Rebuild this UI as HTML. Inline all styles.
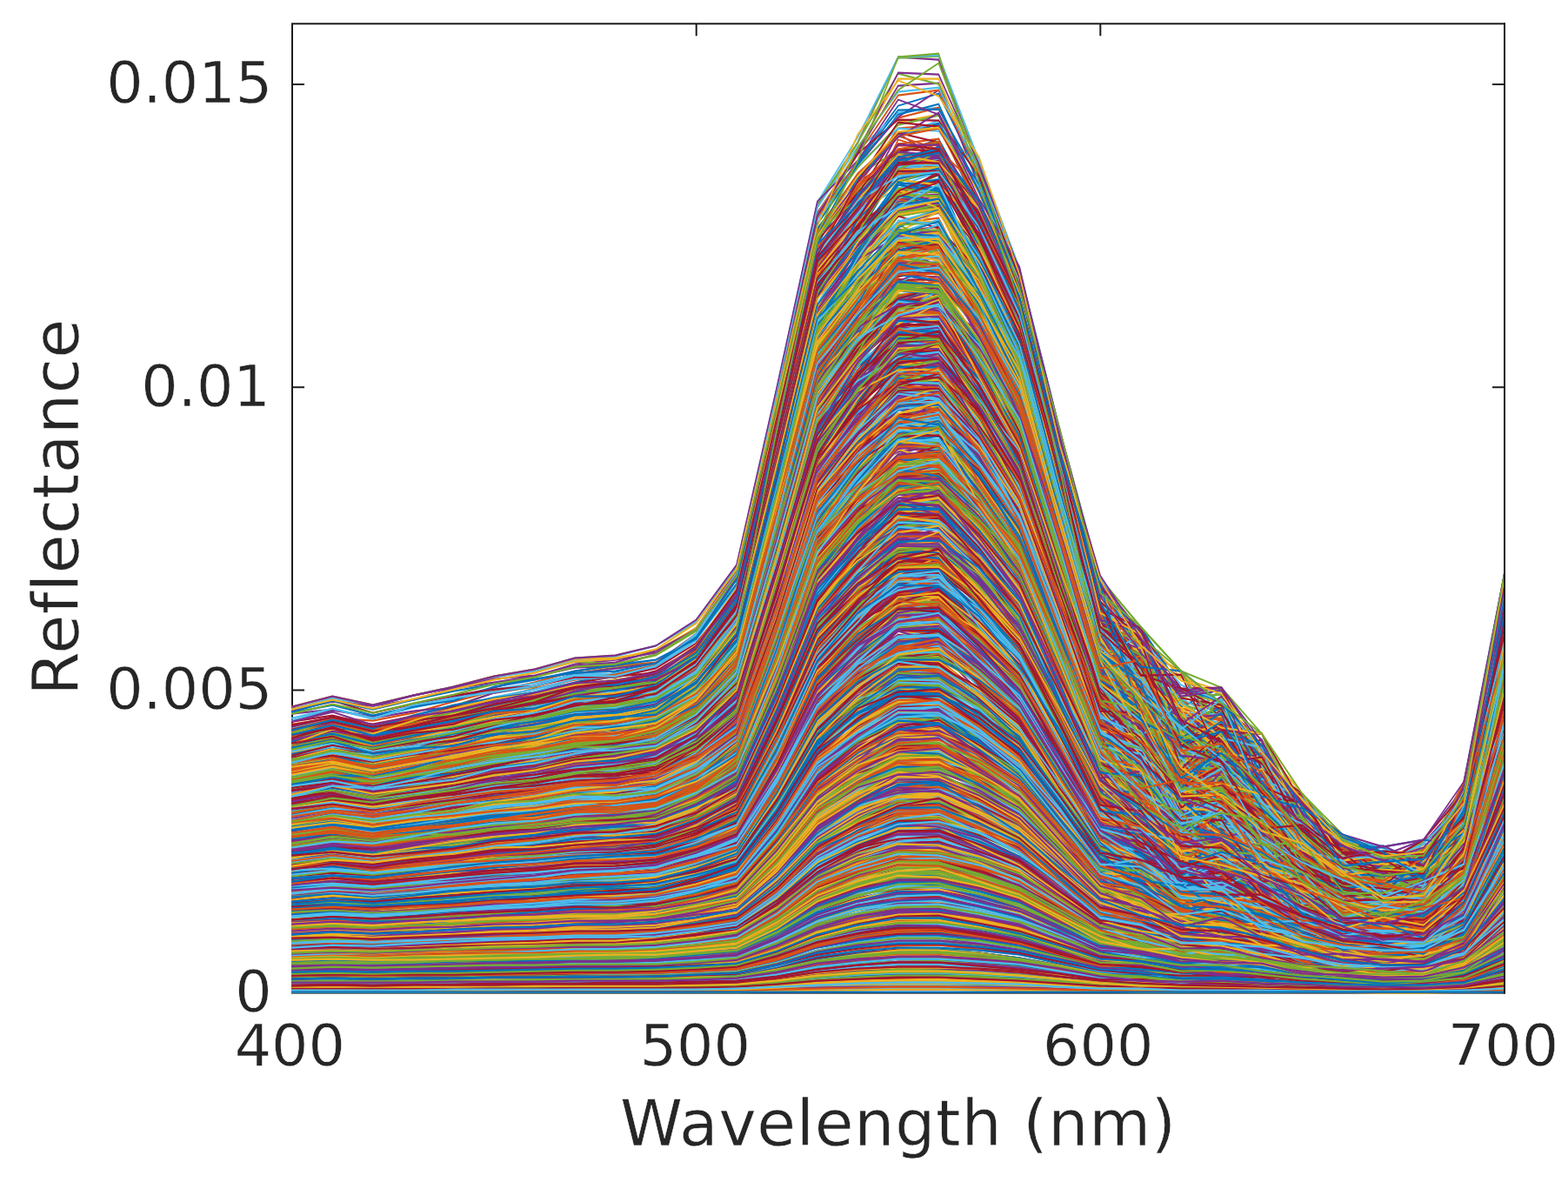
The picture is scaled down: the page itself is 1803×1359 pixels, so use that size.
<!DOCTYPE html>
<html lang="en"><head><meta charset="utf-8"><title>Reflectance spectra</title>
<style>html,body{margin:0;padding:0;background:#fff;overflow:hidden}svg{display:block}text{font-family:"DejaVu Sans","Liberation Sans",sans-serif;fill:#262626;stroke:#fff;stroke-width:.5px}.t{font-size:66.7px}.l{font-size:72.8px;letter-spacing:0.74px}#d path{fill:none;stroke-width:2.1;stroke-linejoin:miter;stroke-miterlimit:3;stroke-linecap:square}#d path:nth-child(7n+1){stroke:#0072BD}#d path:nth-child(7n+2){stroke:#D95319}#d path:nth-child(7n+3){stroke:#EDB120}#d path:nth-child(7n+4){stroke:#7E2F8E}#d path:nth-child(7n+5){stroke:#77AC30}#d path:nth-child(7n+6){stroke:#4DBEEE}#d path:nth-child(7n+7){stroke:#A2142F}#d path.p{stroke:#7E2F8E}#d path.g{stroke:#77AC30}#d path.o{stroke:#EDB120}#d path.b{stroke:#0072BD}</style></head><body>
<svg width="1803" height="1359" viewBox="0 0 1803 1359">
<rect width="1803" height="1359" fill="#fff"/>
<g fill="none" stroke="#1c1c1c" stroke-width="2">
<rect x="336.0" y="27.3" width="1394.0" height="1114.3"/>
<path d="M800.7 27.3v14M800.7 1141.6v-14M1265.3 27.3v14M1265.3 1141.6v-14M336.0 793.4h14M1730.0 793.4h-14M336.0 445.2h14M1730.0 445.2h-14M336.0 96.9h14M1730.0 96.9h-14"/>
</g>
<defs><filter id="bl" x="-2%" y="-2%" width="104%" height="104%"><feGaussianBlur stdDeviation="0.45"/></filter></defs>
<g filter="url(#bl)"><g id="d" transform="translate(335.8,1141.6) scale(0.749462,-1)">
<path d="M0 268l62 9 62-8 62 9 62 9 62 7 62 6 62 8 62 4 62 5 62 28 62 57 62 179 62 184 62 55 62 54 62-5 62-74 62-84 62-146 62-178 62-85 62-19 62-3 62-102 62-16 62-22 62-3 62-5 62 51 62 206"/>
<path d="M0 223l62 10 62-6 62 8 62 8 62 9 62 8 62 7 62 5 62 10 62 20 62 45 62 146 62 165 62 66 62 68 62 5 62-80 62-85 62-146 62-160 62-55 62 7 62-36 62-54 62-41 62-2 62-21 62 7 62 32 62 190"/>
<path d="M0 153l62 6 62-3 62 7 62 6 62 8 62 5 62 8 62 4 62 3 62 17 62 26 62 105 62 121 62 46 62 45 62 9 62-57 62-53 62-105 62-94 62-52 62-34 62-24 62-17 62-27 62-6 62-23 62 14 62 33 62 121"/>
<path d="M0 174l62 5 62-5 62 5 62 3 62 9 62 3 62 7 62 4 62 5 62 17 62 25 62 104 62 119 62 78 62 50 62 5 62-52 62-77 62-102 62-117 62-18 62-47 62 5 62-13 62-42 62-53 62 5 62 3 62 20 62 144"/>
<path d="M0 8l62 1 62-1 62 1 62 0 62 0 62 0 62 1 62 0 62 0 62 1 62 1 62 5 62 7 62 5 62 2 62 0 62-2 62-4 62-5 62-5 62-5 62 0 62-1 62 0 62-1 62-3 62 0 62-1 62 3 62 7"/>
<path d="M0 167l62 7 62-5 62 8 62 6 62 5 62 5 62 6 62 3 62 6 62 21 62 32 62 108 62 126 62 61 62 40 62 3 62-53 62-76 62-108 62-105 62-49 62-3 62-32 62-2 62-64 62 7 62-32 62 18 62 33 62 137"/>
<path d="M0 222l62 8 62-6 62 9 62 6 62 11 62 3 62 11 62 3 62 6 62 27 62 44 62 147 62 155 62 67 62 38 62 9 62-56 62-89 62-138 62-139 62-48 62-90 62 38 62-62 62-20 62-31 62-2 62-5 62 52 62 160"/>
<path d="M0 101l62 3 62-2 62 3 62 3 62 4 62 3 62 4 62 3 62 2 62 11 62 14 62 60 62 79 62 42 62 28 62 6 62-40 62-45 62-62 62-58 62-20 62-31 62 21 62-54 62-3 62-15 62 0 62-1 62 31 62 77"/>
<path d="M0 221l62 8 62-8 62 9 62 4 62 11 62 5 62 7 62 3 62 5 62 24 62 37 62 142 62 159 62 72 62 43 62 11 62-62 62-75 62-137 62-152 62-72 62-56 62-9 62-23 62-26 62-44 62 18 62 9 62 35 62 159"/>
<path d="M0 163l62 6 62-4 62 5 62 5 62 8 62 4 62 7 62 4 62 6 62 20 62 36 62 113 62 131 62 56 62 30 62 3 62-54 62-63 62-99 62-115 62-29 62-57 62 2 62-22 62-56 62-16 62 13 62-21 62 40 62 133"/>
<path d="M0 36l62 1 62-1 62 1 62 1 62 1 62 1 62 1 62 0 62 2 62 4 62 6 62 24 62 29 62 15 62 8 62 0 62-8 62-12 62-24 62-27 62-9 62-13 62 9 62-13 62-8 62-4 62 0 62-2 62 12 62 31"/>
<path d="M0 49l62 2 62-1 62 2 62 2 62 1 62 1 62 2 62 0 62 2 62 6 62 6 62 29 62 37 62 25 62 10 62 4 62-17 62-22 62-30 62-30 62-4 62-14 62 3 62-18 62-11 62-8 62 3 62-4 62 11 62 45"/>
<path d="M0 181l62 6 62-4 62 8 62 6 62 7 62 4 62 9 62 3 62 3 62 15 62 24 62 114 62 124 62 68 62 62 62-5 62-67 62-83 62-95 62-111 62-24 62-57 62-14 62 5 62-53 62-29 62 8 62 0 62 7 62 161"/>
<path d="M0 182l62 7 62-6 62 6 62 7 62 5 62 3 62 5 62 1 62 9 62 15 62 29 62 113 62 123 62 66 62 62 62-4 62-49 62-62 62-110 62-111 62-31 62-63 62 8 62-45 62-33 62-32 62-2 62-8 62 39 62 150"/>
<path d="M0 64l62 2 62-2 62 3 62 2 62 2 62 1 62 2 62 0 62 2 62 9 62 8 62 42 62 51 62 26 62 15 62 3 62-18 62-23 62-41 62-47 62-20 62-10 62-2 62-13 62-13 62-10 62 0 62-5 62 33 62 43"/>
<path d="M0 290l62 9 62-6 62 11 62 12 62 10 62 4 62 12 62 3 62 7 62 33 62 65 62 207 62 217 62 45 62 41 62-13 62-78 62-108 62-168 62-169 62-43 62-70 62-39 62-55 62-19 62-72 62 9 62 10 62 67 62 224"/>
<path d="M0 267l62 15 62-1 62 14 62 18 62 7 62 4 62 13 62-1 62 12 62 30 62 57 62 196 62 190 62 66 62 83 62-1 62-99 62-89 62-183 62-180 62-27 62-51 62-14 62-81 62-49 62-38 62-2 62 2 62 70 62 194"/>
<path d="M0 152l62 7 62-6 62 4 62 4 62 7 62 6 62 7 62 3 62 4 62 14 62 25 62 95 62 110 62 54 62 30 62 13 62-53 62-51 62-98 62-94 62-17 62-46 62-7 62-35 62-32 62-5 62-23 62-3 62 45 62 113"/>
<path d="M0 158l62 8 62-6 62 8 62 5 62 6 62 4 62 8 62 2 62 4 62 19 62 27 62 107 62 109 62 60 62 31 62 3 62-45 62-51 62-95 62-102 62-35 62-34 62 8 62-44 62-44 62-5 62-12 62-15 62 38 62 133"/>
<path d="M0 171l62 6 62-8 62 8 62 5 62 4 62 5 62 8 62 1 62 7 62 19 62 33 62 117 62 125 62 52 62 37 62 1 62-37 62-61 62-114 62-126 62-20 62-34 62-12 62-49 62-23 62-17 62-8 62 9 62 29 62 144"/>
<path d="M0 27l62 1 62-1 62 1 62 1 62 1 62 1 62 1 62 0 62 0 62 3 62 2 62 15 62 21 62 12 62 8 62-3 62-8 62-10 62-16 62-15 62-2 62-8 62-4 62-4 62-8 62 2 62-3 62 0 62 5 62 21"/>
<path d="M0 152l62 5 62-8 62 5 62 3 62 4 62 5 62 3 62 2 62 7 62 15 62 25 62 94 62 109 62 52 62 40 62 6 62-48 62-56 62-91 62-97 62-50 62-23 62 4 62-41 62-9 62-26 62-4 62 3 62 32 62 132"/>
<path d="M0 118l62 4 62-3 62 5 62 4 62 3 62 0 62 5 62-2 62 5 62 11 62 16 62 70 62 87 62 43 62 27 62-3 62-24 62-39 62-75 62-77 62-19 62-19 62-7 62-41 62-5 62-13 62-19 62 15 62 32 62 72"/>
<path d="M0 61l62 3 62-1 62 3 62 3 62 1 62 2 62 2 62 1 62 1 62 7 62 10 62 40 62 54 62 25 62 17 62-1 62-14 62-27 62-41 62-41 62-8 62-7 62-14 62-16 62-9 62-15 62-4 62-5 62 20 62 50"/>
<path d="M0 4l62 0 62 0 62 1 62 0 62 0 62 0 62 0 62 0 62 0 62 1 62 0 62 2 62 4 62 2 62 1 62 0 62-1 62-2 62-3 62-2 62-1 62-1 62 0 62-1 62-1 62 0 62-1 62 0 62 2 62 3"/>
<path d="M0 239l62 11 62-7 62 8 62 8 62 6 62 4 62 4 62 2 62 9 62 27 62 50 62 166 62 180 62 73 62 52 62 4 62-72 62-100 62-147 62-156 62 12 62-114 62 40 62-100 62-68 62 13 62-38 62 15 62 55 62 179"/>
<path d="M0 137l62 4 62-6 62 4 62 3 62 4 62 2 62 6 62-2 62 7 62 13 62 22 62 82 62 98 62 45 62 32 62 3 62-36 62-50 62-80 62-88 62-25 62-44 62-18 62-2 62-16 62-24 62 5 62-5 62 42 62 90"/>
<path d="M0 25l62 1 62-1 62 0 62 1 62 1 62 0 62 1 62-1 62 2 62 3 62 3 62 15 62 19 62 10 62 6 62 1 62-7 62-9 62-15 62-18 62-4 62-9 62 1 62-3 62-2 62-7 62 1 62-2 62 5 62 20"/>
<path d="M0 121l62 4 62-2 62 5 62 4 62 3 62 2 62 3 62 0 62 4 62 12 62 14 62 72 62 85 62 46 62 36 62-8 62-34 62-49 62-70 62-70 62-18 62-40 62 13 62-25 62-29 62-13 62-1 62 8 62 14 62 95"/>
<path d="M0 238l62 9 62-10 62 9 62 6 62 9 62 2 62 11 62 1 62 11 62 27 62 50 62 162 62 162 62 61 62 54 62-3 62-43 62-88 62-134 62-158 62-37 62-50 62 6 62-63 62-74 62-13 62-12 62-2 62 57 62 186"/>
<path d="M0 62l62 3 62-2 62 2 62 3 62 2 62 1 62 2 62 2 62 1 62 8 62 8 62 41 62 49 62 27 62 13 62 2 62-18 62-20 62-42 62-40 62-7 62-16 62-16 62-11 62-2 62-13 62-2 62-6 62 19 62 46"/>
<path d="M0 5l62 0 62 0 62 0 62 0 62 0 62 0 62 1 62 0 62 0 62 1 62 0 62 3 62 5 62 2 62 2 62 0 62-2 62-2 62-3 62-4 62 0 62-2 62-1 62 1 62-3 62 0 62 0 62 0 62 1 62 5"/>
<path d="M0 190l62 8 62-5 62 8 62 9 62 3 62 8 62 7 62 3 62 4 62 17 62 34 62 129 62 144 62 45 62 43 62 4 62-51 62-66 62-117 62-127 62-21 62-43 62-33 62-26 62-29 62-49 62 24 62-27 62 49 62 147"/>
<path d="M0 101l62 4 62-1 62 4 62 4 62 5 62 3 62 5 62 2 62 3 62 9 62 14 62 63 62 76 62 42 62 21 62 3 62-27 62-34 62-65 62-59 62-30 62 4 62-28 62-9 62-27 62-22 62-7 62 9 62 17 62 81"/>
<path d="M0 95l62 4 62-4 62 4 62 2 62 3 62 2 62 3 62 1 62 3 62 12 62 14 62 58 62 72 62 40 62 23 62 0 62-20 62-32 62-65 62-61 62-33 62-26 62 5 62-25 62-9 62-18 62-9 62 6 62 22 62 81"/>
<path d="M0 13l62 1 62-1 62 0 62 1 62 0 62 0 62 1 62 0 62 0 62 2 62 1 62 8 62 10 62 6 62 4 62 0 62-3 62-5 62-9 62-8 62-3 62-4 62 1 62-3 62 0 62-5 62 0 62 1 62 2 62 10"/>
<path d="M0 290l62 12 62-9 62 10 62 7 62 12 62 2 62 12 62 1 62 13 62 31 62 61 62 198 62 196 62 56 62 63 62-7 62-57 62-99 62-173 62-169 62-74 62-130 62 18 62-27 62-59 62-26 62-3 62-11 62 61 62 217"/>
<path d="M0 181l62 5 62-7 62 5 62 3 62 8 62 4 62 7 62 2 62 5 62 19 62 29 62 109 62 125 62 55 62 35 62 12 62-46 62-61 62-108 62-104 62-59 62-47 62-23 62 7 62-49 62-9 62-12 62 2 62 36 62 135"/>
<path d="M0 295l62 10 62-7 62 7 62 8 62 11 62 5 62 12 62 2 62 8 62 31 62 60 62 196 62 198 62 66 62 86 62-29 62-48 62-101 62-172 62-188 62-48 62-154 62 42 62-55 62-44 62-20 62-21 62 26 62 19 62 239"/>
<path d="M0 149l62 6 62-2 62 6 62 8 62 5 62 4 62 7 62 3 62 2 62 19 62 24 62 99 62 123 62 43 62 41 62 14 62-40 62-60 62-110 62-98 62-51 62-54 62 14 62-14 62-45 62-18 62 1 62-1 62 41 62 131"/>
<path d="M0 175l62 7 62-4 62 7 62 6 62 6 62 4 62 7 62 1 62 7 62 20 62 32 62 115 62 116 62 62 62 52 62-5 62-44 62-75 62-103 62-117 62-32 62-64 62-10 62-33 62-13 62-24 62-1 62-10 62 66 62 130"/>
<path d="M0 208l62 8 62-2 62 9 62 8 62 9 62 7 62 10 62 5 62 7 62 25 62 42 62 147 62 161 62 63 62 46 62-10 62-59 62-79 62-139 62-127 62-19 62-88 62 16 62-33 62-32 62-56 62-30 62 25 62 44 62 192"/>
<path d="M0 221l62 7 62-8 62 6 62 7 62 4 62 8 62 12 62 0 62 6 62 24 62 38 62 142 62 164 62 46 62 49 62 11 62-82 62-94 62-131 62-119 62-56 62-28 62-40 62-28 62-9 62-30 62-13 62-8 62 25 62 188"/>
<path d="M0 46l62 2 62-2 62 2 62 1 62 2 62 1 62 2 62 1 62 2 62 5 62 7 62 26 62 34 62 22 62 12 62 0 62-12 62-17 62-28 62-32 62-5 62-21 62 8 62-18 62-3 62-8 62-2 62-1 62 4 62 44"/>
<path d="M0 12l62 0 62-1 62 1 62 0 62 0 62 1 62 0 62 0 62 1 62 1 62 1 62 7 62 9 62 6 62 3 62 0 62-4 62-4 62-7 62-8 62-2 62-3 62-2 62 0 62-2 62-3 62 0 62 1 62 2 62 10"/>
<path d="M0 8l62 1 62-1 62 1 62 0 62 0 62 0 62 1 62 0 62 0 62 1 62 1 62 5 62 6 62 5 62 2 62 1 62-3 62-3 62-6 62-5 62-2 62-2 62 0 62-3 62 0 62-2 62 0 62-1 62 1 62 9"/>
<path d="M0 64l62 2 62-2 62 3 62 1 62 2 62 2 62 3 62 0 62 2 62 7 62 9 62 40 62 50 62 25 62 18 62-3 62-20 62-25 62-40 62-39 62 3 62-25 62-5 62-14 62-9 62-17 62 2 62-3 62 14 62 51"/>
<path d="M0 55l62 1 62-1 62 2 62 2 62 2 62 0 62 2 62 0 62 1 62 6 62 7 62 32 62 45 62 24 62 16 62 0 62-10 62-18 62-38 62-37 62-8 62-18 62 1 62-10 62-14 62-4 62-8 62-4 62 13 62 44"/>
<path d="M0 245l62 9 62-5 62 10 62 9 62 7 62 8 62 11 62 2 62 7 62 25 62 52 62 157 62 165 62 69 62 58 62-1 62-55 62-85 62-151 62-164 62-17 62-50 62-20 62-35 62-94 62-2 62-32 62 13 62 48 62 200"/>
<path d="M0 120l62 7 62-3 62 6 62 6 62 3 62 4 62 3 62 3 62 1 62 14 62 17 62 77 62 94 62 47 62 31 62 11 62-48 62-51 62-73 62-75 62-17 62-31 62-13 62-29 62-4 62-31 62-3 62-10 62 43 62 96"/>
<path d="M0 257l62 9 62-10 62 5 62 8 62 9 62 8 62 10 62 4 62 4 62 21 62 44 62 160 62 173 62 63 62 49 62-6 62-58 62-95 62-139 62-150 62-69 62-26 62 9 62-78 62-42 62-20 62-14 62-8 62 58 62 194"/>
<path d="M0 63l62 3 62-3 62 3 62 1 62 3 62 2 62 3 62 1 62 3 62 7 62 11 62 42 62 52 62 25 62 14 62-1 62-13 62-24 62-42 62-41 62-30 62-18 62 0 62-9 62-10 62-8 62 0 62-2 62 24 62 46"/>
<path d="M0 257l62 8 62-7 62 7 62 9 62 6 62 4 62 6 62 2 62 8 62 25 62 49 62 168 62 183 62 53 62 49 62-10 62-69 62-83 62-141 62-134 62-73 62-35 62-48 62 16 62-86 62-31 62 9 62-8 62 58 62 183"/>
<path d="M0 283l62 6 62-8 62 8 62 6 62 9 62 6 62 8 62 6 62 7 62 35 62 61 62 194 62 202 62 64 62 57 62 6 62-80 62-98 62-169 62-162 62-55 62-101 62-31 62-27 62 0 62-54 62-42 62 4 62 55 62 244"/>
<path d="M0 258l62 10 62-12 62 11 62 10 62 9 62 4 62 8 62 3 62 10 62 27 62 53 62 167 62 185 62 66 62 44 62 22 62-75 62-83 62-164 62-165 62-50 62-66 62 0 62-49 62-55 62-1 62-40 62-15 62 90 62 193"/>
<path d="M0 24l62 1 62 0 62 1 62 1 62 1 62 0 62 0 62 1 62 0 62 3 62 3 62 14 62 18 62 12 62 7 62 1 62-8 62-8 62-15 62-17 62-4 62-8 62-6 62 0 62-3 62-5 62 1 62 0 62 1 62 22"/>
<path d="M0 261l62 6 62-10 62 6 62 4 62 11 62 10 62 10 62 4 62 11 62 33 62 62 62 192 62 201 62 50 62 44 62 12 62-73 62-90 62-170 62-161 62-62 62-51 62-55 62 23 62-91 62-36 62 6 62-14 62 46 62 209"/>
<path d="M0 48l62 2 62-2 62 1 62 1 62 1 62 0 62 1 62-1 62 2 62 4 62 5 62 27 62 35 62 20 62 14 62 2 62-13 62-17 62-30 62-29 62-8 62-14 62-6 62 4 62-18 62-6 62 0 62 6 62 5 62 36"/>
<path d="M0 32l62 1 62-1 62 1 62 2 62 1 62 0 62 2 62 0 62 1 62 3 62 3 62 19 62 24 62 14 62 10 62 0 62-10 62-13 62-20 62-20 62-11 62-8 62 1 62-5 62-7 62 0 62-5 62 0 62 10 62 25"/>
<path d="M0 16l62 1 62-1 62 1 62 0 62 1 62 0 62 1 62 1 62 0 62 2 62 1 62 10 62 13 62 8 62 6 62 1 62-6 62-6 62-11 62-11 62-3 62-5 62-2 62-2 62-3 62-3 62 0 62 0 62 4 62 14"/>
<path d="M0 127l62 4 62-5 62 3 62 5 62 3 62 1 62 5 62 0 62 6 62 17 62 23 62 83 62 101 62 35 62 18 62 8 62-32 62-37 62-78 62-91 62-22 62-23 62-1 62-30 62-30 62-21 62-2 62 7 62 16 62 103"/>
<path d="M0 79l62 3 62-2 62 4 62 3 62 4 62 3 62 4 62 1 62 4 62 8 62 7 62 51 62 62 62 38 62 31 62 3 62-36 62-37 62-49 62-48 62-5 62-28 62 3 62-37 62 2 62-24 62-4 62 1 62 20 62 73"/>
<path d="M0 40l62 2 62-1 62 2 62 1 62 1 62 1 62 3 62 0 62 2 62 5 62 5 62 25 62 34 62 19 62 15 62 4 62-16 62-17 62-28 62-28 62-6 62-17 62 0 62-10 62-2 62-13 62 4 62 0 62 10 62 36"/>
<path d="M0 186l62 6 62-7 62 6 62 5 62 6 62 7 62 8 62 1 62 7 62 21 62 35 62 119 62 128 62 51 62 54 62-1 62-44 62-62 62-112 62-116 62-57 62-26 62-20 62-27 62-29 62-31 62-20 62 29 62 2 62 172"/>
<path d="M0 260l62 8 62-11 62 11 62 3 62 11 62 7 62 12 62 1 62 9 62 23 62 51 62 173 62 186 62 73 62 58 62 6 62-67 62-96 62-151 62-157 62-84 62-57 62-28 62-48 62-39 62-10 62-19 62 4 62 45 62 213"/>
<path d="M0 5l62 0 62 0 62 0 62 0 62 0 62 0 62 0 62 0 62 0 62 1 62 0 62 3 62 4 62 2 62 1 62 1 62-2 62-1 62-3 62-4 62 0 62-2 62 0 62-1 62-1 62 0 62-1 62 0 62 2 62 3"/>
<path d="M0 111l62 4 62-3 62 4 62 3 62 3 62 0 62 4 62-1 62 6 62 15 62 22 62 70 62 86 62 46 62 29 62 7 62-25 62-35 62-83 62-76 62-31 62-27 62-8 62-14 62-24 62-15 62-7 62-2 62 29 62 88"/>
<path d="M0 124l62 6 62-2 62 6 62 6 62 3 62 3 62 4 62 0 62 4 62 17 62 22 62 84 62 94 62 47 62 32 62-6 62-29 62-39 62-82 62-90 62-46 62-32 62 5 62-18 62-24 62-9 62-10 62-17 62 39 62 107"/>
<path d="M0 263l62 3 62-6 62 9 62 6 62 10 62 0 62 11 62 0 62 10 62 30 62 51 62 170 62 171 62 67 62 73 62 6 62-95 62-96 62-153 62-148 62-49 62-78 62-2 62-26 62-27 62-90 62 26 62 4 62 55 62 215"/>
<path d="M0 79l62 5 62-2 62 3 62 4 62 3 62 2 62 3 62 0 62 4 62 10 62 14 62 51 62 69 62 28 62 18 62 2 62-28 62-32 62-55 62-51 62-9 62-22 62 3 62-23 62-16 62-12 62-1 62-2 62 21 62 66"/>
<path d="M0 295l62 8 62-10 62 8 62 6 62 8 62 6 62 7 62-1 62 12 62 29 62 62 62 186 62 187 62 70 62 43 62 10 62-89 62-95 62-161 62-176 62-64 62-48 62-4 62-55 62-46 62-48 62-29 62 21 62 78 62 198"/>
<path d="M0 6l62 0 62 0 62 0 62 0 62 0 62 0 62 0 62 1 62 0 62 0 62 1 62 3 62 5 62 2 62 2 62 0 62-2 62-2 62-4 62-3 62-2 62-2 62 1 62-2 62 0 62-1 62-1 62 1 62 1 62 5"/>
<path d="M0 61l62 2 62-1 62 3 62 2 62 3 62 1 62 3 62 2 62 2 62 6 62 7 62 40 62 53 62 26 62 17 62 2 62-19 62-24 62-40 62-42 62-2 62-32 62 4 62-13 62-10 62-14 62 1 62-3 62 14 62 57"/>
<path d="M0 290l62 9 62-6 62 12 62 10 62 13 62 8 62 12 62 3 62 4 62 22 62 49 62 186 62 199 62 59 62 79 62 8 62-94 62-103 62-160 62-179 62-44 62-118 62 5 62-40 62-15 62-74 62 1 62 37 62 36 62 224"/>
<path d="M0 72l62 3 62-1 62 2 62 3 62 3 62 2 62 1 62 2 62 2 62 7 62 11 62 46 62 60 62 27 62 22 62-4 62-18 62-24 62-52 62-52 62-11 62-19 62 5 62-6 62-23 62-15 62 0 62-4 62 4 62 74"/>
<path d="M0 159l62 7 62-6 62 7 62 5 62 5 62 4 62 6 62 2 62 6 62 15 62 28 62 104 62 120 62 54 62 44 62 7 62-48 62-52 62-94 62-114 62-47 62-40 62 1 62-52 62 4 62-45 62 6 62 2 62 39 62 116"/>
<path d="M0 13l62 0 62 0 62 0 62 1 62 0 62 0 62 1 62 0 62 0 62 1 62 2 62 7 62 11 62 6 62 3 62 0 62-4 62-5 62-8 62-8 62-3 62-3 62 0 62-3 62-1 62-3 62-1 62 1 62 3 62 11"/>
<path d="M0 161l62 5 62-7 62 7 62 4 62 8 62 2 62 8 62 1 62 5 62 16 62 26 62 104 62 123 62 54 62 26 62 9 62-48 62-56 62-110 62-98 62-28 62-33 62-6 62-43 62 4 62-47 62 0 62-4 62 28 62 137"/>
<path d="M0 258l62 13 62-7 62 11 62 12 62 15 62 9 62 14 62 8 62 10 62 23 62 45 62 179 62 190 62 76 62 61 62-12 62-80 62-106 62-154 62-167 62-39 62-76 62-18 62-57 62-8 62-62 62-8 62-1 62 54 62 238"/>
<path d="M0 227l62 7 62-6 62 7 62 7 62 4 62 4 62 6 62-4 62 10 62 18 62 37 62 132 62 157 62 70 62 45 62 7 62-64 62-70 62-136 62-137 62-36 62-68 62-14 62-31 62-53 62 7 62-26 62-4 62 33 62 177"/>
<path d="M0 266l62 7 62-8 62 9 62 8 62 7 62 7 62 11 62-2 62 9 62 22 62 46 62 175 62 185 62 73 62 53 62 15 62-90 62-81 62-164 62-157 62-81 62-10 62-42 62-36 62-49 62-26 62-12 62-12 62 66 62 210"/>
<path d="M0 115l62 2 62-3 62 3 62 3 62 4 62 4 62 3 62 3 62 5 62 12 62 17 62 70 62 86 62 44 62 30 62 10 62-44 62-44 62-74 62-66 62-24 62-17 62-3 62-17 62-40 62-26 62 10 62 0 62 25 62 90"/>
<path d="M0 118l62 3 62-5 62 2 62 2 62 7 62 3 62 6 62 3 62 3 62 10 62 15 62 68 62 86 62 44 62 36 62-4 62-29 62-43 62-73 62-68 62-19 62-45 62-15 62 3 62-38 62-7 62-5 62 8 62 7 62 97"/>
<path d="M0 34l62 1 62-1 62 1 62 2 62 0 62 1 62 1 62 0 62 1 62 4 62 4 62 21 62 26 62 14 62 10 62 0 62-11 62-15 62-20 62-19 62 0 62-16 62 5 62-7 62-9 62-5 62-4 62 0 62 7 62 31"/>
<path d="M0 92l62 4 62-4 62 3 62 3 62 3 62 2 62 3 62 2 62 2 62 11 62 13 62 56 62 66 62 35 62 27 62-1 62-38 62-33 62-58 62-54 62-23 62-22 62-10 62 1 62-18 62-14 62-2 62 0 62 23 62 72"/>
<path d="M0 176l62 7 62-5 62 8 62 6 62 8 62 6 62 7 62 4 62 6 62 21 62 34 62 119 62 136 62 55 62 43 62-15 62-22 62-57 62-122 62-129 62-45 62-34 62 5 62-43 62-54 62-7 62-3 62-22 62 62 62 130"/>
<path d="M0 120l62 4 62-6 62 2 62 2 62 5 62 3 62 5 62 4 62 2 62 13 62 19 62 77 62 92 62 43 62 26 62 10 62-42 62-41 62-72 62-81 62-9 62-43 62-16 62-19 62-11 62-24 62-3 62-1 62 16 62 102"/>
<path d="M0 107l62 4 62-3 62 3 62 5 62 3 62 2 62 5 62 1 62 2 62 9 62 12 62 68 62 81 62 46 62 26 62 4 62-36 62-37 62-71 62-63 62-24 62-27 62 15 62-42 62-12 62-24 62 5 62 2 62 29 62 81"/>
<path d="M0 214l62 9 62-4 62 9 62 9 62 8 62 7 62 11 62 2 62 5 62 25 62 43 62 144 62 149 62 58 62 39 62 6 62-72 62-87 62-121 62-135 62-9 62-59 62-1 62-21 62-81 62-22 62-24 62 25 62 17 62 186"/>
<path d="M0 27l62 1 62-1 62 1 62 1 62 1 62 1 62 0 62 1 62 1 62 3 62 4 62 17 62 22 62 12 62 8 62 1 62-9 62-10 62-18 62-17 62-4 62-14 62 2 62-4 62-5 62-6 62-1 62 2 62 5 62 22"/>
<path d="M0 226l62 5 62-6 62 5 62 7 62 7 62 7 62 6 62 3 62 7 62 21 62 37 62 139 62 159 62 66 62 59 62-1 62-62 62-81 62-139 62-138 62-23 62-24 62-4 62-78 62-72 62-13 62 12 62-7 62 60 62 164"/>
<path d="M0 192l62 8 62-4 62 7 62 8 62 5 62 7 62 7 62 1 62 4 62 22 62 35 62 121 62 135 62 55 62 45 62 2 62-46 62-55 62-129 62-122 62-44 62-44 62-2 62-41 62-41 62-13 62-4 62-13 62 39 62 155"/>
<path d="M0 43l62 2 62-1 62 2 62 1 62 2 62 1 62 3 62 0 62 2 62 4 62 4 62 27 62 34 62 20 62 16 62 0 62-17 62-19 62-26 62-30 62 0 62-10 62-13 62-1 62-8 62-12 62-1 62-1 62 12 62 38"/>
<path d="M0 29l62 1 62-1 62 1 62 1 62 1 62 1 62 2 62 0 62 1 62 4 62 4 62 18 62 24 62 13 62 10 62-2 62-6 62-12 62-21 62-20 62-5 62-8 62-10 62 2 62-4 62-5 62-5 62 2 62 4 62 30"/>
<path d="M0 22l62 1 62 0 62 0 62 1 62 1 62 0 62 1 62 1 62 0 62 3 62 3 62 14 62 18 62 11 62 7 62-1 62-6 62-9 62-16 62-15 62-4 62-6 62-1 62-3 62-4 62-6 62-1 62 1 62 6 62 18"/>
<path d="M0 82l62 2 62-3 62 2 62 1 62 3 62 1 62 1 62 0 62 2 62 8 62 10 62 46 62 60 62 31 62 20 62 1 62-19 62-28 62-51 62-44 62-17 62-13 62-11 62-10 62-18 62-17 62 0 62 4 62 13 62 63"/>
<path d="M0 128l62 3 62-7 62 4 62 3 62 6 62 5 62 6 62 3 62 3 62 13 62 20 62 79 62 93 62 40 62 28 62-4 62-26 62-45 62-77 62-82 62-22 62-67 62 57 62-40 62-28 62-14 62-9 62-16 62 41 62 89"/>
<path d="M0 132l62 5 62-4 62 5 62 5 62 3 62-1 62 5 62-2 62 7 62 14 62 21 62 80 62 98 62 49 62 35 62-4 62-33 62-43 62-85 62-85 62-6 62-50 62-12 62-24 62-2 62-38 62 6 62-9 62 28 62 110"/>
<path d="M0 26l62 1 62-1 62 1 62 1 62 1 62 1 62 1 62 0 62 1 62 2 62 2 62 15 62 20 62 12 62 8 62 2 62-10 62-10 62-17 62-16 62-1 62-11 62-5 62-3 62-4 62-2 62 2 62-3 62 7 62 22"/>
<path d="M0 292l62 12 62-9 62 13 62 8 62 12 62 6 62 14 62 7 62 2 62 27 62 58 62 198 62 213 62 48 62 35 62 10 62-60 62-94 62-183 62-180 62-63 62-73 62-19 62-23 62-99 62-8 62-9 62-9 62 55 62 238"/>
<path d="M0 66l62 1 62-2 62 2 62 2 62 3 62 1 62 3 62 1 62 2 62 8 62 10 62 41 62 51 62 32 62 18 62 1 62-20 62-26 62-41 62-43 62-15 62-26 62 10 62-20 62-20 62-4 62 0 62-1 62 12 62 61"/>
<path d="M0 220l62 7 62-7 62 5 62 7 62 8 62 7 62 9 62 2 62 8 62 20 62 35 62 135 62 153 62 61 62 55 62 5 62-59 62-80 62-131 62-146 62-12 62-90 62 33 62-63 62-26 62-43 62-4 62 15 62 40 62 171"/>
<path d="M0 304l62 8 62-12 62 7 62 7 62 13 62 4 62 12 62 0 62 7 62 35 62 61 62 200 62 195 62 61 62 43 62 2 62-86 62-100 62-180 62-163 62-26 62-97 62 35 62-79 62-75 62-21 62-29 62 24 62 52 62 222"/>
<path d="M0 207l62 7 62-9 62 8 62 7 62 7 62 5 62 11 62 3 62 9 62 29 62 45 62 153 62 152 62 63 62 24 62 9 62-59 62-79 62-135 62-137 62-70 62-31 62-6 62-25 62-42 62-34 62-1 62 17 62 33 62 168"/>
<path d="M0 218l62 6 62-6 62 6 62 6 62 9 62 5 62 7 62 2 62 6 62 23 62 39 62 146 62 158 62 65 62 35 62 24 62-59 62-79 62-136 62-130 62-54 62-81 62 22 62-49 62-61 62 9 62-23 62 12 62 13 62 206"/>
<path d="M0 70l62 4 62-1 62 3 62 3 62 2 62 2 62 3 62 0 62 1 62 7 62 9 62 43 62 54 62 29 62 17 62 2 62-20 62-27 62-45 62-47 62-13 62-21 62-6 62-11 62-9 62-11 62 0 62-1 62 15 62 57"/>
<path d="M0 60l62 3 62-2 62 2 62 2 62 2 62 1 62 3 62 1 62 1 62 6 62 8 62 39 62 49 62 27 62 20 62 0 62-18 62-23 62-42 62-40 62-21 62-11 62 6 62-9 62-18 62-15 62-6 62 6 62 18 62 48"/>
<path d="M0 34l62 1 62-1 62 1 62 1 62 2 62 1 62 1 62 1 62 1 62 4 62 4 62 20 62 28 62 15 62 12 62-2 62-9 62-13 62-22 62-23 62-7 62-14 62 0 62 0 62-10 62-4 62 0 62-4 62 14 62 25"/>
<path d="M0 17l62 0 62 0 62 1 62 0 62 1 62 0 62 1 62 0 62 1 62 2 62 1 62 11 62 13 62 9 62 3 62 1 62-6 62-6 62-10 62-11 62-4 62-6 62-1 62-2 62-3 62-1 62-2 62 1 62 5 62 13"/>
<path d="M0 28l62 2 62-1 62 1 62 1 62 1 62 1 62 1 62-1 62 1 62 5 62 4 62 17 62 24 62 12 62 7 62 1 62-7 62-10 62-19 62-21 62-8 62-5 62-2 62-11 62-2 62-1 62-3 62-1 62 8 62 25"/>
<path d="M0 175l62 7 62-3 62 8 62 5 62 8 62 6 62 8 62 4 62 7 62 20 62 33 62 118 62 135 62 60 62 46 62-3 62-50 62-66 62-115 62-119 62-9 62-82 62 24 62-61 62-2 62-59 62-8 62 13 62 53 62 146"/>
<path d="M0 273l62 8 62-11 62 10 62 7 62 6 62 6 62 10 62 2 62 8 62 30 62 53 62 178 62 168 62 56 62 45 62 10 62-89 62-82 62-159 62-174 62-31 62-72 62-25 62-17 62 0 62-77 62-4 62 1 62 30 62 198"/>
<path d="M0 38l62 1 62-1 62 0 62 1 62 2 62 1 62 2 62 0 62 2 62 4 62 5 62 23 62 32 62 13 62 12 62 0 62-11 62-13 62-26 62-27 62-3 62-16 62-2 62-6 62-8 62 3 62-4 62-2 62 11 62 32"/>
<path d="M0 213l62 8 62-6 62 8 62 9 62 6 62 8 62 12 62-1 62 6 62 26 62 37 62 142 62 143 62 62 62 56 62-5 62-53 62-87 62-132 62-140 62-6 62-63 62 28 62-78 62-63 62-15 62-11 62-1 62 61 62 143"/>
<path d="M0 57l62 2 62-1 62 2 62 1 62 3 62 1 62 2 62 1 62 2 62 5 62 8 62 33 62 44 62 24 62 16 62-1 62-14 62-22 62-36 62-38 62-16 62-8 62-4 62-10 62-12 62-8 62 3 62-6 62 15 62 45"/>
<path d="M0 81l62 3 62-2 62 3 62 5 62 2 62 1 62 3 62 0 62 4 62 9 62 11 62 52 62 65 62 32 62 22 62 7 62-25 62-32 62-57 62-55 62-13 62-23 62 3 62-19 62-21 62-9 62-2 62-2 62 14 62 73"/>
<path d="M0 146l62 4 62-3 62 4 62 5 62 7 62 2 62 7 62 3 62 2 62 19 62 25 62 98 62 111 62 51 62 36 62-2 62-34 62-58 62-97 62-99 62-36 62-25 62 5 62-45 62-11 62-29 62-10 62-4 62 30 62 120"/>
<path d="M0 233l62 6 62-8 62 6 62 4 62 9 62 6 62 8 62 3 62 8 62 29 62 51 62 150 62 166 62 63 62 55 62-8 62-52 62-73 62-141 62-145 62-33 62-51 62-37 62-28 62-49 62-45 62-27 62 23 62 37 62 199"/>
<path d="M0 143l62 4 62-3 62 6 62 7 62 3 62 2 62 4 62 0 62 3 62 13 62 21 62 88 62 100 62 54 62 27 62-1 62-44 62-53 62-81 62-90 62-33 62-32 62 29 62-46 62-37 62 0 62-8 62 4 62 24 62 115"/>
<path d="M0 236l62 8 62-5 62 5 62 9 62 9 62 7 62 12 62 5 62 1 62 28 62 48 62 167 62 170 62 54 62 31 62-1 62-48 62-75 62-149 62-161 62-16 62-66 62-23 62-42 62-47 62-50 62 12 62 5 62 37 62 198"/>
<path d="M0 2l62 0 62 0 62 0 62 0 62 0 62 0 62 1 62 0 62 0 62 0 62 0 62 1 62 2 62 1 62 1 62 0 62-1 62 0 62-2 62-1 62-1 62-1 62 0 62 0 62-1 62 0 62 0 62 0 62 1 62 2"/>
<path d="M0 40l62 1 62 0 62 2 62 1 62 2 62 1 62 1 62 0 62 1 62 5 62 4 62 24 62 32 62 19 62 15 62-1 62-11 62-17 62-28 62-26 62 0 62-19 62-1 62-8 62-5 62-9 62 0 62-2 62 13 62 32"/>
<path d="M0 44l62 1 62-1 62 1 62 1 62 2 62 2 62 1 62 1 62 1 62 5 62 6 62 27 62 36 62 19 62 10 62 1 62-16 62-15 62-29 62-29 62-8 62-15 62 2 62-5 62-13 62-3 62-5 62 0 62 18 62 28"/>
<path d="M0 297l62 10 62-12 62 7 62 6 62 8 62 5 62 8 62 0 62 6 62 27 62 48 62 180 62 190 62 79 62 62 62 19 62-95 62-96 62-156 62-177 62-3 62-111 62 49 62-53 62-126 62-15 62-35 62 33 62 31 62 228"/>
<path d="M0 150l62 5 62-4 62 3 62 4 62 6 62 4 62 5 62 4 62 6 62 17 62 25 62 99 62 107 62 49 62 41 62-6 62-46 62-56 62-81 62-86 62-13 62-35 62-6 62-58 62-10 62-39 62 1 62-7 62 39 62 111"/>
<path d="M0 165l62 6 62-7 62 5 62 4 62 6 62 4 62 6 62 2 62 5 62 17 62 25 62 101 62 116 62 59 62 50 62 8 62-40 62-61 62-112 62-108 62-23 62-69 62-5 62-17 62-24 62-27 62-7 62 3 62 46 62 115"/>
<path d="M0 130l62 3 62-5 62 4 62 3 62 7 62 3 62 6 62 2 62 4 62 13 62 17 62 81 62 98 62 50 62 30 62-1 62-30 62-45 62-86 62-89 62-27 62-18 62 2 62-50 62-4 62-29 62-12 62 10 62 28 62 102"/>
<path d="M0 154l62 6 62-2 62 8 62 7 62 4 62 2 62 5 62 0 62 5 62 21 62 28 62 104 62 119 62 55 62 29 62 0 62-33 62-59 62-94 62-106 62-56 62-16 62-7 62-35 62-32 62-15 62-24 62 10 62 44 62 116"/>
<path d="M0 163l62 6 62-6 62 6 62 5 62 7 62 2 62 8 62 2 62 5 62 17 62 22 62 98 62 109 62 55 62 50 62-5 62-47 62-58 62-101 62-98 62-29 62-4 62-38 62-16 62-29 62-32 62-9 62 13 62 27 62 138"/>
<path d="M0 1l62 0 62 0 62 0 62 0 62 0 62 0 62 0 62 0 62 0 62 1 62 0 62 0 62 1 62 1 62 0 62 0 62 0 62-1 62 0 62-1 62 0 62 0 62-1 62 0 62 0 62 0 62 0 62 0 62 0 62 1"/>
<path d="M0 4l62 0 62 0 62 0 62 0 62 1 62 0 62 0 62 0 62 0 62 0 62 1 62 3 62 3 62 2 62 1 62 0 62-1 62-2 62-2 62-3 62-1 62-1 62-1 62 0 62-1 62-1 62 0 62 0 62 2 62 3"/>
<path d="M0 90l62 3 62-2 62 3 62 3 62 3 62 2 62 3 62 2 62 2 62 10 62 11 62 53 62 65 62 44 62 33 62-1 62-31 62-36 62-56 62-56 62-11 62-26 62-1 62-34 62-12 62-8 62-5 62 0 62 17 62 86"/>
<path d="M0 167l62 4 62-6 62 4 62 2 62 5 62 1 62 3 62 1 62 6 62 15 62 27 62 98 62 113 62 55 62 47 62-9 62-48 62-61 62-84 62-105 62-19 62-44 62 0 62-25 62-44 62-27 62 18 62-9 62 42 62 113"/>
<path d="M0 100l62 3 62-3 62 2 62 3 62 3 62 2 62 3 62 2 62 2 62 11 62 17 62 63 62 78 62 33 62 22 62 1 62-27 62-30 62-63 62-61 62-31 62-11 62-10 62-18 62-19 62-24 62-2 62 5 62 19 62 75"/>
<path d="M0 24l62 1 62-1 62 1 62 1 62 1 62 0 62 1 62 0 62 1 62 3 62 2 62 14 62 18 62 12 62 9 62 0 62-7 62-9 62-16 62-16 62-3 62-11 62 1 62-9 62 1 62-4 62-1 62 0 62 3 62 22"/>
<path d="M0 150l62 6 62-5 62 6 62 4 62 6 62 4 62 8 62 3 62 6 62 18 62 27 62 103 62 120 62 46 62 39 62 3 62-50 62-53 62-101 62-103 62-37 62-23 62 4 62-44 62-9 62-34 62-15 62 3 62 43 62 130"/>
<path d="M0 66l62 3 62-3 62 2 62 2 62 3 62 3 62 3 62 1 62 2 62 7 62 9 62 41 62 52 62 28 62 18 62 2 62-20 62-24 62-40 62-46 62-20 62-16 62 4 62-21 62-8 62-17 62 4 62 3 62 10 62 57"/>
<path d="M0 211l62 6 62-7 62 6 62 5 62 5 62 5 62 7 62 0 62 8 62 24 62 40 62 134 62 149 62 58 62 40 62-5 62-42 62-74 62-117 62-132 62-5 62-45 62-39 62-32 62-57 62-17 62-25 62-2 62 38 62 170"/>
<path d="M0 77l62 3 62-2 62 4 62 3 62 2 62 1 62 3 62 1 62 3 62 8 62 11 62 49 62 61 62 33 62 18 62 4 62-26 62-28 62-52 62-48 62-6 62-31 62-9 62-15 62-9 62-12 62-5 62 1 62 18 62 61"/>
<path d="M0 100l62 4 62-3 62 5 62 5 62 2 62 2 62 2 62 1 62 4 62 11 62 17 62 64 62 77 62 40 62 27 62-1 62-22 62-36 62-68 62-72 62-11 62-34 62-11 62-7 62-17 62-26 62 2 62-3 62 29 62 85"/>
<path d="M0 104l62 4 62-3 62 3 62 2 62 4 62 3 62 3 62 0 62 4 62 12 62 19 62 65 62 82 62 36 62 22 62 0 62-29 62-38 62-71 62-62 62-21 62-35 62 13 62-38 62-17 62-1 62-12 62 2 62 30 62 77"/>
<path d="M0 15l62 0 62 0 62 1 62 0 62 1 62 0 62 1 62 0 62 0 62 2 62 1 62 8 62 11 62 9 62 5 62 1 62-5 62-5 62-11 62-10 62-2 62-5 62-4 62 3 62-6 62-1 62-1 62 0 62 4 62 12"/>
<path d="M0 123l62 4 62-2 62 3 62 4 62 4 62 4 62 4 62 2 62 4 62 13 62 14 62 74 62 91 62 44 62 37 62-3 62-43 62-44 62-76 62-78 62-16 62-35 62 0 62-31 62-21 62-7 62-10 62-2 62 23 62 108"/>
<path d="M0 47l62 1 62-1 62 2 62 2 62 2 62 1 62 1 62 0 62 2 62 5 62 5 62 28 62 37 62 21 62 14 62 5 62-14 62-18 62-31 62-33 62-11 62-12 62 4 62-15 62-4 62-9 62-5 62 5 62 11 62 35"/>
<path d="M0 81l62 2 62-2 62 3 62 3 62 2 62 1 62 2 62 0 62 2 62 9 62 13 62 48 62 60 62 31 62 17 62 1 62-15 62-26 62-51 62-58 62-8 62-11 62-16 62-3 62-30 62-12 62 1 62 0 62 17 62 64"/>
<path d="M0 290l62 8 62-4 62 12 62 13 62 10 62 5 62 10 62 0 62 4 62 33 62 62 62 206 62 204 62 56 62 43 62 1 62-62 62-107 62-173 62-177 62-71 62-110 62 77 62-97 62-38 62-74 62 26 62-11 62 82 62 212"/>
<path d="M0 260l62 9 62-13 62 10 62 10 62 7 62 4 62 12 62 0 62 11 62 27 62 50 62 161 62 167 62 57 62 52 62 7 62-33 62-79 62-154 62-158 62-52 62-80 62-37 62-3 62-89 62-19 62-15 62 19 62 52 62 201"/>
<path d="M0 87l62 3 62-3 62 4 62 2 62 2 62 1 62 3 62 0 62 4 62 11 62 14 62 56 62 68 62 35 62 22 62 0 62-21 62-34 62-54 62-61 62-25 62-24 62-8 62 4 62-22 62-8 62-8 62-8 62 23 62 77"/>
<path d="M0 201l62 6 62-8 62 7 62 6 62 7 62 5 62 11 62 1 62 5 62 21 62 35 62 129 62 148 62 71 62 37 62 4 62-51 62-70 62-129 62-135 62-25 62-107 62 55 62-58 62-7 62-68 62 13 62-10 62 41 62 172"/>
<path d="M0 268l62 12 62-8 62 13 62 12 62 6 62 9 62 7 62 0 62 6 62 28 62 48 62 175 62 181 62 67 62 54 62-4 62-78 62-80 62-174 62-149 62-54 62-71 62-4 62-60 62-4 62-60 62 6 62-3 62 64 62 203"/>
<path d="M0 45l62 2 62-1 62 2 62 2 62 2 62 0 62 3 62 0 62 2 62 5 62 7 62 30 62 38 62 20 62 11 62 1 62-12 62-15 62-31 62-34 62-12 62-2 62-10 62-8 62-13 62-3 62-3 62-1 62 14 62 37"/>
<path d="M0 28l62 2 62-1 62 1 62 1 62 1 62 1 62 1 62 1 62 0 62 2 62 2 62 15 62 21 62 12 62 9 62-2 62-7 62-11 62-16 62-19 62 0 62-4 62-8 62-2 62-8 62-3 62-1 62-2 62 4 62 22"/>
<path d="M0 70l62 3 62-3 62 2 62 1 62 2 62 2 62 2 62 0 62 2 62 7 62 8 62 38 62 45 62 31 62 18 62 2 62-22 62-27 62-40 62-41 62-8 62-28 62-4 62-7 62-16 62-4 62-1 62 1 62 12 62 53"/>
<path d="M0 238l62 10 62-9 62 6 62 6 62 9 62 5 62 9 62 1 62 4 62 24 62 42 62 160 62 164 62 57 62 43 62 7 62-79 62-90 62-128 62-150 62-52 62-76 62 25 62-52 62-21 62-43 62 21 62-11 62 49 62 176"/>
<path d="M0 165l62 5 62-7 62 7 62 4 62 6 62 4 62 6 62 1 62 3 62 12 62 21 62 94 62 108 62 60 62 42 62 3 62-49 62-59 62-94 62-94 62-1 62-76 62 7 62-6 62-45 62-37 62-7 62 12 62 33 62 128"/>
<path d="M0 118l62 4 62-2 62 5 62 4 62 4 62 3 62 4 62 0 62 6 62 13 62 19 62 79 62 96 62 45 62 25 62 9 62-38 62-50 62-73 62-79 62-21 62-35 62 30 62-38 62-41 62-15 62-6 62-1 62 22 62 108"/>
<path d="M0 283l62 11 62-11 62 9 62 9 62 11 62 4 62 9 62 4 62 11 62 33 62 53 62 192 62 200 62 65 62 64 62 7 62-75 62-106 62-178 62-183 62-78 62-40 62-28 62-63 62-37 62-15 62-6 62-3 62 78 62 203"/>
<path d="M0 38l62 1 62-2 62 1 62 1 62 1 62 1 62 2 62 0 62 1 62 3 62 4 62 20 62 28 62 18 62 16 62-2 62-12 62-15 62-22 62-24 62-6 62-12 62-3 62-2 62-9 62-7 62 1 62 0 62 8 62 30"/>
<path d="M0 127l62 5 62-6 62 2 62 4 62 4 62 3 62 5 62 0 62 5 62 13 62 21 62 78 62 94 62 44 62 21 62 5 62-30 62-44 62-71 62-75 62-9 62-60 62 3 62-10 62-23 62-41 62-3 62 5 62 36 62 88"/>
<path d="M0 182l62 8 62-9 62 6 62 4 62 9 62 4 62 6 62 4 62 4 62 16 62 26 62 117 62 132 62 63 62 41 62 9 62-50 62-62 62-119 62-111 62-31 62-41 62 19 62-85 62-3 62-28 62-19 62 9 62 41 62 135"/>
<path d="M0 147l62 2 62-6 62 4 62 4 62 3 62 2 62 3 62 0 62 5 62 15 62 23 62 85 62 107 62 51 62 36 62-6 62-32 62-52 62-86 62-89 62-36 62-2 62-11 62-27 62-36 62-21 62-14 62 8 62 42 62 101"/>
<path d="M0 162l62 5 62-5 62 5 62 3 62 5 62 2 62 4 62 1 62 6 62 16 62 30 62 105 62 127 62 42 62 32 62 10 62-42 62-53 62-104 62-93 62-55 62-52 62 9 62 7 62-43 62-39 62-13 62 15 62 41 62 128"/>
<path d="M0 123l62 3 62-4 62 4 62 3 62 3 62 0 62 4 62-1 62 4 62 13 62 17 62 69 62 91 62 46 62 34 62-10 62-26 62-42 62-70 62-74 62-24 62-37 62-19 62-4 62-29 62-15 62 5 62-2 62 29 62 95"/>
<path d="M0 159l62 7 62-5 62 4 62 4 62 4 62 3 62 4 62 0 62 6 62 15 62 23 62 95 62 112 62 58 62 39 62-2 62-52 62-43 62-104 62-95 62-42 62-30 62 14 62-63 62-25 62-8 62 7 62-9 62 25 62 133"/>
<path d="M0 63l62 2 62-3 62 2 62 2 62 2 62 2 62 3 62 0 62 2 62 6 62 9 62 36 62 48 62 25 62 17 62 2 62-14 62-22 62-41 62-41 62-15 62-10 62-12 62-9 62-8 62-13 62-1 62 2 62 19 62 44"/>
<path d="M0 213l62 8 62-5 62 8 62 9 62 8 62 4 62 6 62 1 62 5 62 23 62 33 62 136 62 152 62 60 62 56 62-5 62-56 62-81 62-131 62-133 62-52 62-35 62-21 62-55 62-9 62-17 62-17 62 4 62 49 62 162"/>
<path d="M0 147l62 6 62-8 62 4 62 5 62 6 62 5 62 7 62 3 62 4 62 16 62 27 62 95 62 109 62 52 62 24 62 1 62-33 62-58 62-88 62-99 62-31 62-7 62-48 62-5 62-22 62-41 62-1 62 0 62 27 62 121"/>
<path d="M0 138l62 6 62-5 62 5 62 4 62 4 62 2 62 6 62 2 62 4 62 16 62 25 62 86 62 109 62 50 62 38 62-3 62-41 62-47 62-91 62-91 62-9 62-50 62 47 62-73 62-24 62-16 62-16 62 10 62 14 62 131"/>
<path d="M0 154l62 5 62-6 62 6 62 4 62 7 62 6 62 9 62 2 62 7 62 17 62 25 62 102 62 125 62 42 62 41 62 1 62-43 62-56 62-100 62-98 62-32 62-10 62-27 62-14 62-51 62-23 62-13 62 3 62 22 62 142"/>
<path d="M0 64l62 1 62-2 62 2 62 3 62 2 62 1 62 2 62 0 62 3 62 5 62 8 62 37 62 47 62 27 62 20 62 0 62-23 62-24 62-37 62-39 62-8 62-13 62-17 62-11 62-6 62-12 62 4 62-4 62 14 62 50"/>
<path d="M0 193l62 7 62-5 62 5 62 9 62 8 62 4 62 10 62 1 62 10 62 25 62 40 62 134 62 151 62 54 62 43 62 6 62-56 62-79 62-121 62-135 62-22 62-45 62-42 62-27 62-45 62-13 62-13 62 24 62 26 62 155"/>
<path d="M0 202l62 9 62-3 62 8 62 11 62 6 62 1 62 10 62 3 62 5 62 24 62 35 62 140 62 151 62 53 62 49 62-6 62-56 62-71 62-123 62-136 62 1 62-68 62 15 62-81 62-36 62-7 62-46 62 7 62 50 62 156"/>
<path d="M0 232l62 8 62-10 62 7 62 3 62 9 62 5 62 9 62 3 62 11 62 31 62 49 62 155 62 162 62 62 62 48 62 2 62-78 62-80 62-136 62-153 62-42 62-63 62 31 62-53 62-52 62-24 62-16 62-8 62 46 62 198"/>
<path d="M0 222l62 6 62-6 62 6 62 8 62 8 62 6 62 12 62 1 62 8 62 21 62 40 62 135 62 156 62 52 62 57 62 20 62-68 62-78 62-136 62-132 62-47 62-40 62-1 62-51 62-50 62-28 62 16 62-26 62 66 62 151"/>
<path d="M0 223l62 7 62-8 62 8 62 6 62 7 62 1 62 7 62-2 62 12 62 24 62 47 62 149 62 156 62 52 62 39 62 6 62-68 62-83 62-133 62-118 62-63 62-92 62 28 62-2 62-49 62-47 62-9 62-8 62 67 62 175"/>
<path d="M0 169l62 6 62-4 62 6 62 5 62 6 62 2 62 7 62 2 62 6 62 18 62 27 62 106 62 118 62 61 62 51 62-9 62-38 62-60 62-102 62-116 62-43 62-27 62-30 62 5 62-48 62-8 62-4 62-14 62 34 62 144"/>
<path d="M0 140l62 5 62-6 62 5 62 1 62 6 62 3 62 5 62 4 62 5 62 15 62 22 62 87 62 99 62 56 62 42 62-2 62-32 62-54 62-89 62-88 62-39 62-20 62-7 62-22 62-42 62-17 62-16 62 24 62 18 62 116"/>
<path d="M0 157l62 5 62-4 62 4 62 6 62 6 62 6 62 7 62 3 62 2 62 18 62 25 62 106 62 126 62 50 62 28 62 3 62-44 62-63 62-94 62-98 62-37 62-28 62-4 62-49 62-28 62-9 62-8 62 2 62 39 62 127"/>
<path d="M0 133l62 8 62-3 62 6 62 6 62 4 62 4 62 3 62 1 62 3 62 11 62 16 62 82 62 101 62 46 62 51 62-6 62-45 62-45 62-88 62-84 62-23 62-61 62-9 62 12 62-42 62-6 62-14 62 11 62 11 62 122"/>
<path d="M0 165l62 3 62-5 62 3 62 4 62 4 62 4 62 4 62 3 62 5 62 17 62 24 62 98 62 118 62 53 62 43 62 8 62-43 62-57 62-106 62-104 62-12 62-67 62 8 62-33 62-20 62-37 62-9 62 16 62 29 62 129"/>
<path d="M0 140l62 6 62-5 62 7 62 5 62 6 62 5 62 5 62 5 62 5 62 16 62 21 62 92 62 105 62 59 62 38 62 10 62-44 62-50 62-98 62-89 62-32 62-31 62-21 62-23 62-33 62-20 62-4 62 8 62 27 62 117"/>
<path d="M0 200l62 8 62-8 62 8 62 7 62 7 62 6 62 6 62 1 62 7 62 18 62 29 62 131 62 147 62 62 62 60 62-18 62-46 62-63 62-127 62-125 62-27 62-74 62 9 62-38 62-41 62-29 62-9 62 7 62 55 62 161"/>
<path d="M0 226l62 9 62-9 62 10 62 8 62 10 62 5 62 7 62 2 62 6 62 27 62 40 62 147 62 156 62 66 62 51 62 11 62-87 62-92 62-133 62-128 62-26 62-46 62-17 62-31 62-42 62-37 62-5 62-14 62 43 62 192"/>
<path d="M0 108l62 2 62-3 62 2 62 2 62 4 62 3 62 5 62 2 62 4 62 10 62 12 62 61 62 78 62 44 62 35 62-1 62-38 62-42 62-62 62-73 62-7 62-26 62-20 62-12 62-10 62-34 62 10 62-9 62 36 62 77"/>
<path d="M0 211l62 8 62-8 62 6 62 5 62 9 62 6 62 7 62 3 62 8 62 26 62 41 62 142 62 149 62 69 62 64 62-2 62-66 62-86 62-132 62-135 62-26 62-64 62-28 62-29 62-3 62-58 62-17 62-2 62 65 62 165"/>
<path d="M0 112l62 5 62-3 62 3 62 4 62 3 62 4 62 5 62 1 62 3 62 11 62 16 62 66 62 79 62 38 62 32 62-2 62-28 62-37 62-68 62-78 62-21 62-32 62-21 62 10 62-34 62-6 62-7 62 0 62 30 62 78"/>
<path d="M0 112l62 5 62-4 62 4 62 2 62 5 62 1 62 4 62 2 62 3 62 13 62 18 62 69 62 90 62 47 62 31 62 0 62-36 62-34 62-77 62-73 62-37 62-18 62-10 62-6 62-33 62-16 62 6 62-7 62 20 62 88"/>
<path d="M0 260l62 11 62-5 62 9 62 13 62 3 62 7 62 6 62-2 62 6 62 26 62 56 62 172 62 196 62 53 62 47 62 13 62-89 62-94 62-158 62-141 62-52 62-93 62 25 62-64 62-70 62-12 62 21 62-16 62 82 62 177"/>
<path d="M0 162l62 7 62-5 62 5 62 7 62 7 62 3 62 8 62 0 62 5 62 17 62 29 62 105 62 121 62 45 62 32 62 8 62-51 62-59 62-95 62-105 62-25 62-61 62-4 62 1 62-51 62-16 62-5 62-8 62 39 62 130"/>
<path d="M0 138l62 5 62-5 62 3 62 6 62 3 62 6 62 6 62 0 62 4 62 11 62 19 62 83 62 103 62 48 62 42 62 2 62-45 62-52 62-90 62-88 62-22 62-24 62-15 62-14 62-10 62-41 62-1 62-6 62 31 62 118"/>
<path d="M0 86l62 3 62-3 62 3 62 3 62 1 62 1 62 0 62 0 62 4 62 11 62 15 62 55 62 69 62 34 62 22 62 1 62-24 62-33 62-56 62-58 62-16 62-18 62-6 62-13 62-20 62-13 62-5 62 5 62 10 62 75"/>
<path d="M0 2l62 0 62 0 62 0 62 0 62 1 62 0 62 0 62 0 62 0 62 0 62 0 62 2 62 1 62 2 62 1 62 0 62-1 62-1 62-2 62-1 62-1 62 0 62-1 62 0 62 0 62-1 62 0 62 0 62 1 62 2"/>
<path d="M0 237l62 10 62-10 62 5 62 7 62 9 62 6 62 11 62 8 62 7 62 33 62 49 62 149 62 163 62 65 62 52 62-4 62-51 62-84 62-140 62-153 62-55 62-87 62-25 62-2 62-35 62-30 62-9 62-6 62 42 62 191"/>
<path d="M0 39l62 1 62-2 62 0 62 1 62 1 62 1 62 1 62 1 62 1 62 4 62 6 62 22 62 30 62 16 62 7 62 2 62-11 62-11 62-26 62-24 62-11 62-8 62-4 62-6 62-4 62-5 62-3 62 3 62 4 62 32"/>
<path d="M0 135l62 5 62-3 62 6 62 5 62 4 62 1 62 3 62 2 62 4 62 18 62 27 62 94 62 111 62 46 62 28 62 2 62-36 62-50 62-88 62-90 62-13 62-49 62 4 62-30 62-34 62-34 62 7 62-14 62 49 62 93"/>
<path d="M0 118l62 5 62-3 62 3 62 4 62 5 62 5 62 5 62 2 62 4 62 12 62 16 62 76 62 86 62 49 62 37 62-2 62-41 62-44 62-71 62-76 62-32 62-17 62-10 62-26 62-35 62-6 62-7 62 1 62 35 62 87"/>
<path d="M0 189l62 7 62-6 62 7 62 7 62 6 62 6 62 8 62 2 62 9 62 23 62 39 62 132 62 142 62 64 62 40 62 6 62-49 62-68 62-122 62-133 62-50 62-75 62 18 62-21 62-48 62-31 62 1 62 2 62 54 62 123"/>
<path d="M0 173l62 7 62-5 62 7 62 5 62 8 62 6 62 8 62 2 62 6 62 19 62 31 62 123 62 131 62 51 62 31 62 1 62-43 62-61 62-118 62-101 62-24 62-59 62-11 62-29 62-31 62-25 62-22 62 13 62 17 62 157"/>
<path d="M0 118l62 3 62-5 62 3 62 3 62 5 62 5 62 7 62 2 62 3 62 12 62 16 62 70 62 85 62 42 62 35 62 4 62-38 62-37 62-73 62-69 62-33 62-16 62-17 62 6 62-51 62-6 62-7 62-25 62 53 62 88"/>
<path d="M0 112l62 2 62-4 62 3 62 1 62 4 62 2 62 4 62-2 62 5 62 11 62 15 62 68 62 81 62 39 62 30 62 2 62-33 62-36 62-72 62-71 62-34 62-25 62-4 62-16 62-17 62-6 62-1 62-7 62 19 62 91"/>
<path d="M0 9l62 1 62-1 62 1 62 0 62 0 62 1 62 0 62 0 62 1 62 1 62 1 62 6 62 8 62 4 62 3 62 1 62-3 62-4 62-7 62-6 62-3 62-1 62-1 62-2 62-2 62-1 62 0 62 0 62 3 62 7"/>
<path d="M0 196l62 7 62-7 62 8 62 4 62 10 62 5 62 8 62 3 62 11 62 20 62 37 62 129 62 144 62 62 62 54 62 1 62-58 62-70 62-124 62-136 62 9 62-43 62-44 62-10 62-54 62-47 62-11 62 5 62 18 62 171"/>
<path d="M0 158l62 6 62-5 62 4 62 6 62 5 62 5 62 5 62 2 62 5 62 17 62 27 62 99 62 118 62 52 62 33 62 9 62-44 62-56 62-96 62-93 62-39 62-68 62 0 62-16 62-25 62-13 62-24 62 8 62 31 62 132"/>
<path d="M0 168l62 3 62-7 62 5 62 2 62 5 62 6 62 4 62 2 62 8 62 22 62 31 62 105 62 128 62 54 62 41 62 2 62-51 62-61 62-104 62-107 62-59 62-7 62-38 62-12 62-13 62-37 62-16 62 13 62 38 62 127"/>
<path d="M0 259l62 8 62-6 62 9 62 9 62 10 62 9 62 10 62 3 62 11 62 26 62 54 62 176 62 183 62 75 62 49 62 6 62-89 62-87 62-160 62-152 62-104 62-52 62 51 62-103 62-17 62-43 62-5 62 9 62 55 62 207"/>
<path d="M0 23l62 1 62-1 62 1 62 1 62 1 62 0 62 1 62 0 62 1 62 3 62 3 62 15 62 18 62 13 62 6 62 1 62-6 62-9 62-16 62-17 62-5 62-5 62-1 62-4 62-7 62-2 62-2 62 1 62 5 62 21"/>
<path d="M0 98l62 5 62-1 62 3 62 5 62 4 62 3 62 3 62 3 62 1 62 10 62 14 62 64 62 75 62 37 62 19 62 2 62-33 62-39 62-62 62-58 62-9 62-18 62 11 62-45 62-19 62-12 62-6 62 1 62 25 62 66"/>
<path d="M0 81l62 3 62-2 62 4 62 2 62 3 62 2 62 3 62 1 62 2 62 8 62 10 62 49 62 64 62 29 62 19 62 7 62-30 62-28 62-52 62-52 62-7 62-17 62-24 62-22 62 1 62-10 62-4 62 8 62 13 62 61"/>
<path d="M0 107l62 6 62-2 62 4 62 5 62 5 62 4 62 6 62 3 62 2 62 12 62 17 62 71 62 86 62 45 62 23 62 7 62-30 62-39 62-75 62-76 62-36 62-11 62-20 62 4 62-31 62-23 62-6 62-7 62 25 62 102"/>
<path d="M0 121l62 3 62-5 62 4 62 2 62 4 62 3 62 5 62 1 62 3 62 13 62 21 62 72 62 90 62 45 62 26 62 4 62-32 62-42 62-73 62-78 62-36 62-21 62-14 62-15 62-31 62-8 62-4 62 8 62 27 62 85"/>
<path d="M0 140l62 5 62-6 62 3 62 5 62 3 62 3 62 5 62 0 62 8 62 14 62 25 62 93 62 111 62 54 62 33 62 0 62-48 62-60 62-82 62-91 62-33 62-41 62 8 62-11 62-48 62-21 62 3 62-9 62 45 62 116"/>
<path d="M0 84l62 3 62-2 62 2 62 3 62 4 62 2 62 5 62 1 62 3 62 8 62 11 62 51 62 68 62 35 62 30 62 1 62-27 62-34 62-58 62-58 62-10 62-30 62-4 62-20 62 2 62-24 62-6 62 7 62 18 62 66"/>
<path d="M0 88l62 2 62-2 62 5 62 3 62 3 62 1 62 3 62 0 62 2 62 10 62 12 62 54 62 62 62 37 62 21 62-1 62-23 62-23 62-59 62-54 62-27 62-4 62 4 62-33 62-20 62 0 62-14 62-4 62 33 62 61"/>
<path d="M0 120l62 5 62-5 62 4 62 4 62 6 62 3 62 5 62 3 62 4 62 13 62 19 62 73 62 85 62 46 62 32 62 4 62-33 62-45 62-74 62-81 62-10 62-29 62 11 62-46 62-21 62-16 62-16 62 2 62 26 62 111"/>
<path d="M0 243l62 10 62-7 62 8 62 8 62 7 62 6 62 8 62 2 62 5 62 23 62 38 62 149 62 161 62 61 62 74 62-1 62-52 62-70 62-144 62-152 62-54 62-61 62-4 62-95 62-8 62-34 62 32 62-23 62 41 62 201"/>
<path d="M0 20l62 1 62-1 62 1 62 0 62 1 62 1 62 1 62 1 62 1 62 2 62 1 62 12 62 16 62 10 62 8 62 0 62-7 62-8 62-13 62-13 62-5 62-6 62-1 62-2 62-4 62-4 62-1 62 2 62 4 62 17"/>
<path d="M0 31l62 1 62 0 62 1 62 1 62 1 62 1 62 1 62 0 62 1 62 3 62 3 62 19 62 24 62 14 62 7 62 1 62-10 62-13 62-19 62-19 62-4 62-11 62 0 62-9 62-4 62 0 62-2 62-3 62 4 62 30"/>
<path d="M0 142l62 4 62-4 62 4 62 4 62 6 62 3 62 7 62 2 62 5 62 14 62 19 62 87 62 104 62 60 62 38 62 6 62-56 62-58 62-91 62-82 62-16 62-78 62 27 62-29 62-33 62-9 62-13 62 4 62 25 62 126"/>
<path d="M0 139l62 3 62-6 62 4 62 2 62 6 62 4 62 5 62 3 62 2 62 13 62 21 62 84 62 99 62 51 62 31 62 5 62-39 62-38 62-90 62-83 62-54 62-19 62-11 62-26 62-23 62 0 62-21 62 14 62 20 62 114"/>
<path d="M0 223l62 5 62-6 62 6 62 6 62 7 62 5 62 6 62 3 62 6 62 23 62 35 62 138 62 144 62 71 62 59 62 6 62-68 62-86 62-132 62-121 62-82 62-40 62 18 62-22 62-74 62-23 62-10 62 2 62 73 62 155"/>
<path d="M0 110l62 5 62-4 62 5 62 3 62 5 62 2 62 4 62 0 62 4 62 12 62 17 62 69 62 84 62 45 62 40 62-3 62-39 62-47 62-65 62-64 62 8 62-51 62-13 62-6 62-47 62-23 62 7 62 10 62 19 62 95"/>
<path d="M0 202l62 9 62-5 62 9 62 7 62 7 62 6 62 9 62 4 62 3 62 21 62 37 62 127 62 155 62 46 62 26 62 25 62-67 62-64 62-122 62-115 62-57 62-50 62-33 62-15 62-50 62-14 62-7 62 11 62 27 62 163"/>
<path d="M0 143l62 6 62-4 62 5 62 4 62 4 62 3 62 4 62 0 62 7 62 18 62 26 62 96 62 105 62 45 62 25 62-1 62-34 62-48 62-90 62-89 62-33 62-13 62-27 62-48 62-5 62-19 62 0 62-3 62 16 62 117"/>
<path d="M0 16l62 0 62 0 62 1 62 0 62 1 62 0 62 1 62 0 62 0 62 2 62 2 62 10 62 14 62 8 62 5 62 0 62-4 62-6 62-11 62-13 62-4 62-5 62 2 62-3 62-4 62-4 62 0 62 0 62 6 62 12"/>
<path d="M0 3l62 0 62 0 62 0 62 0 62 1 62 0 62 0 62 0 62 0 62 0 62 1 62 1 62 3 62 2 62 1 62 0 62-1 62-2 62-2 62-2 62-1 62 0 62 0 62-1 62-1 62 0 62 0 62 0 62 0 62 4"/>
<path d="M0 48l62 2 62-2 62 2 62 1 62 1 62 2 62 1 62 1 62 1 62 5 62 6 62 29 62 36 62 23 62 15 62 2 62-15 62-18 62-32 62-30 62-12 62-7 62-13 62-1 62-12 62-5 62-1 62 0 62 8 62 40"/>
<path d="M0 22l62 1 62-1 62 1 62 0 62 1 62 0 62 1 62 0 62 1 62 3 62 3 62 13 62 18 62 9 62 6 62 0 62-6 62-8 62-14 62-15 62-5 62-7 62-3 62-5 62 0 62-2 62-1 62 0 62 2 62 22"/>
<path d="M0 90l62 5 62-3 62 5 62 3 62 4 62 2 62 4 62 1 62 2 62 8 62 15 62 57 62 72 62 35 62 23 62-3 62-30 62-37 62-57 62-62 62-10 62-13 62-15 62-12 62-22 62-11 62-1 62 4 62 20 62 67"/>
<path d="M0 238l62 6 62-8 62 5 62 7 62 7 62 5 62 7 62 1 62 12 62 28 62 52 62 161 62 168 62 67 62 35 62 0 62-63 62-91 62-132 62-137 62-59 62-32 62-11 62-29 62-62 62-47 62-13 62 1 62 37 62 200"/>
<path d="M0 25l62 0 62 0 62 0 62 1 62 1 62 1 62 1 62 0 62 1 62 3 62 3 62 15 62 19 62 14 62 7 62 1 62-9 62-10 62-16 62-18 62-1 62-13 62 2 62-3 62-10 62 2 62-4 62 4 62 0 62 24"/>
<path d="M0 221l62 6 62-9 62 7 62 4 62 11 62 8 62 13 62 9 62 8 62 22 62 44 62 154 62 165 62 63 62 47 62 12 62-69 62-75 62-134 62-153 62-35 62-105 62 21 62-40 62-21 62-66 62 8 62 4 62 74 62 155"/>
<path d="M0 21l62 1 62-1 62 1 62 0 62 1 62 0 62 1 62 0 62 1 62 2 62 2 62 12 62 16 62 11 62 9 62-1 62-7 62-10 62-13 62-13 62-4 62-6 62-2 62-4 62-3 62-2 62-1 62 1 62 6 62 18"/>
<path d="M0 183l62 8 62-3 62 7 62 7 62 7 62 3 62 6 62 0 62 11 62 23 62 38 62 125 62 142 62 54 62 48 62-2 62-51 62-56 62-130 62-121 62-28 62-5 62-24 62-51 62-44 62-26 62-26 62 8 62 37 62 142"/>
<path d="M0 164l62 5 62-6 62 6 62 5 62 6 62 4 62 7 62 1 62 5 62 19 62 28 62 108 62 126 62 51 62 38 62 6 62-45 62-61 62-102 62-105 62-64 62-14 62-4 62-34 62-57 62 1 62-19 62 23 62 10 62 148"/>
<path d="M0 288l62 12 62-10 62 12 62 9 62 12 62 5 62 12 62 1 62 9 62 35 62 68 62 205 62 195 62 62 62 47 62-10 62-74 62-105 62-170 62-183 62-52 62-67 62 5 62-44 62-87 62-25 62-6 62 16 62 50 62 220"/>
<path d="M0 22l62 0 62-1 62 1 62 0 62 1 62 0 62 1 62 0 62 1 62 2 62 2 62 12 62 16 62 10 62 7 62 0 62-6 62-8 62-13 62-14 62-2 62-3 62-2 62-4 62-6 62-5 62 1 62-1 62 3 62 19"/>
<path d="M0 286l62 11 62-6 62 7 62 10 62 10 62 8 62 12 62 2 62 5 62 31 62 53 62 198 62 210 62 62 62 26 62 11 62-64 62-100 62-186 62-177 62-47 62-92 62-23 62-19 62-36 62-49 62 12 62-19 62 80 62 200"/>
<path d="M0 83l62 4 62-3 62 4 62 3 62 3 62 2 62 3 62 3 62 1 62 10 62 13 62 55 62 68 62 35 62 20 62 1 62-27 62-30 62-55 62-59 62-22 62-23 62-13 62-5 62-11 62-10 62-8 62 10 62 22 62 63"/>
<path d="M0 99l62 5 62-5 62 4 62 4 62 2 62 2 62 5 62-2 62 5 62 10 62 15 62 59 62 77 62 39 62 28 62-3 62-21 62-39 62-65 62-63 62-36 62-17 62 9 62-39 62-12 62-6 62-1 62 2 62 14 62 74"/>
<path d="M0 266l62 11 62-4 62 10 62 10 62 12 62 7 62 13 62 0 62 7 62 31 62 48 62 181 62 181 62 64 62 47 62 18 62-96 62-82 62-165 62-168 62-47 62-75 62-20 62-47 62-38 62-31 62-11 62 12 62 53 62 225"/>
<path d="M0 70l62 2 62-2 62 2 62 2 62 2 62 2 62 3 62-1 62 2 62 7 62 9 62 41 62 52 62 31 62 20 62 2 62-24 62-25 62-44 62-44 62-4 62-13 62-2 62-9 62-21 62-18 62-3 62 3 62 17 62 48"/>
<path d="M0 230l62 9 62-7 62 8 62 8 62 9 62 7 62 10 62 0 62 6 62 20 62 34 62 140 62 163 62 62 62 58 62-9 62-58 62-92 62-128 62-128 62-40 62-100 62 40 62-47 62-58 62-27 62 7 62-7 62 31 62 197"/>
<path d="M0 115l62 3 62-2 62 5 62 3 62 2 62 2 62 3 62-2 62 6 62 14 62 20 62 72 62 93 62 38 62 24 62 8 62-37 62-47 62-74 62-71 62-13 62-28 62-2 62-30 62-18 62-20 62 1 62-14 62 33 62 94"/>
<path d="M0 9l62 0 62 0 62 0 62 0 62 0 62 1 62 0 62 0 62 0 62 1 62 2 62 5 62 7 62 5 62 2 62 0 62-3 62-3 62-6 62-5 62-1 62-5 62-1 62 0 62-2 62-1 62-1 62 1 62 1 62 8"/>
<path d="M0 40l62 1 62 0 62 1 62 1 62 2 62 1 62 2 62 0 62 2 62 3 62 4 62 23 62 31 62 20 62 13 62 0 62-14 62-14 62-26 62-26 62-4 62-14 62 0 62-8 62-7 62-8 62-1 62 3 62 6 62 35"/>
<path d="M0 288l62 15 62-7 62 15 62 10 62 9 62 3 62 10 62 1 62 12 62 31 62 60 62 202 62 202 62 67 62 46 62 18 62-85 62-106 62-175 62-176 62-62 62-83 62 38 62-48 62-101 62-40 62-5 62 20 62 50 62 234"/>
<path d="M0 177l62 9 62-3 62 6 62 10 62 4 62 1 62 7 62-1 62 6 62 19 62 32 62 117 62 132 62 53 62 38 62 5 62-51 62-56 62-119 62-107 62-66 62-25 62-11 62-17 62-39 62-29 62-9 62 6 62 33 62 153"/>
<path d="M0 214l62 5 62-5 62 7 62 6 62 7 62 8 62 10 62 4 62 8 62 21 62 41 62 141 62 162 62 61 62 54 62-19 62-54 62-76 62-134 62-128 62-45 62-80 62 9 62-14 62-79 62-9 62 4 62-9 62 54 62 168"/>
<path d="M0 65l62 2 62-2 62 3 62 2 62 2 62 3 62 3 62 1 62 3 62 5 62 8 62 38 62 50 62 28 62 21 62-4 62-17 62-25 62-39 62-43 62-7 62-12 62 8 62-31 62-12 62-5 62-5 62-8 62 27 62 51"/>
<path d="M0 52l62 2 62-1 62 1 62 3 62 1 62 1 62 2 62 0 62 2 62 5 62 6 62 31 62 40 62 24 62 17 62 1 62-19 62-20 62-33 62-28 62-14 62-7 62 4 62-17 62-10 62-14 62-2 62 2 62 11 62 41"/>
<path d="M0 126l62 6 62-2 62 4 62 5 62 4 62 2 62 5 62 1 62 3 62 16 62 24 62 82 62 91 62 45 62 24 62-1 62-27 62-44 62-76 62-89 62-15 62-45 62-7 62-17 62-27 62-18 62-7 62 6 62 18 62 100"/>
<path d="M0 143l62 4 62-7 62 4 62 4 62 4 62 5 62 4 62 2 62 6 62 17 62 24 62 92 62 106 62 47 62 36 62-3 62-37 62-59 62-83 62-90 62-24 62-32 62-33 62 11 62-55 62-10 62-16 62 7 62 20 62 122"/>
<path d="M0 120l62 4 62-4 62 5 62 3 62 5 62 4 62 2 62 2 62 6 62 14 62 23 62 84 62 94 62 47 62 25 62 0 62-34 62-47 62-78 62-79 62-46 62-22 62-10 62-23 62-10 62-12 62-16 62 11 62 44 62 78"/>
<path d="M0 170l62 9 62-4 62 10 62 7 62 7 62 6 62 6 62 6 62 4 62 18 62 30 62 115 62 123 62 64 62 58 62-2 62-56 62-71 62-109 62-118 62-31 62-64 62 1 62-4 62-45 62-28 62 4 62-26 62 69 62 124"/>
<path d="M0 180l62 4 62-6 62 4 62 5 62 5 62 5 62 7 62 2 62 3 62 17 62 33 62 109 62 120 62 55 62 31 62-2 62-43 62-61 62-110 62-106 62-41 62-36 62-32 62 1 62-33 62-18 62 5 62-3 62 31 62 142"/>
<path d="M0 229l62 9 62-8 62 7 62 8 62 11 62 7 62 9 62 4 62 5 62 21 62 43 62 148 62 162 62 66 62 33 62 17 62-66 62-71 62-150 62-138 62-70 62-67 62 9 62-2 62-80 62-4 62-5 62 7 62 37 62 177"/>
<path d="M0 195l62 8 62-7 62 6 62 6 62 7 62 5 62 11 62 0 62 6 62 20 62 26 62 114 62 139 62 65 62 58 62-1 62-61 62-67 62-117 62-133 62-37 62-53 62 14 62-49 62-5 62-53 62-18 62 8 62 58 62 145"/>
<path d="M0 230l62 6 62-9 62 5 62 7 62 7 62 6 62 7 62 2 62 6 62 21 62 35 62 139 62 161 62 67 62 39 62 15 62-64 62-81 62-125 62-142 62 9 62-106 62 35 62-37 62-89 62-25 62 5 62-2 62 24 62 198"/>
<path d="M0 274l62 10 62-10 62 10 62 8 62 12 62 5 62 18 62 1 62 7 62 32 62 61 62 187 62 199 62 47 62 45 62 7 62-55 62-84 62-161 62-169 62-83 62-72 62-18 62-13 62-55 62-42 62-41 62 2 62 71 62 213"/>
<path d="M0 177l62 6 62-5 62 4 62 5 62 6 62 4 62 6 62 2 62 4 62 20 62 32 62 114 62 127 62 54 62 42 62 3 62-59 62-60 62-115 62-105 62-7 62-50 62-16 62-32 62-26 62-27 62-17 62 7 62 43 62 132"/>
<path d="M0 84l62 5 62-2 62 4 62 3 62 3 62 3 62 3 62 1 62 2 62 9 62 10 62 52 62 69 62 33 62 22 62 3 62-26 62-33 62-54 62-54 62-21 62-38 62-5 62 1 62-19 62-7 62-6 62 1 62 17 62 75"/>
<path d="M0 113l62 3 62-4 62 2 62 3 62 5 62 3 62 4 62 1 62 4 62 15 62 21 62 71 62 86 62 40 62 25 62-5 62-17 62-38 62-74 62-75 62-20 62-49 62 9 62-36 62-12 62-16 62-5 62 9 62 26 62 83"/>
<path d="M0 101l62 3 62-3 62 5 62 4 62 2 62 3 62 3 62 2 62 3 62 12 62 17 62 61 62 73 62 39 62 25 62 3 62-21 62-36 62-65 62-74 62-6 62-53 62-10 62-1 62-15 62-18 62-9 62 7 62 24 62 77"/>
<path d="M0 292l62 9 62-11 62 8 62 4 62 11 62 4 62 9 62 2 62 6 62 31 62 62 62 199 62 211 62 57 62 49 62 7 62-78 62-98 62-170 62-179 62-29 62-104 62-5 62-68 62-1 62-60 62-3 62-19 62 75 62 208"/>
<path d="M0 198l62 7 62-4 62 6 62 6 62 3 62 0 62 1 62-3 62 9 62 22 62 39 62 125 62 137 62 54 62 38 62-2 62-39 62-62 62-117 62-123 62-42 62-66 62-14 62-21 62-39 62-8 62-11 62 4 62 36 62 155"/>
<path d="M0 107l62 4 62-3 62 5 62 4 62 4 62 3 62 3 62 3 62 2 62 10 62 16 62 65 62 83 62 40 62 33 62-2 62-32 62-35 62-69 62-68 62-21 62-25 62-3 62-4 62-46 62-10 62-3 62 1 62 10 62 101"/>
<path d="M0 213l62 11 62-9 62 9 62 8 62 6 62 7 62 9 62 3 62 4 62 23 62 38 62 136 62 141 62 50 62 50 62-8 62-58 62-87 62-113 62-120 62-14 62-44 62-29 62-68 62-33 62-5 62-33 62 9 62 64 62 133"/>
<path d="M0 98l62 4 62-4 62 3 62 4 62 4 62 1 62 5 62 0 62 3 62 10 62 12 62 56 62 76 62 34 62 23 62 8 62-32 62-37 62-61 62-57 62-14 62-39 62 15 62-31 62-12 62-17 62 2 62-11 62 23 62 80"/>
<path d="M0 156l62 5 62-5 62 6 62 4 62 8 62 4 62 8 62 2 62 3 62 15 62 27 62 97 62 113 62 52 62 22 62 8 62-41 62-61 62-86 62-91 62-38 62-44 62 8 62-42 62-16 62-30 62-10 62 5 62 35 62 123"/>
<path d="M0 249l62 11 62-8 62 8 62 11 62 10 62 5 62 13 62 0 62 10 62 23 62 47 62 169 62 192 62 65 62 48 62 24 62-83 62-84 62-158 62-157 62-34 62-122 62 2 62-30 62-47 62-18 62 1 62-8 62 54 62 189"/>
<path d="M0 211l62 6 62-6 62 5 62 7 62 7 62 6 62 9 62 2 62 13 62 27 62 47 62 148 62 160 62 54 62 48 62 3 62-42 62-77 62-140 62-151 62-26 62-91 62 34 62-56 62-46 62-32 62-13 62 18 62 30 62 157"/>
<path d="M0 154l62 5 62-4 62 5 62 5 62 4 62 2 62 5 62 1 62 7 62 16 62 27 62 96 62 116 62 56 62 49 62-3 62-54 62-50 62-103 62-93 62-8 62-52 62-12 62-19 62-32 62-26 62-25 62 20 62 29 62 115"/>
<path d="M0 25l62 1 62 0 62 0 62 2 62 1 62 0 62 1 62 1 62 0 62 3 62 3 62 15 62 22 62 13 62 10 62 0 62-11 62-10 62-17 62-16 62-3 62-4 62-1 62-7 62-5 62-5 62-2 62 2 62 5 62 21"/>
<path d="M0 165l62 5 62-6 62 6 62 6 62 5 62 5 62 5 62 3 62 4 62 21 62 29 62 112 62 123 62 47 62 25 62-3 62-56 62-70 62-86 62-97 62-28 62-55 62 5 62-16 62-32 62-28 62-2 62-4 62 31 62 134"/>
<path d="M0 76l62 2 62-1 62 2 62 3 62 3 62 2 62 4 62 2 62 3 62 8 62 12 62 48 62 63 62 34 62 22 62-1 62-24 62-26 62-50 62-52 62-8 62-40 62 2 62-12 62-4 62-16 62-8 62-5 62 15 62 73"/>
<path d="M0 222l62 7 62-5 62 9 62 8 62 9 62 5 62 10 62 4 62 3 62 28 62 45 62 153 62 152 62 50 62 38 62 6 62-36 62-70 62-137 62-159 62-49 62-81 62 22 62-54 62-40 62-17 62-27 62 23 62 34 62 183"/>
<path d="M0 51l62 1 62-2 62 1 62 1 62 2 62 1 62 1 62 1 62 1 62 6 62 7 62 30 62 40 62 21 62 14 62-4 62-14 62-20 62-32 62-30 62-5 62-17 62-5 62-5 62-6 62-9 62-4 62 0 62 12 62 42"/>
<path d="M0 165l62 5 62-4 62 2 62 4 62 6 62 3 62 4 62 0 62 6 62 16 62 22 62 105 62 118 62 61 62 34 62 3 62-54 62-59 62-96 62-98 62-34 62-19 62-36 62-18 62-22 62-11 62-23 62 5 62 46 62 105"/>
<path d="M0 81l62 3 62-3 62 2 62 3 62 3 62 2 62 5 62 1 62 4 62 10 62 11 62 52 62 61 62 39 62 23 62 0 62-22 62-27 62-53 62-61 62-28 62-15 62 9 62-11 62-25 62-9 62-6 62-9 62 29 62 61"/>
<path d="M0 222l62 8 62-7 62 4 62 8 62 7 62 7 62 12 62 4 62 8 62 24 62 49 62 146 62 167 62 54 62 28 62 6 62-54 62-84 62-130 62-151 62-44 62-49 62-4 62-28 62-73 62-10 62-12 62-7 62 64 62 169"/>
<path d="M0 299l62 13 62-8 62 9 62 15 62 10 62 8 62 11 62 11 62 7 62 35 62 72 62 203 62 208 62 63 62 64 62 14 62-95 62-113 62-184 62-167 62-61 62-79 62-9 62-78 62-29 62-59 62 9 62-32 62 106 62 239"/>
<path d="M0 149l62 6 62-5 62 6 62 6 62 4 62 2 62 7 62 1 62 6 62 15 62 26 62 98 62 115 62 63 62 44 62 2 62-65 62-57 62-93 62-93 62-71 62 14 62-35 62 3 62-27 62-29 62-17 62 6 62 35 62 113"/>
<path d="M0 207l62 7 62-7 62 6 62 6 62 8 62 6 62 9 62 5 62 8 62 24 62 37 62 139 62 155 62 62 62 33 62-6 62-57 62-80 62-125 62-128 62-31 62-30 62-33 62-51 62-22 62-14 62-34 62 8 62 38 62 168"/>
<path d="M0 43l62 2 62-1 62 2 62 2 62 1 62 1 62 2 62 0 62 2 62 4 62 6 62 26 62 35 62 21 62 13 62-1 62-12 62-17 62-30 62-30 62-12 62-9 62 3 62-11 62-5 62-7 62-2 62-3 62 9 62 41"/>
<path d="M0 7l62 0 62 0 62 0 62 0 62 0 62 1 62 0 62 0 62 0 62 1 62 1 62 4 62 5 62 3 62 3 62 0 62-3 62-2 62-5 62-4 62-1 62-2 62-1 62 0 62-1 62-1 62-2 62 1 62 1 62 7"/>
<path d="M0 14l62 1 62-1 62 1 62 0 62 1 62 0 62 1 62 0 62 0 62 1 62 2 62 8 62 10 62 8 62 3 62 2 62-5 62-6 62-8 62-10 62-2 62-5 62-1 62-2 62-2 62-2 62-1 62 0 62 2 62 13"/>
<path d="M0 183l62 7 62-3 62 8 62 7 62 8 62 4 62 8 62 2 62 9 62 18 62 36 62 125 62 143 62 55 62 50 62 24 62-68 62-79 62-109 62-123 62-28 62-37 62-25 62-38 62-36 62-20 62-22 62-7 62 31 62 191"/>
<path d="M0 201l62 8 62-6 62 11 62 6 62 5 62 3 62 3 62 3 62 6 62 16 62 30 62 120 62 127 62 61 62 39 62 11 62-42 62-63 62-115 62-131 62-29 62-55 62 2 62-37 62-41 62-4 62-34 62-1 62 33 62 162"/>
<path d="M0 224l62 8 62-4 62 8 62 8 62 11 62 7 62 13 62 4 62 4 62 22 62 36 62 150 62 155 62 57 62 64 62 0 62-68 62-81 62-124 62-155 62-34 62-70 62 7 62-38 62-35 62-59 62 2 62 1 62 51 62 155"/>
<path d="M0 136l62 4 62-3 62 4 62 2 62 5 62 2 62 3 62-1 62 7 62 17 62 23 62 84 62 97 62 49 62 33 62 2 62-35 62-47 62-87 62-83 62-26 62-19 62-3 62-32 62-24 62-37 62-2 62-10 62 37 62 100"/>
<path d="M0 136l62 4 62-3 62 6 62 4 62 4 62 4 62 4 62 0 62 5 62 14 62 21 62 92 62 102 62 54 62 31 62 2 62-37 62-47 62-83 62-82 62-31 62-36 62-35 62-12 62-20 62-22 62-5 62 11 62 28 62 107"/>
<path d="M0 128l62 1 62-4 62 4 62 2 62 5 62 4 62 5 62 2 62 4 62 14 62 20 62 79 62 102 62 40 62 36 62-7 62-30 62-44 62-82 62-84 62-26 62-19 62 2 62-55 62-5 62-26 62-6 62 14 62 23 62 109"/>
<path d="M0 31l62 2 62-1 62 1 62 2 62 1 62 1 62 1 62 0 62 1 62 4 62 3 62 20 62 26 62 15 62 15 62-1 62-12 62-15 62-20 62-21 62-10 62-6 62 8 62-14 62-4 62-3 62-8 62 0 62 10 62 28"/>
<path d="M0 16l62 1 62-1 62 1 62 0 62 1 62 1 62 0 62 0 62 1 62 1 62 2 62 10 62 13 62 8 62 6 62 0 62-5 62-7 62-10 62-12 62-4 62-3 62 0 62-3 62-5 62 1 62-4 62 0 62 6 62 12"/>
<path d="M0 171l62 5 62-6 62 6 62 4 62 6 62 3 62 7 62 0 62 8 62 18 62 28 62 107 62 121 62 58 62 40 62 8 62-56 62-67 62-101 62-102 62-31 62-45 62-19 62-5 62-36 62-37 62 4 62 3 62 30 62 138"/>
<path d="M0 136l62 5 62-5 62 6 62 4 62 6 62 3 62 7 62 1 62 3 62 16 62 21 62 88 62 101 62 45 62 30 62 7 62-42 62-46 62-89 62-93 62-45 62-19 62-2 62-32 62-4 62-34 62 3 62 5 62 17 62 107"/>
<path d="M0 174l62 5 62-6 62 6 62 5 62 7 62 5 62 7 62 2 62 8 62 21 62 32 62 113 62 126 62 57 62 36 62-1 62-38 62-68 62-107 62-111 62-35 62-38 62-20 62-37 62-25 62-9 62-15 62-16 62 62 62 126"/>
<path d="M0 211l62 6 62-7 62 10 62 7 62 4 62 4 62 7 62 1 62 6 62 22 62 41 62 145 62 164 62 54 62 40 62-8 62-39 62-67 62-135 62-136 62-58 62-23 62-46 62-2 62-44 62-38 62-18 62 13 62 46 62 162"/>
<path d="M0 7l62 0 62 0 62 0 62 0 62 1 62 0 62 0 62 0 62 0 62 1 62 1 62 3 62 6 62 4 62 1 62 0 62-1 62-3 62-5 62-4 62-1 62-3 62 1 62-2 62-2 62-1 62 2 62-1 62 1 62 6"/>
<path d="M0 3l62 0 62 0 62 0 62 0 62 0 62 0 62 0 62 0 62 0 62 1 62 0 62 1 62 3 62 1 62 1 62 0 62-1 62-1 62-2 62-2 62 0 62-1 62 1 62-1 62-1 62 0 62 0 62 0 62 0 62 2"/>
<path d="M0 203l62 7 62-5 62 7 62 8 62 7 62 4 62 9 62-1 62 7 62 19 62 35 62 125 62 143 62 54 62 43 62-3 62-54 62-75 62-129 62-124 62-28 62-43 62 5 62-38 62-38 62-16 62-11 62 2 62 52 62 145"/>
<path d="M0 152l62 6 62-6 62 3 62 6 62 5 62 4 62 6 62 4 62 3 62 15 62 26 62 93 62 103 62 61 62 32 62 6 62-40 62-52 62-96 62-91 62-51 62-8 62-38 62-12 62-17 62-38 62 4 62 18 62 17 62 118"/>
<path d="M0 92l62 4 62-3 62 4 62 4 62 2 62 3 62 2 62 2 62 3 62 8 62 11 62 54 62 69 62 37 62 32 62 2 62-32 62-34 62-60 62-59 62-7 62-38 62-8 62-2 62-25 62-11 62 2 62-10 62 26 62 70"/>
<path d="M0 163l62 4 62-7 62 4 62 5 62 5 62 4 62 7 62 1 62 5 62 17 62 32 62 102 62 124 62 45 62 27 62-1 62-49 62-65 62-100 62-95 62-55 62-10 62-7 62-21 62-27 62-29 62-4 62 5 62 24 62 135"/>
<path d="M0 146l62 5 62-5 62 4 62 6 62 4 62 4 62 4 62 3 62 6 62 17 62 26 62 97 62 110 62 55 62 43 62-2 62-35 62-53 62-101 62-95 62-27 62-29 62-12 62-34 62-38 62-5 62-17 62 4 62 57 62 99"/>
<path d="M0 220l62 7 62-8 62 7 62 6 62 10 62 6 62 11 62 4 62 10 62 25 62 51 62 148 62 161 62 57 62 48 62-7 62-49 62-67 62-140 62-154 62-34 62-76 62 83 62-134 62-56 62 6 62-7 62-10 62 33 62 184"/>
<path d="M0 260l62 10 62-10 62 8 62 10 62 6 62 6 62 5 62-2 62 13 62 27 62 48 62 168 62 173 62 73 62 53 62 14 62-73 62-76 62-161 62-153 62-60 62-72 62 4 62-82 62-8 62-33 62-17 62-14 62 72 62 194"/>
<path d="M0 276l62 12 62-3 62 15 62 15 62 5 62 6 62 9 62 0 62 12 62 31 62 71 62 198 62 200 62 75 62 43 62-4 62-56 62-106 62-168 62-188 62-38 62-132 62-12 62-24 62-59 62-20 62-20 62-17 62 122 62 175"/>
<path d="M0 150l62 6 62-5 62 7 62 5 62 5 62 4 62 7 62 3 62 4 62 15 62 23 62 92 62 112 62 52 62 31 62 0 62-37 62-44 62-96 62-96 62-54 62-17 62-16 62-22 62-42 62-16 62 5 62 2 62 29 62 120"/>
<path d="M0 76l62 2 62-2 62 2 62 3 62 2 62 3 62 3 62 1 62 3 62 8 62 10 62 45 62 55 62 32 62 19 62 1 62-20 62-25 62-49 62-47 62-26 62-14 62-2 62-9 62-20 62-7 62-7 62 3 62 12 62 63"/>
<path d="M0 225l62 7 62-8 62 6 62 6 62 5 62 7 62 8 62-1 62 8 62 26 62 39 62 148 62 154 62 71 62 51 62 4 62-71 62-88 62-129 62-140 62-59 62-41 62 5 62-40 62-22 62-30 62-26 62-6 62 42 62 192"/>
<path d="M0 241l62 8 62-10 62 8 62 6 62 7 62 5 62 7 62 0 62 10 62 28 62 55 62 152 62 170 62 51 62 32 62 6 62-60 62-90 62-141 62-138 62-45 62-73 62-43 62-5 62-30 62-34 62-20 62 23 62 53 62 176"/>
<path d="M0 23l62 1 62 0 62 1 62 0 62 1 62 1 62 0 62 1 62 0 62 2 62 3 62 13 62 18 62 11 62 6 62 2 62-7 62-9 62-14 62-14 62-4 62-6 62 0 62-8 62-4 62-5 62-1 62 3 62 5 62 17"/>
<path d="M0 45l62 2 62-2 62 1 62 1 62 1 62 1 62 1 62 0 62 1 62 5 62 5 62 25 62 33 62 17 62 15 62 0 62-11 62-14 62-29 62-29 62-11 62-3 62 0 62-11 62-10 62-9 62-1 62-3 62 11 62 36"/>
<path d="M0 102l62 3 62-3 62 3 62 2 62 5 62 3 62 7 62 2 62 2 62 9 62 16 62 64 62 78 62 40 62 25 62 1 62-33 62-39 62-68 62-60 62 2 62-41 62-3 62-27 62-20 62-18 62-2 62 5 62 25 62 83"/>
<path d="M0 50l62 2 62-2 62 2 62 2 62 2 62 1 62 2 62 1 62 1 62 5 62 6 62 30 62 39 62 20 62 12 62 4 62-15 62-21 62-31 62-34 62-8 62-16 62-1 62-4 62-11 62-8 62-1 62 2 62 8 62 41"/>
<path d="M0 116l62 3 62-2 62 4 62 4 62 4 62 3 62 3 62 1 62 3 62 11 62 19 62 70 62 86 62 45 62 33 62 7 62-37 62-43 62-70 62-73 62-9 62-60 62 12 62-33 62-6 62-23 62-2 62-3 62 22 62 94"/>
<path d="M0 184l62 10 62-5 62 9 62 9 62 7 62 4 62 8 62 4 62 5 62 24 62 37 62 132 62 149 62 53 62 34 62 7 62-47 62-74 62-126 62-139 62-30 62-54 62-26 62-22 62-27 62-24 62-8 62-18 62 56 62 167"/>
<path d="M0 255l62 8 62-8 62 6 62 12 62 8 62 4 62 14 62 1 62 8 62 21 62 42 62 163 62 170 62 63 62 64 62 3 62-61 62-94 62-162 62-157 62-55 62-43 62-7 62-75 62-4 62-55 62 12 62-4 62 27 62 206"/>
<path d="M0 14l62 0 62 0 62 0 62 1 62 0 62 0 62 1 62 0 62 1 62 1 62 1 62 8 62 11 62 7 62 3 62 0 62-5 62-4 62-9 62-8 62-4 62-2 62 0 62-4 62-2 62-2 62-1 62 0 62 4 62 10"/>
<path d="M0 225l62 12 62-5 62 13 62 11 62 6 62 5 62 7 62-1 62 10 62 24 62 47 62 160 62 174 62 58 62 56 62 7 62-83 62-89 62-134 62-132 62-44 62-91 62-27 62-10 62-45 62-24 62-22 62 10 62 76 62 174"/>
<path d="M0 50l62 2 62-2 62 1 62 2 62 2 62 2 62 2 62 0 62 2 62 5 62 6 62 28 62 39 62 24 62 12 62 4 62-16 62-19 62-32 62-32 62-9 62-11 62-11 62-2 62-17 62-1 62-2 62-5 62 14 62 40"/>
<path d="M0 43l62 2 62-1 62 2 62 2 62 1 62 0 62 1 62 1 62 1 62 6 62 4 62 27 62 36 62 18 62 17 62 0 62-13 62-16 62-29 62-33 62-15 62 2 62-3 62-11 62-15 62 2 62-8 62 4 62 14 62 30"/>
<path d="M0 32l62 1 62-1 62 1 62 1 62 1 62 1 62 1 62 1 62 1 62 3 62 4 62 18 62 25 62 15 62 13 62-2 62-9 62-13 62-20 62-25 62-3 62-10 62-4 62-3 62-4 62-9 62 1 62 3 62 7 62 25"/>
<path d="M0 288l62 12 62-9 62 6 62 13 62 9 62 4 62 12 62 2 62 10 62 33 62 59 62 193 62 192 62 64 62 55 62 17 62-80 62-95 62-173 62-181 62-83 62-54 62-40 62-32 62-25 62-50 62 15 62 0 62 53 62 208"/>
<path d="M0 230l62 9 62-9 62 8 62 7 62 8 62 6 62 9 62 4 62 11 62 24 62 44 62 155 62 164 62 67 62 57 62 16 62-66 62-85 62-141 62-138 62-71 62-32 62-65 62-14 62-47 62-35 62 10 62-12 62 63 62 181"/>
<path d="M0 267l62 10 62-7 62 8 62 11 62 7 62 9 62 7 62 1 62 6 62 24 62 43 62 167 62 178 62 69 62 44 62 16 62-73 62-89 62-142 62-154 62-83 62 19 62-44 62-75 62-5 62-81 62 2 62-12 62 82 62 172"/>
<path d="M0 124l62 4 62-5 62 3 62 6 62 3 62 4 62 4 62 1 62 3 62 14 62 19 62 77 62 90 62 47 62 32 62 8 62-35 62-41 62-84 62-80 62-30 62-25 62 2 62-34 62-25 62-23 62 8 62-11 62 32 62 91"/>
<path d="M0 245l62 3 62-11 62 4 62 6 62 7 62 6 62 9 62 3 62 6 62 25 62 42 62 158 62 171 62 58 62 50 62 6 62-66 62-71 62-146 62-137 62-15 62-77 62-42 62-16 62-51 62-16 62-42 62 27 62 13 62 196"/>
<path d="M0 152l62 6 62-6 62 3 62 5 62 7 62 5 62 4 62 2 62 7 62 15 62 29 62 103 62 118 62 57 62 39 62 4 62-37 62-53 62-102 62-107 62-60 62-51 62 14 62-32 62-27 62-19 62 0 62 14 62 45 62 117"/>
<path d="M0 303l62 12 62-12 62 5 62 11 62 10 62 10 62 10 62 3 62 8 62 28 62 59 62 186 62 192 62 71 62 49 62 17 62-75 62-109 62-158 62-161 62-57 62-93 62 9 62-37 62-96 62-9 62-14 62-23 62 74 62 203"/>
<path d="M0 52l62 2 62-1 62 1 62 1 62 2 62 2 62 2 62 1 62 1 62 5 62 7 62 32 62 43 62 23 62 14 62 3 62-15 62-19 62-34 62-37 62-9 62-13 62 5 62-22 62-1 62-16 62 3 62 1 62 14 62 40"/>
<path d="M0 216l62 7 62-11 62 5 62 3 62 12 62 8 62 15 62 5 62 6 62 27 62 40 62 141 62 160 62 62 62 38 62 17 62-57 62-79 62-131 62-146 62-37 62-81 62-16 62-3 62-56 62-41 62 13 62-12 62 48 62 188"/>
<path d="M0 84l62 4 62-3 62 3 62 3 62 3 62 3 62 3 62 0 62 2 62 9 62 10 62 49 62 60 62 35 62 29 62 0 62-27 62-36 62-54 62-47 62-13 62-10 62-5 62-24 62-13 62-19 62 3 62-2 62 15 62 68"/>
<path d="M0 289l62 7 62-9 62 7 62 5 62 12 62 7 62 7 62 4 62 11 62 27 62 58 62 186 62 190 62 70 62 57 62 16 62-97 62-95 62-183 62-170 62-29 62-126 62 16 62-42 62-16 62-38 62-18 62 0 62 54 62 220"/>
<path d="M0 62l62 2 62-2 62 2 62 2 62 3 62 1 62 3 62 1 62 3 62 7 62 10 62 40 62 48 62 27 62 20 62-2 62-18 62-23 62-43 62-39 62-21 62-20 62 1 62-13 62-8 62-5 62-9 62 3 62 16 62 51"/>
<path d="M0 67l62 3 62-3 62 3 62 1 62 2 62 0 62 2 62 0 62 2 62 8 62 9 62 40 62 52 62 30 62 17 62 4 62-24 62-26 62-40 62-44 62-18 62-17 62 4 62-8 62-18 62-12 62 1 62 0 62 15 62 57"/>
<path d="M0 201l62 6 62-8 62 4 62 5 62 8 62 5 62 10 62 4 62 6 62 16 62 32 62 123 62 137 62 57 62 44 62 11 62-53 62-59 62-128 62-120 62-47 62-27 62-26 62-30 62-29 62-34 62-9 62-9 62 40 62 165"/>
<path d="M0 195l62 4 62-7 62 4 62 7 62 5 62 6 62 8 62 1 62 4 62 22 62 32 62 120 62 130 62 48 62 31 62 3 62-47 62-60 62-116 62-119 62-21 62-34 62 1 62-69 62-25 62-28 62-3 62 0 62 40 62 149"/>
<path d="M0 106l62 5 62-3 62 4 62 2 62 3 62 0 62 3 62-2 62 4 62 12 62 18 62 66 62 83 62 34 62 27 62 2 62-29 62-43 62-64 62-65 62-22 62-13 62-19 62-13 62-23 62-20 62 2 62 1 62 23 62 86"/>
<path d="M0 42l62 1 62-2 62 1 62 1 62 1 62 1 62 1 62 1 62 1 62 5 62 4 62 24 62 32 62 18 62 14 62 0 62-11 62-16 62-26 62-27 62-12 62-10 62 5 62-10 62-9 62-5 62 0 62-5 62 12 62 30"/>
<path d="M0 208l62 9 62-3 62 7 62 8 62 7 62 6 62 6 62 2 62 8 62 23 62 40 62 139 62 147 62 76 62 49 62 24 62-75 62-71 62-148 62-125 62-18 62-89 62-10 62-23 62-51 62-11 62-25 62 4 62 53 62 188"/>
<path d="M0 212l62 9 62-6 62 7 62 5 62 9 62 5 62 10 62 0 62 9 62 30 62 53 62 148 62 158 62 52 62 31 62-11 62-47 62-74 62-132 62-144 62-51 62-71 62-1 62-33 62-37 62-21 62 16 62-31 62 57 62 165"/>
<path d="M0 284l62 11 62-10 62 9 62 8 62 12 62 12 62 12 62 9 62 8 62 33 62 65 62 203 62 205 62 75 62 52 62 12 62-103 62-102 62-172 62-177 62-38 62-79 62 22 62-68 62-89 62-39 62-18 62-17 62 97 62 192"/>
<path d="M0 4l62 0 62 0 62 0 62 0 62 1 62 0 62 0 62 0 62 0 62 1 62 0 62 2 62 4 62 2 62 1 62 0 62-1 62-2 62-3 62-2 62-1 62-1 62-1 62 0 62-1 62 0 62-1 62 0 62 1 62 4"/>
<path d="M0 87l62 3 62-3 62 3 62 2 62 4 62 2 62 4 62 1 62 4 62 10 62 14 62 55 62 71 62 36 62 22 62 5 62-31 62-36 62-54 62-55 62-22 62-20 62 17 62-36 62-22 62-11 62-7 62 6 62 20 62 73"/>
<path d="M0 69l62 3 62-1 62 2 62 3 62 3 62 2 62 3 62 1 62 3 62 8 62 11 62 47 62 55 62 31 62 19 62 3 62-27 62-26 62-48 62-41 62-13 62-16 62-22 62 4 62-19 62-16 62-8 62 13 62 20 62 52"/>
<path d="M0 164l62 5 62-5 62 4 62 6 62 8 62 8 62 7 62 2 62 8 62 16 62 28 62 107 62 130 62 56 62 55 62-10 62-50 62-74 62-101 62-107 62-36 62-42 62-2 62-25 62-40 62-14 62-3 62-3 62 32 62 142"/>
<path d="M0 300l62 12 62-9 62 10 62 10 62 14 62 9 62 15 62 6 62 7 62 31 62 70 62 208 62 210 62 76 62 43 62 6 62-95 62-107 62-199 62-171 62-26 62-105 62 32 62-76 62-74 62-36 62 8 62-20 62 90 62 185"/>
<path d="M0 210l62 9 62-6 62 10 62 10 62 5 62 4 62 6 62-1 62 9 62 21 62 41 62 134 62 148 62 56 62 58 62 6 62-76 62-78 62-123 62-126 62-35 62-67 62-37 62-7 62-60 62 6 62 0 62-23 62 53 62 175"/>
<path d="M0 13l62 0 62 0 62 0 62 0 62 1 62 0 62 1 62 0 62 0 62 2 62 1 62 8 62 10 62 6 62 4 62-1 62-3 62-4 62-9 62-8 62-4 62-2 62-1 62-2 62-2 62-4 62 0 62 1 62 2 62 12"/>
<path d="M0 302l62 14 62-3 62 9 62 13 62 12 62 10 62 13 62 6 62 4 62 31 62 66 62 207 62 207 62 64 62 51 62 12 62-96 62-104 62-182 62-194 62-97 62-36 62-51 62 29 62-95 62-12 62-31 62 5 62 89 62 197"/>
<path d="M0 185l62 10 62-3 62 8 62 11 62 11 62 7 62 12 62 6 62 8 62 23 62 41 62 134 62 148 62 58 62 42 62 0 62-44 62-75 62-128 62-141 62-64 62-18 62-3 62-64 62-22 62-22 62-27 62 34 62 37 62 152"/>
<path d="M0 278l62 11 62-10 62 7 62 6 62 11 62 8 62 12 62 4 62 10 62 30 62 60 62 186 62 186 62 68 62 43 62 4 62-68 62-88 62-174 62-168 62-98 62-22 62-2 62-37 62-72 62-49 62-4 62-15 62 91 62 170"/>
<path d="M0 136l62 5 62-3 62 5 62 6 62 3 62 3 62 5 62 2 62 5 62 16 62 21 62 88 62 106 62 50 62 50 62-2 62-42 62-56 62-92 62-91 62-51 62-19 62 3 62-27 62-10 62-25 62-15 62 1 62 34 62 111"/>
<path d="M0 239l62 8 62-9 62 7 62 9 62 8 62 5 62 9 62 5 62 4 62 27 62 51 62 157 62 165 62 59 62 36 62 1 62-64 62-77 62-146 62-144 62-49 62-47 62-10 62-51 62-32 62-44 62-15 62 27 62 39 62 188"/>
<path d="M0 196l62 6 62-6 62 6 62 9 62 7 62 8 62 6 62 4 62 7 62 22 62 40 62 137 62 157 62 55 62 72 62-1 62-37 62-74 62-134 62-149 62-44 62-84 62 7 62-41 62-38 62-5 62-21 62-22 62 60 62 172"/>
<path d="M0 56l62 3 62-1 62 3 62 3 62 2 62 1 62 1 62 1 62 1 62 6 62 7 62 38 62 47 62 23 62 15 62 2 62-21 62-21 62-39 62-39 62-7 62-19 62 5 62-19 62-1 62-15 62 0 62-1 62 14 62 45"/>
<path d="M0 41l62 2 62-1 62 1 62 2 62 2 62 0 62 2 62 1 62 1 62 4 62 5 62 24 62 31 62 18 62 15 62 1 62-14 62-18 62-25 62-25 62-8 62-9 62-6 62-6 62-9 62-4 62-1 62 0 62 10 62 35"/>
<path d="M0 171l62 6 62-5 62 8 62 5 62 5 62 2 62 7 62 1 62 3 62 20 62 33 62 108 62 130 62 51 62 35 62 13 62-48 62-59 62-110 62-116 62-39 62-42 62-7 62-21 62-26 62-44 62 2 62 0 62 43 62 126"/>
<path d="M0 110l62 4 62-3 62 4 62 2 62 5 62 5 62 4 62 1 62 3 62 12 62 12 62 67 62 82 62 49 62 27 62 9 62-46 62-43 62-65 62-61 62-33 62-14 62-28 62-11 62-17 62-10 62-15 62 11 62 20 62 93"/>
<path d="M0 268l62 10 62-11 62 10 62 8 62 4 62 2 62 7 62 0 62 11 62 33 62 53 62 172 62 187 62 61 62 49 62-1 62-72 62-89 62-152 62-156 62-73 62-45 62 8 62-68 62-42 62-56 62 36 62-14 62 66 62 175"/>
<path d="M0 159l62 4 62-7 62 4 62 1 62 6 62 4 62 4 62 2 62 4 62 12 62 25 62 96 62 112 62 53 62 35 62 1 62-33 62-59 62-96 62-99 62-3 62-71 62 15 62-33 62-12 62-37 62-9 62 0 62 38 62 111"/>
<path d="M0 166l62 7 62-5 62 7 62 5 62 7 62 3 62 8 62 1 62 6 62 18 62 27 62 108 62 133 62 63 62 44 62-3 62-48 62-59 62-119 62-102 62-4 62-65 62 24 62-26 62-54 62-50 62-9 62 13 62 29 62 141"/>
<path d="M0 193l62 8 62-4 62 6 62 8 62 7 62 6 62 9 62 4 62 2 62 20 62 32 62 126 62 131 62 61 62 43 62-4 62-45 62-61 62-121 62-118 62-73 62-39 62-8 62-38 62-23 62-29 62 1 62 6 62 53 62 142"/>
<path d="M0 150l62 5 62-4 62 4 62 5 62 7 62 6 62 7 62 2 62 4 62 16 62 25 62 98 62 115 62 54 62 40 62 3 62-47 62-53 62-105 62-93 62-4 62-47 62 44 62-83 62-38 62-31 62 8 62 1 62 24 62 130"/>
<path d="M0 213l62 10 62-5 62 8 62 9 62 7 62 3 62 7 62 3 62 6 62 25 62 46 62 149 62 172 62 58 62 45 62 3 62-56 62-78 62-138 62-144 62-39 62-51 62-50 62-27 62-13 62-30 62-28 62-7 62 74 62 172"/>
<path d="M0 53l62 2 62-1 62 2 62 2 62 1 62 1 62 2 62 0 62 2 62 4 62 8 62 29 62 39 62 23 62 18 62-1 62-19 62-21 62-34 62-31 62-11 62-4 62-13 62-2 62-15 62-4 62-6 62 2 62 9 62 45"/>
<path d="M0 95l62 3 62-3 62 2 62 4 62 3 62 2 62 4 62 1 62 2 62 10 62 13 62 57 62 72 62 38 62 23 62 6 62-31 62-40 62-59 62-58 62-29 62-12 62-9 62-8 62-18 62-14 62-11 62 1 62 14 62 86"/>
<path d="M0 102l62 4 62-4 62 4 62 4 62 6 62 2 62 5 62 1 62 4 62 11 62 15 62 65 62 77 62 45 62 29 62-1 62-38 62-38 62-69 62-63 62-30 62-12 62-17 62-17 62-20 62-9 62 10 62-8 62 14 62 90"/>
<path d="M0 55l62 1 62-2 62 2 62 2 62 2 62 0 62 3 62 0 62 2 62 6 62 7 62 33 62 45 62 24 62 14 62 4 62-21 62-20 62-35 62-34 62-13 62-12 62 0 62-11 62-10 62-18 62 5 62-3 62 11 62 51"/>
<path d="M0 264l62 9 62-7 62 6 62 12 62 7 62 0 62 10 62-3 62 14 62 36 62 60 62 194 62 202 62 58 62 43 62-4 62-68 62-91 62-178 62-150 62-68 62-109 62 24 62-70 62 6 62-67 62 7 62-7 62 85 62 193"/>
<path d="M0 117l62 5 62-3 62 7 62 6 62 5 62 4 62 5 62 2 62 2 62 10 62 15 62 68 62 81 62 47 62 39 62 5 62-33 62-47 62-77 62-80 62-5 62-55 62-5 62-11 62-35 62 12 62-25 62 13 62 28 62 81"/>
<path d="M0 114l62 4 62-4 62 4 62 3 62 4 62 5 62 5 62 2 62 4 62 12 62 17 62 71 62 85 62 44 62 25 62 11 62-40 62-41 62-71 62-73 62 9 62-64 62 15 62-34 62-14 62-21 62-12 62 2 62 29 62 96"/>
<path d="M0 127l62 3 62-2 62 5 62 4 62 6 62 5 62 5 62 2 62 5 62 15 62 23 62 82 62 96 62 48 62 42 62-4 62-44 62-52 62-85 62-79 62-35 62-32 62-5 62-24 62-10 62-20 62 0 62 13 62 3 62 114"/>
<path d="M0 80l62 3 62-4 62 2 62 2 62 2 62 2 62 3 62 0 62 2 62 8 62 9 62 43 62 58 62 33 62 23 62 5 62-20 62-31 62-48 62-50 62-7 62-23 62-17 62-2 62-16 62-17 62 7 62-8 62 19 62 63"/>
<path d="M0 62l62 1 62-2 62 2 62 2 62 2 62 0 62 3 62 0 62 2 62 7 62 5 62 34 62 47 62 28 62 23 62 4 62-22 62-22 62-40 62-36 62-12 62-13 62-4 62-13 62-11 62-7 62-6 62 0 62 21 62 46"/>
<path d="M0 260l62 14 62-5 62 15 62 14 62 12 62 7 62 13 62 3 62 13 62 32 62 68 62 200 62 202 62 65 62 49 62 0 62-80 62-109 62-165 62-172 62-65 62-49 62-28 62-4 62-96 62-58 62 9 62 2 62 49 62 239"/>
<path d="M0 44l62 1 62-1 62 2 62 2 62 1 62 2 62 3 62 0 62 2 62 5 62 5 62 28 62 34 62 23 62 10 62 2 62-12 62-18 62-30 62-31 62-4 62-12 62-5 62-10 62-4 62-12 62 4 62 0 62 3 62 43"/>
<path d="M0 171l62 5 62-7 62 4 62 3 62 7 62 5 62 8 62 3 62 5 62 21 62 33 62 113 62 131 62 52 62 46 62-12 62-38 62-64 62-102 62-118 62 4 62-58 62-8 62-35 62-31 62-40 62 1 62-15 62 44 62 133"/>
<path d="M0 272l62 13 62-11 62 7 62 11 62 10 62 9 62 12 62-1 62 9 62 26 62 51 62 171 62 185 62 73 62 64 62-2 62-56 62-99 62-158 62-167 62-28 62-91 62-45 62-15 62-51 62-59 62 19 62-17 62 78 62 198"/>
<path d="M0 101l62 4 62-3 62 4 62 3 62 4 62 1 62 3 62 0 62 6 62 11 62 14 62 59 62 73 62 46 62 28 62 0 62-34 62-38 62-60 62-62 62-14 62-37 62-11 62-12 62-10 62-17 62-3 62-3 62 21 62 85"/>
<path d="M0 14l62 0 62 0 62 0 62 1 62 0 62 0 62 1 62 0 62 0 62 2 62 1 62 8 62 11 62 7 62 5 62 0 62-5 62-5 62-8 62-10 62-2 62-4 62-1 62-4 62-2 62-1 62-1 62 0 62 6 62 10"/>
<path d="M0 271l62 8 62-7 62 9 62 8 62 5 62 5 62 9 62-1 62 11 62 36 62 62 62 186 62 188 62 69 62 39 62 4 62-58 62-85 62-161 62-181 62-33 62-109 62 53 62-96 62-19 62-64 62-25 62 29 62 55 62 191"/>
<path d="M0 274l62 12 62-12 62 14 62 10 62 10 62 4 62 8 62 3 62 8 62 26 62 54 62 174 62 178 62 60 62 46 62-7 62-58 62-95 62-151 62-181 62-41 62-34 62-11 62-73 62-14 62-57 62 0 62-2 62 60 62 190"/>
<path d="M0 100l62 4 62-3 62 2 62 4 62 3 62 2 62 4 62 1 62 4 62 10 62 13 62 60 62 77 62 42 62 31 62 8 62-33 62-36 62-68 62-71 62-13 62-44 62 6 62-13 62-21 62-6 62-18 62 3 62 29 62 81"/>
<path d="M0 78l62 3 62-3 62 3 62 3 62 2 62 1 62 2 62 1 62 1 62 8 62 11 62 45 62 55 62 34 62 20 62-4 62-19 62-33 62-45 62-49 62-24 62-12 62-6 62-12 62-11 62-10 62-3 62 6 62 22 62 51"/>
<path d="M0 223l62 5 62-6 62 4 62 5 62 8 62 5 62 10 62 4 62 6 62 24 62 39 62 141 62 156 62 61 62 46 62 4 62-62 62-89 62-123 62-139 62-31 62-53 62 6 62-31 62-44 62-48 62-24 62 9 62 57 62 163"/>
<path d="M0 64l62 4 62-2 62 2 62 3 62 3 62 1 62 2 62 1 62 2 62 8 62 10 62 41 62 54 62 27 62 19 62 5 62-19 62-24 62-48 62-46 62-18 62-4 62 6 62-26 62-11 62-9 62-4 62-1 62 16 62 43"/>
<path d="M0 257l62 8 62-8 62 8 62 10 62 10 62 8 62 8 62 5 62 8 62 31 62 51 62 173 62 191 62 54 62 54 62-7 62-78 62-90 62-162 62-156 62-48 62-88 62-5 62 12 62-75 62-24 62-22 62 6 62 50 62 198"/>
<path d="M0 129l62 5 62-5 62 5 62 3 62 6 62 5 62 8 62 3 62 2 62 13 62 19 62 81 62 100 62 46 62 41 62 2 62-44 62-49 62-80 62-88 62-13 62-50 62 1 62-33 62-12 62-20 62 11 62-9 62 22 62 106"/>
<path d="M0 109l62 2 62-3 62 3 62 1 62 5 62 3 62 5 62 0 62 4 62 12 62 18 62 68 62 86 62 41 62 30 62-2 62-19 62-37 62-73 62-75 62-25 62-24 62 4 62-15 62-30 62-31 62-8 62 12 62 21 62 88"/>
<path d="M0 272l62 9 62-9 62 7 62 10 62 5 62 5 62 7 62-1 62 6 62 24 62 45 62 165 62 184 62 60 62 63 62 15 62-77 62-80 62-156 62-181 62-37 62-51 62 6 62-62 62-83 62-6 62-30 62-3 62 60 62 208"/>
<path d="M0 172l62 5 62-7 62 6 62 2 62 4 62 3 62 5 62 2 62 4 62 17 62 21 62 95 62 107 62 56 62 54 62-4 62-48 62-59 62-91 62-103 62-16 62-27 62-14 62-33 62-44 62-9 62-14 62 2 62 32 62 124"/>
<path d="M0 100l62 3 62-3 62 4 62 2 62 5 62 4 62 5 62 3 62 2 62 10 62 10 62 57 62 69 62 44 62 41 62-3 62-34 62-34 62-69 62-61 62-29 62-22 62-8 62-6 62-22 62-17 62 2 62-15 62 29 62 85"/>
<path d="M0 111l62 7 62-3 62 5 62 6 62 4 62 3 62 5 62 1 62 4 62 13 62 20 62 73 62 90 62 38 62 31 62-8 62-20 62-48 62-75 62-67 62-45 62-20 62-4 62-19 62-10 62-31 62-5 62 4 62 25 62 95"/>
<path d="M0 74l62 2 62-2 62 3 62 3 62 3 62 2 62 3 62 1 62 3 62 8 62 12 62 44 62 60 62 30 62 22 62 4 62-24 62-27 62-48 62-50 62-17 62-23 62-2 62-18 62-6 62-10 62-3 62-3 62 23 62 59"/>
<path d="M0 18l62 0 62-1 62 1 62 0 62 1 62 1 62 1 62 0 62 1 62 1 62 2 62 10 62 13 62 10 62 5 62 0 62-6 62-6 62-12 62-10 62-2 62-8 62 0 62 0 62-4 62-5 62-1 62-1 62 5 62 16"/>
<path d="M0 63l62 2 62-3 62 2 62 2 62 2 62 1 62 3 62 0 62 1 62 6 62 8 62 37 62 51 62 28 62 22 62 2 62-23 62-24 62-39 62-41 62-15 62-20 62-3 62-6 62-10 62-6 62-6 62 3 62 13 62 51"/>
<path d="M0 8l62 1 62-1 62 0 62 1 62 0 62 0 62 0 62 0 62 1 62 1 62 0 62 5 62 7 62 3 62 3 62 1 62-3 62-3 62-6 62-5 62-3 62-2 62 0 62 0 62-3 62 0 62 0 62 0 62 1 62 7"/>
<path d="M0 69l62 2 62-2 62 1 62 1 62 3 62 1 62 2 62 1 62 1 62 6 62 11 62 41 62 54 62 24 62 15 62-1 62-15 62-19 62-47 62-41 62-13 62-29 62 1 62-13 62-3 62-14 62-7 62 8 62 8 62 63"/>
<path d="M0 54l62 1 62-1 62 1 62 1 62 2 62 1 62 0 62 1 62 1 62 6 62 7 62 32 62 43 62 20 62 14 62 5 62-17 62-19 62-33 62-36 62-7 62-24 62 2 62-17 62-3 62-4 62-2 62 3 62 14 62 41"/>
<path d="M0 3l62 0 62 0 62 1 62 0 62 0 62 0 62 0 62 0 62 0 62 1 62 0 62 2 62 3 62 2 62 0 62 0 62-1 62-1 62-2 62-3 62 0 62-1 62 0 62 0 62-1 62-1 62 0 62 0 62 1 62 2"/>
<path d="M0 32l62 1 62-1 62 1 62 1 62 1 62 1 62 2 62 0 62 1 62 4 62 4 62 18 62 24 62 16 62 11 62-1 62-11 62-11 62-21 62-21 62-1 62-11 62-5 62-1 62-15 62 1 62-3 62-2 62 13 62 25"/>
<path d="M0 133l62 6 62-5 62 4 62 5 62 3 62 4 62 4 62 1 62 4 62 15 62 19 62 87 62 104 62 49 62 36 62 8 62-41 62-46 62-88 62-84 62 15 62-61 62-33 62-20 62-18 62-26 62-14 62 2 62 36 62 106"/>
<path d="M0 185l62 3 62-7 62 4 62 4 62 5 62 3 62 5 62 1 62 6 62 17 62 29 62 111 62 134 62 53 62 54 62-14 62-38 62-68 62-115 62-88 62-45 62-57 62 8 62-28 62-21 62-47 62 3 62-15 62 45 62 132"/>
<path d="M0 34l62 2 62-1 62 2 62 1 62 1 62 1 62 2 62-1 62 2 62 3 62 5 62 20 62 28 62 16 62 11 62 1 62-9 62-14 62-23 62-25 62-1 62-22 62 8 62-9 62-7 62-5 62-2 62-1 62 15 62 23"/>
<path d="M0 186l62 7 62-6 62 9 62 7 62 7 62 7 62 7 62 4 62 8 62 17 62 29 62 122 62 135 62 71 62 48 62-1 62-60 62-71 62-119 62-112 62-52 62-61 62 8 62-30 62-41 62-16 62-15 62 10 62 25 62 170"/>
<path d="M0 208l62 5 62-5 62 5 62 9 62 5 62 7 62 7 62 1 62 7 62 23 62 40 62 133 62 157 62 56 62 41 62 10 62-65 62-78 62-127 62-114 62-64 62-57 62 10 62-22 62-24 62-39 62-21 62 9 62 47 62 153"/>
<path d="M0 258l62 10 62-9 62 6 62 8 62 7 62 8 62 8 62 4 62 3 62 30 62 44 62 172 62 177 62 60 62 29 62-19 62-36 62-82 62-146 62-153 62-16 62-54 62 1 62-83 62-54 62-34 62-13 62 0 62 48 62 198"/>
<path d="M0 115l62 4 62-5 62 4 62 1 62 5 62 4 62 6 62 1 62 3 62 9 62 14 62 69 62 82 62 44 62 35 62-1 62-33 62-44 62-71 62-70 62-14 62-34 62 11 62-44 62-26 62-16 62 15 62-11 62 29 62 98"/>
<path d="M0 2l62 0 62 0 62 0 62 0 62 0 62 0 62 0 62 0 62 0 62 0 62 0 62 1 62 1 62 1 62 0 62 1 62-1 62-1 62 0 62-2 62 0 62 0 62 0 62-1 62 0 62 0 62 0 62 0 62 0 62 2"/>
<path d="M0 7l62 0 62 0 62 0 62 0 62 0 62 1 62 0 62 0 62 0 62 1 62 1 62 4 62 5 62 4 62 1 62 1 62-2 62-2 62-5 62-5 62-3 62 0 62-1 62 0 62-2 62-1 62 0 62 0 62 1 62 6"/>
<path d="M0 191l62 4 62-6 62 4 62 4 62 6 62 4 62 6 62 4 62 5 62 25 62 37 62 123 62 134 62 57 62 36 62 6 62-63 62-66 62-106 62-118 62-13 62-56 62-30 62-17 62-46 62-29 62-12 62 0 62 51 62 148"/>
<path d="M0 113l62 4 62-4 62 3 62 4 62 4 62 3 62 5 62 3 62 5 62 11 62 14 62 67 62 82 62 42 62 31 62-4 62-36 62-43 62-69 62-70 62-15 62-32 62 4 62-11 62-40 62 0 62-13 62 5 62 24 62 89"/>
<path d="M0 28l62 2 62-1 62 1 62 0 62 1 62 1 62 1 62 1 62 0 62 4 62 2 62 17 62 21 62 13 62 11 62 1 62-9 62-10 62-17 62-21 62-8 62-4 62-5 62-2 62-5 62-6 62-1 62-1 62 9 62 26"/>
<path d="M0 53l62 2 62-2 62 2 62 2 62 1 62 2 62 1 62 1 62 1 62 5 62 6 62 31 62 41 62 21 62 14 62 1 62-13 62-21 62-33 62-34 62-9 62-10 62-6 62-4 62-16 62-4 62-1 62-2 62 10 62 46"/>
<path d="M0 244l62 7 62-7 62 6 62 6 62 10 62 5 62 10 62 4 62 6 62 23 62 43 62 153 62 171 62 57 62 51 62-1 62-48 62-76 62-144 62-160 62-36 62-53 62-50 62-35 62-32 62-27 62-6 62-5 62 62 62 175"/>
<path d="M0 85l62 2 62-4 62 2 62 2 62 2 62 2 62 4 62 1 62 2 62 10 62 12 62 50 62 61 62 31 62 20 62-3 62-22 62-31 62-51 62-54 62-13 62-20 62 1 62-10 62-18 62-10 62-12 62 11 62 5 62 69"/>
<path d="M0 183l62 8 62-6 62 6 62 7 62 6 62 5 62 7 62-2 62 7 62 20 62 35 62 124 62 145 62 55 62 31 62 16 62-56 62-68 62-114 62-116 62-35 62-83 62-6 62-20 62-18 62-22 62-13 62-1 62 50 62 139"/>
<path d="M0 182l62 9 62-6 62 7 62 7 62 9 62 4 62 8 62 0 62 8 62 21 62 31 62 127 62 144 62 63 62 46 62 2 62-38 62-70 62-124 62-127 62-53 62-49 62 14 62-74 62-3 62-49 62 26 62-43 62 63 62 159"/>
<path d="M0 108l62 4 62-4 62 4 62 3 62 3 62 3 62 4 62 0 62 4 62 11 62 15 62 67 62 83 62 41 62 30 62 3 62-32 62-42 62-69 62-71 62-12 62-35 62-9 62-30 62-4 62-15 62-14 62 17 62 22 62 86"/>
<path d="M0 251l62 8 62-7 62 8 62 6 62 10 62 8 62 9 62 3 62 8 62 21 62 39 62 156 62 177 62 58 62 51 62 20 62-87 62-94 62-136 62-135 62-77 62-16 62 12 62-86 62-54 62-11 62-3 62-22 62 58 62 194"/>
<path d="M0 274l62 11 62-12 62 11 62 7 62 9 62 4 62 8 62 1 62 9 62 31 62 63 62 182 62 183 62 53 62 51 62 0 62-65 62-97 62-160 62-172 62-41 62-81 62-12 62-53 62-19 62-59 62 10 62-4 62 31 62 249"/>
<path d="M0 186l62 7 62-4 62 5 62 10 62 5 62 3 62 8 62 2 62 6 62 24 62 38 62 130 62 138 62 53 62 42 62-10 62-68 62-73 62-112 62-108 62-8 62-51 62-24 62-13 62-54 62-28 62-2 62 6 62 26 62 147"/>
<path d="M0 145l62 4 62-6 62 3 62 3 62 5 62 4 62 6 62 0 62 4 62 14 62 22 62 86 62 103 62 49 62 38 62-3 62-36 62-51 62-87 62-84 62-31 62-37 62-12 62-39 62-9 62-30 62 5 62 3 62 32 62 117"/>
<path d="M0 17l62 0 62 0 62 0 62 0 62 1 62 0 62 1 62 0 62 0 62 2 62 2 62 9 62 13 62 8 62 3 62 1 62-4 62-6 62-11 62-10 62-4 62-5 62 0 62-4 62-2 62-2 62-2 62 1 62 5 62 13"/>
<path d="M0 145l62 5 62-4 62 6 62 6 62 3 62 4 62 5 62 3 62 3 62 15 62 22 62 94 62 110 62 53 62 41 62-4 62-52 62-58 62-91 62-89 62-37 62-56 62 9 62-23 62-11 62-19 62-2 62 2 62 34 62 103"/>
<path d="M0 112l62 4 62-3 62 4 62 3 62 4 62 4 62 4 62 3 62 2 62 12 62 18 62 71 62 85 62 48 62 35 62-1 62-37 62-41 62-74 62-83 62-17 62-25 62-2 62-21 62-26 62-14 62-10 62 7 62 25 62 96"/>
<path d="M0 45l62 2 62-1 62 2 62 2 62 2 62 0 62 2 62 0 62 2 62 4 62 6 62 29 62 37 62 19 62 15 62 0 62-16 62-17 62-30 62-30 62-4 62-13 62 1 62-14 62-6 62-11 62 0 62-1 62 17 62 33"/>
<path d="M0 120l62 4 62-2 62 5 62 5 62 4 62 2 62 4 62 2 62 6 62 13 62 20 62 76 62 90 62 52 62 37 62 0 62-43 62-46 62-76 62-84 62-4 62-37 62-22 62-31 62-16 62-7 62-1 62-11 62 41 62 95"/>
<path d="M0 268l62 7 62-7 62 9 62 9 62 11 62 7 62 13 62 1 62 12 62 27 62 53 62 183 62 183 62 57 62 60 62 9 62-81 62-91 62-153 62-174 62-38 62-95 62-1 62-51 62-29 62-46 62-15 62 34 62 38 62 199"/>
<path d="M0 141l62 7 62-4 62 7 62 6 62 4 62 4 62 4 62 0 62 3 62 18 62 23 62 94 62 111 62 50 62 36 62-9 62-39 62-51 62-95 62-93 62-17 62-55 62 15 62-33 62-24 62-15 62-18 62 22 62 6 62 131"/>
<path d="M0 173l62 8 62-4 62 7 62 7 62 6 62 2 62 8 62-1 62 8 62 22 62 34 62 116 62 130 62 54 62 45 62-1 62-45 62-60 62-109 62-113 62-50 62-3 62-37 62-35 62-20 62-40 62-20 62 19 62 34 62 146"/>
<path d="M0 194l62 9 62-5 62 8 62 9 62 4 62 7 62 4 62 1 62 9 62 23 62 40 62 128 62 142 62 59 62 40 62 6 62-52 62-67 62-120 62-126 62-3 62-82 62 18 62-60 62-34 62-29 62-24 62 11 62 37 62 164"/>
<path d="M0 13l62 0 62 0 62 0 62 1 62 0 62 0 62 1 62 0 62 1 62 1 62 1 62 8 62 10 62 6 62 5 62 2 62-5 62-6 62-8 62-9 62 0 62-6 62 1 62-1 62-5 62-2 62-1 62 0 62 4 62 11"/>
<path d="M0 143l62 6 62-6 62 4 62 4 62 4 62 2 62 4 62 0 62 5 62 16 62 19 62 86 62 108 62 50 62 46 62 4 62-42 62-49 62-95 62-89 62-41 62-12 62-24 62 1 62-61 62 6 62-17 62 1 62 24 62 128"/>
<path d="M0 2l62 0 62 0 62 0 62 0 62 0 62 0 62 0 62 0 62 0 62 0 62 0 62 1 62 2 62 1 62 0 62 0 62 0 62-1 62-1 62-1 62 0 62-1 62-1 62 1 62-1 62 0 62 0 62 0 62 0 62 2"/>
<path d="M0 76l62 3 62-3 62 2 62 3 62 2 62 3 62 2 62 1 62 2 62 8 62 10 62 47 62 63 62 31 62 18 62 3 62-25 62-29 62-49 62-47 62-3 62-37 62 22 62-25 62-17 62-18 62-4 62-7 62 22 62 71"/>
<path d="M0 89l62 4 62-2 62 4 62 3 62 4 62 2 62 4 62 2 62 2 62 8 62 11 62 50 62 66 62 42 62 31 62-3 62-24 62-34 62-58 62-59 62-17 62-20 62-9 62-16 62-6 62-32 62 4 62 5 62 19 62 79"/>
<path d="M0 24l62 2 62-1 62 1 62 1 62 1 62 0 62 1 62 1 62 1 62 3 62 4 62 15 62 21 62 13 62 8 62 2 62-9 62-9 62-18 62-17 62-8 62-9 62-1 62-2 62-4 62-5 62-2 62 3 62 2 62 24"/>
<path d="M0 204l62 8 62-8 62 7 62 4 62 7 62 5 62 7 62 0 62 5 62 26 62 36 62 132 62 150 62 56 62 35 62 2 62-50 62-71 62-120 62-129 62-25 62-61 62-39 62 25 62-71 62-45 62 8 62-2 62 25 62 201"/>
<path d="M0 280l62 10 62-9 62 9 62 10 62 2 62 2 62 8 62-3 62 10 62 28 62 64 62 185 62 187 62 72 62 59 62 20 62-73 62-94 62-167 62-173 62-74 62-18 62-11 62-81 62-70 62 2 62-34 62 14 62 76 62 180"/>
<path d="M0 48l62 2 62-1 62 1 62 2 62 1 62 0 62 2 62 0 62 2 62 6 62 5 62 30 62 41 62 21 62 16 62 2 62-16 62-18 62-33 62-32 62-13 62-8 62-8 62 0 62-10 62-10 62-7 62 2 62 13 62 43"/>
<path d="M0 300l62 10 62-11 62 11 62 10 62 8 62 4 62 11 62 0 62 5 62 25 62 48 62 180 62 185 62 68 62 64 62-6 62-96 62-98 62-172 62-153 62-66 62-19 62-22 62-47 62-25 62-69 62-18 62 2 62 44 62 224"/>
<path d="M0 155l62 5 62-4 62 5 62 6 62 6 62 5 62 6 62 3 62 5 62 13 62 26 62 92 62 109 62 56 62 44 62 9 62-48 62-56 62-99 62-102 62-45 62-11 62-8 62-43 62-12 62-27 62-9 62 6 62 27 62 138"/>
<path d="M0 101l62 3 62-3 62 3 62 4 62 3 62 1 62 3 62-1 62 3 62 12 62 15 62 62 62 75 62 37 62 15 62 7 62-29 62-33 62-61 62-65 62-17 62-28 62 5 62-4 62-43 62-8 62 0 62-3 62 10 62 89"/>
<path d="M0 294l62 12 62-8 62 13 62 14 62 6 62 9 62 9 62 3 62 10 62 28 62 62 62 202 62 213 62 63 62 37 62 10 62-100 62-98 62-176 62-181 62-40 62-61 62-14 62-62 62-35 62-51 62-10 62-7 62 47 62 234"/>
<path d="M0 172l62 7 62-5 62 7 62 5 62 8 62 5 62 7 62 4 62 7 62 19 62 32 62 112 62 135 62 59 62 39 62-10 62-36 62-62 62-113 62-109 62-42 62-34 62-30 62-56 62-17 62-6 62-12 62 9 62 47 62 126"/>
<path d="M0 245l62 10 62-7 62 9 62 11 62 5 62 9 62 8 62 5 62 10 62 30 62 55 62 179 62 184 62 58 62 43 62-10 62-62 62-85 62-163 62-146 62-57 62-22 62-7 62-75 62-36 62-53 62-22 62 17 62 60 62 190"/>
<path d="M0 260l62 11 62-2 62 11 62 14 62 6 62 4 62 8 62-2 62 10 62 29 62 58 62 182 62 198 62 54 62 62 62 12 62-80 62-96 62-159 62-173 62-74 62-71 62 37 62-44 62-77 62-36 62 5 62-7 62 14 62 245"/>
<path d="M0 134l62 8 62-2 62 6 62 7 62 5 62 1 62 6 62 2 62 1 62 14 62 19 62 87 62 103 62 50 62 34 62 4 62-44 62-46 62-89 62-97 62 21 62-66 62 11 62-8 62-62 62-27 62-12 62 16 62 30 62 100"/>
<path d="M0 27l62 1 62 0 62 1 62 2 62 0 62 1 62 1 62 1 62 0 62 3 62 3 62 17 62 23 62 12 62 7 62 2 62-8 62-11 62-17 62-19 62-3 62-16 62 1 62-5 62-3 62-6 62 1 62 1 62 7 62 23"/>
<path d="M0 194l62 6 62-5 62 10 62 8 62 5 62 2 62 6 62 0 62 7 62 22 62 34 62 128 62 147 62 60 62 39 62 5 62-63 62-67 62-122 62-118 62-60 62-44 62-2 62-60 62-7 62-18 62-28 62 14 62 57 62 136"/>
<path d="M0 27l62 1 62-1 62 1 62 1 62 1 62 1 62 1 62 0 62 1 62 3 62 3 62 16 62 21 62 13 62 8 62 0 62-6 62-10 62-18 62-19 62-5 62-8 62-1 62-3 62-6 62-8 62-1 62 2 62 5 62 24"/>
<path d="M0 15l62 1 62-1 62 1 62 1 62 0 62 1 62 0 62 0 62 1 62 2 62 1 62 10 62 12 62 8 62 6 62 1 62-6 62-6 62-10 62-11 62-5 62-2 62 3 62-7 62-3 62-2 62-1 62 0 62 4 62 14"/>
<path d="M0 240l62 9 62-7 62 8 62 7 62 9 62 4 62 9 62 5 62 7 62 21 62 43 62 151 62 164 62 61 62 42 62 9 62-65 62-96 62-134 62-147 62-17 62-70 62-33 62-50 62-9 62-41 62-11 62 5 62 35 62 201"/>
<path d="M0 163l62 9 62-4 62 5 62 9 62 6 62 5 62 6 62 5 62 1 62 15 62 26 62 106 62 127 62 49 62 52 62 1 62-47 62-63 62-107 62-110 62-43 62-28 62-22 62-13 62-31 62-27 62-3 62 13 62 12 62 140"/>
<path d="M0 157l62 6 62-3 62 6 62 6 62 6 62 5 62 6 62 1 62 5 62 15 62 29 62 103 62 116 62 48 62 30 62 10 62-51 62-50 62-97 62-101 62-43 62-17 62-14 62-37 62-23 62-35 62-8 62 12 62 33 62 130"/>
<path d="M0 100l62 2 62-2 62 5 62 4 62 2 62 4 62 3 62 1 62 3 62 10 62 13 62 63 62 77 62 37 62 33 62-4 62-30 62-38 62-66 62-72 62-4 62-42 62-5 62-23 62-10 62 4 62-11 62 2 62 16 62 89"/>
<path d="M0 33l62 1 62-2 62 1 62 1 62 0 62 1 62 1 62 0 62 1 62 3 62 3 62 17 62 24 62 13 62 10 62 0 62-10 62-11 62-21 62-20 62-11 62-5 62-5 62-2 62-1 62-3 62-3 62 2 62 3 62 26"/>
<path d="M0 186l62 4 62-2 62 9 62 5 62 9 62 6 62 6 62 4 62 4 62 20 62 33 62 123 62 136 62 65 62 47 62 1 62-55 62-51 62-125 62-116 62-54 62-34 62 1 62-30 62-60 62-22 62 0 62-13 62 27 62 173"/>
<path d="M0 233l62 6 62-9 62 6 62 5 62 8 62 5 62 6 62 3 62 6 62 27 62 44 62 156 62 166 62 59 62 21 62 10 62-45 62-68 62-153 62-150 62-48 62-79 62-20 62-6 62-28 62-24 62-11 62 10 62 35 62 171"/>
<path d="M0 102l62 3 62-2 62 3 62 4 62 3 62 2 62 6 62-1 62 4 62 12 62 16 62 62 62 79 62 46 62 30 62 5 62-33 62-35 62-70 62-67 62-28 62-15 62-7 62-44 62-5 62-13 62 0 62-10 62 22 62 95"/>
<path d="M0 148l62 4 62-5 62 4 62 5 62 3 62 4 62 3 62 3 62 3 62 13 62 23 62 90 62 102 62 54 62 35 62 5 62-42 62-51 62-87 62-82 62-41 62-57 62 16 62-16 62-40 62-12 62-8 62-6 62 29 62 127"/>
<path d="M0 295l62 11 62-10 62 8 62 10 62 8 62 4 62 10 62 2 62 8 62 29 62 55 62 182 62 191 62 65 62 52 62 1 62-77 62-95 62-166 62-197 62-18 62-85 62-66 62 7 62-54 62-20 62-19 62-1 62 48 62 234"/>
<path d="M0 110l62 4 62-2 62 2 62 3 62 3 62 2 62 4 62-1 62 3 62 11 62 14 62 68 62 83 62 43 62 24 62 5 62-37 62-41 62-68 62-64 62-33 62-29 62 1 62-19 62-13 62-12 62 2 62-6 62 20 62 91"/>
<path d="M0 258l62 10 62-6 62 10 62 10 62 10 62 11 62 8 62 8 62 2 62 22 62 44 62 166 62 179 62 67 62 49 62 2 62-70 62-91 62-161 62-159 62-42 62-60 62-18 62-32 62-55 62-33 62-38 62 22 62 85 62 181"/>
<path d="M0 18l62 0 62-1 62 0 62 1 62 0 62 1 62 1 62 0 62 0 62 2 62 2 62 9 62 13 62 9 62 7 62-1 62-6 62-5 62-11 62-12 62-2 62-7 62-3 62-1 62-3 62-3 62 0 62 2 62 3 62 14"/>
<path d="M0 173l62 4 62-5 62 5 62 5 62 6 62 4 62 5 62 1 62 9 62 16 62 27 62 110 62 131 62 61 62 45 62 6 62-50 62-71 62-109 62-100 62-41 62-55 62 6 62-33 62-32 62-26 62-2 62-14 62 45 62 137"/>
<path d="M0 42l62 1 62 0 62 1 62 1 62 2 62 0 62 2 62 0 62 1 62 5 62 3 62 23 62 32 62 18 62 15 62-1 62-14 62-15 62-27 62-22 62-10 62-16 62 8 62-15 62-1 62-7 62-5 62 1 62 9 62 34"/>
<path d="M0 85l62 4 62-2 62 4 62 3 62 4 62 2 62 4 62 1 62 3 62 8 62 12 62 55 62 73 62 36 62 24 62 2 62-29 62-33 62-61 62-61 62-6 62-46 62 19 62-38 62-6 62-8 62-1 62 0 62 15 62 72"/>
<path d="M0 18l62 1 62 0 62 0 62 1 62 1 62 0 62 1 62 0 62 0 62 2 62 2 62 12 62 16 62 7 62 6 62 0 62-5 62-6 62-13 62-13 62-7 62-1 62-6 62 0 62-2 62-3 62 0 62-1 62 6 62 14"/>
<path d="M0 164l62 4 62-5 62 4 62 5 62 5 62 2 62 6 62 0 62 3 62 19 62 29 62 106 62 114 62 50 62 29 62 2 62-37 62-45 62-96 62-107 62-25 62-53 62-15 62-15 62-34 62-36 62 16 62-7 62 22 62 133"/>
<path d="M0 68l62 2 62-2 62 2 62 1 62 3 62 2 62 3 62 0 62 2 62 7 62 8 62 38 62 50 62 32 62 18 62 4 62-23 62-24 62-47 62-43 62-7 62-23 62-2 62-11 62-15 62-11 62 5 62-3 62 14 62 59"/>
<path d="M0 222l62 8 62-8 62 7 62 4 62 9 62 8 62 14 62 5 62 10 62 26 62 44 62 154 62 166 62 53 62 67 62-7 62-56 62-84 62-146 62-148 62-4 62-92 62 39 62-78 62-51 62-37 62-18 62 7 62 40 62 203"/>
<path d="M0 7l62 0 62 0 62 0 62 1 62 0 62 0 62 0 62 0 62 0 62 1 62 1 62 4 62 6 62 3 62 3 62-1 62-2 62-3 62-4 62-5 62 0 62-3 62 0 62-1 62-2 62-1 62 0 62 0 62 2 62 5"/>
<path d="M0 74l62 4 62-3 62 3 62 3 62 3 62 1 62 4 62 1 62 1 62 7 62 10 62 46 62 56 62 31 62 19 62-2 62-22 62-26 62-47 62-50 62-20 62-9 62-11 62-11 62-11 62-8 62-2 62-4 62 16 62 59"/>
<path d="M0 172l62 5 62-4 62 8 62 5 62 7 62 4 62 7 62 2 62 6 62 21 62 33 62 123 62 137 62 51 62 41 62-8 62-41 62-60 62-114 62-122 62-27 62-75 62 31 62-21 62-74 62-10 62 1 62-3 62 25 62 161"/>
<path d="M0 199l62 8 62-6 62 6 62 8 62 7 62 5 62 11 62 1 62 5 62 16 62 29 62 122 62 139 62 71 62 56 62 2 62-65 62-75 62-119 62-127 62 8 62-112 62 21 62-58 62-20 62-27 62-11 62 8 62 47 62 143"/>
<path d="M0 129l62 6 62-4 62 4 62 5 62 5 62 3 62 6 62 2 62 3 62 13 62 17 62 74 62 93 62 52 62 22 62 15 62-31 62-42 62-92 62-76 62-8 62-31 62-5 62-17 62-58 62-22 62-3 62 19 62 19 62 106"/>
<path d="M0 56l62 2 62-1 62 3 62 2 62 2 62 2 62 2 62 1 62 2 62 6 62 7 62 38 62 47 62 30 62 19 62 2 62-17 62-22 62-40 62-44 62-9 62-17 62-6 62-8 62-8 62-21 62 10 62-9 62 19 62 49"/>
<path d="M0 133l62 5 62-4 62 5 62 3 62 4 62 3 62 4 62 1 62 7 62 14 62 20 62 83 62 100 62 51 62 44 62 7 62-49 62-49 62-83 62-80 62-33 62-18 62-10 62-40 62-21 62-12 62-22 62 4 62 39 62 106"/>
<path d="M0 112l62 5 62-4 62 5 62 5 62 3 62 2 62 4 62 1 62 3 62 12 62 16 62 69 62 84 62 45 62 25 62 12 62-39 62-42 62-72 62-73 62-13 62-43 62-10 62-25 62 8 62-26 62-7 62 2 62 27 62 88"/>
<path d="M0 181l62 8 62-5 62 6 62 7 62 7 62 2 62 7 62 2 62 7 62 24 62 37 62 125 62 137 62 61 62 45 62 1 62-58 62-69 62-115 62-123 62-44 62-40 62-17 62-16 62-43 62-24 62 15 62-19 62 49 62 150"/>
<path d="M0 62l62 3 62-3 62 2 62 2 62 3 62 1 62 3 62 0 62 1 62 5 62 7 62 35 62 45 62 27 62 15 62 6 62-22 62-21 62-38 62-42 62-3 62-18 62-12 62-9 62-12 62-8 62 9 62-7 62 15 62 53"/>
<path d="M0 123l62 5 62-4 62 5 62 3 62 2 62 3 62 2 62-2 62 5 62 15 62 22 62 81 62 97 62 42 62 10 62 7 62-26 62-41 62-72 62-81 62-26 62-31 62-26 62 6 62-32 62-21 62 1 62-4 62 44 62 95"/>
<path d="M0 99l62 4 62-4 62 4 62 3 62 2 62 3 62 2 62 1 62 3 62 10 62 11 62 56 62 71 62 40 62 28 62 3 62-29 62-44 62-59 62-59 62-23 62-20 62 1 62-22 62-11 62-27 62 8 62-2 62 35 62 62"/>
<path d="M0 274l62 9 62-10 62 11 62 7 62 7 62 5 62 9 62-1 62 16 62 38 62 63 62 198 62 201 62 65 62 49 62 18 62-76 62-80 62-188 62-184 62-97 62-67 62-6 62-16 62-68 62-43 62 20 62-10 62 78 62 192"/>
<path d="M0 200l62 5 62-8 62 6 62 5 62 7 62 8 62 11 62 3 62 8 62 26 62 37 62 133 62 136 62 72 62 56 62-10 62-72 62-73 62-132 62-124 62-30 62-22 62 5 62-57 62-67 62-17 62-12 62 10 62 35 62 156"/>
<path d="M0 137l62 3 62-3 62 4 62 5 62 4 62 3 62 4 62 1 62 5 62 17 62 22 62 89 62 103 62 47 62 33 62 1 62-44 62-47 62-77 62-92 62-24 62-58 62 5 62-34 62 12 62-31 62-7 62-5 62 46 62 104"/>
<path d="M0 218l62 6 62-3 62 9 62 9 62 7 62 7 62 11 62 1 62 10 62 24 62 42 62 149 62 167 62 53 62 52 62 12 62-66 62-84 62-148 62-134 62-9 62-53 62-15 62-61 62-77 62-8 62-7 62 15 62 25 62 177"/>
<path d="M0 127l62 4 62-4 62 3 62 4 62 5 62 1 62 5 62 0 62 7 62 16 62 23 62 80 62 101 62 42 62 39 62-1 62-43 62-60 62-72 62-71 62-52 62 6 62-33 62-19 62-15 62-17 62-20 62 17 62 40 62 85"/>
<path d="M0 28l62 2 62-1 62 2 62 1 62 1 62 1 62 1 62 0 62 1 62 3 62 4 62 18 62 23 62 13 62 7 62 1 62-8 62-11 62-18 62-20 62-6 62-9 62-5 62 2 62-10 62-4 62-2 62 1 62 5 62 26"/>
<path d="M0 86l62 2 62-2 62 3 62 3 62 3 62 1 62 3 62-1 62 4 62 9 62 12 62 51 62 65 62 33 62 29 62 6 62-26 62-30 62-55 62-53 62-24 62-20 62-11 62-11 62-16 62-13 62-1 62 5 62 11 62 76"/>
<path d="M0 62l62 3 62-2 62 2 62 2 62 2 62 1 62 2 62 1 62 2 62 7 62 7 62 38 62 48 62 31 62 21 62-2 62-20 62-28 62-37 62-39 62-7 62-17 62 3 62-21 62-14 62-14 62 1 62 1 62 13 62 48"/>
<path d="M0 101l62 3 62-3 62 2 62 3 62 3 62 2 62 4 62 1 62 3 62 10 62 14 62 60 62 79 62 41 62 32 62 2 62-26 62-36 62-67 62-73 62-13 62-12 62-10 62-36 62-10 62-5 62-11 62-7 62 42 62 74"/>
<path d="M0 39l62 1 62-1 62 1 62 1 62 2 62 1 62 1 62 1 62 1 62 5 62 5 62 22 62 30 62 17 62 12 62 2 62-13 62-15 62-25 62-26 62-6 62-15 62-5 62 2 62-9 62-8 62 0 62-2 62 12 62 31"/>
<path d="M0 86l62 3 62-2 62 3 62 3 62 4 62 2 62 5 62 2 62 2 62 11 62 13 62 55 62 71 62 38 62 21 62 8 62-29 62-34 62-57 62-57 62-25 62-23 62-3 62-4 62-33 62-4 62-3 62 2 62 24 62 62"/>
<path d="M0 26l62 1 62-1 62 1 62 1 62 0 62 1 62 1 62 0 62 1 62 2 62 3 62 15 62 20 62 11 62 8 62 3 62-8 62-9 62-17 62-17 62-3 62-4 62-7 62-4 62-4 62-4 62-5 62 1 62 10 62 20"/>
<path d="M0 50l62 2 62-3 62 2 62 1 62 1 62 1 62 1 62 0 62 2 62 5 62 7 62 28 62 39 62 20 62 14 62 2 62-15 62-16 62-32 62-33 62-11 62-9 62-10 62-7 62-7 62-6 62 1 62 0 62 6 62 46"/>
<path d="M0 94l62 2 62-3 62 3 62 2 62 5 62 5 62 5 62 3 62 2 62 11 62 14 62 59 62 75 62 41 62 25 62 6 62-32 62-36 62-64 62-69 62-36 62-4 62-26 62-2 62-14 62-7 62-12 62 6 62 18 62 81"/>
<path d="M0 45l62 1 62 0 62 1 62 1 62 2 62 0 62 1 62 0 62 2 62 5 62 6 62 27 62 34 62 23 62 12 62 1 62-14 62-13 62-30 62-30 62-12 62-12 62-4 62-5 62-8 62-8 62-2 62 2 62 10 62 40"/>
<path d="M0 97l62 3 62-3 62 3 62 3 62 5 62 1 62 3 62 2 62 1 62 10 62 13 62 61 62 79 62 36 62 20 62-4 62-20 62-33 62-61 62-59 62-28 62-31 62-8 62-5 62-16 62-14 62 0 62-9 62 29 62 77"/>
<path d="M0 49l62 2 62-2 62 2 62 1 62 2 62 1 62 2 62 0 62 1 62 4 62 3 62 27 62 36 62 22 62 19 62 0 62-18 62-17 62-30 62-29 62-7 62-19 62 1 62-4 62-11 62-8 62-1 62-5 62 15 62 38"/>
<path d="M0 250l62 10 62-9 62 7 62 7 62 10 62 6 62 10 62 6 62 4 62 25 62 45 62 169 62 188 62 63 62 62 62 5 62-75 62-92 62-163 62-147 62-59 62-50 62 6 62-75 62-38 62-10 62-33 62-3 62 65 62 202"/>
<path d="M0 85l62 2 62-4 62 2 62 2 62 4 62 1 62 4 62 1 62 4 62 9 62 12 62 52 62 65 62 33 62 29 62 6 62-35 62-30 62-53 62-54 62-17 62-17 62-10 62-28 62 7 62-18 62-1 62-4 62 16 62 76"/>
<path d="M0 132l62 5 62-3 62 3 62 5 62 3 62 2 62 5 62 2 62 4 62 12 62 16 62 78 62 97 62 53 62 42 62-4 62-33 62-49 62-82 62-86 62-31 62-27 62 7 62-32 62-29 62-28 62 11 62-8 62 20 62 109"/>
<path d="M0 196l62 8 62-6 62 8 62 5 62 7 62 6 62 7 62 1 62 11 62 23 62 39 62 128 62 144 62 59 62 40 62 11 62-55 62-69 62-126 62-133 62-53 62-63 62-10 62-29 62-19 62-6 62-25 62 1 62 28 62 165"/>
<path d="M0 79l62 2 62-1 62 4 62 2 62 4 62 3 62 3 62 1 62 3 62 6 62 9 62 45 62 57 62 38 62 28 62 1 62-20 62-33 62-49 62-45 62-32 62-5 62 1 62-14 62-18 62-10 62-16 62 1 62 7 62 80"/>
<path d="M0 241l62 7 62-5 62 9 62 11 62 6 62 5 62 9 62 4 62 4 62 26 62 40 62 153 62 169 62 70 62 67 62-12 62-76 62-98 62-142 62-160 62 8 62-129 62 22 62-10 62-80 62-34 62 4 62 30 62 37 62 190"/>
<path d="M0 176l62 7 62-5 62 6 62 6 62 5 62 4 62 5 62 0 62 8 62 20 62 32 62 116 62 136 62 48 62 37 62 2 62-44 62-68 62-106 62-103 62-43 62-67 62 2 62-30 62-33 62-22 62 0 62 3 62 42 62 132"/>
<path d="M0 222l62 6 62-8 62 8 62 6 62 9 62 3 62 10 62 1 62 6 62 20 62 39 62 138 62 151 62 69 62 47 62-3 62-59 62-70 62-128 62-135 62-64 62-68 62 36 62-52 62-40 62-24 62-7 62-10 62 34 62 190"/>
<path d="M0 226l62 7 62-5 62 7 62 6 62 6 62 1 62 6 62-1 62 6 62 18 62 36 62 136 62 151 62 65 62 52 62 7 62-70 62-79 62-129 62-138 62-57 62-74 62 46 62-34 62-46 62-22 62 3 62-2 62 20 62 176"/>
<path d="M0 144l62 5 62-6 62 2 62 5 62 5 62 4 62 6 62 2 62 4 62 16 62 19 62 89 62 101 62 51 62 38 62 12 62-51 62-47 62-95 62-82 62-28 62-52 62 14 62-24 62-29 62-32 62-3 62 8 62 35 62 107"/>
<path d="M0 74l62 3 62-2 62 2 62 3 62 2 62 1 62 2 62 1 62 4 62 7 62 8 62 44 62 55 62 31 62 28 62 3 62-25 62-24 62-49 62-43 62-13 62-24 62-6 62-11 62-21 62-10 62 3 62-3 62 23 62 55"/>
<path d="M0 199l62 7 62-5 62 6 62 6 62 6 62 5 62 7 62 2 62 7 62 22 62 32 62 123 62 137 62 65 62 55 62 16 62-68 62-66 62-124 62-125 62-22 62-34 62-25 62-26 62-62 62-2 62-36 62 12 62 34 62 153"/>
<path d="M0 156l62 9 62-5 62 8 62 3 62 10 62 4 62 6 62 4 62 5 62 16 62 28 62 107 62 120 62 47 62 26 62-2 62-29 62-53 62-108 62-104 62-53 62 5 62-16 62-59 62-6 62-20 62-10 62-20 62 37 62 136"/>
<path d="M0 221l62 3 62-5 62 4 62 8 62 5 62 7 62 10 62 2 62 4 62 18 62 40 62 131 62 157 62 42 62 45 62 1 62-51 62-74 62-136 62-127 62-18 62-39 62-37 62-25 62-45 62-23 62-6 62-15 62 45 62 170"/>
<path d="M0 199l62 6 62-7 62 6 62 8 62 4 62 2 62 8 62 1 62 6 62 17 62 28 62 126 62 134 62 67 62 57 62-14 62-35 62-67 62-127 62-114 62-41 62-53 62-4 62-34 62-48 62-21 62-6 62-7 62 54 62 154"/>
<path d="M0 33l62 0 62 0 62 0 62 1 62 2 62 0 62 2 62 0 62 1 62 3 62 2 62 18 62 24 62 15 62 11 62 3 62-9 62-13 62-21 62-21 62-2 62-13 62-4 62-4 62-3 62-6 62-3 62 1 62 7 62 24"/>
<path d="M0 191l62 5 62-6 62 6 62 5 62 7 62 5 62 6 62 0 62 5 62 19 62 28 62 111 62 133 62 60 62 44 62 14 62-65 62-63 62-106 62-125 62-9 62-58 62-9 62-37 62-30 62-18 62-14 62 15 62 40 62 130"/>
<path d="M0 27l62 1 62-1 62 1 62 1 62 1 62 1 62 0 62 1 62 1 62 2 62 3 62 14 62 19 62 14 62 12 62-2 62-8 62-9 62-17 62-18 62-6 62-6 62 2 62-4 62-9 62-7 62 0 62 0 62 8 62 21"/>
<path d="M0 140l62 6 62-5 62 6 62 6 62 5 62 3 62 5 62 0 62 5 62 15 62 22 62 90 62 107 62 49 62 31 62 10 62-45 62-48 62-95 62-86 62-57 62 4 62-21 62-31 62-17 62-22 62 0 62-10 62 40 62 108"/>
<path d="M0 7l62 0 62 0 62 0 62 1 62 0 62 0 62 0 62 0 62 1 62 0 62 1 62 4 62 6 62 4 62 3 62-1 62-2 62-3 62-4 62-5 62-2 62-2 62-1 62 0 62-3 62 0 62 0 62 0 62 2 62 5"/>
<path d="M0 136l62 6 62-4 62 6 62 4 62 6 62 3 62 6 62 1 62 5 62 18 62 24 62 91 62 107 62 45 62 37 62 0 62-41 62-60 62-86 62-96 62-8 62-65 62-3 62-15 62-23 62-19 62 9 62-12 62 37 62 100"/>
<path d="M0 119l62 3 62-4 62 3 62 3 62 6 62 4 62 5 62 2 62 3 62 12 62 17 62 74 62 92 62 40 62 29 62-1 62-38 62-40 62-75 62-73 62-7 62-23 62-20 62-27 62-19 62-16 62 6 62-21 62 47 62 90"/>
<path d="M0 33l62 0 62 0 62 0 62 1 62 2 62 1 62 1 62 0 62 1 62 3 62 5 62 20 62 25 62 16 62 9 62 2 62-8 62-13 62-23 62-19 62-15 62-7 62-4 62 1 62-8 62-7 62-2 62 2 62 5 62 30"/>
<path d="M0 202l62 7 62-7 62 6 62 5 62 9 62 5 62 8 62 3 62 6 62 20 62 33 62 131 62 148 62 60 62 54 62 8 62-51 62-83 62-134 62-132 62-24 62-63 62 78 62-108 62-33 62-27 62-21 62 17 62 61 62 148"/>
<path d="M0 22l62 1 62-1 62 0 62 1 62 1 62 0 62 1 62 0 62 1 62 2 62 2 62 13 62 17 62 9 62 7 62 0 62-6 62-8 62-13 62-15 62-5 62-3 62-1 62-5 62-3 62-5 62-1 62 0 62 7 62 16"/>
<path d="M0 118l62 6 62-4 62 4 62 4 62 5 62 1 62 5 62 1 62 5 62 12 62 19 62 72 62 86 62 47 62 29 62 7 62-39 62-42 62-74 62-74 62-26 62-45 62 0 62-5 62-29 62-16 62-14 62 12 62 29 62 83"/>
<path d="M0 17l62 1 62-1 62 1 62 0 62 1 62 1 62 0 62 0 62 1 62 1 62 2 62 10 62 14 62 8 62 5 62 0 62-4 62-6 62-11 62-11 62-4 62-5 62-4 62 0 62-5 62-1 62-1 62 1 62 3 62 14"/>
<path d="M0 93l62 3 62-3 62 3 62 3 62 3 62 1 62 2 62 1 62 4 62 10 62 13 62 59 62 74 62 35 62 24 62 0 62-24 62-33 62-55 62-68 62-16 62-21 62-6 62-9 62-31 62-10 62-3 62 5 62 11 62 80"/>
<path d="M0 301l62 6 62-12 62 1 62 9 62 8 62 6 62 13 62 3 62 8 62 32 62 65 62 191 62 189 62 49 62 53 62 5 62-48 62-87 62-180 62-195 62-56 62-46 62-59 62 7 62-37 62-69 62-20 62-22 62 84 62 225"/>
<path d="M0 161l62 3 62-5 62 3 62 5 62 8 62 4 62 7 62 3 62 5 62 15 62 22 62 97 62 117 62 56 62 45 62 1 62-49 62-59 62-93 62-90 62-21 62-65 62-15 62-39 62-11 62-17 62-7 62 1 62 38 62 122"/>
<path d="M0 207l62 7 62-8 62 7 62 7 62 7 62 5 62 9 62 4 62 10 62 24 62 41 62 138 62 152 62 65 62 48 62 4 62-64 62-88 62-126 62-125 62-43 62-59 62 18 62-48 62-55 62-21 62-9 62-6 62 56 62 171"/>
<path d="M0 153l62 7 62-4 62 7 62 5 62 7 62 3 62 7 62 3 62 2 62 16 62 26 62 100 62 121 62 56 62 37 62 3 62-49 62-62 62-92 62-101 62-36 62-48 62-21 62 12 62-40 62-29 62-2 62 9 62 31 62 118"/>
<path d="M0 61l62 2 62-1 62 1 62 3 62 2 62 1 62 3 62 0 62 2 62 5 62 8 62 37 62 51 62 25 62 15 62 1 62-20 62-22 62-41 62-41 62-6 62-23 62 1 62-7 62-16 62-7 62 3 62 6 62 8 62 49"/>
<path d="M0 20l62 0 62 0 62 0 62 1 62 1 62 0 62 1 62 0 62 1 62 2 62 2 62 11 62 15 62 11 62 7 62 1 62-7 62-7 62-14 62-13 62-2 62-9 62-1 62-6 62-2 62-2 62 0 62 1 62 4 62 17"/>
<path d="M0 73l62 3 62-2 62 2 62 2 62 3 62 2 62 3 62 1 62 3 62 9 62 12 62 49 62 57 62 33 62 19 62-2 62-20 62-28 62-51 62-51 62-11 62-42 62 16 62-28 62-5 62-10 62 0 62 7 62 12 62 61"/>
<path d="M0 236l62 9 62-4 62 9 62 12 62 8 62 4 62 9 62 2 62 8 62 26 62 53 62 164 62 172 62 77 62 36 62-8 62-71 62-94 62-137 62-156 62-39 62-46 62-25 62-36 62-47 62-56 62 19 62 2 62 29 62 218"/>
<path d="M0 213l62 7 62-6 62 6 62 8 62 5 62 3 62 4 62 1 62 9 62 25 62 44 62 145 62 156 62 51 62 37 62-8 62-48 62-69 62-140 62-124 62-17 62-73 62 10 62-28 62-72 62-39 62 10 62 0 62 30 62 185"/>
<path d="M0 87l62 5 62-1 62 5 62 4 62 3 62 2 62 2 62 0 62 3 62 10 62 13 62 55 62 68 62 35 62 24 62-3 62-23 62-32 62-59 62-56 62-30 62-9 62-4 62-32 62 0 62-13 62-3 62-4 62 24 62 75"/>
<path d="M0 144l62 5 62-4 62 6 62 5 62 6 62 4 62 5 62 2 62 6 62 16 62 25 62 94 62 108 62 53 62 27 62 5 62-48 62-53 62-90 62-95 62-18 62-57 62-9 62-2 62-46 62-16 62 10 62-16 62 32 62 121"/>
<path d="M0 215l62 12 62-5 62 9 62 10 62 7 62 4 62 9 62 0 62 8 62 21 62 35 62 145 62 172 62 61 62 63 62-5 62-67 62-84 62-147 62-127 62-57 62-28 62-33 62-45 62-5 62-45 62-1 62-11 62 43 62 189"/>
<path d="M0 121l62 5 62-4 62 4 62 4 62 4 62 4 62 6 62 1 62 5 62 14 62 20 62 77 62 88 62 47 62 24 62 4 62-37 62-47 62-77 62-71 62-30 62-31 62 5 62-16 62-16 62-43 62 11 62-12 62 36 62 100"/>
<path d="M0 142l62 4 62-5 62 3 62 5 62 5 62 4 62 4 62 2 62 4 62 15 62 24 62 88 62 104 62 45 62 32 62 9 62-37 62-49 62-91 62-90 62-35 62-30 62-11 62-38 62-3 62-19 62-4 62-11 62 42 62 109"/>
<path d="M0 248l62 11 62-5 62 12 62 8 62 8 62 10 62 11 62 4 62 6 62 21 62 44 62 160 62 160 62 83 62 57 62 2 62-65 62-95 62-166 62-144 62-81 62-47 62-6 62-39 62-52 62-21 62-10 62-7 62 82 62 199"/>
<path d="M0 135l62 5 62-4 62 4 62 5 62 4 62 3 62 7 62 1 62 6 62 16 62 24 62 91 62 104 62 42 62 28 62 3 62-33 62-46 62-80 62-90 62-30 62-32 62-3 62-36 62-19 62-26 62-10 62 5 62 32 62 103"/>
<path d="M0 196l62 8 62-4 62 8 62 8 62 5 62 9 62 9 62 5 62 7 62 23 62 41 62 139 62 149 62 59 62 34 62-2 62-47 62-70 62-132 62-132 62 0 62-81 62-4 62-11 62-89 62-20 62 6 62 9 62 30 62 157"/>
<path d="M0 55l62 2 62-1 62 2 62 1 62 3 62 1 62 3 62 0 62 2 62 6 62 8 62 39 62 48 62 27 62 11 62 2 62-18 62-21 62-38 62-35 62-13 62-25 62 5 62-12 62-17 62-2 62-2 62 2 62 6 62 51"/>
<path d="M0 105l62 2 62-3 62 4 62 2 62 5 62 2 62 3 62 2 62 2 62 10 62 12 62 65 62 77 62 38 62 23 62 10 62-30 62-40 62-62 62-57 62-25 62-32 62-3 62-17 62-23 62-10 62-3 62-1 62 17 62 87"/>
<path d="M0 62l62 2 62-2 62 1 62 1 62 2 62 1 62 3 62 1 62 1 62 5 62 8 62 36 62 48 62 26 62 15 62 1 62-13 62-20 62-41 62-42 62-9 62-21 62-4 62-15 62-4 62-13 62 6 62-6 62 13 62 50"/>
<path d="M0 5l62 0 62 0 62 0 62 0 62 1 62 0 62 0 62 0 62 0 62 1 62 1 62 3 62 5 62 2 62 2 62 0 62-2 62-1 62-4 62-4 62-1 62-1 62-1 62-1 62-1 62-1 62-1 62 1 62 1 62 5"/>
<path d="M0 272l62 10 62-7 62 8 62 8 62 12 62 9 62 17 62 4 62 9 62 34 62 61 62 200 62 207 62 47 62 56 62 14 62-52 62-87 62-187 62-186 62-68 62-106 62-22 62-17 62-41 62-28 62-9 62-41 62 85 62 203"/>
<path d="M0 165l62 5 62-4 62 5 62 7 62 7 62 2 62 7 62 0 62 5 62 17 62 28 62 109 62 124 62 49 62 43 62-6 62-47 62-61 62-97 62-99 62-43 62-51 62 18 62-55 62-15 62-20 62 9 62-21 62 44 62 130"/>
<path d="M0 114l62 4 62-3 62 4 62 3 62 4 62 2 62 4 62 1 62 3 62 12 62 16 62 72 62 86 62 43 62 27 62 4 62-40 62-46 62-67 62-70 62-25 62-2 62-4 62-41 62-22 62-17 62-9 62 6 62 22 62 90"/>
<path d="M0 244l62 9 62-8 62 8 62 7 62 6 62 4 62 5 62-2 62 10 62 30 62 47 62 155 62 162 62 67 62 50 62 0 62-56 62-77 62-161 62-137 62-8 62-70 62 29 62-79 62-74 62-58 62 19 62-10 62 79 62 155"/>
<path d="M0 126l62 5 62-4 62 4 62 5 62 5 62 2 62 7 62-1 62 4 62 15 62 23 62 85 62 97 62 44 62 32 62 7 62-41 62-45 62-77 62-84 62-25 62-38 62-1 62-16 62-44 62-15 62-10 62 8 62 24 62 108"/>
<path d="M0 272l62 13 62-6 62 12 62 13 62 8 62 2 62 9 62 1 62 9 62 26 62 58 62 190 62 197 62 70 62 39 62 23 62-88 62-95 62-169 62-189 62-18 62-113 62 1 62-41 62-31 62-46 62 15 62-19 62 78 62 204"/>
<path d="M0 36l62 1 62-2 62 2 62 1 62 1 62 1 62 2 62 1 62 1 62 5 62 4 62 22 62 29 62 15 62 12 62 2 62-10 62-15 62-26 62-23 62-4 62-4 62-1 62-11 62-8 62-9 62-2 62-2 62 10 62 30"/>
<path d="M0 98l62 2 62-4 62 3 62 2 62 3 62 2 62 3 62 1 62 3 62 9 62 13 62 56 62 69 62 41 62 23 62 7 62-32 62-31 62-62 62-56 62-18 62-37 62 4 62-9 62-17 62-14 62-11 62 3 62 17 62 77"/>
<path d="M0 43l62 2 62-2 62 2 62 1 62 2 62 2 62 2 62 1 62 1 62 5 62 5 62 26 62 34 62 20 62 14 62-1 62-12 62-14 62-29 62-30 62-11 62-10 62-16 62 2 62-8 62-3 62-7 62 1 62 16 62 34"/>
<path d="M0 174l62 4 62-8 62 3 62 3 62 7 62 4 62 8 62 1 62 6 62 18 62 30 62 109 62 128 62 56 62 43 62-5 62-63 62-72 62-95 62-100 62-42 62-34 62-8 62-32 62-20 62-14 62-12 62-10 62 66 62 109"/>
<path d="M0 3l62 0 62 0 62 0 62 0 62 0 62 1 62 0 62 0 62 0 62 0 62 0 62 2 62 3 62 1 62 1 62 0 62-1 62-1 62-2 62-2 62-1 62-1 62 0 62 0 62-1 62 0 62 0 62 0 62 0 62 3"/>
<path d="M0 31l62 1 62-1 62 1 62 1 62 1 62 0 62 1 62 0 62 1 62 3 62 4 62 17 62 25 62 14 62 11 62-1 62-6 62-11 62-19 62-23 62-4 62-15 62-2 62-2 62-6 62-2 62-1 62-3 62 8 62 25"/>
<path d="M0 75l62 3 62-1 62 2 62 3 62 3 62 2 62 4 62 0 62 5 62 8 62 13 62 48 62 61 62 36 62 22 62 2 62-25 62-28 62-56 62-52 62-14 62-22 62-3 62-22 62-5 62-17 62-1 62 4 62 12 62 71"/>
<path d="M0 177l62 8 62-6 62 7 62 7 62 5 62 4 62 5 62 1 62 6 62 17 62 26 62 108 62 132 62 51 62 46 62 9 62-45 62-58 62-115 62-117 62-38 62-47 62-2 62-45 62-17 62-29 62 4 62-5 62 31 62 135"/>
<path d="M0 56l62 2 62-2 62 2 62 2 62 2 62 2 62 3 62 1 62 2 62 6 62 10 62 36 62 45 62 25 62 11 62 3 62-18 62-21 62-36 62-37 62-8 62-24 62 4 62-14 62-8 62-7 62-5 62-2 62 19 62 45"/>
<path d="M0 192l62 7 62-5 62 7 62 5 62 7 62 4 62 8 62 0 62 10 62 26 62 45 62 140 62 146 62 62 62 35 62 3 62-53 62-73 62-121 62-118 62-53 62-36 62 14 62-52 62-25 62-65 62 2 62-17 62 67 62 158"/>
<path d="M0 327l62 9 62-6 62 7 62 13 62 7 62 7 62 10 62 2 62 13 62 31 62 66 62 207 62 213 62 72 62 98 62-3 62-121 62-121 62-186 62-173 62-63 62-110 62 34 62-80 62-51 62-22 62-22 62 18 62 60 62 246"/>
<path d="M0 6l62 0 62 0 62 0 62 1 62 0 62 0 62 0 62 0 62 0 62 1 62 1 62 3 62 5 62 3 62 2 62 0 62-2 62-2 62-4 62-4 62-2 62 0 62-2 62-1 62 0 62-2 62 0 62 0 62 2 62 5"/>
<path d="M0 295l62 8 62-13 62 5 62 6 62 10 62 8 62 10 62 2 62 12 62 32 62 53 62 186 62 178 62 76 62 57 62 11 62-78 62-110 62-171 62-161 62-67 62-91 62 32 62-47 62-90 62 10 62-33 62 15 62 69 62 209"/>
<path d="M0 157l62 5 62-5 62 3 62 4 62 6 62 5 62 7 62 2 62 5 62 17 62 25 62 101 62 119 62 54 62 37 62 11 62-50 62-61 62-101 62-100 62-30 62-52 62-3 62-17 62-30 62-24 62-5 62 3 62 27 62 133"/>
<path d="M0 277l62 8 62-8 62 7 62 10 62 13 62 11 62 13 62 6 62 12 62 24 62 58 62 190 62 188 62 68 62 84 62-22 62-79 62-104 62-177 62-161 62-70 62-58 62 11 62-30 62-84 62-22 62-16 62-4 62 72 62 198"/>
<path d="M0 237l62 7 62-9 62 6 62 7 62 10 62 7 62 10 62 4 62 10 62 21 62 45 62 155 62 158 62 70 62 54 62 16 62-78 62-87 62-141 62-131 62-40 62-94 62 17 62-35 62-53 62-27 62-19 62-2 62 54 62 189"/>
<path d="M0 105l62 2 62-3 62 3 62 2 62 4 62 2 62 3 62 0 62 4 62 10 62 14 62 62 62 77 62 39 62 33 62 2 62-33 62-38 62-63 62-69 62-23 62-23 62-15 62-7 62-28 62 1 62-7 62-2 62 25 62 75"/>
<path d="M0 304l62 8 62-15 62 6 62 8 62 9 62 3 62 9 62 3 62 8 62 32 62 67 62 200 62 207 62 63 62 33 62 12 62-90 62-117 62-148 62-164 62-114 62-8 62 0 62-86 62-11 62-70 62 11 62-14 62 47 62 223"/>
<path d="M0 179l62 6 62-5 62 8 62 6 62 5 62 5 62 7 62 1 62 6 62 20 62 35 62 123 62 147 62 53 62 36 62 4 62-65 62-68 62-104 62-123 62-48 62-39 62-22 62-14 62-59 62-1 62 3 62-8 62 43 62 147"/>
<path d="M0 143l62 6 62-5 62 5 62 6 62 0 62 3 62 4 62-1 62 6 62 19 62 28 62 92 62 109 62 49 62 32 62 1 62-42 62-55 62-88 62-95 62-40 62-26 62-13 62-48 62-5 62-17 62 7 62-11 62 28 62 133"/>
<path d="M0 63l62 2 62-3 62 2 62 1 62 3 62 2 62 2 62 2 62 1 62 4 62 8 62 38 62 47 62 24 62 17 62-1 62-19 62-21 62-39 62-40 62-11 62-3 62-15 62-10 62-8 62-11 62-2 62 1 62 14 62 48"/>
<path d="M0 201l62 6 62-7 62 8 62 7 62 5 62 5 62 7 62-2 62 6 62 18 62 36 62 132 62 146 62 56 62 50 62 1 62-39 62-69 62-135 62-125 62-55 62-7 62-19 62-58 62-19 62-19 62-31 62-6 62 58 62 146"/>
<path d="M0 12l62 1 62-1 62 1 62 0 62 1 62 0 62 0 62 0 62 1 62 1 62 2 62 7 62 10 62 6 62 5 62 0 62-4 62-5 62-8 62-10 62-2 62-2 62 1 62-4 62-3 62-2 62 0 62 0 62 4 62 8"/>
<path d="M0 151l62 6 62-4 62 7 62 4 62 7 62 3 62 7 62 0 62 6 62 18 62 26 62 101 62 117 62 58 62 41 62 7 62-39 62-53 62-97 62-107 62-40 62-13 62-6 62-51 62-26 62-24 62-21 62 3 62 28 62 127"/>
<path d="M0 115l62 3 62-4 62 1 62 4 62 5 62 5 62 6 62 4 62 3 62 13 62 19 62 72 62 87 62 39 62 28 62 0 62-38 62-37 62-70 62-76 62-22 62-35 62-20 62 5 62-34 62-14 62-3 62 9 62 23 62 86"/>
<path d="M0 24l62 1 62-1 62 1 62 0 62 1 62 0 62 1 62 0 62 1 62 3 62 3 62 13 62 17 62 11 62 8 62-1 62-4 62-9 62-14 62-16 62-4 62-3 62-5 62-6 62-4 62-2 62-3 62 0 62 7 62 15"/>
<path d="M0 207l62 8 62-6 62 7 62 6 62 5 62 4 62 5 62 0 62 6 62 22 62 40 62 127 62 148 62 67 62 62 62 3 62-65 62-87 62-125 62-124 62-20 62-57 62-9 62-23 62-65 62-38 62 2 62 19 62 35 62 147"/>
<path d="M0 102l62 4 62-3 62 3 62 4 62 2 62 3 62 4 62 2 62 1 62 9 62 14 62 61 62 77 62 36 62 25 62 3 62-28 62-33 62-65 62-77 62-24 62-22 62-13 62-1 62-27 62-8 62 1 62-5 62 29 62 85"/>
<path d="M0 5l62 1 62-1 62 1 62 0 62 0 62 0 62 0 62 0 62 0 62 1 62 1 62 3 62 4 62 3 62 1 62 0 62-1 62-2 62-4 62-3 62-1 62-1 62 0 62-2 62 0 62-2 62 0 62 0 62 1 62 4"/>
<path d="M0 72l62 2 62-4 62 3 62 1 62 2 62 2 62 2 62 1 62 3 62 8 62 11 62 46 62 59 62 29 62 16 62 2 62-20 62-24 62-47 62-50 62-16 62-25 62-5 62-5 62-10 62-16 62 0 62 0 62 21 62 55"/>
<path d="M0 136l62 4 62-7 62 3 62 4 62 2 62 3 62 4 62 1 62 5 62 19 62 25 62 86 62 104 62 37 62 25 62 6 62-28 62-45 62-88 62-87 62-31 62-31 62-12 62-37 62-6 62-29 62 7 62 2 62 20 62 103"/>
<path d="M0 2l62 0 62 0 62 0 62 0 62 0 62 0 62 0 62 0 62 0 62 1 62 0 62 1 62 2 62 1 62 0 62 0 62 0 62-1 62-1 62-2 62 0 62-1 62 0 62 0 62 0 62-1 62 0 62 0 62 1 62 1"/>
<path d="M0 11l62 1 62-1 62 1 62 0 62 0 62 1 62 0 62 0 62 1 62 1 62 1 62 7 62 8 62 5 62 3 62 1 62-4 62-4 62-7 62-7 62-3 62-3 62 0 62 0 62-4 62-1 62 0 62-1 62 2 62 9"/>
<path d="M0 138l62 6 62-5 62 5 62 4 62 4 62 4 62 5 62 2 62 5 62 16 62 26 62 92 62 106 62 41 62 34 62-7 62-36 62-49 62-84 62-91 62-38 62-17 62-12 62-29 62-32 62-5 62-2 62-8 62 23 62 125"/>
<path d="M0 135l62 7 62-4 62 5 62 5 62 5 62 4 62 5 62 1 62 3 62 12 62 20 62 83 62 104 62 48 62 27 62 3 62-42 62-50 62-85 62-74 62-34 62-22 62-23 62-21 62-24 62-23 62-9 62 11 62 39 62 102"/>
<path d="M0 8l62 0 62 0 62 0 62 0 62 1 62 0 62 0 62 0 62 1 62 1 62 0 62 5 62 7 62 4 62 2 62 0 62-2 62-3 62-5 62-6 62-1 62-2 62 0 62-2 62-3 62 0 62-1 62 0 62 3 62 6"/>
<path d="M0 89l62 3 62-3 62 3 62 3 62 4 62 2 62 5 62 3 62 2 62 9 62 10 62 55 62 66 62 34 62 28 62 6 62-35 62-28 62-63 62-62 62-27 62-21 62-10 62-20 62 10 62-21 62-1 62 16 62 26 62 55"/>
<path d="M0 289l62 11 62-5 62 14 62 12 62 9 62 8 62 9 62 5 62 0 62 25 62 49 62 202 62 198 62 70 62 54 62 5 62-107 62-106 62-150 62-181 62-65 62-52 62-21 62-35 62-27 62-63 62-5 62 7 62 80 62 189"/>
<path d="M0 63l62 3 62-2 62 3 62 2 62 2 62 2 62 2 62 1 62 2 62 6 62 8 62 37 62 48 62 28 62 19 62 0 62-19 62-24 62-41 62-38 62-19 62-11 62-3 62-12 62-14 62-6 62-2 62-4 62 13 62 57"/>
<path d="M0 157l62 8 62-3 62 6 62 6 62 4 62 3 62 5 62 0 62 7 62 18 62 27 62 105 62 124 62 53 62 46 62-5 62-46 62-64 62-102 62-97 62-37 62-36 62-25 62-20 62-14 62-33 62-3 62 0 62 33 62 137"/>
<path d="M0 188l62 7 62-4 62 10 62 7 62 7 62 5 62 4 62 2 62 5 62 21 62 30 62 120 62 128 62 53 62 50 62 3 62-64 62-69 62-109 62-114 62-17 62-38 62-19 62-31 62-54 62-36 62 11 62-7 62 55 62 160"/>
<path d="M0 125l62 5 62-6 62 5 62 3 62 5 62 3 62 7 62 1 62 5 62 14 62 22 62 82 62 100 62 51 62 37 62-6 62-39 62-47 62-78 62-90 62-31 62-47 62 27 62-16 62-52 62 6 62-18 62-2 62 35 62 99"/>
<path d="M0 156l62 4 62-5 62 4 62 2 62 5 62 2 62 5 62 1 62 7 62 18 62 26 62 100 62 122 62 56 62 39 62 4 62-50 62-57 62-98 62-102 62-33 62-59 62 20 62-42 62 3 62-44 62-6 62 1 62 45 62 114"/>
<path d="M0 82l62 2 62-2 62 2 62 2 62 3 62 1 62 3 62 1 62 3 62 6 62 10 62 49 62 60 62 32 62 23 62 2 62-27 62-32 62-50 62-43 62-21 62-16 62-11 62-7 62-19 62-4 62-9 62 8 62 12 62 65"/>
<path d="M0 303l62 12 62-8 62 12 62 10 62 9 62 6 62 9 62 2 62 2 62 27 62 52 62 192 62 172 62 75 62 80 62 6 62-100 62-98 62-175 62-164 62-64 62-49 62-38 62-51 62-46 62-30 62 11 62 10 62 35 62 222"/>
<path d="M0 234l62 4 62-11 62 7 62 4 62 6 62 6 62 8 62 1 62 13 62 28 62 50 62 151 62 169 62 67 62 55 62-8 62-53 62-74 62-159 62-149 62-23 62-83 62-4 62-67 62-11 62-51 62 1 62 10 62 59 62 180"/>
<path d="M0 226l62 9 62-5 62 8 62 8 62 8 62 4 62 7 62 3 62 12 62 27 62 48 62 153 62 170 62 59 62 53 62 1 62-55 62-84 62-139 62-146 62-54 62-44 62-18 62-57 62-7 62-70 62-8 62 3 62 69 62 161"/>
<path d="M0 92l62 3 62-3 62 5 62 3 62 3 62 2 62 4 62 0 62 5 62 10 62 15 62 57 62 68 62 41 62 21 62-1 62-27 62-30 62-58 62-65 62-20 62-24 62-2 62-19 62-8 62-19 62-12 62 15 62 25 62 67"/>
<path d="M0 19l62 1 62-1 62 1 62 1 62 1 62 0 62 1 62 0 62 1 62 2 62 2 62 12 62 15 62 11 62 7 62 1 62-7 62-8 62-14 62-13 62-3 62-4 62-4 62-5 62-3 62-1 62-2 62 0 62 7 62 16"/>
<path d="M0 116l62 5 62-3 62 4 62 5 62 4 62 3 62 5 62 1 62 4 62 12 62 16 62 73 62 89 62 42 62 31 62 0 62-39 62-42 62-77 62-64 62-10 62-56 62-4 62-20 62-16 62-11 62-19 62 6 62 47 62 76"/>
<path d="M0 208l62 6 62-12 62 5 62 3 62 11 62 5 62 8 62 4 62 10 62 23 62 44 62 138 62 149 62 57 62 39 62-2 62-54 62-66 62-129 62-133 62-62 62-26 62-5 62-55 62-27 62-18 62-32 62 44 62 17 62 161"/>
<path d="M0 192l62 10 62-7 62 7 62 8 62 6 62 5 62 8 62 3 62 7 62 23 62 38 62 128 62 147 62 58 62 49 62 0 62-66 62-73 62-119 62-121 62-63 62-14 62-29 62-18 62-43 62-21 62 10 62-6 62 40 62 167"/>
<path d="M0 187l62 5 62-7 62 6 62 7 62 6 62 5 62 6 62 3 62 5 62 22 62 36 62 122 62 147 62 44 62 28 62 7 62-54 62-62 62-116 62-116 62 5 62-63 62-20 62-34 62-30 62-47 62-11 62 14 62 48 62 132"/>
<path d="M0 175l62 6 62-3 62 6 62 11 62 6 62 4 62 10 62 3 62 4 62 16 62 27 62 111 62 124 62 50 62 46 62 3 62-48 62-58 62-115 62-110 62-10 62-85 62 8 62-26 62-30 62-30 62-26 62 21 62 38 62 139"/>
<path d="M0 269l62 5 62-8 62 6 62 2 62 9 62 5 62 11 62 2 62 11 62 28 62 51 62 162 62 171 62 68 62 55 62 9 62-54 62-87 62-157 62-168 62-90 62-26 62 23 62-78 62-24 62-53 62-10 62-3 62 53 62 203"/>
<path d="M0 211l62 7 62-9 62 6 62 7 62 5 62 7 62 9 62 1 62 6 62 20 62 37 62 133 62 159 62 47 62 51 62 7 62-62 62-81 62-128 62-123 62-9 62-74 62 29 62-61 62-72 62-3 62-21 62 15 62 44 62 160"/>
<path d="M0 195l62 5 62-7 62 6 62 7 62 4 62 6 62 6 62 2 62 8 62 17 62 33 62 116 62 140 62 62 62 51 62 3 62-59 62-67 62-113 62-131 62 1 62-76 62-26 62-43 62 14 62-43 62-20 62 5 62 48 62 142"/>
<path d="M0 57l62 2 62-2 62 2 62 1 62 3 62 3 62 3 62 2 62 3 62 6 62 7 62 35 62 46 62 25 62 21 62 1 62-16 62-17 62-42 62-41 62-22 62-3 62-8 62-11 62-9 62-12 62 0 62 0 62 18 62 44"/>
<path d="M0 125l62 4 62-5 62 5 62 2 62 5 62 3 62 4 62 2 62 6 62 15 62 23 62 80 62 96 62 47 62 32 62 1 62-38 62-38 62-77 62-87 62-9 62-48 62 5 62-13 62-51 62-17 62 2 62-14 62 45 62 99"/>
<path d="M0 299l62 10 62-10 62 7 62 7 62 11 62 9 62 11 62 2 62 7 62 26 62 58 62 204 62 199 62 64 62 50 62 6 62-60 62-115 62-176 62-176 62-38 62-25 62-90 62-23 62-41 62-50 62-15 62-19 62 59 62 264"/>
<path d="M0 66l62 1 62-2 62 2 62 2 62 2 62 2 62 3 62 1 62 2 62 7 62 9 62 40 62 52 62 25 62 24 62-1 62-23 62-26 62-41 62-40 62-16 62-16 62-7 62-7 62-14 62-6 62-5 62-1 62 20 62 48"/>
<path d="M0 90l62 4 62-3 62 3 62 3 62 3 62 1 62 3 62 1 62 3 62 9 62 10 62 54 62 73 62 34 62 31 62 1 62-29 62-40 62-56 62-58 62-15 62-25 62-4 62-27 62 0 62-7 62-19 62 3 62 30 62 69"/>
<path d="M0 215l62 10 62-2 62 11 62 11 62 5 62 2 62 7 62 0 62 8 62 22 62 39 62 144 62 149 62 80 62 48 62 5 62-57 62-84 62-142 62-142 62-45 62-64 62 6 62-20 62-46 62-42 62 1 62-2 62 49 62 174"/>
<path d="M0 97l62 3 62-2 62 2 62 5 62 3 62 1 62 3 62 1 62 2 62 12 62 17 62 60 62 73 62 36 62 20 62 1 62-18 62-38 62-64 62-59 62-27 62-5 62 1 62-27 62-27 62-27 62 3 62 1 62 24 62 78"/>
<path d="M0 246l62 10 62-9 62 8 62 8 62 10 62 7 62 8 62 3 62 10 62 29 62 57 62 178 62 178 62 60 62 36 62 6 62-73 62-82 62-165 62-143 62-58 62-13 62-8 62-85 62-41 62-12 62-38 62 3 62 41 62 189"/>
<path d="M0 241l62 7 62-9 62 7 62 3 62 9 62 7 62 9 62 3 62 11 62 32 62 48 62 163 62 167 62 60 62 39 62 7 62-55 62-90 62-134 62-157 62-55 62-63 62-2 62-29 62-49 62-43 62 8 62-5 62 68 62 167"/>
<path d="M0 112l62 4 62-5 62 4 62 3 62 3 62 4 62 2 62 1 62 6 62 12 62 20 62 69 62 88 62 38 62 25 62 3 62-29 62-33 62-71 62-69 62-33 62-16 62-1 62-29 62-35 62-13 62-4 62 1 62 31 62 86"/>
<path d="M0 46l62 2 62-1 62 2 62 2 62 2 62 2 62 2 62 1 62 0 62 4 62 5 62 26 62 36 62 20 62 16 62-1 62-14 62-19 62-28 62-32 62-11 62-10 62-6 62 3 62-12 62-12 62 2 62-2 62 10 62 42"/>
<path d="M0 94l62 4 62-3 62 3 62 4 62 3 62 3 62 3 62 0 62 3 62 9 62 11 62 56 62 70 62 41 62 29 62 0 62-32 62-35 62-58 62-62 62-20 62-15 62-4 62-14 62-19 62-28 62 11 62-1 62 13 62 73"/>
<path d="M0 193l62 7 62-7 62 4 62 5 62 7 62 3 62 8 62 1 62 6 62 19 62 34 62 121 62 144 62 53 62 33 62-1 62-41 62-56 62-114 62-126 62-26 62-55 62-2 62-42 62-33 62-47 62 14 62-11 62 46 62 151"/>
<path d="M0 243l62 8 62-8 62 7 62 9 62 6 62 3 62 8 62 0 62 9 62 18 62 36 62 151 62 157 62 83 62 69 62 9 62-76 62-98 62-135 62-133 62-17 62-63 62-1 62-52 62-73 62-42 62 8 62-7 62 56 62 160"/>
<path d="M0 147l62 6 62-5 62 6 62 6 62 4 62 4 62 5 62 2 62 6 62 21 62 29 62 96 62 116 62 52 62 37 62-4 62-34 62-57 62-98 62-99 62-51 62-37 62-2 62-8 62-36 62-30 62-10 62 17 62 36 62 116"/>
<path d="M0 144l62 5 62-6 62 6 62 5 62 3 62 1 62 6 62 0 62 8 62 18 62 27 62 92 62 112 62 47 62 31 62-5 62-41 62-56 62-93 62-90 62-34 62-30 62-9 62-13 62-18 62-34 62-4 62 8 62 27 62 121"/>
<path d="M0 34l62 1 62 0 62 1 62 2 62 1 62 1 62 2 62 1 62 1 62 3 62 3 62 20 62 27 62 17 62 11 62-3 62-12 62-13 62-21 62-22 62-2 62-15 62-2 62-3 62-4 62-9 62-4 62 3 62 6 62 33"/>
<path d="M0 53l62 2 62-2 62 2 62 2 62 1 62 1 62 2 62 0 62 2 62 5 62 6 62 32 62 41 62 22 62 15 62 0 62-14 62-20 62-33 62-35 62-20 62-6 62 0 62-9 62-8 62-6 62-10 62 4 62 11 62 48"/>
<path d="M0 137l62 3 62-4 62 2 62 3 62 9 62 4 62 7 62 5 62 6 62 13 62 24 62 91 62 104 62 50 62 40 62 2 62-32 62-53 62-99 62-91 62-19 62-33 62-7 62-22 62-51 62 0 62-14 62 2 62 33 62 103"/>
<path d="M0 92l62 4 62-1 62 5 62 5 62 3 62 3 62 3 62 2 62 4 62 10 62 17 62 61 62 77 62 37 62 25 62 1 62-26 62-38 62-65 62-57 62-16 62-34 62 18 62-46 62 2 62-24 62-16 62-5 62 22 62 88"/>
<path d="M0 286l62 7 62-6 62 10 62 7 62 9 62 7 62 10 62 4 62 9 62 31 62 57 62 182 62 207 62 53 62 72 62-4 62-82 62-103 62-169 62-180 62-47 62-133 62 72 62-66 62-53 62-22 62-16 62-25 62 88 62 214"/>
<path d="M0 79l62 3 62-2 62 2 62 2 62 4 62 3 62 2 62 2 62 1 62 9 62 11 62 48 62 59 62 36 62 18 62-2 62-18 62-30 62-53 62-57 62-10 62-30 62 5 62-12 62-11 62-13 62-7 62 1 62 23 62 60"/>
<path d="M0 16l62 1 62 0 62 0 62 1 62 1 62 0 62 1 62 0 62 1 62 1 62 2 62 11 62 14 62 8 62 5 62 0 62-5 62-6 62-12 62-10 62-5 62-5 62-2 62 1 62-6 62-4 62 2 62-1 62 3 62 16"/>
<path d="M0 42l62 2 62-1 62 2 62 2 62 2 62 2 62 2 62 0 62 2 62 5 62 5 62 29 62 36 62 22 62 9 62-1 62-11 62-17 62-30 62-29 62-12 62-6 62-11 62-2 62-9 62-8 62 2 62-4 62 12 62 40"/>
<path d="M0 29l62 1 62-1 62 1 62 1 62 1 62 1 62 1 62 1 62 0 62 3 62 2 62 17 62 23 62 15 62 8 62 1 62-11 62-13 62-18 62-16 62-7 62-7 62-1 62-3 62-5 62-7 62 1 62-3 62 13 62 22"/>
<path d="M0 215l62 7 62-6 62 4 62 9 62 7 62 6 62 11 62 2 62 6 62 20 62 34 62 135 62 161 62 59 62 60 62-6 62-64 62-88 62-117 62-142 62-75 62-34 62-7 62-5 62-48 62-51 62 9 62 4 62 18 62 200"/>
<path d="M0 235l62 8 62-8 62 4 62 4 62 8 62 3 62 6 62-3 62 8 62 20 62 36 62 142 62 149 62 64 62 59 62 5 62-63 62-68 62-140 62-154 62-35 62-108 62 62 62-33 62-43 62-39 62 6 62-21 62 40 62 189"/>
<path d="M0 172l62 5 62-5 62 8 62 4 62 8 62 6 62 9 62 3 62 4 62 18 62 28 62 111 62 125 62 63 62 38 62-1 62-54 62-63 62-111 62-101 62-14 62-40 62-39 62-34 62 2 62-33 62-33 62 3 62 41 62 160"/>
<path d="M0 210l62 6 62-7 62 9 62 5 62 8 62 6 62 5 62 2 62 9 62 27 62 46 62 143 62 166 62 53 62 44 62 6 62-70 62-78 62-128 62-132 62-18 62-102 62-5 62-14 62-34 62-35 62-29 62 30 62 43 62 169"/>
<path d="M0 270l62 10 62-10 62 11 62 6 62 8 62 5 62 7 62 0 62 5 62 26 62 56 62 175 62 189 62 55 62 50 62-10 62-64 62-87 62-159 62-155 62-58 62-30 62-63 62-29 62-20 62-53 62 5 62-3 62 40 62 221"/>
<path d="M0 110l62 3 62-4 62 3 62 2 62 4 62 3 62 4 62 2 62 2 62 8 62 11 62 66 62 80 62 43 62 30 62 0 62-30 62-33 62-70 62-71 62 4 62-51 62-15 62-15 62-8 62-19 62-4 62 6 62 14 62 85"/>
<path d="M0 223l62 10 62-9 62 7 62 10 62 8 62 8 62 7 62 7 62 7 62 26 62 42 62 152 62 161 62 62 62 57 62 1 62-82 62-72 62-135 62-144 62-31 62-78 62 26 62-107 62-8 62-13 62-30 62 22 62 60 62 145"/>
<path d="M0 138l62 2 62-7 62 2 62 2 62 4 62 4 62 5 62 1 62 5 62 14 62 24 62 81 62 103 62 41 62 29 62 10 62-32 62-42 62-93 62-86 62-35 62-38 62-11 62-21 62-18 62-22 62 7 62-2 62 22 62 112"/>
<path d="M0 200l62 8 62-6 62 6 62 9 62 5 62 3 62 4 62 0 62 11 62 21 62 37 62 124 62 146 62 55 62 39 62 12 62-53 62-77 62-121 62-124 62-68 62-21 62-26 62-36 62-31 62-6 62-18 62 2 62 31 62 175"/>
<path d="M0 17l62 0 62 0 62 0 62 1 62 0 62 1 62 0 62 1 62 0 62 1 62 2 62 9 62 12 62 8 62 6 62 0 62-6 62-6 62-9 62-10 62-6 62-4 62 0 62-4 62-2 62-3 62 1 62 0 62 6 62 11"/>
<path d="M0 221l62 9 62-6 62 9 62 10 62 3 62-2 62 7 62-3 62 5 62 20 62 33 62 138 62 153 62 79 62 61 62-5 62-65 62-70 62-132 62-142 62-70 62-22 62-6 62-71 62 7 62-53 62 2 62-7 62 43 62 177"/>
<path d="M0 90l62 5 62-2 62 3 62 5 62 3 62 1 62 4 62-1 62 4 62 11 62 13 62 59 62 70 62 38 62 25 62 0 62-36 62-34 62-59 62-56 62-31 62-21 62-3 62 1 62-30 62-9 62-4 62 0 62 21 62 75"/>
<path d="M0 61l62 2 62-3 62 3 62 2 62 2 62 3 62 2 62 2 62 3 62 7 62 9 62 38 62 48 62 24 62 16 62 1 62-19 62-19 62-41 62-40 62-22 62-8 62-14 62-6 62-5 62-7 62-4 62-3 62 12 62 55"/>
<path d="M0 271l62 11 62-9 62 12 62 11 62 4 62 1 62 10 62-3 62 8 62 26 62 54 62 181 62 191 62 60 62 65 62 8 62-80 62-94 62-155 62-175 62-65 62-71 62-16 62-57 62 9 62-73 62 1 62-9 62 52 62 227"/>
<path d="M0 251l62 11 62-4 62 11 62 14 62 9 62 5 62 12 62 3 62 3 62 23 62 44 62 172 62 177 62 71 62 56 62-6 62-76 62-82 62-151 62-175 62-49 62-46 62-6 62-65 62-35 62-38 62-5 62 9 62 38 62 223"/>
<path d="M0 9l62 0 62 0 62 0 62 1 62 0 62 0 62 1 62 0 62 0 62 1 62 1 62 5 62 7 62 4 62 4 62-1 62-2 62-3 62-6 62-6 62-1 62-4 62 0 62-2 62-1 62-2 62 0 62 0 62 1 62 8"/>
<path d="M0 203l62 4 62-5 62 7 62 5 62 8 62 7 62 8 62 4 62 4 62 23 62 38 62 138 62 146 62 53 62 36 62 6 62-37 62-70 62-128 62-127 62-34 62-76 62 23 62-45 62-40 62-41 62-7 62 8 62 27 62 169"/>
<path d="M0 40l62 1 62-1 62 1 62 1 62 2 62 1 62 2 62 1 62 0 62 5 62 4 62 24 62 33 62 18 62 13 62-3 62-11 62-15 62-26 62-26 62-8 62-10 62-3 62-13 62-2 62-4 62-5 62 4 62 5 62 38"/>
<path d="M0 8l62 0 62 0 62 0 62 0 62 1 62 0 62 0 62 0 62 0 62 1 62 1 62 4 62 6 62 4 62 3 62-1 62-2 62-3 62-5 62-5 62-1 62-3 62 0 62-2 62 0 62-1 62-1 62 0 62 1 62 7"/>
<path d="M0 134l62 9 62-4 62 8 62 7 62 4 62 2 62 4 62 1 62 5 62 14 62 23 62 84 62 99 62 51 62 40 62 3 62-45 62-48 62-86 62-91 62-48 62-21 62 3 62-39 62-10 62-28 62 0 62-1 62 41 62 99"/>
<path d="M0 76l62 2 62-2 62 2 62 2 62 2 62 0 62 2 62 0 62 3 62 6 62 9 62 43 62 58 62 32 62 24 62 1 62-27 62-29 62-49 62-40 62 1 62-32 62 9 62-8 62-23 62-26 62-1 62 4 62 12 62 66"/>
<path d="M0 86l62 3 62-2 62 4 62 4 62 4 62 4 62 4 62 2 62 4 62 13 62 18 62 60 62 69 62 36 62 22 62-3 62-23 62-32 62-61 62-68 62-17 62-14 62 4 62-47 62-4 62-3 62-18 62 1 62 30 62 66"/>
<path d="M0 13l62 1 62 0 62 0 62 1 62 0 62 0 62 1 62 0 62 0 62 2 62 2 62 8 62 12 62 6 62 4 62-1 62-3 62-6 62-9 62-9 62-2 62-6 62 1 62-1 62-3 62-3 62-1 62 1 62 3 62 11"/>
<path d="M0 125l62 3 62-3 62 3 62 2 62 5 62 4 62 6 62 1 62 3 62 15 62 20 62 75 62 90 62 49 62 26 62 5 62-36 62-40 62-79 62-77 62-41 62-21 62-23 62 12 62-40 62-20 62-6 62 9 62 24 62 97"/>
<path d="M0 90l62 2 62-1 62 2 62 3 62 3 62 3 62 3 62 3 62 1 62 9 62 11 62 59 62 69 62 34 62 24 62 2 62-25 62-29 62-60 62-63 62-19 62-29 62-6 62-11 62-31 62 10 62-13 62 9 62 18 62 82"/>
<path d="M0 255l62 12 62-5 62 11 62 11 62 11 62 11 62 15 62 3 62 6 62 28 62 54 62 173 62 181 62 68 62 51 62 2 62-72 62-95 62-164 62-172 62-3 62-110 62-37 62-11 62-56 62-36 62-12 62 9 62 70 62 198"/>
<path d="M0 180l62 5 62-6 62 5 62 3 62 7 62 4 62 5 62 1 62 6 62 20 62 28 62 115 62 137 62 56 62 47 62 10 62-55 62-58 62-109 62-117 62-55 62-20 62-17 62-18 62-53 62-37 62 13 62-16 62 70 62 112"/>
<path d="M0 121l62 6 62-3 62 5 62 6 62 3 62 2 62 5 62 1 62 5 62 17 62 22 62 85 62 99 62 41 62 26 62 15 62-47 62-47 62-79 62-81 62-12 62-34 62 9 62-50 62-21 62-17 62-12 62 9 62 18 62 110"/>
<path d="M0 167l62 7 62-3 62 9 62 6 62 6 62 4 62 5 62 2 62 6 62 17 62 29 62 105 62 121 62 58 62 54 62 3 62-54 62-62 62-110 62-98 62-53 62-35 62-17 62-28 62-11 62-25 62-15 62 16 62 24 62 152"/>
<path d="M0 98l62 3 62-3 62 2 62 4 62 3 62 1 62 3 62 0 62 4 62 9 62 14 62 59 62 73 62 38 62 27 62-7 62-24 62-32 62-59 62-59 62-17 62-39 62 20 62-27 62-23 62-9 62-8 62-9 62 24 62 81"/>
<path d="M0 68l62 2 62-3 62 2 62 2 62 1 62 2 62 2 62 1 62 3 62 7 62 8 62 39 62 52 62 29 62 21 62 3 62-24 62-21 62-44 62-44 62-14 62-10 62 0 62-16 62-15 62-12 62-5 62 5 62 17 62 48"/>
<path d="M0 39l62 1 62-1 62 1 62 1 62 1 62 2 62 1 62 1 62 1 62 5 62 5 62 23 62 31 62 17 62 12 62 3 62-14 62-13 62-27 62-23 62-10 62-6 62-7 62 3 62-19 62 1 62-3 62-4 62 14 62 29"/>
<path d="M0 87l62 3 62-3 62 2 62 1 62 3 62 2 62 4 62 0 62 3 62 10 62 14 62 53 62 65 62 32 62 23 62 5 62-24 62-31 62-55 62-59 62-31 62-16 62-4 62-16 62-8 62-9 62-8 62 4 62 16 62 72"/>
<path d="M0 133l62 8 62-4 62 7 62 7 62 5 62 3 62 6 62 3 62 4 62 16 62 24 62 91 62 106 62 51 62 37 62-5 62-38 62-54 62-84 62-92 62-38 62-36 62-6 62-11 62-40 62-17 62 1 62-14 62 28 62 122"/>
<path d="M0 169l62 7 62-3 62 5 62 7 62 5 62 3 62 6 62 1 62 7 62 17 62 25 62 99 62 120 62 58 62 43 62 0 62-37 62-63 62-108 62-98 62-34 62-41 62-3 62-65 62-1 62-29 62-23 62 17 62 22 62 157"/>
<path d="M0 193l62 5 62-6 62 5 62 4 62 4 62 3 62 6 62 1 62 4 62 22 62 33 62 116 62 130 62 62 62 35 62-8 62-53 62-63 62-109 62-108 62-42 62-44 62-7 62-32 62-22 62-32 62-2 62-5 62 27 62 154"/>
<path d="M0 196l62 9 62-5 62 10 62 7 62 4 62 2 62 4 62 1 62 9 62 24 62 40 62 133 62 154 62 55 62 52 62 3 62-68 62-65 62-130 62-130 62-45 62-86 62 38 62-46 62-28 62-35 62 12 62-12 62 34 62 182"/>
<path d="M0 31l62 1 62-1 62 2 62 1 62 0 62 1 62 1 62 1 62 0 62 4 62 3 62 17 62 25 62 15 62 11 62-1 62-6 62-11 62-20 62-24 62-6 62-10 62-3 62-1 62-11 62 0 62-1 62 0 62 6 62 28"/>
<path d="M0 67l62 2 62-3 62 2 62 2 62 2 62 3 62 3 62 1 62 3 62 6 62 8 62 40 62 50 62 29 62 20 62 2 62-19 62-29 62-44 62-46 62-6 62-28 62 0 62-9 62-12 62-5 62 1 62 1 62 16 62 50"/>
<path d="M0 228l62 9 62-9 62 8 62 10 62 7 62 5 62 7 62 0 62 3 62 24 62 35 62 142 62 160 62 61 62 38 62 22 62-69 62-77 62-138 62-149 62-6 62-61 62 6 62-40 62-59 62-45 62 2 62 11 62 38 62 181"/>
<path d="M0 245l62 13 62-6 62 11 62 11 62 9 62 8 62 10 62 4 62 6 62 25 62 49 62 178 62 187 62 67 62 42 62 11 62-61 62-98 62-154 62-159 62-25 62-75 62 27 62-53 62-83 62-46 62-4 62-2 62 48 62 204"/>
<path d="M0 40l62 2 62-1 62 2 62 2 62 0 62 1 62 1 62 1 62 1 62 3 62 5 62 25 62 33 62 19 62 11 62-1 62-11 62-17 62-27 62-27 62-10 62-14 62 3 62-10 62-1 62-6 62-1 62-1 62 6 62 37"/>
<path d="M0 131l62 5 62-2 62 3 62 5 62 4 62 2 62 4 62 0 62 7 62 15 62 23 62 80 62 94 62 53 62 36 62 3 62-33 62-47 62-86 62-92 62-28 62-27 62-21 62 0 62-44 62-12 62-17 62 15 62 36 62 94"/>
<path d="M0 66l62 2 62-1 62 3 62 2 62 2 62 1 62 2 62-1 62 3 62 7 62 8 62 41 62 53 62 30 62 17 62-1 62-18 62-23 62-43 62-45 62-9 62-21 62 6 62-17 62-22 62-8 62 2 62 6 62 6 62 58"/>
<path d="M0 202l62 8 62-4 62 8 62 9 62 5 62 6 62 9 62 0 62 5 62 19 62 34 62 130 62 147 62 53 62 60 62-10 62-57 62-78 62-129 62-120 62-46 62-25 62-10 62-32 62-42 62-27 62-21 62 0 62 50 62 165"/>
<path d="M0 247l62 9 62-9 62 10 62 8 62 7 62 3 62 8 62 0 62 12 62 27 62 49 62 164 62 177 62 67 62 65 62 2 62-78 62-84 62-158 62-157 62-35 62-66 62-17 62-37 62-77 62-18 62 6 62 5 62 81 62 177"/>
<path d="M0 228l62 9 62-5 62 8 62 8 62 10 62 7 62 9 62 3 62 8 62 22 62 48 62 152 62 163 62 65 62 48 62 16 62-63 62-70 62-154 62-152 62-59 62-46 62-31 62-10 62-72 62-8 62-16 62 14 62 20 62 186"/>
<path d="M0 78l62 4 62-4 62 3 62 1 62 3 62 2 62 3 62 0 62 3 62 8 62 10 62 47 62 59 62 30 62 20 62-5 62-21 62-29 62-46 62-49 62-10 62-19 62-16 62 0 62-12 62-24 62 1 62 10 62 15 62 57"/>
<path d="M0 125l62 7 62-2 62 7 62 8 62 5 62 3 62 6 62 2 62 4 62 17 62 25 62 92 62 107 62 42 62 16 62 6 62-30 62-43 62-89 62-86 62-37 62-36 62 9 62-37 62-31 62-16 62-10 62 17 62 23 62 107"/>
<path d="M0 126l62 6 62-4 62 4 62 5 62 4 62 4 62 5 62 1 62 4 62 13 62 21 62 78 62 96 62 44 62 33 62 8 62-42 62-47 62-80 62-77 62-36 62-36 62-22 62 26 62-49 62-15 62-5 62 7 62 31 62 107"/>
<path d="M0 82l62 4 62-2 62 2 62 3 62 2 62 3 62 3 62 0 62 2 62 9 62 11 62 50 62 60 62 32 62 24 62 1 62-28 62-32 62-51 62-52 62-8 62-34 62-4 62-8 62-14 62-11 62-1 62-5 62 23 62 61"/>
<path d="M0 138l62 3 62-3 62 3 62 5 62 4 62 3 62 6 62 1 62 7 62 15 62 22 62 85 62 100 62 47 62 31 62 3 62-53 62-45 62-77 62-82 62-37 62-37 62 20 62-48 62-15 62-10 62-11 62-10 62 35 62 111"/>
<path d="M0 161l62 6 62-3 62 4 62 7 62 6 62 5 62 6 62 5 62 5 62 18 62 29 62 105 62 124 62 50 62 38 62 0 62-52 62-60 62-93 62-100 62-52 62-33 62-19 62-16 62-5 62-46 62 11 62-12 62 24 62 140"/>
<path d="M0 139l62 5 62-4 62 5 62 3 62 5 62 4 62 5 62 1 62 6 62 16 62 18 62 82 62 98 62 58 62 48 62 8 62-52 62-49 62-89 62-80 62-52 62-27 62-5 62-15 62-15 62-26 62-9 62-5 62 31 62 114"/>
<path d="M0 66l62 2 62-3 62 2 62 1 62 3 62 2 62 3 62 0 62 3 62 7 62 10 62 37 62 51 62 28 62 18 62 1 62-20 62-26 62-43 62-42 62-11 62-16 62-9 62 0 62-20 62-8 62 1 62-6 62 17 62 54"/>
<path d="M0 49l62 2 62-2 62 2 62 2 62 2 62 2 62 3 62 1 62 1 62 4 62 5 62 28 62 37 62 23 62 16 62 2 62-18 62-18 62-32 62-32 62-15 62-8 62-5 62-7 62-8 62-8 62-1 62 3 62 13 62 36"/>
<path d="M0 8l62 0 62 0 62 0 62 1 62 0 62 0 62 0 62 1 62 0 62 1 62 1 62 4 62 7 62 4 62 3 62 0 62-3 62-4 62-5 62-5 62-1 62-3 62 1 62-2 62-2 62-2 62 1 62-1 62 1 62 8"/>
<path d="M0 4l62 0 62 0 62 0 62 1 62 0 62 0 62 0 62 0 62 0 62 1 62 0 62 3 62 3 62 2 62 1 62 0 62-1 62-2 62-2 62-3 62-1 62-1 62-1 62-1 62 0 62 0 62-1 62 0 62 1 62 4"/>
<path d="M0 106l62 4 62-2 62 4 62 2 62 4 62 1 62 5 62 0 62 2 62 10 62 12 62 64 62 80 62 41 62 33 62-2 62-24 62-44 62-66 62-70 62-23 62-6 62-1 62-23 62-21 62-17 62-9 62-6 62 23 62 88"/>
<path d="M0 110l62 4 62-3 62 5 62 2 62 5 62 2 62 5 62 2 62 3 62 11 62 16 62 69 62 88 62 45 62 31 62 2 62-39 62-38 62-76 62-65 62-26 62-22 62-8 62-23 62-10 62-20 62-12 62-5 62 20 62 103"/>
<path d="M0 74l62 2 62-2 62 3 62 3 62 3 62 1 62 3 62 1 62 2 62 7 62 7 62 46 62 58 62 29 62 19 62 1 62-21 62-24 62-46 62-49 62-16 62-20 62-6 62-17 62-3 62-8 62-8 62 5 62 10 62 72"/>
<path d="M0 104l62 4 62-4 62 3 62 2 62 5 62 3 62 5 62 2 62 3 62 10 62 14 62 61 62 76 62 42 62 22 62 9 62-34 62-38 62-63 62-65 62-19 62-38 62-6 62 7 62-37 62-16 62-2 62 3 62 31 62 65"/>
<path d="M0 122l62 4 62-3 62 3 62 4 62 3 62 3 62 5 62 1 62 4 62 13 62 14 62 72 62 88 62 45 62 42 62 2 62-44 62-50 62-70 62-72 62-28 62-31 62-19 62-15 62-14 62-16 62 2 62-6 62 22 62 108"/>
<path d="M0 31l62 0 62-1 62 1 62 0 62 1 62 1 62 1 62 1 62 1 62 3 62 4 62 20 62 25 62 14 62 9 62-1 62-8 62-11 62-21 62-20 62-2 62-10 62 4 62-13 62-4 62-6 62-2 62-1 62 7 62 25"/>
<path d="M0 241l62 9 62-9 62 9 62 7 62 9 62 9 62 7 62 4 62 5 62 21 62 45 62 157 62 167 62 66 62 50 62 0 62-67 62-85 62-140 62-150 62-33 62-69 62-22 62-56 62-26 62-34 62 1 62-12 62 52 62 182"/>
<path d="M0 143l62 4 62-4 62 6 62 5 62 5 62 5 62 7 62 2 62 5 62 14 62 23 62 90 62 105 62 48 62 45 62-4 62-43 62-58 62-84 62-88 62-35 62-29 62 1 62-32 62-35 62-15 62-4 62-8 62 43 62 105"/>
<path d="M0 149l62 6 62-5 62 5 62 4 62 4 62 2 62 4 62 0 62 4 62 17 62 22 62 93 62 107 62 57 62 30 62 0 62-39 62-51 62-88 62-100 62-18 62-48 62-1 62-33 62-27 62-22 62-2 62 2 62 31 62 113"/>
<path d="M0 229l62 8 62-8 62 9 62 6 62 10 62 5 62 7 62 4 62 8 62 25 62 48 62 159 62 159 62 69 62 44 62 4 62-79 62-71 62-146 62-144 62-70 62-29 62 5 62-40 62-55 62-55 62-10 62 26 62 69 62 149"/>
<path d="M0 67l62 2 62-2 62 2 62 2 62 3 62 2 62 3 62 0 62 3 62 8 62 13 62 46 62 59 62 26 62 13 62-3 62-12 62-27 62-43 62-48 62-14 62-30 62 0 62-18 62-1 62-7 62-9 62 3 62 15 62 55"/>
<path d="M0 257l62 12 62-5 62 16 62 12 62 11 62 4 62 13 62 3 62 6 62 29 62 61 62 187 62 192 62 70 62 40 62 4 62-86 62-81 62-167 62-161 62-58 62-67 62-36 62-34 62-44 62-39 62-21 62 9 62 62 62 203"/>
<path d="M0 119l62 4 62-3 62 5 62 4 62 5 62 4 62 5 62 2 62 6 62 15 62 21 62 75 62 89 62 42 62 37 62-1 62-35 62-46 62-83 62-72 62-37 62-40 62 13 62-15 62-18 62-31 62-9 62 4 62 30 62 104"/>
<path d="M0 89l62 3 62-3 62 2 62 3 62 5 62 1 62 5 62 0 62 3 62 7 62 8 62 51 62 60 62 42 62 27 62-3 62-27 62-35 62-54 62-50 62-8 62-31 62 5 62-33 62-13 62-5 62-5 62 1 62 14 62 72"/>
<path d="M0 223l62 12 62-7 62 9 62 12 62 10 62 10 62 9 62 6 62 3 62 15 62 34 62 150 62 157 62 69 62 48 62 0 62-53 62-91 62-141 62-127 62-64 62-43 62 23 62-75 62-25 62-60 62 2 62 9 62 29 62 194"/>
<path d="M0 35l62 1 62-1 62 2 62 1 62 2 62 1 62 2 62 1 62 1 62 3 62 4 62 21 62 27 62 17 62 12 62-1 62-14 62-14 62-22 62-23 62-9 62-3 62-12 62 0 62-7 62-2 62 0 62-5 62 8 62 35"/>
<path d="M0 108l62 3 62-3 62 4 62 3 62 3 62 1 62 4 62 0 62 4 62 12 62 18 62 65 62 80 62 40 62 30 62 8 62-35 62-38 62-65 62-73 62-19 62-28 62-11 62-13 62-22 62-11 62-15 62 2 62 24 62 87"/>
<path d="M0 50l62 2 62-1 62 2 62 2 62 3 62 1 62 3 62 0 62 2 62 4 62 7 62 29 62 39 62 23 62 15 62 1 62-17 62-15 62-36 62-35 62-12 62-6 62-12 62 1 62-20 62-4 62-2 62-3 62 18 62 41"/>
<path d="M0 43l62 2 62-2 62 1 62 1 62 1 62 0 62 1 62 0 62 2 62 6 62 5 62 27 62 34 62 20 62 12 62 4 62-12 62-15 62-29 62-31 62-2 62-26 62 9 62-15 62-8 62-1 62-3 62 2 62 9 62 34"/>
<path d="M0 91l62 3 62-2 62 2 62 3 62 3 62 3 62 3 62 2 62 2 62 10 62 12 62 56 62 66 62 37 62 23 62-2 62-24 62-35 62-54 62-57 62-7 62-55 62 18 62-21 62-16 62-5 62-14 62 2 62 16 62 77"/>
<path d="M0 92l62 4 62-2 62 3 62 3 62 4 62 4 62 4 62 3 62 3 62 8 62 12 62 56 62 72 62 41 62 25 62-2 62-24 62-37 62-60 62-57 62-25 62-19 62-22 62-20 62 6 62-22 62-1 62 4 62 18 62 78"/>
<path d="M0 44l62 2 62-2 62 2 62 1 62 2 62 1 62 2 62 1 62 0 62 4 62 6 62 24 62 33 62 23 62 14 62-4 62-12 62-17 62-28 62-26 62-7 62-14 62 3 62-10 62-4 62-12 62-1 62 2 62 8 62 36"/>
<path d="M0 114l62 4 62-5 62 4 62 2 62 3 62 2 62 5 62 0 62 5 62 10 62 16 62 68 62 82 62 43 62 31 62 5 62-34 62-45 62-64 62-72 62-29 62-10 62-21 62-23 62-10 62-3 62-21 62-4 62 33 62 86"/>
<path d="M0 218l62 8 62-9 62 8 62 7 62 7 62 5 62 9 62 4 62 1 62 21 62 36 62 141 62 154 62 60 62 30 62 5 62-59 62-62 62-138 62-127 62-47 62-63 62-15 62-36 62-26 62-24 62 4 62-4 62 38 62 167"/>
<path d="M0 8l62 0 62 0 62 0 62 0 62 1 62 0 62 0 62 0 62 0 62 1 62 1 62 4 62 6 62 4 62 2 62 1 62-3 62-4 62-5 62-4 62-3 62-1 62 0 62-1 62-1 62-2 62 0 62 0 62 3 62 6"/>
<path d="M0 166l62 7 62-6 62 5 62 7 62 6 62 5 62 9 62 3 62 2 62 18 62 26 62 115 62 132 62 55 62 52 62 1 62-60 62-71 62-96 62-112 62-45 62-56 62-4 62-5 62-39 62-30 62 8 62-10 62 29 62 151"/>
<path d="M0 103l62 4 62-4 62 5 62 3 62 3 62 3 62 4 62 1 62 4 62 12 62 16 62 64 62 79 62 40 62 22 62 6 62-32 62-41 62-66 62-72 62 1 62-17 62-8 62-19 62-26 62-17 62-8 62 0 62 14 62 84"/>
<path d="M0 109l62 4 62-2 62 4 62 4 62 3 62 3 62 4 62-1 62 4 62 10 62 18 62 69 62 90 62 37 62 31 62 2 62-35 62-39 62-71 62-68 62-9 62-49 62 20 62-52 62-4 62-19 62-1 62 4 62 17 62 87"/>
<path d="M0 295l62 8 62-13 62 4 62 6 62 10 62 6 62 17 62 3 62 8 62 29 62 60 62 178 62 188 62 70 62 60 62 6 62-103 62-97 62-177 62-163 62-69 62-45 62 4 62-39 62-75 62-42 62 8 62-17 62 90 62 188"/>
<path d="M0 74l62 5 62-2 62 4 62 4 62 2 62 1 62 3 62 0 62 2 62 9 62 11 62 50 62 63 62 28 62 16 62 3 62-24 62-23 62-49 62-57 62-22 62-25 62 4 62-8 62-8 62-21 62-5 62 14 62 16 62 58"/>
<path d="M0 162l62 7 62-4 62 5 62 6 62 6 62 6 62 8 62 2 62 6 62 20 62 28 62 111 62 126 62 61 62 54 62-5 62-53 62-55 62-107 62-105 62-42 62-66 62-12 62 17 62-46 62-34 62-12 62 7 62 20 62 158"/>
<path d="M0 268l62 8 62-9 62 8 62 9 62 12 62 8 62 14 62 5 62 2 62 25 62 45 62 172 62 187 62 57 62 67 62-5 62-69 62-83 62-162 62-158 62-106 62-8 62-43 62-74 62 0 62-19 62-17 62-1 62 70 62 185"/>
<path d="M0 234l62 14 62-6 62 12 62 9 62 8 62 5 62 9 62 1 62 8 62 21 62 48 62 156 62 169 62 64 62 51 62 2 62-65 62-87 62-148 62-151 62-55 62-51 62 0 62-33 62-45 62-53 62-6 62 4 62 56 62 201"/>
<path d="M0 47l62 2 62-1 62 2 62 1 62 1 62 1 62 1 62 0 62 1 62 6 62 7 62 30 62 38 62 23 62 10 62 1 62-12 62-18 62-30 62-33 62-11 62-17 62 3 62-14 62-6 62-3 62-4 62 3 62 6 62 44"/>
<path d="M0 287l62 10 62-5 62 9 62 12 62 13 62 6 62 8 62 9 62 6 62 26 62 59 62 192 62 202 62 65 62 59 62 15 62-96 62-113 62-174 62-162 62-69 62-53 62-32 62-53 62-43 62-13 62-21 62-12 62 78 62 221"/>
<path d="M0 20l62 1 62-1 62 1 62 1 62 0 62 1 62 0 62 0 62 1 62 1 62 2 62 12 62 16 62 9 62 7 62 1 62-7 62-7 62-12 62-13 62-3 62-6 62 6 62-7 62-8 62-5 62 2 62-2 62 8 62 14"/>
<path d="M0 51l62 2 62-2 62 2 62 1 62 2 62 1 62 2 62 0 62 2 62 5 62 5 62 28 62 38 62 28 62 17 62 0 62-15 62-21 62-34 62-32 62-6 62-21 62 4 62-8 62-9 62-9 62-6 62-3 62 18 62 39"/>
<path d="M0 51l62 1 62-2 62 2 62 0 62 2 62 1 62 1 62 0 62 2 62 6 62 6 62 31 62 40 62 22 62 13 62 3 62-18 62-17 62-33 62-33 62-4 62-21 62-3 62-11 62-10 62 1 62-7 62 5 62 15 62 36"/>
<path d="M0 34l62 2 62-1 62 1 62 2 62 1 62 1 62 1 62 0 62 1 62 5 62 4 62 21 62 28 62 16 62 10 62 1 62-12 62-13 62-24 62-23 62-7 62-5 62-2 62-7 62-6 62-6 62-1 62-3 62 7 62 30"/>
<path d="M0 283l62 8 62-8 62 7 62 7 62 8 62 5 62 8 62 6 62 6 62 31 62 47 62 185 62 181 62 68 62 73 62-5 62-74 62-100 62-161 62-157 62-68 62-3 62-14 62-75 62-68 62-43 62 3 62 15 62 37 62 216"/>
<path d="M0 231l62 8 62-5 62 9 62 6 62 9 62 6 62 8 62 4 62 5 62 21 62 39 62 142 62 162 62 60 62 66 62 3 62-72 62-75 62-142 62-151 62-22 62-8 62-55 62-29 62-39 62-79 62 2 62 6 62 42 62 171"/>
<path d="M0 171l62 7 62-2 62 7 62 8 62 7 62 2 62 8 62 1 62 6 62 18 62 36 62 113 62 128 62 54 62 44 62-2 62-62 62-67 62-105 62-105 62-39 62-54 62 15 62-47 62-37 62-1 62-14 62 12 62 24 62 146"/>
<path d="M0 217l62 8 62-5 62 9 62 9 62 5 62 5 62 7 62 0 62 9 62 26 62 44 62 148 62 162 62 56 62 52 62 2 62-56 62-75 62-137 62-152 62-59 62-40 62 6 62-81 62-12 62-32 62-7 62 5 62 39 62 170"/>
<path d="M0 191l62 6 62-4 62 8 62 7 62 5 62 5 62 9 62 1 62 9 62 18 62 40 62 122 62 139 62 64 62 53 62 7 62-63 62-65 62-121 62-123 62-68 62-55 62 9 62-27 62-25 62-38 62-2 62-4 62 45 62 151"/>
<path d="M0 13l62 0 62 0 62 0 62 1 62 0 62 0 62 1 62 0 62 0 62 2 62 1 62 8 62 10 62 6 62 4 62 1 62-4 62-4 62-9 62-9 62-4 62-4 62 0 62-2 62-3 62-1 62 0 62 0 62 2 62 12"/>
<path d="M0 260l62 5 62-9 62 5 62 3 62 11 62 6 62 10 62 5 62 10 62 24 62 50 62 156 62 164 62 64 62 49 62 5 62-58 62-90 62-153 62-151 62-28 62-100 62 22 62-30 62-49 62-28 62-20 62-11 62 56 62 198"/>
<path d="M0 127l62 6 62-5 62 3 62 6 62 4 62 4 62 6 62 0 62 4 62 11 62 14 62 76 62 94 62 51 62 43 62 4 62-45 62-53 62-77 62-85 62-28 62-39 62-1 62-9 62-21 62-22 62 5 62-18 62 43 62 101"/>
<path d="M0 25l62 1 62-1 62 1 62 1 62 0 62 1 62 1 62 0 62 1 62 2 62 2 62 14 62 20 62 11 62 9 62 0 62-10 62-8 62-16 62-15 62-8 62-4 62-1 62-5 62-5 62-3 62 0 62 0 62 6 62 19"/>
<path d="M0 49l62 2 62-2 62 2 62 2 62 1 62 1 62 1 62 1 62 2 62 6 62 7 62 30 62 39 62 22 62 12 62 2 62-15 62-15 62-33 62-39 62-16 62-10 62-1 62-9 62-3 62-5 62-2 62-2 62 12 62 39"/>
<path d="M0 68l62 3 62-1 62 2 62 3 62 3 62 2 62 3 62 1 62 2 62 7 62 7 62 41 62 53 62 31 62 26 62-1 62-19 62-25 62-44 62-48 62-17 62-26 62 11 62-22 62-1 62-28 62 14 62-8 62 20 62 59"/>
<path d="M0 141l62 3 62-7 62 3 62 1 62 4 62 2 62 5 62 1 62 5 62 17 62 24 62 85 62 103 62 41 62 26 62-7 62-23 62-38 62-84 62-103 62-25 62-59 62 1 62-4 62-24 62-13 62-10 62-5 62 25 62 105"/>
<path d="M0 218l62 4 62-9 62 7 62 1 62 10 62 6 62 9 62 4 62 8 62 25 62 43 62 147 62 161 62 58 62 29 62 8 62-47 62-71 62-129 62-141 62-23 62-70 62-2 62-54 62-34 62-35 62-5 62 1 62 37 62 160"/>
<path d="M0 179l62 5 62-5 62 7 62 4 62 9 62 5 62 6 62 4 62 5 62 23 62 33 62 117 62 132 62 52 62 27 62 12 62-56 62-61 62-107 62-105 62-61 62-19 62-20 62-38 62-26 62-25 62-9 62-16 62 63 62 127"/>
<path d="M0 22l62 1 62-1 62 1 62 0 62 1 62 1 62 1 62 0 62 0 62 3 62 2 62 13 62 17 62 10 62 7 62 0 62-5 62-9 62-15 62-15 62-1 62-7 62 1 62-6 62-6 62 1 62-3 62-1 62 3 62 21"/>
<path d="M0 222l62 10 62-6 62 8 62 7 62 6 62 4 62 5 62 1 62 7 62 27 62 48 62 142 62 159 62 56 62 29 62 9 62-36 62-67 62-143 62-125 62-66 62-79 62-32 62-21 62-26 62-19 62-4 62-11 62 49 62 182"/>
<path d="M0 216l62 11 62-5 62 10 62 10 62 7 62 5 62 7 62 2 62 12 62 21 62 46 62 154 62 174 62 56 62 51 62 12 62-75 62-92 62-134 62-142 62-64 62-49 62-13 62-51 62-27 62-11 62-25 62 6 62 48 62 183"/>
<path d="M0 107l62 5 62-1 62 3 62 4 62 4 62 2 62 3 62 1 62 3 62 9 62 14 62 66 62 79 62 37 62 29 62 0 62-21 62-39 62-64 62-68 62-25 62-15 62-5 62-32 62-23 62-3 62-11 62-9 62 42 62 74"/>
<path d="M0 206l62 8 62-5 62 8 62 6 62 14 62 7 62 12 62 8 62 4 62 17 62 25 62 127 62 140 62 62 62 71 62 7 62-71 62-68 62-134 62-131 62-18 62-50 62-6 62-63 62-25 62-31 62-6 62-5 62 43 62 158"/>
<path d="M0 47l62 2 62-2 62 2 62 1 62 1 62 1 62 2 62 0 62 1 62 5 62 5 62 29 62 38 62 21 62 14 62 0 62-15 62-19 62-28 62-30 62-3 62-22 62 0 62-9 62-11 62-5 62-2 62 3 62 11 62 38"/>
<path d="M0 154l62 5 62-4 62 5 62 6 62 6 62 5 62 7 62 2 62 3 62 13 62 18 62 93 62 108 62 52 62 38 62 0 62-41 62-57 62-87 62-86 62-29 62-23 62 7 62-52 62-17 62-36 62 6 62-7 62 28 62 129"/>
<path d="M0 239l62 6 62-8 62 6 62 5 62 8 62 5 62 9 62 2 62 5 62 20 62 35 62 146 62 164 62 63 62 59 62-2 62-49 62-79 62-138 62-153 62-19 62-73 62-21 62-14 62-74 62-29 62-10 62 19 62 14 62 209"/>
<path d="M0 205l62 9 62-6 62 7 62 8 62 7 62 4 62 7 62 1 62 8 62 21 62 39 62 140 62 156 62 58 62 43 62 12 62-64 62-64 62-134 62-143 62-42 62-37 62-46 62-21 62-14 62-34 62-8 62 5 62 61 62 140"/>
<path d="M0 7l62 0 62 0 62 0 62 0 62 0 62 0 62 1 62 0 62 0 62 1 62 0 62 4 62 5 62 4 62 3 62-1 62-2 62-2 62-5 62-4 62 0 62-2 62 1 62-3 62-1 62-3 62 1 62 0 62 1 62 6"/>
<path d="M0 169l62 8 62-5 62 8 62 7 62 7 62 6 62 5 62 4 62 7 62 16 62 27 62 108 62 122 62 59 62 48 62-5 62-43 62-71 62-94 62-112 62-57 62-31 62-13 62-48 62-14 62-15 62 0 62-1 62 42 62 135"/>
<path d="M0 209l62 6 62-9 62 8 62 2 62 10 62 7 62 10 62 0 62 10 62 22 62 40 62 135 62 140 62 61 62 58 62-13 62-61 62-78 62-121 62-128 62-8 62-59 62-5 62-39 62-43 62-30 62-41 62 34 62 30 62 175"/>
<path d="M0 22l62 1 62 0 62 0 62 1 62 1 62 0 62 1 62 0 62 2 62 2 62 4 62 14 62 19 62 11 62 7 62 0 62-6 62-9 62-16 62-14 62-8 62-6 62-1 62-5 62-5 62-2 62-1 62 1 62 5 62 18"/>
<path d="M0 32l62 1 62-1 62 1 62 1 62 1 62 1 62 0 62 1 62 1 62 2 62 4 62 18 62 23 62 13 62 10 62 0 62-9 62-10 62-22 62-19 62-6 62-7 62 4 62-11 62-6 62-6 62 0 62 1 62 7 62 25"/>
<path d="M0 249l62 12 62-6 62 9 62 11 62 6 62 10 62 7 62 2 62 9 62 30 62 53 62 177 62 185 62 58 62 49 62-8 62-65 62-100 62-149 62-167 62-28 62-51 62 30 62-108 62-46 62-17 62-18 62 17 62 21 62 215"/>
<path d="M0 212l62 6 62-8 62 5 62 5 62 4 62 5 62 3 62-4 62 8 62 23 62 38 62 132 62 153 62 47 62 56 62-10 62-58 62-65 62-129 62-126 62-56 62-28 62-9 62-43 62-38 62-19 62-5 62-5 62 36 62 172"/>
<path d="M0 227l62 8 62-9 62 9 62 6 62 9 62 8 62 9 62 5 62 5 62 18 62 36 62 142 62 154 62 69 62 62 62 2 62-73 62-94 62-123 62-136 62-43 62-56 62-14 62-46 62-48 62-7 62-11 62-8 62 56 62 197"/>
<path d="M0 51l62 2 62-1 62 2 62 2 62 2 62 1 62 2 62 0 62 2 62 6 62 6 62 30 62 40 62 22 62 16 62 1 62-16 62-19 62-33 62-34 62-11 62-15 62-1 62-11 62-2 62-12 62-2 62 2 62 3 62 49"/>
<path d="M0 74l62 4 62-2 62 3 62 3 62 2 62 2 62 3 62 0 62 4 62 7 62 9 62 44 62 54 62 35 62 23 62 1 62-23 62-29 62-44 62-51 62-19 62-4 62-12 62-16 62-14 62-9 62-5 62-3 62 26 62 54"/>
<path d="M0 44l62 2 62-2 62 2 62 1 62 1 62 1 62 1 62 0 62 1 62 5 62 5 62 26 62 34 62 19 62 16 62-4 62-12 62-14 62-29 62-25 62-10 62-14 62 6 62-17 62-11 62-3 62 3 62-2 62 10 62 37"/>
<path d="M0 238l62 8 62-9 62 6 62 7 62 10 62 4 62 9 62 3 62 8 62 21 62 45 62 156 62 169 62 63 62 49 62-2 62-47 62-80 62-143 62-159 62-61 62-47 62 2 62-81 62-22 62-35 62 24 62-13 62 37 62 199"/>
<path d="M0 98l62 4 62-3 62 2 62 3 62 4 62 3 62 5 62 2 62 2 62 10 62 14 62 60 62 76 62 40 62 22 62 2 62-29 62-36 62-62 62-60 62-9 62-16 62-10 62-20 62-33 62-11 62-15 62 20 62 0 62 99"/>
<path d="M0 126l62 3 62-3 62 4 62 3 62 5 62 3 62 6 62 0 62 7 62 12 62 22 62 80 62 96 62 49 62 37 62-7 62-34 62-41 62-79 62-93 62-30 62-23 62-13 62-20 62-3 62-36 62-9 62 4 62 12 62 120"/>
<path d="M0 41l62 2 62-1 62 1 62 1 62 2 62 1 62 2 62 0 62 1 62 4 62 5 62 25 62 34 62 18 62 17 62 0 62-15 62-17 62-26 62-29 62-6 62-9 62-7 62-9 62-8 62 0 62-5 62-1 62 14 62 35"/>
<path d="M0 179l62 7 62-5 62 6 62 7 62 9 62 4 62 8 62 4 62 5 62 17 62 31 62 109 62 131 62 53 62 51 62 8 62-73 62-75 62-101 62-101 62-12 62-65 62-42 62-37 62 12 62-28 62-25 62 10 62 48 62 135"/>
<path d="M0 98l62 4 62-4 62 3 62 2 62 4 62 3 62 5 62 1 62 3 62 10 62 12 62 60 62 73 62 34 62 25 62 1 62-27 62-38 62-62 62-56 62-12 62-30 62 0 62-31 62-13 62-12 62-3 62 0 62 18 62 79"/>
<path d="M0 224l62 7 62-6 62 6 62 7 62 9 62 6 62 10 62 4 62 6 62 28 62 51 62 161 62 174 62 53 62 37 62-4 62-62 62-75 62-149 62-124 62-20 62-109 62 31 62-75 62-24 62-23 62-9 62-15 62 66 62 158"/>
<path d="M0 28l62 2 62-1 62 1 62 1 62 1 62 1 62 2 62 0 62 1 62 3 62 4 62 18 62 23 62 14 62 10 62 2 62-7 62-11 62-21 62-20 62-9 62-10 62-4 62-5 62-3 62-4 62-1 62 3 62 6 62 26"/>
<path d="M0 117l62 3 62-2 62 6 62 4 62 4 62 2 62 5 62 1 62 2 62 13 62 15 62 67 62 88 62 48 62 33 62 1 62-36 62-52 62-68 62-75 62-39 62-1 62-4 62-19 62-27 62-16 62-10 62 2 62 23 62 86"/>
<path d="M0 185l62 6 62-6 62 7 62 6 62 6 62 4 62 8 62 1 62 9 62 23 62 38 62 126 62 141 62 55 62 36 62-1 62-50 62-68 62-117 62-125 62-5 62-43 62-9 62-51 62-33 62-40 62-26 62 15 62 37 62 150"/>
<path d="M0 203l62 4 62-6 62 8 62 7 62 5 62 3 62 9 62 0 62 7 62 20 62 36 62 129 62 138 62 67 62 35 62 9 62-70 62-70 62-119 62-119 62-24 62-92 62 45 62-62 62-22 62-29 62-9 62 0 62 37 62 152"/>
<path d="M0 21l62 1 62-1 62 1 62 1 62 1 62 0 62 1 62 1 62 0 62 2 62 2 62 13 62 17 62 11 62 6 62 1 62-5 62-8 62-14 62-14 62-6 62-4 62-4 62-6 62-3 62 0 62-1 62-1 62 7 62 17"/>
<path d="M0 120l62 5 62-4 62 3 62 5 62 5 62 3 62 6 62 0 62 8 62 14 62 23 62 79 62 94 62 44 62 37 62-2 62-23 62-42 62-86 62-84 62-12 62-61 62 19 62-33 62-26 62-28 62 7 62 2 62 45 62 84"/>
<path d="M0 114l62 6 62-4 62 5 62 5 62 5 62 3 62 5 62 2 62 5 62 13 62 19 62 76 62 90 62 46 62 39 62-6 62-34 62-42 62-79 62-77 62-13 62-43 62 8 62-35 62-14 62-28 62-1 62 0 62 31 62 89"/>
<path d="M0 195l62 8 62-5 62 9 62 6 62 8 62 3 62 4 62 3 62 9 62 26 62 42 62 142 62 158 62 51 62 37 62-1 62-38 62-69 62-132 62-132 62-47 62-39 62-27 62-9 62-57 62-37 62-17 62 26 62 33 62 160"/>
<path d="M0 255l62 9 62-9 62 8 62 7 62 7 62 6 62 9 62 1 62 10 62 28 62 50 62 169 62 172 62 63 62 50 62 16 62-78 62-76 62-152 62-161 62-44 62-71 62 16 62-46 62-77 62-46 62 18 62 1 62 58 62 174"/>
<path d="M0 93l62 2 62-3 62 3 62 2 62 3 62 2 62 4 62 1 62 1 62 6 62 9 62 50 62 67 62 38 62 29 62 1 62-27 62-35 62-55 62-54 62-12 62-17 62-25 62 9 62-26 62-18 62 2 62-6 62 16 62 76"/>
<path d="M0 103l62 5 62-4 62 4 62 4 62 4 62 3 62 4 62 2 62 4 62 11 62 14 62 63 62 78 62 40 62 41 62 4 62-36 62-43 62-62 62-72 62-33 62-34 62 5 62-18 62-24 62-11 62 6 62 1 62 25 62 84"/>
<path d="M0 186l62 7 62-6 62 6 62 7 62 4 62 4 62 5 62 0 62 3 62 19 62 33 62 115 62 133 62 57 62 38 62 8 62-43 62-60 62-118 62-120 62-35 62-31 62-8 62-28 62-27 62-39 62-17 62-9 62 53 62 144"/>
<path d="M0 8l62 0 62 0 62 0 62 1 62 0 62 0 62 0 62 1 62 0 62 1 62 0 62 5 62 6 62 4 62 3 62-1 62-2 62-3 62-4 62-6 62-2 62-2 62-1 62 0 62-2 62-1 62-1 62 0 62 3 62 6"/>
<path d="M0 155l62 5 62-5 62 6 62 5 62 8 62 6 62 5 62 3 62 9 62 19 62 30 62 100 62 119 62 55 62 40 62 0 62-43 62-60 62-102 62-103 62-45 62-60 62 18 62-7 62-63 62-13 62-3 62 5 62 42 62 115"/>
<path d="M0 265l62 16 62-6 62 15 62 12 62 12 62 2 62 13 62-3 62 8 62 28 62 61 62 185 62 193 62 58 62 54 62-3 62-72 62-96 62-175 62-175 62-53 62-66 62-1 62-35 62-36 62-55 62-16 62 5 62 44 62 221"/>
<path d="M0 123l62 4 62-3 62 5 62 4 62 4 62 5 62 7 62 1 62 6 62 13 62 21 62 76 62 94 62 49 62 29 62 8 62-36 62-45 62-81 62-84 62-7 62-2 62-25 62-40 62-27 62-20 62-19 62-3 62 38 62 103"/>
<path d="M0 131l62 4 62-3 62 5 62 5 62 6 62 5 62 6 62 1 62 3 62 10 62 14 62 77 62 89 62 47 62 38 62 4 62-46 62-48 62-78 62-78 62-31 62-39 62 14 62-25 62-29 62-16 62-11 62 14 62 9 62 118"/>
<path d="M0 132l62 5 62-4 62 4 62 5 62 4 62 2 62 5 62 2 62 4 62 13 62 18 62 76 62 86 62 54 62 45 62 3 62-43 62-47 62-77 62-82 62-41 62-13 62-2 62-33 62-14 62-28 62-5 62-1 62 31 62 108"/>
<path d="M0 19l62 1 62-1 62 1 62 0 62 1 62 0 62 1 62 0 62 0 62 2 62 2 62 11 62 15 62 8 62 6 62 0 62-5 62-7 62-12 62-12 62-5 62-4 62 1 62-5 62-4 62-3 62 0 62-1 62 5 62 18"/>
<path d="M0 194l62 9 62-4 62 6 62 10 62 6 62 4 62 7 62 3 62 8 62 21 62 39 62 131 62 146 62 58 62 59 62-9 62-54 62-65 62-128 62-119 62-60 62-65 62 2 62-19 62-29 62-52 62 14 62 11 62 24 62 165"/>
<path d="M0 230l62 9 62-6 62 9 62 10 62 9 62 8 62 12 62 3 62 10 62 32 62 56 62 171 62 172 62 63 62 36 62 9 62-65 62-93 62-154 62-127 62-106 62-55 62 15 62-74 62-29 62-22 62 2 62-6 62 56 62 192"/>
<path d="M0 149l62 9 62-2 62 7 62 9 62 8 62 6 62 11 62 4 62 4 62 16 62 27 62 108 62 129 62 45 62 43 62-5 62-45 62-61 62-100 62-109 62-53 62-29 62 2 62-42 62-44 62 4 62-17 62 9 62 41 62 111"/>
<path d="M0 247l62 9 62-3 62 10 62 11 62 5 62 4 62 4 62 0 62 7 62 23 62 45 62 159 62 160 62 68 62 58 62 12 62-82 62-68 62-147 62-156 62-15 62-84 62 23 62-59 62-75 62-29 62 6 62-28 62 65 62 194"/>
<path d="M0 51l62 2 62-2 62 2 62 2 62 2 62 1 62 3 62 1 62 1 62 6 62 8 62 33 62 41 62 21 62 13 62-1 62-15 62-19 62-31 62-37 62-7 62-13 62 2 62-16 62-4 62-14 62-1 62-1 62 13 62 39"/>
<path d="M0 265l62 7 62-5 62 8 62 8 62 10 62 7 62 9 62 2 62 14 62 31 62 60 62 183 62 191 62 57 62 46 62-14 62-48 62-98 62-165 62-175 62-44 62-68 62-67 62 14 62-61 62-29 62-9 62 10 62 28 62 244"/>
<path d="M0 198l62 6 62-7 62 6 62 6 62 5 62 4 62 8 62 1 62 4 62 18 62 32 62 114 62 131 62 47 62 34 62 16 62-56 62-70 62-112 62-110 62-55 62-41 62-12 62-40 62-1 62-22 62-27 62 17 62 28 62 143"/>
<path d="M0 111l62 4 62-3 62 4 62 2 62 6 62 5 62 6 62 2 62 4 62 12 62 19 62 75 62 90 62 44 62 29 62 2 62-30 62-45 62-73 62-80 62-16 62-35 62-6 62-23 62-35 62 4 62-18 62 19 62 19 62 93"/>
<path d="M0 213l62 7 62-6 62 4 62 8 62 6 62 5 62 7 62 2 62 9 62 21 62 43 62 138 62 151 62 65 62 47 62 10 62-43 62-93 62-133 62-129 62-59 62-62 62 28 62-44 62-41 62-50 62-1 62 26 62 26 62 182"/>
<path d="M0 313l62 12 62-7 62 11 62 11 62 11 62 13 62 14 62 5 62 8 62 26 62 65 62 206 62 209 62 69 62 77 62 3 62-119 62-122 62-177 62-170 62-49 62-101 62-40 62-3 62-60 62-23 62-55 62 45 62 53 62 246"/>
<path d="M0 26l62 1 62 0 62 1 62 1 62 1 62 0 62 1 62 0 62 1 62 3 62 3 62 16 62 21 62 12 62 6 62 1 62-7 62-9 62-19 62-18 62-7 62-2 62-5 62-3 62-4 62-5 62-1 62-2 62 8 62 23"/>
<path d="M0 109l62 3 62-5 62 4 62 3 62 3 62 4 62 4 62 2 62 2 62 11 62 12 62 67 62 82 62 40 62 30 62-1 62-33 62-43 62-66 62-67 62-6 62-46 62-1 62-6 62-25 62-13 62-1 62-1 62 23 62 97"/>
<path d="M0 264l62 7 62-8 62 9 62 6 62 11 62 9 62 9 62 7 62 8 62 21 62 47 62 164 62 177 62 61 62 80 62 10 62-88 62-85 62-161 62-151 62-31 62-19 62-29 62-92 62-24 62-37 62-32 62-7 62 52 62 216"/>
<path d="M0 86l62 3 62-3 62 3 62 3 62 3 62 3 62 3 62 0 62 2 62 9 62 12 62 52 62 67 62 33 62 21 62 1 62-29 62-30 62-57 62-49 62-12 62-26 62-9 62-5 62-28 62 1 62-13 62 0 62 15 62 79"/>
<path d="M0 12l62 1 62-1 62 1 62 0 62 1 62 0 62 1 62 0 62 0 62 1 62 2 62 7 62 10 62 6 62 4 62 0 62-4 62-5 62-8 62-8 62-5 62-2 62 2 62-3 62-3 62-1 62-1 62 0 62 3 62 9"/>
<path d="M0 202l62 7 62-5 62 8 62 6 62 5 62 4 62 5 62 1 62 4 62 18 62 33 62 128 62 140 62 62 62 58 62-2 62-59 62-75 62-125 62-114 62-24 62-6 62-63 62-24 62-40 62-45 62-1 62-20 62 73 62 142"/>
<path d="M0 99l62 3 62-2 62 3 62 3 62 3 62 3 62 5 62 0 62 5 62 10 62 15 62 63 62 79 62 41 62 26 62 5 62-33 62-39 62-65 62-67 62-21 62-13 62-16 62-34 62 1 62-28 62 3 62-1 62 28 62 80"/>
<path d="M0 323l62 17 62-9 62 11 62 10 62 12 62 8 62 13 62 3 62 11 62 27 62 63 62 205 62 213 62 70 62 98 62 2 62-124 62-121 62-185 62-171 62-55 62-51 62-19 62-86 62-36 62-47 62-35 62 27 62 32 62 276"/>
<path d="M0 266l62 9 62-10 62 11 62 9 62 8 62 5 62 10 62 1 62 13 62 24 62 46 62 165 62 167 62 85 62 59 62 15 62-78 62-96 62-173 62-163 62-12 62-117 62 10 62-47 62-37 62-17 62-30 62 18 62 39 62 203"/>
<path d="M0 173l62 6 62-6 62 6 62 5 62 7 62 3 62 6 62 0 62 6 62 18 62 30 62 109 62 124 62 60 62 40 62 6 62-48 62-64 62-106 62-97 62-39 62-32 62-32 62 7 62-70 62-10 62 3 62-10 62 36 62 136"/>
<path d="M0 4l62 0 62 0 62 0 62 0 62 1 62 0 62 0 62 0 62 0 62 1 62 0 62 2 62 4 62 2 62 1 62 0 62-1 62-1 62-3 62-3 62-1 62-1 62-1 62-1 62 0 62-1 62 0 62 0 62 2 62 3"/>
<path d="M0 300l62 8 62-10 62 11 62 9 62 12 62 6 62 10 62 6 62 9 62 30 62 59 62 189 62 183 62 85 62 69 62 6 62-121 62-116 62-160 62-156 62-50 62-83 62 17 62-83 62-65 62 2 62-33 62 21 62 78 62 198"/>
<path d="M0 12l62 0 62 0 62 0 62 1 62 0 62 1 62 0 62 1 62 0 62 1 62 1 62 8 62 9 62 7 62 3 62 0 62-3 62-5 62-8 62-9 62-2 62-4 62 0 62-2 62-2 62-2 62 0 62 1 62 2 62 10"/>
<path d="M0 119l62 5 62-2 62 4 62 6 62 5 62 3 62 7 62 2 62 2 62 14 62 20 62 79 62 94 62 49 62 26 62 7 62-46 62-38 62-85 62-74 62-17 62-51 62 9 62-20 62-36 62-11 62-8 62 4 62 25 62 92"/>
<path d="M0 120l62 5 62-4 62 4 62 5 62 3 62 3 62 5 62 1 62 4 62 11 62 18 62 73 62 92 62 43 62 35 62-2 62-31 62-49 62-76 62-78 62-37 62-18 62-1 62-53 62 9 62-17 62-1 62 8 62 14 62 110"/>
<path d="M0 132l62 5 62-6 62 4 62 4 62 2 62 4 62 4 62 0 62 3 62 13 62 18 62 79 62 93 62 45 62 39 62-5 62-43 62-47 62-75 62-85 62-34 62-29 62 1 62-20 62-7 62-33 62 13 62 0 62 15 62 96"/>
<path d="M0 147l62 5 62-4 62 4 62 4 62 5 62 3 62 5 62 0 62 4 62 15 62 22 62 83 62 98 62 57 62 46 62 6 62-50 62-58 62-87 62-101 62-12 62-25 62-32 62-3 62-27 62-19 62-10 62 10 62 33 62 96"/>
<path d="M0 36l62 1 62-1 62 1 62 1 62 1 62 1 62 2 62 0 62 2 62 3 62 5 62 21 62 27 62 16 62 11 62 2 62-13 62-14 62-23 62-22 62-2 62-10 62 7 62-15 62-6 62-12 62 1 62-3 62 13 62 29"/>
<path d="M0 126l62 6 62-4 62 5 62 3 62 5 62 3 62 4 62 1 62 4 62 14 62 21 62 79 62 95 62 51 62 36 62 8 62-52 62-52 62-74 62-82 62-24 62-34 62 11 62-50 62-5 62-12 62-19 62 11 62 25 62 103"/>
<path d="M0 93l62 3 62-2 62 3 62 3 62 5 62 3 62 4 62 2 62 2 62 9 62 14 62 62 62 76 62 38 62 22 62 1 62-28 62-38 62-57 62-62 62-9 62-40 62-9 62-9 62-21 62-7 62-7 62 3 62 31 62 67"/>
<path d="M0 270l62 5 62-9 62 4 62 6 62 12 62 13 62 11 62 8 62 9 62 28 62 60 62 180 62 181 62 71 62 35 62 13 62-66 62-93 62-163 62-164 62-22 62-26 62-32 62-40 62-106 62-28 62-14 62-23 62 58 62 207"/>
<path d="M0 77l62 3 62-2 62 2 62 2 62 3 62 2 62 3 62 1 62 3 62 9 62 11 62 50 62 61 62 33 62 16 62 4 62-23 62-24 62-49 62-55 62-8 62-34 62-9 62-5 62-7 62-21 62-4 62 7 62 15 62 62"/>
<path d="M0 126l62 3 62-4 62 4 62 3 62 6 62 5 62 5 62 4 62 2 62 9 62 12 62 74 62 86 62 54 62 34 62 0 62-46 62-41 62-78 62-75 62-3 62-36 62-4 62-24 62-37 62-2 62-17 62 2 62 26 62 97"/>
<path d="M0 98l62 3 62-4 62 4 62 2 62 4 62 3 62 4 62 2 62 2 62 11 62 13 62 61 62 75 62 42 62 28 62 4 62-34 62-32 62-65 62-68 62-17 62-22 62 1 62-20 62-16 62-23 62-10 62 10 62 18 62 75"/>
<path d="M0 247l62 8 62-7 62 6 62 7 62 8 62 5 62 9 62 3 62 8 62 22 62 42 62 149 62 166 62 77 62 59 62 5 62-77 62-98 62-142 62-142 62-31 62-86 62-34 62 0 62-24 62-72 62 23 62-2 62 33 62 199"/>
<path d="M0 96l62 3 62-3 62 3 62 3 62 5 62 2 62 4 62 1 62 2 62 7 62 10 62 57 62 72 62 40 62 31 62 2 62-35 62-32 62-64 62-54 62-16 62-31 62-11 62-10 62-9 62-23 62-2 62 0 62 19 62 82"/>
<path d="M0 143l62 5 62-4 62 4 62 4 62 5 62 5 62 6 62 2 62 5 62 17 62 28 62 91 62 108 62 49 62 28 62-3 62-46 62-48 62-94 62-90 62-35 62-17 62-35 62 5 62-38 62-20 62 3 62 6 62 29 62 107"/>
<path d="M0 253l62 9 62-9 62 8 62 6 62 8 62 7 62 10 62 5 62 3 62 22 62 39 62 159 62 166 62 83 62 58 62 10 62-83 62-86 62-160 62-140 62-58 62-56 62-13 62-26 62-74 62-17 62-15 62 10 62 66 62 169"/>
<path d="M0 107l62 2 62-3 62 5 62 3 62 3 62 3 62 4 62 1 62 6 62 13 62 18 62 69 62 89 62 45 62 31 62-1 62-42 62-50 62-61 62-65 62-22 62-41 62-4 62-9 62-26 62-11 62-2 62-1 62 26 62 89"/>
<path d="M0 229l62 10 62-7 62 9 62 9 62 8 62 7 62 8 62 3 62 8 62 20 62 38 62 145 62 150 62 73 62 64 62 1 62-60 62-86 62-131 62-160 62-24 62-37 62-44 62-12 62-63 62-19 62-12 62 9 62 39 62 159"/>
<path d="M0 117l62 5 62-3 62 4 62 4 62 3 62 4 62 5 62 1 62 4 62 12 62 18 62 79 62 92 62 45 62 28 62 1 62-37 62-48 62-74 62-76 62-23 62-30 62 0 62-16 62-16 62-34 62-4 62 1 62 30 62 95"/>
<path d="M0 159l62 4 62-6 62 4 62 2 62 8 62 6 62 8 62 5 62 3 62 15 62 21 62 98 62 104 62 53 62 50 62 1 62-44 62-67 62-97 62-97 62-52 62-27 62 6 62-22 62-22 62-27 62-12 62 0 62 36 62 125"/>
<path d="M0 276l62 15 62-2 62 12 62 14 62 11 62 7 62 13 62 2 62 12 62 34 62 66 62 201 62 195 62 71 62 67 62 4 62-97 62-95 62-179 62-198 62-42 62-101 62 18 62-25 62-74 62-23 62-23 62-7 62 46 62 264"/>
<path d="M0 229l62 8 62-6 62 9 62 10 62 7 62 4 62 10 62 4 62 3 62 23 62 41 62 159 62 169 62 69 62 46 62 18 62-57 62-78 62-146 62-178 62 12 62-94 62-8 62-56 62-42 62 0 62-41 62-15 62 93 62 175"/>
<path d="M0 98l62 4 62-2 62 4 62 2 62 5 62 2 62 4 62 1 62 2 62 10 62 12 62 61 62 75 62 38 62 34 62-3 62-33 62-36 62-61 62-61 62-21 62-20 62-14 62-16 62-19 62-12 62-4 62-1 62 38 62 67"/>
<path d="M0 73l62 2 62-2 62 2 62 2 62 2 62 1 62 1 62 0 62 2 62 9 62 7 62 40 62 51 62 31 62 26 62 1 62-29 62-25 62-42 62-42 62 2 62-16 62-19 62-5 62-21 62-15 62 4 62 2 62 11 62 57"/>
<path d="M0 154l62 7 62-4 62 4 62 5 62 7 62 4 62 7 62 2 62 8 62 18 62 28 62 101 62 125 62 50 62 40 62-5 62-51 62-53 62-96 62-101 62-30 62-38 62 12 62-42 62-28 62-22 62-8 62 7 62 11 62 147"/>
<path d="M0 23l62 2 62-1 62 1 62 0 62 1 62 1 62 1 62 0 62 1 62 3 62 2 62 15 62 18 62 13 62 8 62-3 62-4 62-9 62-16 62-15 62-7 62-8 62-4 62-2 62-1 62-5 62-2 62 0 62 9 62 19"/>
<path d="M0 171l62 5 62-8 62 5 62 4 62 5 62 5 62 8 62 3 62 4 62 18 62 28 62 104 62 124 62 63 62 36 62 1 62-36 62-55 62-106 62-109 62-37 62-49 62 43 62-45 62-44 62-42 62-5 62-9 62 44 62 127"/>
<path d="M0 98l62 5 62-3 62 4 62 3 62 4 62 2 62 3 62 2 62 2 62 11 62 14 62 61 62 74 62 40 62 25 62 3 62-33 62-37 62-58 62-58 62-13 62-39 62-21 62-2 62-22 62-12 62 0 62-4 62 21 62 84"/>
<path d="M0 184l62 7 62-5 62 4 62 6 62 5 62 3 62 8 62 1 62 1 62 19 62 26 62 119 62 127 62 53 62 48 62 10 62-60 62-65 62-107 62-113 62-40 62-47 62-5 62-23 62-33 62-31 62-6 62 8 62 29 62 151"/>
<path d="M0 13l62 0 62 0 62 0 62 1 62 0 62 0 62 1 62 0 62 0 62 2 62 1 62 8 62 11 62 6 62 5 62 1 62-4 62-5 62-9 62-10 62-1 62-3 62 1 62-5 62-3 62-1 62-1 62 0 62 3 62 11"/>
<path d="M0 81l62 2 62-3 62 4 62 1 62 3 62 2 62 3 62 1 62 4 62 9 62 11 62 50 62 63 62 33 62 22 62 1 62-27 62-30 62-56 62-52 62-8 62-30 62-1 62-16 62-9 62-7 62-5 62 2 62 16 62 67"/>
<path d="M0 74l62 3 62-4 62 2 62 1 62 3 62 3 62 3 62 3 62 2 62 8 62 9 62 43 62 55 62 31 62 24 62-4 62-15 62-26 62-53 62-50 62-3 62-36 62-2 62-15 62-4 62-2 62-1 62-13 62 17 62 62"/>
<path d="M0 119l62 4 62-3 62 3 62 3 62 6 62 4 62 6 62 2 62 4 62 11 62 17 62 70 62 86 62 37 62 43 62-10 62-35 62-44 62-73 62-70 62-25 62-63 62 42 62-35 62-15 62-35 62 13 62-6 62 24 62 99"/>
<path d="M0 7l62 0 62 0 62 0 62 0 62 0 62 1 62 0 62 0 62 0 62 1 62 0 62 4 62 5 62 4 62 2 62 0 62-2 62-3 62-4 62-4 62-1 62-1 62 0 62-3 62-1 62-1 62-1 62 1 62 2 62 4"/>
<path d="M0 205l62 10 62-6 62 6 62 10 62 4 62 4 62 5 62 3 62 7 62 20 62 38 62 133 62 144 62 57 62 47 62 12 62-57 62-71 62-128 62-134 62-53 62-55 62-2 62-31 62-27 62-47 62 14 62 10 62 17 62 169"/>
<path d="M0 192l62 6 62-6 62 5 62 6 62 7 62 0 62 5 62 2 62 6 62 20 62 32 62 120 62 127 62 51 62 52 62-13 62-45 62-55 62-116 62-123 62-14 62-31 62-20 62-10 62-57 62-30 62-13 62 2 62 34 62 149"/>
<path d="M0 233l62 2 62-7 62 4 62 2 62 10 62 5 62 9 62 3 62 10 62 23 62 41 62 148 62 162 62 57 62 65 62-11 62-51 62-79 62-146 62-139 62-43 62-85 62 22 62-21 62-54 62-33 62-12 62 12 62 46 62 173"/>
<path d="M0 188l62 4 62-6 62 5 62 5 62 7 62 5 62 9 62 2 62 8 62 16 62 25 62 115 62 131 62 69 62 49 62 1 62-65 62-67 62-115 62-101 62-53 62-55 62-3 62-3 62-41 62-26 62-16 62-9 62 44 62 160"/>
<path d="M0 143l62 8 62-3 62 4 62 7 62 6 62 3 62 7 62 3 62 2 62 14 62 18 62 93 62 112 62 52 62 45 62 0 62-55 62-50 62-92 62-94 62-26 62-67 62 12 62-20 62-9 62-38 62 9 62-13 62 23 62 134"/>
<path d="M0 249l62 5 62-8 62 7 62 9 62 11 62 4 62 14 62 4 62 4 62 24 62 44 62 160 62 163 62 72 62 58 62 0 62-60 62-84 62-164 62-141 62-41 62-79 62-25 62-10 62-46 62-51 62 5 62 11 62 45 62 182"/>
<path d="M0 203l62 4 62-9 62 4 62 5 62 8 62 5 62 8 62 5 62 5 62 22 62 39 62 133 62 150 62 61 62 42 62 12 62-64 62-77 62-128 62-123 62-53 62-73 62 26 62-29 62-59 62-3 62-6 62-11 62 53 62 151"/>
<path d="M0 11l62 0 62 0 62 0 62 1 62 0 62 1 62 0 62 0 62 1 62 1 62 1 62 7 62 9 62 4 62 4 62 0 62-5 62-4 62-7 62-7 62-3 62-2 62-1 62-1 62-3 62-1 62-1 62 2 62 1 62 10"/>
<path d="M0 299l62 8 62-11 62 10 62 9 62 8 62 10 62 14 62 6 62 12 62 31 62 64 62 206 62 204 62 60 62 71 62 9 62-69 62-113 62-186 62-187 62-65 62-63 62 3 62-46 62-55 62-68 62 2 62-16 62 59 62 248"/>
<path d="M0 175l62 3 62-6 62 3 62 3 62 6 62 3 62 7 62 2 62 8 62 22 62 34 62 111 62 126 62 51 62 36 62-1 62-38 62-68 62-98 62-117 62-23 62-68 62 36 62-51 62-28 62-15 62-17 62-1 62 36 62 144"/>
<path d="M0 186l62 8 62-4 62 7 62 8 62 6 62 3 62 4 62 0 62 4 62 23 62 38 62 123 62 140 62 54 62 37 62-6 62-38 62-64 62-134 62-123 62-51 62-15 62-52 62-14 62-14 62-24 62-14 62 0 62 37 62 167"/>
<path d="M0 203l62 7 62-7 62 7 62 6 62 8 62 5 62 8 62 2 62 9 62 27 62 42 62 137 62 149 62 61 62 45 62 6 62-56 62-65 62-142 62-134 62-40 62-60 62-37 62 1 62-51 62 0 62-7 62-25 62 47 62 169"/>
<path d="M0 224l62 10 62-8 62 5 62 8 62 7 62 9 62 9 62 5 62 9 62 29 62 54 62 158 62 175 62 58 62 57 62-7 62-56 62-91 62-145 62-149 62-30 62-45 62 4 62-74 62-41 62-20 62-32 62-19 62 71 62 183"/>
<path d="M0 198l62 6 62-4 62 8 62 7 62 6 62 1 62 7 62-2 62 8 62 19 62 33 62 132 62 148 62 55 62 48 62 3 62-64 62-70 62-121 62-115 62-57 62-24 62-6 62-51 62-24 62-33 62 2 62-20 62 41 62 167"/>
<path d="M0 220l62 6 62-6 62 7 62 8 62 6 62 1 62 7 62 0 62 7 62 25 62 38 62 143 62 155 62 53 62 60 62-6 62-64 62-78 62-131 62-134 62-63 62-33 62-15 62-37 62-38 62-26 62-4 62 7 62 48 62 172"/>
<path d="M0 63l62 3 62-2 62 1 62 2 62 3 62 0 62 3 62 0 62 3 62 9 62 11 62 41 62 53 62 30 62 16 62 0 62-23 62-24 62-42 62-44 62-5 62-12 62 1 62-34 62 0 62-14 62 2 62 2 62 3 62 56"/>
<path d="M0 120l62 6 62-4 62 5 62 5 62 3 62 4 62 4 62 1 62 2 62 10 62 18 62 72 62 91 62 46 62 28 62-3 62-25 62-42 62-78 62-75 62-13 62-58 62 10 62-17 62-17 62-24 62-3 62 2 62 24 62 96"/>
<path d="M0 123l62 5 62-4 62 4 62 5 62 5 62 3 62 5 62 1 62 5 62 11 62 21 62 77 62 95 62 40 62 30 62 6 62-48 62-42 62-80 62-70 62-11 62-39 62-3 62-17 62-31 62-21 62 6 62-21 62 41 62 83"/>
<path d="M0 27l62 1 62-1 62 1 62 1 62 1 62 0 62 1 62 0 62 1 62 3 62 3 62 16 62 20 62 13 62 7 62 1 62-7 62-10 62-18 62-17 62-10 62-5 62 1 62-7 62 0 62-4 62-6 62 3 62 8 62 19"/>
<path d="M0 271l62 11 62-7 62 11 62 9 62 11 62 3 62 11 62 3 62 9 62 29 62 59 62 186 62 208 62 57 62 51 62 12 62-71 62-78 62-171 62-177 62-80 62-36 62-31 62-22 62-94 62 3 62-33 62-27 62 116 62 184"/>
<path d="M0 46l62 2 62-2 62 1 62 2 62 1 62 1 62 1 62 1 62 2 62 6 62 7 62 28 62 37 62 20 62 13 62 1 62-13 62-16 62-30 62-31 62-20 62-5 62-6 62 2 62-18 62-6 62-1 62 2 62 12 62 40"/>
<path d="M0 61l62 1 62-2 62 1 62 2 62 2 62 1 62 2 62 1 62 1 62 6 62 7 62 34 62 43 62 26 62 14 62-2 62-13 62-22 62-36 62-35 62-18 62-13 62-4 62-17 62-1 62-8 62 0 62 1 62 13 62 41"/>
<path d="M0 214l62 4 62-7 62 7 62 5 62 6 62 5 62 11 62 3 62 7 62 23 62 48 62 143 62 163 62 54 62 25 62 12 62-59 62-76 62-131 62-142 62-26 62-52 62-2 62-68 62-32 62-9 62-21 62-3 62 21 62 187"/>
<path d="M0 19l62 1 62-1 62 1 62 1 62 0 62 0 62 1 62 0 62 1 62 2 62 3 62 11 62 17 62 8 62 7 62 1 62-8 62-7 62-13 62-12 62-4 62-5 62-5 62-4 62 0 62-1 62-3 62 0 62 6 62 14"/>
<path d="M0 152l62 5 62-3 62 4 62 6 62 6 62 4 62 6 62 1 62 4 62 14 62 23 62 96 62 109 62 45 62 35 62-1 62-31 62-50 62-99 62-93 62-47 62-17 62-15 62-52 62-11 62-8 62-9 62-6 62 33 62 127"/>
<path d="M0 89l62 2 62-4 62 2 62 1 62 4 62 2 62 3 62 1 62 2 62 9 62 11 62 52 62 66 62 34 62 23 62-2 62-21 62-27 62-53 62-51 62-25 62-5 62-14 62-7 62-19 62-20 62-7 62-3 62 20 62 71"/>
<path d="M0 245l62 10 62-6 62 8 62 12 62 10 62 8 62 11 62 3 62 5 62 23 62 49 62 165 62 170 62 77 62 65 62-22 62-75 62-90 62-146 62-149 62-56 62-83 62 27 62-27 62-41 62-49 62-17 62 17 62 73 62 153"/>
<path d="M0 61l62 3 62-2 62 2 62 3 62 2 62 2 62 2 62 1 62 1 62 8 62 8 62 37 62 47 62 27 62 11 62 5 62-14 62-24 62-38 62-42 62-12 62-25 62 4 62-17 62-12 62-2 62-8 62 1 62 19 62 47"/>
<path d="M0 217l62 8 62-9 62 5 62 7 62 5 62 4 62 6 62-1 62 11 62 23 62 41 62 140 62 159 62 65 62 65 62 3 62-70 62-84 62-122 62-144 62-60 62-50 62-4 62-20 62-48 62-17 62-18 62 17 62 26 62 192"/>
<path d="M0 202l62 5 62-9 62 5 62 4 62 6 62 5 62 6 62 4 62 5 62 22 62 32 62 122 62 144 62 64 62 56 62 3 62-70 62-69 62-123 62-113 62-41 62-54 62 6 62-53 62-13 62-39 62-9 62 4 62 53 62 132"/>
<path d="M0 265l62 4 62-9 62 6 62 4 62 11 62 12 62 9 62 7 62 3 62 23 62 44 62 156 62 164 62 71 62 86 62-20 62-55 62-89 62-158 62-146 62-74 62-34 62-4 62-60 62-38 62-57 62 13 62-10 62 36 62 214"/>
<path d="M0 299l62 14 62-8 62 13 62 12 62 15 62 7 62 15 62 7 62 5 62 29 62 62 62 202 62 207 62 61 62 29 62 9 62-77 62-108 62-178 62-175 62-32 62-67 62 2 62-72 62-87 62-35 62 2 62-3 62 46 62 227"/>
<path d="M0 269l62 11 62-6 62 13 62 7 62 9 62 3 62 6 62 1 62 8 62 29 62 49 62 178 62 183 62 62 62 52 62 15 62-88 62-96 62-167 62-156 62-69 62-63 62-35 62 4 62-24 62-58 62-10 62 31 62 19 62 208"/>
<path d="M0 211l62 8 62-3 62 8 62 10 62 9 62 6 62 8 62 5 62 8 62 29 62 41 62 150 62 162 62 56 62 38 62-6 62-65 62-75 62-135 62-134 62-36 62-39 62-13 62-67 62-36 62-39 62 10 62 12 62 32 62 197"/>
<path d="M0 113l62 4 62-3 62 2 62 3 62 5 62 3 62 5 62 3 62 3 62 12 62 17 62 73 62 89 62 42 62 32 62-2 62-26 62-44 62-75 62-65 62-11 62-46 62 14 62-33 62-21 62-25 62-2 62-14 62 25 62 100"/>
<path d="M0 169l62 7 62-5 62 10 62 6 62 2 62 3 62 4 62-1 62 4 62 12 62 20 62 95 62 118 62 54 62 48 62 10 62-59 62-59 62-96 62-103 62-31 62-26 62-18 62-45 62 10 62-34 62-8 62 5 62 41 62 122"/>
<path d="M0 94l62 4 62-3 62 4 62 5 62 2 62 2 62 3 62 0 62 3 62 8 62 12 62 61 62 73 62 41 62 24 62-2 62-23 62-35 62-59 62-69 62-18 62-19 62-21 62-6 62-18 62 0 62-17 62 9 62 6 62 88"/>
<path d="M0 125l62 4 62-2 62 4 62 6 62 1 62 2 62 2 62-2 62 5 62 16 62 19 62 75 62 88 62 50 62 37 62-3 62-38 62-50 62-70 62-72 62-39 62-25 62-14 62-19 62-14 62-19 62-8 62 1 62 18 62 116"/>
<path d="M0 96l62 2 62-4 62 4 62 2 62 4 62 4 62 4 62 3 62 2 62 9 62 12 62 55 62 68 62 42 62 32 62 1 62-33 62-40 62-59 62-55 62-11 62-23 62 1 62-25 62-25 62-9 62-2 62 0 62 15 62 76"/>
<path d="M0 101l62 4 62-2 62 3 62 5 62 3 62 1 62 3 62 0 62 4 62 9 62 12 62 57 62 75 62 39 62 32 62 3 62-31 62-41 62-60 62-63 62-27 62-23 62 17 62-37 62-15 62-18 62 1 62 2 62 8 62 92"/>
<path d="M0 166l62 6 62-4 62 7 62 5 62 8 62 3 62 8 62-1 62 6 62 16 62 28 62 108 62 121 62 64 62 40 62 6 62-49 62-61 62-109 62-102 62-36 62-67 62 21 62-26 62-42 62-42 62 16 62 3 62 20 62 143"/>
<path d="M0 64l62 3 62-1 62 2 62 3 62 2 62 2 62 3 62 2 62 2 62 7 62 10 62 40 62 51 62 30 62 18 62 3 62-16 62-27 62-41 62-47 62-19 62 5 62-11 62-20 62-14 62-1 62-4 62-10 62 19 62 51"/>
<path d="M0 35l62 2 62-1 62 1 62 2 62 1 62 1 62 1 62 1 62 1 62 4 62 4 62 21 62 28 62 17 62 10 62 4 62-14 62-14 62-23 62-23 62-1 62-13 62-1 62-12 62-1 62-6 62-3 62-3 62 11 62 31"/>
<path d="M0 121l62 3 62-4 62 3 62 4 62 3 62 3 62 4 62 1 62 4 62 15 62 18 62 73 62 85 62 45 62 26 62 11 62-41 62-45 62-74 62-76 62-16 62-36 62-1 62-18 62-28 62-23 62 14 62-11 62 33 62 93"/>
<path d="M0 19l62 0 62 0 62 0 62 1 62 1 62 0 62 1 62 1 62 0 62 2 62 2 62 11 62 15 62 9 62 6 62 0 62-4 62-7 62-13 62-13 62-6 62-2 62-2 62-2 62-3 62-5 62-1 62 1 62 3 62 17"/>
<path d="M0 136l62 4 62-5 62 4 62 5 62 5 62 3 62 5 62 3 62 4 62 12 62 19 62 81 62 100 62 49 62 40 62 6 62-48 62-50 62-86 62-79 62-9 62-45 62-1 62-40 62-23 62-24 62 2 62 13 62 33 62 101"/>
<path d="M0 175l62 5 62-6 62 2 62 7 62 4 62 0 62 6 62 0 62 6 62 18 62 27 62 105 62 126 62 59 62 43 62-12 62-34 62-63 62-106 62-101 62-59 62-38 62 14 62-55 62-1 62-30 62-22 62 16 62 14 62 166"/>
<path d="M0 125l62 4 62-3 62 6 62 4 62 3 62 1 62 4 62 1 62 6 62 15 62 19 62 82 62 105 62 51 62 37 62 4 62-45 62-52 62-82 62-85 62-26 62-48 62 3 62-13 62-31 62-17 62-5 62 3 62 12 62 124"/>
<path d="M0 185l62 7 62-4 62 7 62 5 62 6 62 6 62 6 62 2 62 6 62 18 62 31 62 112 62 135 62 57 62 54 62 3 62-72 62-77 62-111 62-113 62-17 62-22 62-1 62-55 62-43 62 2 62-44 62 4 62 76 62 109"/>
<path d="M0 184l62 9 62-4 62 10 62 10 62 9 62 5 62 7 62 3 62 6 62 21 62 34 62 126 62 134 62 61 62 65 62 1 62-60 62-77 62-120 62-120 62-13 62-59 62-47 62 6 62-41 62-36 62-6 62-4 62 53 62 139"/>
<path d="M0 208l62 8 62-5 62 7 62 11 62 5 62 4 62 7 62 3 62 7 62 23 62 44 62 136 62 150 62 62 62 32 62 15 62-47 62-69 62-129 62-139 62-61 62-39 62 15 62-63 62-21 62-43 62-24 62 27 62 57 62 142"/>
<path d="M0 177l62 6 62-6 62 6 62 3 62 6 62 3 62 7 62 2 62 4 62 14 62 29 62 111 62 131 62 50 62 41 62 11 62-62 62-61 62-107 62-96 62-49 62-27 62-17 62-40 62-26 62-3 62-26 62 12 62 23 62 150"/>
<path d="M0 152l62 6 62-6 62 4 62 5 62 5 62 4 62 4 62 0 62 9 62 18 62 29 62 100 62 124 62 47 62 42 62 2 62-42 62-60 62-98 62-104 62-30 62-43 62 0 62-41 62-29 62-9 62-8 62-12 62 61 62 115"/>
<path d="M0 32l62 1 62-1 62 1 62 1 62 1 62 1 62 1 62 0 62 1 62 4 62 3 62 18 62 24 62 14 62 11 62 0 62-11 62-11 62-20 62-21 62-5 62-8 62 0 62-14 62 4 62-8 62 0 62-3 62 11 62 24"/>
<path d="M0 10l62 1 62 0 62 0 62 1 62 0 62 0 62 1 62 0 62 0 62 1 62 1 62 6 62 9 62 5 62 4 62-1 62-3 62-3 62-7 62-8 62-2 62-4 62 0 62 0 62-2 62-4 62 1 62 0 62 2 62 9"/>
<path d="M0 239l62 8 62-4 62 7 62 9 62 8 62 4 62 11 62 2 62 5 62 24 62 48 62 164 62 170 62 63 62 50 62-1 62-54 62-85 62-159 62-167 62-20 62-86 62 26 62-79 62-24 62-12 62-21 62-7 62 69 62 184"/>
<path d="M0 220l62 9 62-9 62 5 62 6 62 9 62 8 62 10 62 2 62 11 62 26 62 46 62 155 62 166 62 63 62 51 62 0 62-62 62-71 62-145 62-149 62-17 62-77 62-1 62-14 62-64 62-44 62-10 62 20 62 50 62 167"/>
<path d="M0 293l62 10 62-11 62 12 62 7 62 8 62 5 62 10 62-1 62 10 62 34 62 68 62 201 62 209 62 58 62 44 62 8 62-76 62-98 62-165 62-181 62-131 62-22 62-22 62-24 62-50 62-16 62-27 62 17 62 14 62 257"/>
<path d="M0 187l62 7 62-6 62 6 62 8 62 5 62 5 62 8 62 2 62 2 62 18 62 27 62 115 62 129 62 59 62 54 62 4 62-59 62-76 62-112 62-107 62-39 62-62 62-8 62-8 62-42 62-16 62-12 62 15 62 9 62 168"/>
<path d="M0 50l62 2 62-1 62 1 62 2 62 2 62 1 62 1 62 1 62 1 62 5 62 8 62 28 62 39 62 19 62 9 62 5 62-13 62-17 62-32 62-33 62-16 62-13 62 2 62-8 62-9 62-9 62 3 62-4 62 9 62 42"/>
<path d="M0 168l62 6 62-5 62 4 62 7 62 7 62 4 62 10 62 0 62 8 62 19 62 29 62 108 62 121 62 62 62 40 62 5 62-54 62-65 62-113 62-101 62-25 62-59 62 13 62-44 62-19 62-36 62 11 62-12 62 45 62 120"/>
<path d="M0 195l62 7 62-6 62 6 62 6 62 4 62 2 62 8 62 0 62 4 62 20 62 33 62 124 62 141 62 61 62 49 62-1 62-49 62-58 62-131 62-120 62-63 62-18 62-40 62-6 62-24 62-50 62-4 62-1 62 45 62 150"/>
<path d="M0 205l62 5 62-8 62 5 62 6 62 4 62 6 62 6 62 1 62 7 62 25 62 34 62 131 62 142 62 61 62 41 62-9 62-45 62-73 62-114 62-128 62-26 62-72 62-5 62-22 62-42 62-27 62 4 62-11 62 46 62 148"/>
<path d="M0 237l62 11 62-6 62 6 62 12 62 10 62 7 62 15 62 2 62 8 62 23 62 41 62 161 62 160 62 59 62 64 62 8 62-74 62-82 62-139 62-147 62-61 62-50 62 28 62-47 62-68 62-41 62-22 62 16 62 29 62 185"/>
<path d="M0 214l62 7 62-8 62 7 62 7 62 5 62 7 62 9 62 0 62 11 62 27 62 42 62 140 62 155 62 59 62 56 62 2 62-68 62-79 62-137 62-142 62-33 62-37 62-43 62-10 62-42 62-24 62-21 62 10 62 44 62 162"/>
<path d="M0 50l62 1 62-1 62 1 62 1 62 1 62 2 62 1 62 0 62 3 62 4 62 6 62 27 62 36 62 23 62 15 62 3 62-17 62-17 62-32 62-31 62-2 62-28 62 3 62-1 62-17 62 1 62-9 62-1 62 13 62 39"/>
<path d="M0 5l62 0 62 0 62 0 62 1 62 0 62 0 62 0 62 0 62 1 62 0 62 0 62 4 62 4 62 2 62 2 62 0 62-2 62-2 62-3 62-4 62 0 62-2 62 0 62-1 62-1 62-1 62 0 62 0 62 1 62 5"/>
<path d="M0 272l62 5 62-8 62 3 62 3 62 10 62 6 62 12 62-2 62 10 62 31 62 55 62 182 62 189 62 53 62 49 62-2 62-55 62-82 62-160 62-164 62-63 62-22 62-12 62-71 62-47 62-42 62-14 62-18 62 45 62 229"/>
<path d="M0 13l62 1 62-1 62 1 62 0 62 0 62 0 62 1 62 0 62 1 62 1 62 2 62 8 62 11 62 7 62 3 62 1 62-3 62-6 62-9 62-8 62-4 62-2 62-1 62-3 62-2 62-3 62-1 62 2 62 0 62 12"/>
<path d="M0 286l62 11 62-12 62 12 62 7 62 10 62 7 62 6 62 7 62 4 62 27 62 53 62 179 62 182 62 51 62 31 62 16 62-53 62-86 62-171 62-178 62-66 62-80 62 14 62-60 62-26 62-17 62-31 62-2 62 67 62 198"/>
<path d="M0 70l62 4 62-2 62 2 62 3 62 2 62 1 62 2 62-1 62 3 62 6 62 7 62 40 62 53 62 33 62 25 62 1 62-23 62-27 62-45 62-43 62-14 62-9 62-11 62-28 62 3 62-16 62 5 62-4 62 11 62 67"/>
<path d="M0 164l62 5 62-5 62 6 62 5 62 5 62 4 62 5 62 3 62 4 62 12 62 21 62 99 62 118 62 55 62 54 62-1 62-50 62-62 62-98 62-99 62-6 62-72 62 5 62-8 62-45 62-28 62 5 62-9 62 31 62 147"/>
<path d="M0 105l62 3 62-4 62 3 62 2 62 5 62 2 62 4 62 1 62 4 62 11 62 14 62 62 62 76 62 42 62 38 62-2 62-32 62-40 62-66 62-70 62-28 62-26 62-1 62-12 62-19 62-10 62-6 62-6 62 40 62 69"/>
<path d="M0 132l62 4 62-5 62 4 62 4 62 5 62 5 62 8 62 0 62 4 62 11 62 16 62 76 62 93 62 41 62 33 62 1 62-35 62-45 62-80 62-85 62-22 62-16 62 7 62-45 62-21 62-23 62 0 62-1 62 11 62 116"/>
<path d="M0 30l62 2 62-1 62 2 62 1 62 1 62 1 62 1 62 1 62 1 62 3 62 3 62 19 62 26 62 15 62 9 62-1 62-9 62-14 62-19 62-22 62-6 62-6 62-1 62-9 62-3 62-4 62-3 62 2 62 1 62 31"/>
<path d="M0 92l62 4 62-3 62 3 62 4 62 2 62 2 62 3 62 0 62 2 62 9 62 12 62 53 62 66 62 39 62 22 62-3 62-22 62-33 62-58 62-54 62-15 62-36 62 4 62-15 62-17 62-15 62-4 62 2 62 17 62 75"/>
<path d="M0 188l62 7 62-6 62 4 62 5 62 6 62 4 62 6 62 2 62 6 62 18 62 27 62 121 62 135 62 69 62 51 62 6 62-61 62-68 62-115 62-119 62-14 62-47 62-11 62-74 62 15 62-54 62-4 62 15 62 49 62 133"/>
<path d="M0 159l62 8 62-6 62 6 62 6 62 6 62 4 62 7 62 2 62 5 62 16 62 27 62 102 62 123 62 53 62 31 62 3 62-39 62-59 62-95 62-105 62-55 62-46 62 17 62-30 62-37 62-26 62 3 62-6 62 40 62 128"/>
<path d="M0 100l62 3 62-4 62 3 62 3 62 5 62 3 62 5 62 2 62 3 62 9 62 10 62 56 62 70 62 41 62 31 62 10 62-30 62-38 62-59 62-64 62-9 62-37 62 17 62-47 62 7 62-35 62-3 62 2 62 20 62 85"/>
<path d="M0 46l62 2 62 0 62 1 62 2 62 2 62 1 62 3 62 0 62 1 62 7 62 6 62 30 62 38 62 19 62 16 62 1 62-15 62-18 62-32 62-33 62-16 62-9 62-1 62-12 62-1 62-8 62-3 62-1 62 11 62 41"/>
<path d="M0 85l62 3 62-4 62 2 62 3 62 2 62 3 62 3 62 0 62 2 62 10 62 13 62 52 62 68 62 32 62 23 62-1 62-29 62-33 62-51 62-56 62-5 62-34 62-14 62-3 62-23 62-4 62-1 62 2 62 16 62 65"/>
<path d="M0 41l62 1 62-1 62 1 62 1 62 2 62 1 62 2 62 0 62 2 62 3 62 5 62 23 62 32 62 18 62 15 62 2 62-15 62-18 62-26 62-22 62-11 62-6 62-5 62 0 62-13 62-9 62-1 62-2 62 17 62 25"/>
<path d="M0 126l62 4 62-2 62 4 62 6 62 3 62 3 62 5 62 2 62 4 62 13 62 20 62 77 62 90 62 47 62 33 62 4 62-40 62-48 62-80 62-78 62-23 62-45 62-4 62-10 62-29 62-8 62-9 62 4 62 27 62 99"/>
<path d="M0 210l62 6 62-8 62 3 62 5 62 6 62 7 62 11 62 2 62 5 62 21 62 31 62 129 62 151 62 55 62 47 62-10 62-52 62-71 62-123 62-116 62-35 62-84 62 47 62-41 62-49 62-39 62-7 62 7 62 24 62 165"/>
<path d="M0 276l62 10 62-5 62 9 62 9 62 12 62 4 62 10 62 3 62 7 62 25 62 53 62 176 62 186 62 72 62 66 62-12 62-86 62-103 62-153 62-146 62-1 62-113 62-14 62-49 62-48 62-32 62-22 62 10 62 36 62 223"/>
<path d="M0 39l62 1 62-1 62 1 62 1 62 2 62 1 62 2 62 1 62 1 62 4 62 5 62 24 62 33 62 19 62 6 62 0 62-6 62-12 62-26 62-25 62-11 62-12 62 5 62-17 62-5 62-8 62-3 62 6 62 4 62 35"/>
<path d="M0 235l62 10 62-6 62 8 62 7 62 11 62 8 62 11 62 8 62 4 62 24 62 50 62 162 62 171 62 62 62 52 62-8 62-64 62-94 62-138 62-129 62-86 62 7 62-75 62-27 62-27 62-63 62-7 62 20 62 26 62 203"/>
<path d="M0 151l62 6 62-7 62 5 62 4 62 8 62 3 62 6 62 2 62 3 62 18 62 27 62 98 62 113 62 49 62 39 62-1 62-41 62-50 62-96 62-92 62-15 62-60 62-19 62-19 62-34 62-23 62-11 62 21 62 34 62 114"/>
<path d="M0 44l62 2 62-1 62 1 62 2 62 2 62 0 62 1 62 0 62 1 62 5 62 6 62 28 62 36 62 15 62 12 62 1 62-13 62-16 62-25 62-29 62-4 62-15 62-12 62 1 62-13 62 0 62-9 62 4 62 7 62 36"/>
<path d="M0 212l62 10 62-4 62 10 62 10 62 5 62 6 62 7 62-1 62 8 62 25 62 40 62 147 62 162 62 56 62 47 62 8 62-70 62-80 62-132 62-144 62-55 62-21 62 38 62-93 62-35 62-24 62-15 62 4 62 48 62 163"/>
<path d="M0 193l62 6 62-5 62 7 62 8 62 9 62 7 62 10 62 5 62 5 62 22 62 38 62 126 62 144 62 58 62 55 62-25 62-48 62-82 62-117 62-121 62-20 62-56 62-54 62-8 62-31 62-29 62 5 62-20 62 74 62 138"/>
<path d="M0 201l62 6 62-8 62 5 62 3 62 8 62 2 62 6 62 1 62 8 62 23 62 35 62 126 62 147 62 52 62 48 62 8 62-72 62-68 62-118 62-115 62-18 62-81 62 34 62-65 62-24 62-34 62-19 62 22 62 32 62 159"/>
<path d="M0 65l62 2 62-1 62 4 62 1 62 3 62 0 62 2 62 0 62 3 62 7 62 8 62 40 62 53 62 24 62 22 62-4 62-22 62-25 62-41 62-37 62-13 62-20 62 5 62-22 62-9 62-3 62-11 62 7 62 10 62 55"/>
<path d="M0 156l62 5 62-6 62 6 62 8 62 5 62 2 62 5 62 0 62 3 62 15 62 22 62 95 62 119 62 50 62 42 62 0 62-46 62-55 62-95 62-98 62-16 62-36 62 4 62-50 62-26 62-22 62-16 62 0 62 55 62 98"/>
<path d="M0 149l62 5 62-4 62 5 62 4 62 4 62 3 62 6 62 1 62 5 62 16 62 22 62 88 62 102 62 56 62 30 62 11 62-50 62-47 62-94 62-84 62-62 62-9 62 6 62-29 62-30 62-32 62 4 62-7 62 32 62 114"/>
<path d="M0 280l62 8 62-10 62 6 62 9 62 11 62 4 62 12 62 4 62 5 62 24 62 52 62 184 62 183 62 69 62 46 62 13 62-66 62-95 62-173 62-166 62-69 62-68 62 6 62-69 62-11 62-37 62-33 62 3 62 78 62 214"/>
<path d="M0 68l62 4 62-3 62 4 62 3 62 2 62 2 62 3 62 1 62 3 62 7 62 9 62 43 62 55 62 31 62 21 62-1 62-22 62-25 62-43 62-48 62-1 62-27 62 8 62-23 62-13 62-15 62-3 62-2 62 19 62 63"/>
<path d="M0 66l62 2 62-3 62 2 62 2 62 2 62 2 62 1 62 2 62 2 62 6 62 10 62 40 62 48 62 29 62 19 62-1 62-19 62-27 62-39 62-47 62 1 62-33 62 10 62-27 62-5 62-2 62-3 62-6 62 24 62 47"/>
<path d="M0 246l62 8 62-8 62 8 62 7 62 7 62 2 62 8 62 1 62 6 62 21 62 43 62 160 62 173 62 59 62 48 62-7 62-52 62-76 62-140 62-159 62-16 62-108 62-28 62-18 62-28 62-36 62 4 62 13 62 56 62 153"/>
<path d="M0 147l62 6 62-4 62 5 62 6 62 4 62 4 62 6 62 2 62 4 62 17 62 24 62 95 62 107 62 49 62 31 62 1 62-31 62-43 62-97 62-98 62-50 62-36 62-1 62-32 62-7 62-38 62 13 62-10 62 24 62 139"/>
<path d="M0 190l62 10 62-1 62 8 62 10 62 6 62 7 62 8 62 4 62 3 62 19 62 34 62 125 62 147 62 60 62 56 62 2 62-55 62-71 62-120 62-122 62-38 62-29 62-51 62-12 62-37 62-42 62-8 62-13 62 94 62 134"/>
<path d="M0 329l62 12 62-10 62 11 62 10 62 12 62 6 62 11 62-3 62 10 62 28 62 66 62 207 62 214 62 75 62 79 62-12 62-89 62-123 62-187 62-169 62-56 62-51 62-39 62-52 62-61 62-41 62-31 62 11 62 83 62 214"/>
<path d="M0 217l62 8 62-5 62 7 62 8 62 6 62 3 62 7 62 0 62 4 62 22 62 38 62 138 62 148 62 51 62 21 62 14 62-53 62-63 62-129 62-138 62-19 62-31 62-23 62-36 62-66 62-20 62-11 62 7 62 57 62 144"/>
<path d="M0 81l62 4 62-2 62 4 62 4 62 3 62 2 62 4 62 0 62 3 62 10 62 11 62 50 62 62 62 39 62 16 62 10 62-25 62-33 62-57 62-53 62-7 62-29 62 9 62-23 62-20 62-17 62-6 62 1 62 22 62 66"/>
<path d="M0 42l62 2 62-1 62 2 62 2 62 1 62 1 62 3 62 1 62 2 62 5 62 7 62 26 62 36 62 22 62 10 62 3 62-12 62-17 62-31 62-31 62-11 62-16 62 3 62-11 62-8 62-6 62 2 62 0 62 11 62 37"/>
<path d="M0 54l62 1 62-2 62 1 62 1 62 1 62 1 62 2 62 1 62 1 62 6 62 6 62 31 62 39 62 27 62 16 62 3 62-19 62-20 62-35 62-32 62-7 62-24 62 9 62-24 62-1 62-5 62-2 62-1 62 11 62 42"/>
<path d="M0 46l62 3 62-2 62 2 62 2 62 1 62 0 62 2 62-1 62 2 62 5 62 5 62 26 62 36 62 20 62 15 62 0 62-12 62-21 62-26 62-31 62 0 62-11 62-3 62-14 62-10 62-4 62-6 62 4 62 7 62 36"/>
<path d="M0 117l62 4 62-4 62 3 62 3 62 4 62 4 62 6 62 2 62 3 62 12 62 21 62 74 62 88 62 43 62 21 62 0 62-29 62-37 62-74 62-81 62-23 62-53 62 7 62-15 62-10 62-29 62-4 62 13 62 11 62 106"/>
<path d="M0 12l62 1 62-1 62 1 62 0 62 1 62 0 62 1 62 0 62 1 62 1 62 1 62 7 62 10 62 7 62 4 62 0 62-5 62-5 62-8 62-8 62-1 62-5 62 1 62-3 62-2 62-2 62-2 62 2 62 3 62 10"/>
<path d="M0 94l62 5 62-2 62 4 62 4 62 4 62 2 62 5 62 0 62 3 62 12 62 15 62 63 62 80 62 45 62 23 62-1 62-27 62-34 62-70 62-68 62-15 62-32 62-2 62-22 62-14 62-27 62 10 62 5 62 15 62 81"/>
<path d="M0 179l62 8 62-5 62 5 62 9 62 5 62 6 62 7 62 4 62 4 62 22 62 32 62 119 62 128 62 51 62 45 62-3 62-49 62-69 62-105 62-125 62-37 62-46 62 10 62-62 62 0 62-44 62 3 62 20 62 13 62 147"/>
<path d="M0 287l62 8 62-10 62 14 62 10 62 11 62 6 62 10 62 7 62 5 62 23 62 54 62 188 62 200 62 57 62 63 62 12 62-97 62-90 62-169 62-189 62-23 62-125 62 13 62-35 62-60 62-30 62-17 62-1 62 74 62 207"/>
<path d="M0 108l62 4 62-3 62 4 62 4 62 3 62 2 62 4 62 2 62 1 62 11 62 14 62 68 62 80 62 38 62 30 62 2 62-37 62-41 62-67 62-64 62-16 62-34 62-7 62-20 62-17 62-15 62-2 62-1 62 13 62 93"/>
<path d="M0 141l62 4 62-2 62 5 62 5 62 3 62 4 62 2 62 1 62 6 62 14 62 21 62 86 62 100 62 54 62 46 62 7 62-49 62-54 62-85 62-80 62-49 62-34 62-13 62-33 62-10 62-8 62-9 62 0 62 36 62 118"/>
<path d="M0 205l62 7 62-3 62 8 62 9 62 7 62 5 62 8 62 4 62 6 62 23 62 44 62 138 62 150 62 65 62 53 62-4 62-54 62-78 62-121 62-133 62-50 62-9 62-75 62-14 62-41 62-35 62-13 62 12 62 39 62 164"/>
<path d="M0 124l62 6 62-4 62 4 62 6 62 3 62 5 62 5 62 0 62 4 62 12 62 17 62 76 62 93 62 52 62 33 62 1 62-39 62-53 62-79 62-76 62-32 62-14 62-40 62-14 62-14 62-13 62 8 62-1 62 19 62 101"/>
<path d="M0 97l62 4 62-1 62 4 62 4 62 2 62 3 62 3 62-1 62 4 62 11 62 13 62 60 62 72 62 39 62 26 62 1 62-24 62-41 62-64 62-63 62-12 62-28 62-5 62-14 62-18 62-21 62-4 62-2 62 11 62 94"/>
<path d="M0 153l62 2 62-6 62 3 62 3 62 4 62 3 62 6 62 4 62 2 62 15 62 26 62 92 62 112 62 47 62 32 62-5 62-42 62-55 62-81 62-94 62-41 62-6 62-23 62-16 62-39 62-19 62 3 62 13 62 5 62 129"/>
<path d="M0 191l62 4 62-6 62 7 62 5 62 5 62 4 62 3 62 1 62 7 62 24 62 34 62 123 62 140 62 56 62 44 62 11 62-55 62-68 62-117 62-126 62 8 62-54 62-12 62-32 62-80 62-28 62 6 62-10 62 52 62 145"/>
<path d="M0 59l62 2 62-3 62 2 62 2 62 1 62 3 62 3 62 2 62 0 62 5 62 6 62 34 62 45 62 25 62 14 62 2 62-18 62-23 62-34 62-36 62-14 62-9 62 0 62-18 62-12 62-4 62-4 62-4 62 14 62 48"/>
<path d="M0 139l62 5 62-4 62 5 62 5 62 4 62 4 62 5 62 1 62 5 62 17 62 25 62 85 62 102 62 45 62 30 62 5 62-39 62-52 62-82 62-85 62-23 62-31 62-8 62-35 62-16 62-30 62-13 62 9 62 19 62 119"/>
<path d="M0 121l62 6 62-3 62 7 62 4 62 7 62 4 62 5 62 3 62 5 62 12 62 18 62 81 62 90 62 55 62 23 62 1 62-39 62-48 62-82 62-78 62-46 62-17 62 15 62-19 62-45 62-18 62-1 62-1 62 23 62 108"/>
<path d="M0 202l62 10 62-2 62 10 62 10 62 4 62 2 62 5 62-2 62 5 62 25 62 38 62 137 62 164 62 45 62 63 62 6 62-72 62-75 62-127 62-122 62-61 62-72 62 13 62-18 62-67 62-9 62-11 62 10 62 54 62 169"/>
<path d="M0 91l62 3 62-2 62 3 62 5 62 3 62 2 62 3 62 1 62 5 62 11 62 14 62 55 62 72 62 38 62 26 62 5 62-29 62-27 62-68 62-60 62-27 62-17 62 10 62-24 62-24 62-18 62-7 62 5 62 21 62 75"/>
<path d="M0 261l62 11 62-7 62 9 62 6 62 10 62 9 62 9 62 6 62 6 62 22 62 51 62 176 62 175 62 62 62 54 62-7 62-60 62-84 62-161 62-154 62-51 62-67 62-27 62-26 62-58 62-23 62-7 62-6 62 44 62 214"/>
<path d="M0 36l62 2 62-1 62 1 62 1 62 1 62 1 62 1 62 0 62 2 62 4 62 5 62 23 62 29 62 17 62 11 62 0 62-12 62-16 62-23 62-25 62 0 62-13 62 1 62-2 62-13 62-7 62-1 62 4 62 0 62 36"/>
<path d="M0 138l62 5 62-4 62 5 62 5 62 6 62 3 62 5 62 3 62 5 62 16 62 26 62 90 62 113 62 55 62 45 62 2 62-53 62-57 62-92 62-96 62-9 62-30 62 9 62-42 62-36 62-11 62-28 62 4 62 26 62 122"/>
<path d="M0 133l62 4 62-4 62 4 62 3 62 6 62 3 62 3 62 2 62 4 62 13 62 18 62 77 62 93 62 45 62 32 62 7 62-45 62-48 62-81 62-78 62-16 62-9 62-12 62-34 62-36 62-18 62-2 62-4 62 26 62 116"/>
<path d="M0 160l62 3 62-4 62 2 62 4 62 6 62 2 62 4 62 2 62 5 62 16 62 25 62 94 62 113 62 55 62 50 62 11 62-49 62-60 62-97 62-100 62-38 62-48 62 2 62-19 62-37 62-13 62-5 62 3 62 25 62 134"/>
<path d="M0 63l62 3 62-1 62 2 62 2 62 2 62 1 62 2 62 0 62 3 62 7 62 10 62 39 62 50 62 29 62 20 62 2 62-24 62-27 62-41 62-41 62-12 62-17 62-2 62-10 62-8 62-10 62-4 62-2 62 15 62 53"/>
<path d="M0 1l62 0 62 0 62 0 62 0 62 1 62 0 62 0 62 0 62 0 62 0 62 0 62 1 62 1 62 1 62 0 62 0 62 0 62-1 62-1 62-1 62 0 62 0 62 0 62-1 62 0 62 0 62 0 62 0 62 0 62 1"/>
<path d="M0 151l62 3 62-6 62 4 62 1 62 6 62 5 62 8 62 3 62 5 62 20 62 26 62 92 62 106 62 48 62 37 62 3 62-38 62-55 62-98 62-83 62-27 62-50 62 11 62-38 62-20 62-35 62 0 62 12 62 25 62 120"/>
<path d="M0 18l62 1 62-1 62 1 62 0 62 1 62 0 62 1 62 1 62 0 62 2 62 1 62 10 62 13 62 10 62 6 62 0 62-5 62-7 62-12 62-11 62-3 62-6 62-3 62-2 62-2 62-4 62 0 62-1 62 6 62 15"/>
<path d="M0 120l62 3 62-4 62 3 62 2 62 5 62 3 62 5 62 3 62 2 62 13 62 16 62 74 62 91 62 47 62 35 62-6 62-25 62-44 62-79 62-72 62-13 62-26 62 20 62-40 62-38 62-19 62-2 62-19 62 34 62 104"/>
<path d="M0 23l62 1 62-1 62 1 62 1 62 0 62 1 62 1 62 0 62 1 62 2 62 3 62 13 62 18 62 11 62 8 62 0 62-7 62-8 62-15 62-16 62-3 62-7 62-2 62-4 62-5 62-4 62 0 62 2 62 3 62 21"/>
<path d="M0 321l62 5 62-10 62 8 62 5 62 16 62 8 62 14 62 6 62 6 62 34 62 64 62 204 62 208 62 63 62 55 62 31 62-90 62-117 62-185 62-175 62-112 62-37 62-29 62-67 62-5 62-61 62 9 62-22 62 92 62 223"/>
<path d="M0 166l62 6 62-5 62 4 62 6 62 6 62 6 62 8 62 4 62 6 62 17 62 27 62 110 62 126 62 53 62 38 62-4 62-51 62-58 62-95 62-101 62-14 62-48 62-27 62-25 62-36 62-36 62 6 62 8 62 20 62 131"/>
<path d="M0 190l62 7 62-6 62 9 62 7 62 8 62 3 62 9 62 0 62 8 62 20 62 35 62 125 62 144 62 46 62 41 62 18 62-75 62-72 62-113 62-119 62-16 62-71 62-3 62-21 62-60 62-18 62-11 62 19 62 43 62 156"/>
<path d="M0 211l62 7 62-6 62 5 62 5 62 7 62 4 62 7 62-1 62 8 62 26 62 44 62 141 62 155 62 62 62 49 62 11 62-60 62-75 62-133 62-136 62-43 62-66 62 10 62-29 62-81 62 7 62-43 62 24 62 40 62 163"/>
<path d="M0 222l62 9 62-7 62 11 62 7 62 8 62 6 62 8 62 1 62 9 62 25 62 38 62 137 62 150 62 58 62 72 62-13 62-46 62-74 62-135 62-137 62-78 62-18 62 35 62-85 62-34 62-33 62-10 62-19 62 58 62 168"/>
<path d="M0 198l62 11 62-2 62 9 62 10 62 8 62 6 62 9 62 5 62 2 62 23 62 41 62 138 62 148 62 50 62 41 62-1 62-44 62-65 62-125 62-135 62-30 62-77 62-9 62-42 62-44 62-23 62-6 62 13 62 28 62 166"/>
<path d="M0 259l62 10 62-7 62 11 62 10 62 12 62 10 62 9 62 5 62 11 62 26 62 53 62 174 62 175 62 68 62 49 62 23 62-72 62-90 62-152 62-175 62-37 62-136 62 28 62-8 62-87 62-23 62 2 62-16 62 49 62 213"/>
<path d="M0 102l62 5 62-3 62 4 62 3 62 4 62 4 62 5 62 1 62 6 62 11 62 14 62 66 62 84 62 46 62 39 62 2 62-38 62-42 62-69 62-64 62-11 62-48 62-4 62-15 62-24 62-9 62-12 62-4 62 27 62 96"/>
<path d="M0 8l62 0 62 0 62 0 62 1 62 0 62 0 62 1 62 0 62 0 62 1 62 1 62 5 62 7 62 4 62 2 62 0 62-2 62-3 62-5 62-6 62-2 62-1 62 0 62-2 62-2 62-3 62 1 62 0 62 2 62 6"/>
<path d="M0 56l62 3 62-2 62 2 62 2 62 3 62 2 62 3 62 2 62 2 62 6 62 8 62 35 62 46 62 27 62 21 62-2 62-21 62-24 62-39 62-36 62 5 62-34 62 7 62-17 62-6 62-15 62 1 62-8 62 23 62 44"/>
<path d="M0 140l62 5 62-3 62 3 62 3 62 6 62 4 62 5 62 2 62 6 62 14 62 22 62 89 62 107 62 55 62 37 62 2 62-41 62-60 62-81 62-95 62-24 62-52 62-25 62 10 62-21 62-24 62-6 62-1 62 16 62 122"/>
<path d="M0 229l62 10 62-5 62 9 62 11 62 10 62 6 62 9 62 5 62 7 62 25 62 53 62 168 62 189 62 65 62 48 62 1 62-61 62-74 62-155 62-162 62-43 62-55 62-68 62-17 62-17 62-39 62-27 62 4 62 91 62 162"/>
<path d="M0 4l62 0 62 0 62 0 62 0 62 0 62 1 62 0 62 0 62 0 62 0 62 1 62 2 62 3 62 2 62 2 62 0 62-1 62-2 62-2 62-3 62 0 62-2 62 0 62-2 62 1 62-1 62 0 62 0 62 0 62 4"/>
<path d="M0 74l62 1 62-2 62 1 62 2 62 4 62 2 62 3 62 3 62 2 62 9 62 13 62 46 62 60 62 31 62 14 62 1 62-15 62-28 62-50 62-46 62-21 62-31 62-3 62-12 62-9 62-6 62-4 62 1 62 13 62 64"/>
<path d="M0 59l62 2 62-2 62 3 62 3 62 2 62 2 62 3 62 0 62 2 62 5 62 7 62 36 62 46 62 24 62 15 62 1 62-19 62-23 62-36 62-38 62-8 62-17 62 6 62-18 62-9 62-15 62-1 62 1 62 10 62 53"/>
<path d="M0 184l62 6 62-6 62 6 62 8 62 6 62 6 62 9 62 3 62 4 62 18 62 29 62 120 62 133 62 60 62 42 62-1 62-55 62-67 62-116 62-108 62-44 62-54 62 16 62-48 62-33 62-27 62-8 62 6 62 57 62 141"/>
<path d="M0 72l62 2 62-2 62 2 62 2 62 3 62 1 62 2 62 0 62 3 62 8 62 10 62 44 62 56 62 31 62 17 62-5 62-15 62-26 62-45 62-48 62-13 62-15 62-5 62-16 62-9 62-6 62-2 62-8 62 19 62 58"/>
<path d="M0 210l62 7 62-7 62 7 62 8 62 5 62 7 62 7 62 3 62 7 62 28 62 43 62 147 62 155 62 72 62 44 62-8 62-78 62-78 62-127 62-132 62-35 62-64 62-26 62-9 62-36 62-33 62-6 62 8 62 36 62 181"/>
<path d="M0 231l62 7 62-7 62 7 62 7 62 9 62 6 62 9 62 4 62 4 62 21 62 45 62 152 62 158 62 71 62 34 62 6 62-54 62-92 62-141 62-136 62-54 62-51 62-16 62-67 62 4 62-19 62-7 62-12 62 74 62 156"/>
<path d="M0 163l62 6 62-5 62 5 62 5 62 8 62 4 62 5 62 3 62 4 62 17 62 27 62 104 62 117 62 59 62 35 62-3 62-41 62-54 62-98 62-98 62-12 62-66 62 10 62-44 62-49 62 4 62-12 62-10 62 42 62 124"/>
<path d="M0 260l62 13 62-4 62 13 62 11 62 14 62 11 62 11 62 12 62 1 62 33 62 60 62 198 62 197 62 55 62 50 62-6 62-46 62-81 62-194 62-165 62-97 62-52 62-64 62-25 62-30 62-46 62 0 62 0 62 67 62 231"/>
<path d="M0 31l62 1 62 0 62 1 62 1 62 1 62 1 62 1 62 1 62 0 62 3 62 3 62 20 62 25 62 16 62 9 62 0 62-9 62-12 62-21 62-21 62-4 62-8 62-5 62 0 62-10 62-5 62-2 62 1 62 8 62 25"/>
<path d="M0 8l62 0 62-1 62 0 62 0 62 1 62 0 62 0 62 0 62 0 62 1 62 1 62 4 62 5 62 3 62 2 62 0 62-2 62-3 62-4 62-4 62-2 62 0 62 0 62-1 62-3 62-1 62-1 62 0 62 2 62 6"/>
<path d="M0 217l62 9 62-8 62 9 62 7 62 8 62 4 62 8 62 1 62 7 62 21 62 42 62 137 62 160 62 66 62 67 62 8 62-70 62-81 62-138 62-137 62-57 62-62 62 6 62-13 62-56 62-39 62 12 62-12 62 65 62 149"/>
<path d="M0 312l62 7 62-11 62 7 62 11 62 11 62 7 62 12 62 8 62 4 62 28 62 57 62 199 62 205 62 65 62 48 62-2 62-87 62-108 62-170 62-164 62-55 62-105 62 3 62-43 62-11 62-87 62-16 62 15 62 61 62 214"/>
<path d="M0 60l62 2 62-2 62 3 62 2 62 2 62 2 62 3 62 2 62 1 62 7 62 8 62 39 62 49 62 24 62 18 62 4 62-18 62-23 62-37 62-46 62-11 62-13 62-10 62-8 62-7 62-12 62-8 62 0 62 18 62 53"/>
<path d="M0 130l62 4 62-4 62 4 62 5 62 6 62 5 62 6 62 4 62 4 62 13 62 22 62 81 62 98 62 46 62 36 62-7 62-26 62-51 62-77 62-86 62-38 62-7 62-35 62-22 62-6 62-36 62 4 62-8 62 28 62 103"/>
<path d="M0 147l62 6 62-5 62 6 62 6 62 4 62 4 62 4 62 4 62 0 62 8 62 17 62 82 62 96 62 52 62 43 62 3 62-44 62-51 62-84 62-79 62-40 62-13 62-2 62-45 62-29 62-20 62-3 62 9 62 29 62 108"/>
<path d="M0 116l62 5 62-4 62 6 62 3 62 5 62 1 62 4 62 0 62 3 62 11 62 14 62 67 62 82 62 44 62 36 62 7 62-41 62-44 62-71 62-67 62-14 62-19 62 7 62-31 62-37 62-18 62-3 62-1 62 18 62 98"/>
<path d="M0 56l62 2 62-2 62 2 62 2 62 2 62 2 62 2 62 1 62 1 62 7 62 8 62 34 62 44 62 23 62 18 62-7 62-13 62-22 62-36 62-35 62-6 62-24 62-2 62-6 62-4 62-11 62-9 62-1 62 18 62 46"/>
<path d="M0 158l62 7 62-5 62 6 62 6 62 6 62 4 62 8 62-1 62 7 62 16 62 26 62 100 62 115 62 64 62 39 62 0 62-49 62-60 62-106 62-107 62-22 62-48 62-13 62-25 62-35 62-9 62-3 62-5 62 52 62 131"/>
<path d="M0 276l62 11 62-5 62 9 62 12 62 5 62 5 62 7 62-2 62 13 62 33 62 66 62 193 62 178 62 55 62 44 62 10 62-72 62-88 62-171 62-159 62-72 62-28 62-4 62-78 62-25 62-64 62-6 62-10 62 102 62 182"/>
<path d="M0 201l62 11 62-4 62 9 62 11 62 9 62 6 62 10 62 3 62 6 62 30 62 45 62 161 62 174 62 38 62 48 62-1 62-64 62-83 62-134 62-149 62-65 62-57 62-11 62-33 62-13 62-33 62-17 62-7 62 40 62 195"/>
<path d="M0 17l62 0 62 0 62 0 62 1 62 0 62 1 62 0 62 0 62 1 62 2 62 2 62 9 62 14 62 8 62 4 62 0 62-5 62-6 62-11 62-11 62 0 62-7 62-1 62-2 62-2 62-5 62-1 62 1 62 4 62 14"/>
<path d="M0 240l62 6 62-7 62 7 62 6 62 10 62 5 62 10 62 3 62 10 62 23 62 46 62 155 62 169 62 60 62 36 62 0 62-42 62-73 62-143 62-152 62-67 62-52 62-32 62-11 62-62 62-20 62-8 62-20 62 83 62 171"/>
<path d="M0 100l62 4 62-2 62 4 62 3 62 5 62 2 62 4 62 2 62 2 62 9 62 15 62 68 62 81 62 45 62 26 62-2 62-26 62-36 62-70 62-64 62-28 62-21 62-13 62-27 62-6 62-11 62 3 62-12 62 30 62 84"/>
<path d="M0 10l62 1 62-1 62 1 62 0 62 0 62 1 62 0 62 1 62 0 62 1 62 1 62 6 62 8 62 5 62 2 62 1 62-4 62-3 62-7 62-7 62-3 62-1 62 0 62-3 62-1 62-3 62 1 62 0 62 3 62 8"/>
<path d="M0 22l62 1 62-1 62 1 62 1 62 0 62 1 62 0 62 1 62 0 62 3 62 3 62 13 62 17 62 11 62 6 62 1 62-6 62-7 62-15 62-15 62-5 62-8 62-1 62-2 62-5 62-4 62 1 62-3 62 8 62 17"/>
<path d="M0 235l62 6 62-11 62 5 62 5 62 4 62 4 62 4 62 1 62 15 62 25 62 48 62 152 62 158 62 65 62 53 62-2 62-69 62-75 62-142 62-139 62-82 62-84 62 50 62-45 62-22 62-47 62-13 62 4 62 61 62 172"/>
<path d="M0 169l62 6 62-9 62 5 62 4 62 5 62 4 62 8 62 0 62 7 62 17 62 28 62 98 62 114 62 50 62 44 62-1 62-45 62-42 62-98 62-90 62-52 62-41 62-30 62-12 62-18 62-28 62-10 62 11 62 24 62 125"/>
<path d="M0 9l62 0 62 0 62 0 62 0 62 0 62 1 62 0 62 0 62 0 62 1 62 1 62 5 62 7 62 4 62 2 62 1 62-3 62-2 62-6 62-5 62-4 62-2 62 0 62-1 62-2 62-1 62-1 62 1 62 3 62 6"/>
<path d="M0 175l62 8 62-6 62 8 62 6 62 5 62 2 62 6 62 1 62 6 62 24 62 32 62 118 62 128 62 53 62 43 62 5 62-62 62-58 62-117 62-110 62-49 62-63 62 55 62-85 62 11 62-35 62-10 62 1 62 17 62 167"/>
<path d="M0 103l62 5 62-4 62 4 62 3 62 3 62 3 62 3 62 1 62 3 62 12 62 15 62 66 62 80 62 38 62 27 62 6 62-26 62-32 62-75 62-76 62-14 62-8 62-24 62-17 62-30 62-12 62 0 62-1 62 19 62 93"/>
<path d="M0 130l62 7 62-3 62 5 62 6 62 5 62 2 62 5 62 1 62 3 62 12 62 19 62 80 62 93 62 48 62 37 62 8 62-39 62-49 62-79 62-80 62-33 62-2 62-40 62 14 62-60 62-17 62 8 62-6 62 21 62 111"/>
<path d="M0 232l62 11 62-6 62 10 62 11 62 11 62 6 62 10 62 6 62 7 62 29 62 58 62 169 62 184 62 59 62 38 62 15 62-87 62-85 62-146 62-148 62-41 62-50 62-10 62-41 62-62 62-36 62-20 62 9 62 53 62 196"/>
<path d="M0 131l62 3 62-4 62 5 62 4 62 5 62 4 62 6 62 2 62 7 62 19 62 31 62 95 62 109 62 38 62 25 62 4 62-31 62-48 62-96 62-92 62-47 62-23 62-7 62-20 62-33 62-11 62-12 62 3 62 48 62 106"/>
<path d="M0 51l62 1 62-2 62 1 62 1 62 2 62 1 62 2 62 1 62 1 62 4 62 6 62 30 62 38 62 18 62 13 62 3 62-14 62-21 62-30 62-33 62-3 62-11 62 3 62-22 62-4 62-11 62 4 62-1 62 8 62 42"/>
<path d="M0 208l62 8 62-4 62 6 62 9 62 7 62 6 62 9 62 2 62 9 62 23 62 36 62 129 62 146 62 67 62 56 62-5 62-60 62-80 62-120 62-133 62 13 62-65 62-17 62-11 62-86 62-25 62-10 62-6 62 27 62 179"/>
<path d="M0 217l62 7 62-6 62 5 62 5 62 9 62 3 62 6 62 2 62 7 62 22 62 40 62 135 62 152 62 56 62 46 62 12 62-59 62-86 62-118 62-134 62-5 62-56 62 9 62-34 62-106 62-15 62-2 62-12 62 55 62 168"/>
<path d="M0 52l62 1 62-2 62 2 62 2 62 2 62 2 62 2 62 0 62 2 62 6 62 7 62 31 62 42 62 21 62 13 62 2 62-16 62-20 62-31 62-33 62-11 62-23 62 9 62-14 62-15 62 3 62-4 62-5 62 11 62 42"/>
<path d="M0 91l62 2 62-2 62 4 62 3 62 3 62 1 62 5 62 0 62 4 62 11 62 13 62 55 62 66 62 35 62 25 62 2 62-28 62-34 62-59 62-61 62-4 62-28 62-21 62-10 62-6 62-13 62-5 62-3 62 24 62 75"/>
<path d="M0 9l62 0 62 0 62 0 62 0 62 0 62 1 62 0 62 0 62 1 62 1 62 1 62 5 62 6 62 5 62 2 62 1 62-3 62-3 62-6 62-5 62-3 62-2 62 0 62-3 62-1 62-1 62 0 62-1 62 3 62 7"/>
<path d="M0 182l62 4 62-9 62 6 62 4 62 6 62 4 62 5 62 2 62 3 62 18 62 27 62 108 62 130 62 54 62 46 62 1 62-54 62-58 62-104 62-114 62-64 62-22 62-14 62-45 62-13 62 2 62-16 62-2 62 40 62 138"/>
<path d="M0 124l62 4 62-4 62 3 62 5 62 2 62 2 62 4 62 0 62 2 62 13 62 17 62 75 62 91 62 46 62 34 62-3 62-38 62-43 62-72 62-82 62-29 62-20 62-4 62-21 62-18 62-22 62-5 62-5 62 38 62 85"/>
<path d="M0 54l62 2 62-1 62 3 62 2 62 2 62 1 62 3 62 1 62 1 62 6 62 7 62 35 62 44 62 25 62 16 62 0 62-16 62-23 62-35 62-37 62-15 62-15 62-8 62 1 62-17 62-6 62-3 62 4 62 14 62 44"/>
<path d="M0 43l62 1 62-2 62 1 62 1 62 2 62 1 62 1 62 2 62 0 62 4 62 4 62 24 62 31 62 19 62 13 62 1 62-11 62-14 62-28 62-27 62-13 62-13 62-3 62 2 62-9 62-10 62 1 62-1 62 17 62 29"/>
<path d="M0 73l62 1 62-2 62 1 62 2 62 2 62 1 62 4 62 0 62 2 62 8 62 10 62 41 62 56 62 31 62 24 62-1 62-25 62-28 62-47 62-45 62-6 62-14 62-23 62-1 62-9 62-14 62-11 62 2 62 20 62 60"/>
<path d="M0 65l62 2 62-2 62 3 62 2 62 1 62 1 62 1 62 1 62 0 62 5 62 7 62 35 62 46 62 26 62 17 62 3 62-22 62-23 62-38 62-37 62-6 62-28 62 11 62-17 62-11 62-3 62-5 62-4 62 19 62 46"/>
<path d="M0 241l62 10 62-4 62 11 62 7 62 11 62 6 62 12 62 2 62 7 62 25 62 48 62 164 62 171 62 59 62 47 62 19 62-72 62-83 62-160 62-147 62-92 62-19 62-8 62-39 62-31 62-47 62-4 62-18 62 63 62 186"/>
<path d="M0 45l62 1 62-2 62 1 62 0 62 2 62 2 62 2 62 1 62 1 62 4 62 4 62 25 62 35 62 18 62 14 62-1 62-10 62-19 62-25 62-27 62-10 62-11 62 5 62-10 62-15 62-6 62-1 62 0 62 12 62 31"/>
<path d="M0 211l62 7 62-7 62 4 62 6 62 6 62 6 62 9 62 2 62 7 62 20 62 37 62 130 62 141 62 55 62 46 62 11 62-46 62-73 62-121 62-132 62-31 62-78 62-34 62 20 62-50 62-26 62 1 62-15 62 56 62 141"/>
<path d="M0 52l62 2 62-2 62 1 62 1 62 2 62 1 62 1 62 1 62 2 62 6 62 7 62 31 62 41 62 24 62 15 62 2 62-13 62-18 62-33 62-38 62-10 62-5 62-8 62-10 62-17 62-8 62-3 62 1 62 9 62 50"/>
<path d="M0 58l62 3 62-1 62 3 62 2 62 2 62 1 62 3 62 1 62 2 62 6 62 8 62 37 62 50 62 24 62 19 62 0 62-24 62-24 62-41 62-39 62-11 62-11 62-9 62-5 62-7 62-9 62-6 62 1 62 12 62 51"/>
<path d="M0 179l62 6 62-5 62 6 62 5 62 6 62 5 62 8 62 0 62 7 62 21 62 37 62 122 62 138 62 54 62 40 62 2 62-44 62-62 62-111 62-116 62-2 62-76 62-21 62-13 62-38 62-46 62-22 62 24 62 36 62 141"/>
<path d="M0 245l62 6 62-10 62 8 62 3 62 8 62 5 62 9 62 2 62 9 62 27 62 46 62 152 62 168 62 57 62 49 62 23 62-81 62-97 62-143 62-149 62-1 62-48 62-13 62-77 62-41 62-5 62-28 62 1 62 70 62 148"/>
<path d="M0 177l62 9 62-3 62 8 62 7 62 5 62 7 62 5 62 2 62 7 62 20 62 34 62 116 62 133 62 46 62 44 62-2 62-50 62-67 62-115 62-109 62-73 62-30 62-20 62 12 62-46 62-34 62 4 62 0 62 55 62 134"/>
<path d="M0 198l62 10 62-1 62 9 62 13 62 8 62 4 62 13 62 2 62 6 62 20 62 37 62 136 62 145 62 56 62 53 62 1 62-61 62-83 62-126 62-127 62-23 62-66 62-3 62-37 62-20 62-41 62-4 62-17 62 28 62 197"/>
<path d="M0 107l62 1 62-4 62 2 62 2 62 5 62 2 62 3 62 2 62 4 62 11 62 16 62 66 62 80 62 37 62 27 62 0 62-21 62-38 62-66 62-68 62-6 62-38 62-5 62-17 62-17 62-22 62-13 62 7 62 34 62 73"/>
<path d="M0 250l62 6 62-7 62 5 62 7 62 8 62 7 62 4 62 2 62 9 62 21 62 41 62 153 62 166 62 67 62 62 62 11 62-76 62-80 62-146 62-140 62-60 62-25 62 8 62-78 62-44 62-50 62-2 62-19 62 56 62 195"/>
<path d="M0 209l62 7 62-5 62 6 62 7 62 7 62 8 62 7 62 0 62 9 62 22 62 35 62 129 62 146 62 63 62 46 62 25 62-69 62-92 62-123 62-122 62-27 62-66 62-23 62-24 62-24 62-38 62 7 62-9 62 36 62 161"/>
<path d="M0 206l62 7 62-10 62 7 62 7 62 9 62 1 62 9 62 1 62 6 62 22 62 34 62 128 62 140 62 60 62 49 62 3 62-41 62-62 62-131 62-134 62-16 62-76 62 17 62-28 62-78 62-25 62 7 62-3 62 35 62 180"/>
<path d="M0 297l62 11 62-7 62 11 62 11 62 9 62 4 62 14 62 1 62 9 62 33 62 64 62 210 62 202 62 54 62 37 62 1 62-52 62-105 62-174 62-196 62-57 62-62 62 12 62-90 62-26 62-62 62-17 62 13 62 73 62 216"/>
<path d="M0 100l62 4 62-3 62 4 62 3 62 3 62 2 62 3 62 0 62 3 62 9 62 13 62 60 62 77 62 37 62 25 62 3 62-29 62-36 62-63 62-62 62-27 62-19 62-11 62-8 62-10 62-32 62 6 62 3 62 17 62 77"/>
<path d="M0 37l62 2 62-2 62 2 62 1 62 1 62 1 62 1 62 1 62 1 62 4 62 4 62 22 62 28 62 17 62 14 62-1 62-10 62-13 62-25 62-25 62-6 62-8 62-5 62-5 62-9 62-6 62 1 62 1 62 5 62 31"/>
<path d="M0 49l62 2 62-2 62 2 62 1 62 1 62 2 62 1 62 0 62 2 62 4 62 7 62 27 62 36 62 21 62 14 62-2 62-13 62-17 62-29 62-31 62-8 62-22 62-8 62-3 62-4 62-3 62-1 62-3 62 11 62 42"/>
<path d="M0 53l62 2 62-1 62 1 62 3 62 2 62 2 62 3 62 2 62 2 62 6 62 7 62 31 62 42 62 25 62 17 62 1 62-21 62-24 62-34 62-34 62-9 62-19 62-4 62-3 62-14 62-5 62-1 62 0 62 13 62 42"/>
<path d="M0 118l62 5 62-3 62 4 62 4 62 4 62 3 62 4 62 1 62 3 62 11 62 17 62 73 62 86 62 46 62 33 62 1 62-28 62-41 62-76 62-76 62-15 62-50 62 28 62-49 62-26 62-15 62 0 62-9 62 38 62 92"/>
<path d="M0 16l62 1 62 0 62 0 62 1 62 1 62 0 62 1 62 1 62 0 62 2 62 2 62 10 62 14 62 8 62 6 62 0 62-6 62-7 62-11 62-12 62 0 62-5 62-2 62 1 62-8 62-4 62 1 62 0 62 3 62 16"/>
<path d="M0 147l62 5 62-3 62 4 62 5 62 4 62 4 62 5 62 1 62 5 62 16 62 20 62 86 62 101 62 59 62 46 62-2 62-55 62-52 62-84 62-87 62-15 62-10 62-25 62-49 62-23 62-22 62-7 62 5 62 41 62 111"/>
<path d="M0 147l62 8 62-2 62 7 62 7 62 5 62 1 62 5 62 1 62 4 62 15 62 27 62 96 62 120 62 42 62 46 62-10 62-45 62-50 62-105 62-91 62-13 62-32 62-17 62-34 62-22 62-30 62-3 62 0 62 32 62 131"/>
<path d="M0 128l62 6 62-3 62 6 62 4 62 6 62 3 62 4 62 3 62 4 62 15 62 23 62 88 62 104 62 49 62 24 62 2 62-24 62-41 62-87 62-89 62-43 62-31 62-19 62 7 62-36 62-32 62 9 62-11 62 19 62 123"/>
<path d="M0 33l62 1 62 0 62 0 62 2 62 1 62 1 62 1 62 1 62 1 62 3 62 4 62 18 62 24 62 16 62 11 62-1 62-10 62-12 62-21 62-22 62-5 62-13 62 1 62-4 62-8 62-5 62 2 62-2 62 11 62 24"/>
<path d="M0 234l62 9 62-6 62 9 62 9 62 9 62 7 62 10 62 6 62 6 62 24 62 47 62 154 62 162 62 75 62 38 62 1 62-60 62-92 62-148 62-146 62-37 62-116 62 1 62 18 62-78 62-17 62 16 62-14 62 72 62 164"/>
<path d="M0 121l62 6 62-3 62 7 62 5 62 2 62 2 62 4 62 0 62 4 62 12 62 21 62 75 62 94 62 46 62 36 62-11 62-27 62-41 62-74 62-81 62-36 62-26 62-39 62 3 62-7 62-30 62 2 62 8 62 12 62 116"/>
<path d="M0 106l62 5 62-4 62 3 62 4 62 4 62 2 62 6 62 1 62 3 62 10 62 18 62 68 62 80 62 39 62 22 62-1 62-16 62-39 62-70 62-77 62-22 62-18 62-11 62-24 62-19 62-12 62-7 62 9 62 5 62 105"/>
<path d="M0 112l62 2 62-3 62 3 62 3 62 5 62 4 62 5 62 1 62 4 62 10 62 15 62 69 62 79 62 44 62 31 62 6 62-35 62-46 62-70 62-68 62-20 62-47 62-8 62-4 62-18 62-7 62-12 62 7 62 10 62 103"/>
<path d="M0 146l62 3 62-6 62 5 62 3 62 5 62 6 62 7 62-1 62 5 62 12 62 23 62 87 62 106 62 42 62 37 62 0 62-36 62-53 62-90 62-91 62-22 62-67 62 12 62-28 62-10 62-17 62-9 62 1 62 24 62 119"/>
<path d="M0 45l62 1 62-1 62 2 62 2 62 2 62 2 62 1 62 1 62 2 62 4 62 4 62 27 62 36 62 22 62 17 62-5 62-16 62-18 62-29 62-28 62-11 62-8 62-2 62-8 62-10 62-6 62-4 62 0 62 13 62 38"/>
<path d="M0 218l62 7 62-9 62 6 62 5 62 7 62 5 62 8 62 2 62 3 62 25 62 44 62 141 62 154 62 52 62 42 62 9 62-66 62-69 62-119 62-147 62-74 62 1 62-32 62-58 62-29 62-8 62-24 62 8 62 34 62 177"/>
<path d="M0 184l62 5 62-6 62 5 62 5 62 7 62 3 62 7 62 1 62 9 62 19 62 32 62 116 62 126 62 63 62 63 62 2 62-58 62-67 62-123 62-113 62-35 62-57 62-14 62-42 62 6 62-36 62-1 62-19 62 53 62 166"/>
<path d="M0 167l62 8 62-6 62 6 62 5 62 6 62 4 62 7 62 1 62 2 62 14 62 20 62 104 62 119 62 51 62 56 62 4 62-65 62-60 62-93 62-107 62-36 62-43 62-8 62 4 62-64 62-1 62-8 62-7 62 53 62 107"/>
<path d="M0 63l62 2 62-2 62 1 62 2 62 3 62 1 62 3 62 1 62 2 62 5 62 7 62 35 62 47 62 27 62 19 62-1 62-16 62-26 62-37 62-38 62-20 62-14 62 1 62-15 62-3 62-12 62-8 62 4 62 18 62 52"/>
<path d="M0 93l62 2 62-3 62 3 62 3 62 4 62 5 62 4 62 2 62 2 62 9 62 12 62 57 62 69 62 33 62 26 62 2 62-32 62-35 62-58 62-55 62-20 62-26 62-14 62-8 62-11 62-17 62 2 62-6 62 23 62 80"/>
<path d="M0 54l62 2 62-2 62 1 62 1 62 3 62 1 62 2 62 1 62 1 62 4 62 5 62 29 62 39 62 23 62 16 62 1 62-17 62-21 62-32 62-33 62-3 62-10 62-7 62-10 62-9 62-11 62 1 62-7 62 13 62 48"/>
<path d="M0 183l62 5 62-6 62 4 62 6 62 7 62 4 62 7 62 2 62 5 62 15 62 23 62 116 62 127 62 51 62 47 62-4 62-47 62-61 62-112 62-112 62-13 62-54 62-11 62-27 62-36 62-17 62-11 62-12 62 55 62 127"/>
<path d="M0 45l62 2 62-1 62 1 62 2 62 1 62 2 62 1 62 1 62 1 62 5 62 5 62 28 62 35 62 21 62 15 62 0 62-14 62-17 62-27 62-30 62-14 62-5 62-4 62-10 62-8 62-9 62 0 62 0 62 7 62 40"/>
<path d="M0 161l62 6 62-5 62 7 62 3 62 5 62 3 62 7 62 1 62 6 62 13 62 25 62 98 62 112 62 61 62 48 62 7 62-61 62-60 62-97 62-91 62-36 62-63 62 11 62-45 62-13 62-29 62 11 62 3 62 36 62 112"/>
<path d="M0 155l62 5 62-4 62 5 62 4 62 8 62 6 62 7 62 2 62 4 62 17 62 31 62 101 62 123 62 52 62 21 62 1 62-33 62-59 62-102 62-94 62-56 62-23 62-9 62-35 62-7 62-19 62-22 62-5 62 37 62 125"/>
<path d="M0 101l62 4 62-2 62 4 62 5 62 4 62 2 62 5 62 2 62 3 62 12 62 18 62 63 62 78 62 37 62 24 62 5 62-39 62-36 62-69 62-65 62-32 62-7 62-21 62-8 62-16 62-6 62-11 62-10 62 32 62 82"/>
<path d="M0 120l62 4 62-2 62 4 62 5 62 4 62 2 62 6 62 0 62 6 62 15 62 23 62 78 62 93 62 48 62 36 62-2 62-41 62-40 62-81 62-75 62-34 62-19 62-15 62-24 62-13 62-30 62 4 62-8 62 34 62 102"/>
<path d="M0 73l62 3 62-2 62 3 62 3 62 2 62 2 62 2 62 1 62 2 62 7 62 7 62 43 62 53 62 33 62 25 62 3 62-28 62-27 62-44 62-46 62-14 62-8 62-2 62-10 62-24 62-13 62-4 62 0 62 15 62 61"/>
<path d="M0 106l62 2 62-3 62 4 62 1 62 5 62 3 62 4 62 1 62 4 62 13 62 17 62 68 62 84 62 41 62 29 62 3 62-38 62-43 62-70 62-64 62-30 62 0 62-10 62-23 62-11 62-32 62-5 62 8 62 23 62 78"/>
<path d="M0 227l62 8 62-7 62 5 62 9 62 8 62 10 62 8 62 2 62 7 62 21 62 37 62 138 62 154 62 64 62 59 62 6 62-64 62-79 62-144 62-132 62-49 62-30 62-23 62-78 62 15 62-36 62-36 62-2 62 66 62 173"/>
<path d="M0 284l62 8 62-8 62 10 62 6 62 12 62 8 62 14 62 6 62 6 62 25 62 48 62 184 62 197 62 83 62 98 62-14 62-80 62-103 62-180 62-171 62-75 62-57 62-27 62-62 62-19 62-49 62-7 62 12 62 75 62 217"/>
<path d="M0 102l62 2 62-4 62 2 62 3 62 3 62 3 62 4 62 1 62 3 62 10 62 14 62 57 62 68 62 43 62 24 62 2 62-30 62-35 62-62 62-66 62-14 62-34 62-10 62 0 62-26 62-1 62-16 62 4 62 33 62 74"/>
<path d="M0 56l62 2 62-1 62 2 62 2 62 2 62 1 62 2 62 1 62 2 62 7 62 8 62 35 62 45 62 28 62 22 62 2 62-19 62-20 62-40 62-41 62-9 62-24 62 4 62-5 62-19 62-8 62-6 62 9 62 4 62 50"/>
<path d="M0 217l62 11 62-7 62 8 62 8 62 6 62 7 62 7 62 3 62 2 62 22 62 38 62 143 62 162 62 58 62 48 62 4 62-77 62-76 62-122 62-143 62-7 62-87 62-14 62-29 62-12 62-63 62-6 62 11 62 57 62 150"/>
<path d="M0 316l62 11 62-11 62 12 62 10 62 11 62 7 62 10 62 1 62 10 62 29 62 61 62 206 62 200 62 69 62 43 62 18 62-96 62-104 62-174 62-165 62-112 62-29 62-42 62-34 62-36 62-60 62 2 62-6 62 80 62 211"/>
<path d="M0 59l62 2 62-1 62 1 62 2 62 3 62 2 62 4 62 0 62 2 62 8 62 8 62 37 62 50 62 24 62 14 62 3 62-22 62-23 62-37 62-39 62-5 62-16 62 6 62-24 62-12 62-4 62-8 62-4 62 19 62 49"/>
<path d="M0 145l62 4 62-4 62 4 62 3 62 8 62 5 62 6 62 3 62 7 62 19 62 29 62 102 62 116 62 46 62 33 62-2 62-29 62-57 62-97 62-99 62-22 62-49 62-6 62-20 62-31 62-40 62 6 62 9 62 21 62 131"/>
<path d="M0 106l62 2 62-4 62 2 62 2 62 4 62 4 62 6 62 2 62 2 62 13 62 16 62 69 62 86 62 38 62 25 62-4 62-29 62-37 62-67 62-71 62-3 62-19 62-8 62-26 62-28 62-19 62-5 62 5 62 18 62 79"/>
<path d="M0 30l62 2 62-1 62 1 62 1 62 1 62 0 62 1 62 0 62 1 62 3 62 3 62 18 62 23 62 16 62 9 62 0 62-7 62-9 62-21 62-21 62-12 62-6 62 0 62-6 62-7 62-2 62-1 62-1 62 10 62 27"/>
<path d="M0 209l62 7 62-5 62 8 62 7 62 5 62 6 62 9 62 1 62 5 62 25 62 45 62 150 62 163 62 73 62 20 62 7 62-58 62-77 62-128 62-138 62-49 62-71 62 22 62-43 62-27 62-45 62-10 62 2 62 75 62 160"/>
<path d="M0 149l62 6 62-4 62 6 62 6 62 2 62 2 62 5 62 1 62 4 62 17 62 27 62 97 62 106 62 47 62 29 62-1 62-32 62-43 62-104 62-93 62-27 62-45 62-22 62 2 62-32 62-16 62-13 62 16 62 14 62 130"/>
<path d="M0 99l62 4 62-3 62 5 62 2 62 5 62 3 62 3 62 1 62 3 62 10 62 14 62 60 62 77 62 37 62 22 62 0 62-26 62-38 62-61 62-60 62-35 62-22 62-4 62-4 62-28 62-9 62-2 62 1 62 16 62 88"/>
<path d="M0 100l62 6 62-2 62 8 62 5 62 3 62 4 62 3 62 1 62 4 62 12 62 18 62 70 62 86 62 43 62 24 62 7 62-34 62-37 62-74 62-65 62-32 62-28 62-15 62-7 62-23 62-9 62-15 62 3 62 21 62 93"/>
<path d="M0 137l62 4 62-5 62 5 62 4 62 5 62 4 62 5 62 4 62 4 62 16 62 22 62 84 62 101 62 48 62 40 62 4 62-44 62-50 62-85 62-81 62-41 62-16 62-25 62-27 62-32 62-11 62-5 62 7 62 36 62 98"/>
<path d="M0 118l62 4 62-2 62 5 62 2 62 4 62 3 62 5 62 0 62 5 62 13 62 20 62 79 62 91 62 49 62 34 62 2 62-33 62-47 62-82 62-72 62-42 62-33 62 10 62-11 62-31 62-22 62-5 62 1 62 28 62 98"/>
<path d="M0 102l62 3 62-3 62 3 62 2 62 4 62 3 62 5 62 1 62 3 62 11 62 15 62 65 62 81 62 42 62 21 62 3 62-30 62-34 62-68 62-69 62-26 62-36 62 3 62-14 62-22 62-13 62-1 62 5 62 21 62 85"/>
<path d="M0 7l62 1 62 0 62 0 62 0 62 0 62 1 62 0 62 0 62 0 62 1 62 1 62 4 62 7 62 3 62 2 62 0 62-2 62-3 62-5 62-5 62-1 62-2 62-2 62-1 62-1 62-1 62 1 62-1 62 2 62 7"/>
<path d="M0 107l62 2 62-5 62 3 62 2 62 2 62 2 62 1 62 1 62 4 62 10 62 16 62 59 62 76 62 33 62 31 62-2 62-35 62-32 62-60 62-61 62-31 62-7 62-24 62-12 62-8 62-12 62-10 62 8 62 18 62 79"/>
<path d="M0 241l62 10 62-4 62 10 62 10 62 9 62 6 62 8 62-1 62 10 62 22 62 46 62 151 62 167 62 76 62 48 62-1 62-73 62-89 62-151 62-149 62-78 62-47 62 13 62-32 62-45 62-16 62-2 62-16 62 59 62 165"/>
<path d="M0 21l62 1 62-1 62 0 62 1 62 1 62 0 62 1 62 1 62 0 62 2 62 2 62 12 62 15 62 9 62 8 62-1 62-6 62-7 62-12 62-14 62-3 62-4 62 4 62-5 62-9 62-4 62 0 62-2 62 7 62 16"/>
<path d="M0 247l62 10 62-7 62 5 62 10 62 7 62 8 62 8 62 3 62 7 62 23 62 44 62 155 62 175 62 65 62 27 62 11 62-66 62-77 62-152 62-144 62-18 62-66 62 2 62-103 62-6 62-51 62-10 62 21 62 8 62 218"/>
<path d="M0 117l62 6 62-3 62 4 62 5 62 5 62 2 62 7 62-1 62 5 62 12 62 21 62 76 62 90 62 39 62 37 62 4 62-41 62-44 62-73 62-74 62-33 62-40 62 13 62-21 62-29 62-15 62-10 62 6 62 14 62 122"/>
<path d="M0 1l62 0 62 0 62 0 62 0 62 0 62 0 62 0 62 0 62 0 62 0 62 0 62 1 62 1 62 0 62 1 62 0 62-1 62 0 62-1 62 0 62-1 62 0 62 0 62 0 62 0 62 0 62-1 62 0 62 1 62 1"/>
<path d="M0 143l62 4 62-2 62 6 62 5 62 7 62 3 62 8 62 2 62 8 62 15 62 20 62 86 62 106 62 52 62 57 62 2 62-61 62-68 62-90 62-77 62-36 62-28 62-20 62-14 62-22 62-27 62 6 62-1 62 27 62 122"/>
<path d="M0 125l62 5 62-4 62 4 62 4 62 3 62 2 62 5 62 0 62 3 62 13 62 17 62 74 62 89 62 46 62 39 62-7 62-34 62-46 62-71 62-76 62-21 62-20 62-21 62-13 62-24 62-25 62-4 62 4 62 30 62 86"/>
<path d="M0 194l62 8 62-4 62 9 62 7 62 7 62 5 62 11 62 4 62 7 62 21 62 36 62 127 62 146 62 59 62 47 62 10 62-53 62-68 62-133 62-128 62-62 62-27 62-11 62-62 62-23 62-18 62-15 62 1 62 43 62 174"/>
<path d="M0 235l62 7 62-9 62 6 62 6 62 11 62 6 62 15 62 3 62 8 62 24 62 45 62 148 62 162 62 62 62 58 62 18 62-63 62-88 62-147 62-153 62-47 62-34 62-24 62-74 62-20 62-15 62 5 62-21 62 40 62 180"/>
<path d="M0 115l62 4 62-2 62 4 62 4 62 4 62 1 62 2 62 0 62 2 62 10 62 14 62 69 62 86 62 40 62 33 62-1 62-21 62-35 62-73 62-78 62-28 62-27 62 1 62-20 62-30 62-12 62-7 62 1 62 23 62 98"/>
<path d="M0 75l62 2 62-3 62 2 62 2 62 3 62 1 62 4 62 1 62 2 62 10 62 12 62 47 62 59 62 29 62 17 62 1 62-23 62-30 62-46 62-45 62-25 62-17 62-6 62-4 62-24 62-9 62-1 62 0 62 20 62 59"/>
<path d="M0 82l62 4 62-2 62 1 62 4 62 4 62 2 62 5 62 2 62 2 62 9 62 11 62 50 62 65 62 35 62 17 62 1 62-22 62-31 62-54 62-54 62-14 62-35 62 0 62-5 62-24 62-6 62-4 62 7 62 16 62 63"/>
<path d="M0 76l62 3 62-3 62 2 62 3 62 3 62 2 62 2 62 1 62 3 62 9 62 12 62 51 62 62 62 28 62 21 62-2 62-23 62-28 62-50 62-51 62-16 62-22 62-9 62 1 62-27 62 5 62-6 62-4 62 19 62 54"/>
<path d="M0 252l62 9 62-6 62 8 62 9 62 10 62 3 62 11 62 1 62 7 62 30 62 50 62 175 62 180 62 53 62 60 62 1 62-91 62-87 62-150 62-152 62-62 62-79 62 25 62-60 62-39 62-10 62-17 62-12 62 48 62 203"/>
<path d="M0 96l62 3 62-4 62 4 62 2 62 5 62 4 62 4 62 2 62 2 62 15 62 18 62 70 62 80 62 38 62 10 62 5 62-32 62-31 62-65 62-71 62-15 62-32 62 4 62-22 62-14 62-27 62 3 62 1 62 12 62 87"/>
<path d="M0 112l62 3 62-3 62 5 62 2 62 5 62 4 62 4 62 2 62 4 62 14 62 18 62 74 62 88 62 44 62 18 62 4 62-45 62-43 62-64 62-66 62-12 62-51 62-5 62-17 62-22 62-24 62 5 62 5 62 24 62 87"/>
<path d="M0 101l62 3 62-3 62 2 62 4 62 3 62 3 62 4 62 0 62 5 62 10 62 15 62 63 62 79 62 37 62 29 62-4 62-30 62-38 62-61 62-63 62-29 62-19 62 7 62-40 62-19 62-7 62 2 62-3 62 27 62 76"/>
<path d="M0 53l62 1 62-1 62 2 62 2 62 2 62 1 62 2 62 0 62 2 62 6 62 7 62 30 62 40 62 26 62 18 62 0 62-19 62-22 62-33 62-32 62-9 62-28 62 11 62-11 62-5 62-15 62-1 62-1 62 16 62 43"/>
<path d="M0 235l62 10 62-9 62 9 62 10 62 6 62 5 62 9 62 2 62 8 62 22 62 39 62 153 62 166 62 62 62 88 62-17 62-51 62-79 62-162 62-138 62-31 62-65 62-17 62-32 62-85 62-14 62 11 62-26 62 66 62 179"/>
<path d="M0 236l62 9 62-8 62 8 62 8 62 10 62 5 62 10 62 2 62 7 62 24 62 47 62 156 62 165 62 58 62 52 62 9 62-81 62-68 62-145 62-121 62-50 62-49 62-11 62-60 62-55 62-4 62-41 62 15 62 57 62 179"/>
<path d="M0 258l62 8 62-5 62 10 62 11 62 8 62 10 62 11 62 5 62 6 62 23 62 47 62 176 62 174 62 67 62 74 62-22 62-81 62-92 62-158 62-145 62-68 62-75 62 6 62-34 62-23 62-50 62-8 62 6 62 50 62 191"/>
<path d="M0 326l62 13 62-9 62 12 62 10 62 11 62 7 62 12 62 5 62 12 62 28 62 64 62 205 62 213 62 75 62 92 62 2 62-121 62-124 62-186 62-174 62-79 62-96 62-42 62 6 62-33 62-59 62-18 62 19 62 9 62 293"/>
<path d="M0 8l62 0 62 0 62 0 62 1 62 0 62 0 62 0 62 0 62 1 62 1 62 1 62 4 62 7 62 4 62 3 62 0 62-3 62-3 62-5 62-5 62-3 62-1 62-1 62-1 62-2 62-1 62-1 62 1 62 2 62 6"/>
<path d="M0 125l62 5 62-4 62 4 62 5 62 3 62 3 62 6 62 1 62 5 62 12 62 15 62 78 62 95 62 48 62 40 62-1 62-44 62-52 62-77 62-76 62 0 62-45 62-4 62-32 62-19 62-26 62-6 62 2 62 38 62 102"/>
<path d="M0 122l62 4 62-4 62 3 62 2 62 4 62 2 62 7 62-1 62 3 62 14 62 20 62 74 62 92 62 41 62 24 62 2 62-28 62-49 62-75 62-77 62-28 62-50 62 20 62-15 62-45 62-10 62 4 62-1 62 21 62 105"/>
<path d="M0 31l62 1 62-1 62 1 62 1 62 2 62 1 62 1 62 0 62 1 62 3 62 2 62 18 62 23 62 18 62 8 62 2 62-10 62-13 62-20 62-20 62-6 62-9 62 4 62-8 62-11 62-2 62-1 62 3 62 4 62 27"/>
<path d="M0 125l62 5 62-4 62 3 62 2 62 5 62 2 62 5 62 1 62 6 62 15 62 21 62 76 62 92 62 47 62 32 62 2 62-40 62-54 62-75 62-77 62-11 62-41 62-1 62-12 62-23 62-21 62-23 62 15 62 25 62 104"/>
<path d="M0 126l62 4 62-3 62 3 62 5 62 5 62 3 62 5 62 2 62 4 62 12 62 20 62 75 62 93 62 48 62 28 62-1 62-34 62-38 62-84 62-81 62-25 62-20 62 0 62-41 62 1 62-35 62-3 62 6 62 28 62 95"/>
<path d="M0 18l62 1 62-1 62 0 62 1 62 0 62 1 62 0 62 1 62 0 62 2 62 2 62 9 62 13 62 9 62 5 62 0 62-6 62-6 62-12 62-12 62-3 62-5 62 1 62-5 62-2 62-1 62 0 62 1 62 3 62 14"/>
<path d="M0 306l62 9 62-6 62 9 62 11 62 10 62 2 62 10 62 2 62 8 62 33 62 63 62 198 62 210 62 53 62 71 62-11 62-74 62-104 62-170 62-179 62-103 62-41 62-37 62-47 62-34 62-23 62-32 62 1 62 81 62 223"/>
<path d="M0 50l62 2 62-1 62 2 62 2 62 2 62 1 62 3 62 0 62 2 62 5 62 9 62 33 62 43 62 21 62 12 62 2 62-14 62-18 62-36 62-38 62-2 62-19 62 0 62-20 62-4 62-6 62-5 62-1 62 7 62 52"/>
<path d="M0 68l62 3 62-2 62 2 62 3 62 3 62 2 62 2 62 1 62 2 62 8 62 8 62 38 62 50 62 29 62 19 62 0 62-12 62-26 62-41 62-44 62-25 62-11 62-4 62-11 62-9 62-10 62-2 62-2 62 17 62 51"/>
<path d="M0 64l62 2 62-3 62 2 62 1 62 1 62 2 62 2 62 1 62 2 62 7 62 7 62 38 62 50 62 26 62 17 62 0 62-17 62-23 62-40 62-41 62-5 62-14 62-13 62-9 62-18 62-6 62 2 62-2 62 12 62 50"/>
<path d="M0 12l62 0 62 0 62 0 62 0 62 1 62 0 62 0 62 0 62 1 62 1 62 2 62 6 62 9 62 6 62 3 62 1 62-4 62-5 62-7 62-7 62 0 62-3 62-3 62-2 62 0 62-4 62 0 62 0 62 3 62 9"/>
<path d="M0 172l62 9 62-4 62 8 62 10 62 7 62 4 62 7 62 3 62 2 62 15 62 29 62 107 62 125 62 66 62 30 62 7 62-38 62-65 62-112 62-114 62-19 62-22 62-23 62-27 62-63 62-8 62-8 62 3 62 40 62 131"/>
<path d="M0 212l62 6 62-7 62 5 62 6 62 8 62 3 62 7 62 1 62 11 62 20 62 32 62 126 62 142 62 77 62 69 62-6 62-59 62-74 62-124 62-137 62-10 62-56 62-21 62-38 62-68 62 4 62-42 62 29 62 43 62 164"/>
<path d="M0 42l62 1 62-1 62 1 62 1 62 2 62 1 62 2 62 1 62 2 62 4 62 5 62 24 62 33 62 19 62 16 62-2 62-11 62-17 62-27 62-28 62-4 62-17 62 1 62-9 62-10 62-6 62-1 62 1 62 9 62 35"/>
<path d="M0 58l62 2 62-3 62 2 62 2 62 2 62 1 62 2 62 0 62 1 62 6 62 8 62 35 62 44 62 23 62 13 62 1 62-10 62-18 62-38 62-40 62-19 62-15 62 2 62-15 62-6 62-7 62-4 62 6 62 11 62 44"/>
<path d="M0 134l62 6 62-4 62 6 62 6 62 5 62 4 62 8 62 2 62 6 62 15 62 23 62 92 62 106 62 49 62 37 62 4 62-37 62-54 62-93 62-92 62-4 62-59 62-6 62-19 62-30 62-18 62-9 62-11 62 47 62 98"/>
<path d="M0 329l62 12 62-10 62 11 62 10 62 12 62 8 62 12 62 1 62 8 62 27 62 62 62 207 62 206 62 75 62 81 62 0 62-111 62-123 62-186 62-181 62-49 62-33 62-43 62-46 62-59 62-64 62-1 62-4 62 69 62 244"/>
<path d="M0 112l62 5 62-2 62 3 62 6 62 3 62 2 62 3 62 0 62 5 62 12 62 17 62 69 62 88 62 45 62 33 62 7 62-30 62-47 62-70 62-73 62-23 62-44 62 17 62-34 62-16 62-22 62 3 62-5 62 18 62 113"/>
<path d="M0 278l62 8 62-9 62 8 62 4 62 11 62 8 62 8 62 1 62 10 62 25 62 51 62 183 62 182 62 68 62 62 62 5 62-66 62-103 62-160 62-186 62-19 62-33 62-42 62-39 62-87 62 0 62-25 62-2 62 38 62 239"/>
<path d="M0 62l62 2 62-2 62 1 62 3 62 1 62 2 62 3 62 0 62 2 62 5 62 6 62 36 62 46 62 26 62 19 62-2 62-10 62-20 62-38 62-44 62-16 62-5 62-10 62-8 62-14 62-17 62 7 62-3 62 11 62 57"/>
<path d="M0 61l62 1 62-2 62 1 62 1 62 3 62 1 62 3 62 1 62 2 62 7 62 9 62 36 62 46 62 24 62 12 62 5 62-21 62-19 62-40 62-36 62-24 62-13 62 6 62-20 62-8 62-5 62 0 62 3 62 13 62 46"/>
<path d="M0 169l62 4 62-7 62 4 62 3 62 5 62 7 62 5 62 4 62 1 62 17 62 26 62 105 62 128 62 54 62 28 62-3 62-42 62-57 62-92 62-108 62-16 62-54 62 8 62-58 62-15 62-11 62-24 62 3 62 56 62 115"/>
<path d="M0 70l62 4 62-2 62 3 62 2 62 1 62 2 62 1 62 0 62 2 62 6 62 9 62 40 62 52 62 34 62 27 62 0 62-22 62-29 62-45 62-44 62 4 62-29 62 0 62-32 62 2 62-11 62-7 62 0 62 17 62 52"/>
<path d="M0 146l62 7 62-4 62 5 62 4 62 7 62 6 62 6 62 3 62 6 62 20 62 34 62 102 62 119 62 50 62 24 62 2 62-28 62-57 62-102 62-91 62-40 62-48 62 7 62-43 62-37 62-23 62 5 62 17 62 24 62 125"/>
<path d="M0 134l62 3 62-4 62 4 62 5 62 4 62 3 62 5 62 2 62 1 62 15 62 22 62 86 62 102 62 47 62 31 62 2 62-37 62-49 62-83 62-79 62-26 62-8 62-18 62-20 62-41 62-20 62-11 62-2 62 36 62 96"/>
<path d="M0 163l62 4 62-5 62 5 62 5 62 6 62 3 62 5 62 2 62 6 62 18 62 31 62 107 62 122 62 51 62 32 62 7 62-43 62-51 62-98 62-116 62-32 62-59 62-16 62-8 62-39 62-26 62 20 62-9 62 40 62 138"/>
<path d="M0 53l62 2 62-1 62 1 62 3 62 2 62 1 62 2 62 1 62 1 62 5 62 5 62 30 62 41 62 24 62 23 62-3 62-13 62-23 62-32 62-36 62-13 62-14 62 0 62-14 62-4 62-16 62-1 62 6 62 9 62 45"/>
<path d="M0 5l62 0 62 0 62 0 62 0 62 0 62 1 62 0 62 0 62 0 62 0 62 1 62 2 62 4 62 3 62 2 62 0 62-2 62-2 62-3 62-3 62-1 62-1 62 0 62-1 62-1 62-1 62 0 62 0 62 1 62 4"/>
<path d="M0 15l62 0 62 0 62 1 62 0 62 1 62 0 62 1 62 0 62 0 62 2 62 1 62 9 62 12 62 6 62 4 62 0 62-3 62-5 62-10 62-10 62-8 62 3 62-5 62-2 62-1 62-2 62-2 62 0 62 3 62 13"/>
<path d="M0 100l62 2 62-3 62 3 62 4 62 4 62 3 62 4 62 1 62 3 62 12 62 17 62 68 62 81 62 41 62 18 62 4 62-36 62-42 62-63 62-65 62-11 62-34 62-7 62-12 62-23 62-10 62-6 62 7 62 15 62 93"/>
<path d="M0 46l62 2 62-1 62 2 62 1 62 2 62 2 62 2 62 1 62 1 62 5 62 6 62 28 62 37 62 21 62 10 62 4 62-17 62-18 62-30 62-29 62-12 62-7 62 1 62-13 62-7 62-11 62 0 62-3 62 16 62 38"/>
<path d="M0 140l62 7 62-2 62 6 62 5 62 8 62 6 62 8 62 1 62 4 62 15 62 23 62 94 62 103 62 53 62 29 62 12 62-42 62-55 62-94 62-81 62-19 62-42 62-10 62-30 62-38 62-29 62 1 62-1 62 48 62 101"/>
<path d="M0 246l62 7 62-9 62 6 62 9 62 8 62 5 62 10 62 2 62 12 62 24 62 44 62 160 62 174 62 71 62 50 62-7 62-47 62-82 62-155 62-159 62-81 62-27 62-24 62-58 62-21 62-36 62-11 62 10 62 54 62 192"/>
<path d="M0 53l62 2 62-1 62 2 62 1 62 2 62 1 62 2 62 1 62 1 62 6 62 7 62 32 62 42 62 25 62 17 62-1 62-20 62-25 62-31 62-32 62-16 62-2 62-13 62-12 62-1 62-6 62-10 62 5 62 9 62 49"/>
<path d="M0 235l62 7 62-7 62 5 62 6 62 7 62 3 62 10 62 2 62 10 62 22 62 47 62 149 62 159 62 65 62 46 62 6 62-69 62-77 62-135 62-153 62-52 62-57 62 20 62-62 62-29 62-42 62-4 62 9 62 42 62 182"/>
<path d="M0 135l62 6 62-3 62 7 62 6 62 6 62 3 62 5 62 2 62 4 62 16 62 22 62 89 62 112 62 44 62 33 62 10 62-46 62-49 62-87 62-100 62-13 62-46 62 11 62-28 62-50 62-16 62 3 62-4 62 43 62 114"/>
<path d="M0 42l62 1 62-1 62 2 62 1 62 1 62 1 62 1 62 1 62 2 62 5 62 7 62 27 62 34 62 20 62 12 62 1 62-11 62-17 62-29 62-30 62-12 62-10 62-12 62 2 62-6 62-5 62-4 62 0 62 12 62 37"/>
<path d="M0 189l62 9 62-5 62 4 62 10 62 6 62 5 62 11 62 2 62 9 62 22 62 38 62 137 62 151 62 60 62 52 62 7 62-58 62-69 62-133 62-143 62-12 62-69 62 4 62-46 62-47 62-32 62-3 62 13 62 33 62 165"/>
<path d="M0 92l62 2 62-4 62 1 62 2 62 2 62 1 62 3 62 0 62 3 62 7 62 12 62 51 62 64 62 36 62 23 62 7 62-24 62-29 62-59 62-54 62-20 62-39 62 14 62-14 62-12 62-15 62-3 62-4 62 17 62 73"/>
<path d="M0 273l62 10 62-9 62 9 62 9 62 7 62 6 62 11 62 6 62 7 62 28 62 54 62 184 62 179 62 75 62 53 62 25 62-92 62-103 62-154 62-161 62-28 62-93 62-18 62-47 62-49 62-38 62-37 62 20 62 64 62 220"/>
<path d="M0 49l62 2 62-2 62 2 62 2 62 2 62 2 62 2 62 1 62 1 62 5 62 6 62 27 62 36 62 21 62 18 62 3 62-15 62-20 62-30 62-32 62-14 62-8 62 3 62-11 62-15 62-7 62-1 62 1 62 13 62 40"/>
<path d="M0 154l62 5 62-3 62 5 62 5 62 4 62 4 62 3 62 2 62 7 62 17 62 29 62 109 62 121 62 59 62 23 62 2 62-42 62-50 62-108 62-110 62-35 62-23 62-6 62-24 62-41 62-17 62-13 62 13 62 24 62 119"/>
<path d="M0 274l62 6 62-7 62 6 62 11 62 8 62 8 62 11 62 3 62 8 62 26 62 57 62 183 62 187 62 56 62 43 62 21 62-95 62-103 62-154 62-157 62-33 62-50 62-34 62-34 62-33 62-89 62 5 62-2 62 54 62 246"/>
<path d="M0 89l62 3 62-2 62 4 62 4 62 3 62 3 62 4 62 2 62 3 62 9 62 13 62 56 62 72 62 36 62 28 62 3 62-29 62-33 62-61 62-61 62-12 62-46 62 8 62-18 62-12 62-8 62-5 62 1 62 20 62 75"/>
<path d="M0 17l62 0 62-1 62 1 62 0 62 1 62 0 62 1 62 0 62 0 62 2 62 2 62 9 62 12 62 8 62 7 62 0 62-6 62-6 62-11 62-9 62-3 62-2 62-2 62-4 62-4 62-3 62 0 62-1 62 3 62 15"/>
<path d="M0 28l62 1 62 0 62 0 62 2 62 0 62 1 62 1 62 0 62 1 62 3 62 4 62 17 62 21 62 13 62 11 62 1 62-10 62-11 62-18 62-18 62-1 62-12 62 1 62-4 62-6 62-5 62-4 62 1 62 5 62 23"/>
<path d="M0 128l62 5 62-4 62 4 62 3 62 5 62 1 62 5 62-1 62 6 62 14 62 20 62 84 62 95 62 48 62 22 62 5 62-34 62-49 62-78 62-78 62-28 62-28 62 17 62-9 62-64 62-13 62-13 62 11 62 15 62 107"/>
<path d="M0 190l62 7 62-4 62 6 62 6 62 8 62 4 62 9 62 3 62 8 62 25 62 38 62 125 62 143 62 66 62 54 62 2 62-62 62-71 62-123 62-128 62-64 62-34 62 8 62-10 62-75 62-12 62-17 62 11 62 39 62 152"/>
<path d="M0 223l62 6 62-6 62 7 62 8 62 10 62 11 62 10 62 5 62 4 62 28 62 48 62 161 62 171 62 54 62 48 62 0 62-78 62-83 62-138 62-156 62-48 62-38 62-9 62-29 62-76 62-15 62-21 62 13 62 58 62 167"/>
<path d="M0 33l62 1 62-2 62 1 62 1 62 1 62 1 62 2 62 1 62 1 62 4 62 4 62 22 62 29 62 16 62 9 62 0 62-13 62-13 62-21 62-23 62-10 62-11 62 2 62-8 62-2 62-5 62-2 62-1 62 4 62 34"/>
<path d="M0 234l62 3 62-11 62 5 62 1 62 7 62 1 62 6 62 0 62 9 62 23 62 40 62 136 62 137 62 81 62 57 62-11 62-46 62-79 62-137 62-133 62-44 62-62 62-46 62-15 62-29 62-13 62-3 62-8 62 60 62 160"/>
<path d="M0 26l62 0 62-1 62 0 62 1 62 1 62 0 62 2 62 0 62 1 62 2 62 3 62 15 62 19 62 12 62 7 62 0 62-5 62-7 62-17 62-18 62-5 62-12 62 2 62-2 62-3 62-7 62-2 62-1 62 10 62 19"/>
<path d="M0 229l62 3 62-6 62 6 62 7 62 7 62 7 62 7 62 3 62 7 62 27 62 45 62 147 62 156 62 65 62 27 62 20 62-65 62-76 62-142 62-132 62-39 62-49 62-29 62-18 62-80 62-10 62-4 62-9 62 42 62 187"/>
<path d="M0 64l62 4 62-2 62 2 62 3 62 2 62 2 62 2 62 1 62 1 62 9 62 10 62 40 62 53 62 23 62 15 62-1 62-18 62-26 62-41 62-40 62-14 62-22 62 6 62-7 62-21 62-10 62 1 62 1 62 8 62 59"/>
<path d="M0 203l62 7 62-7 62 6 62 8 62 7 62 8 62 10 62 3 62 5 62 21 62 32 62 128 62 147 62 56 62 46 62 8 62-49 62-81 62-121 62-121 62-36 62-50 62 24 62-62 62-51 62-24 62-16 62 1 62 49 62 149"/>
<path d="M0 15l62 1 62 0 62 0 62 1 62 0 62 1 62 1 62 0 62 0 62 2 62 2 62 10 62 13 62 8 62 5 62-1 62-4 62-6 62-10 62-11 62-6 62-3 62-3 62-2 62-2 62-3 62 2 62-2 62 5 62 12"/>
<path d="M0 223l62 7 62-6 62 6 62 6 62 9 62 7 62 8 62 4 62 7 62 26 62 49 62 151 62 165 62 58 62 40 62 1 62-56 62-78 62-132 62-151 62-78 62-31 62-33 62-16 62-37 62-5 62-41 62 11 62 51 62 180"/>
<path d="M0 67l62 3 62-2 62 3 62 2 62 3 62 2 62 2 62 1 62 2 62 6 62 9 62 41 62 54 62 27 62 15 62 7 62-15 62-24 62-44 62-50 62-24 62-11 62-17 62-4 62-11 62-3 62-2 62 0 62 17 62 50"/>
<path d="M0 180l62 8 62-7 62 9 62 7 62 5 62 3 62 6 62 2 62 4 62 17 62 30 62 111 62 125 62 50 62 38 62-1 62-49 62-60 62-105 62-97 62-23 62-67 62 14 62-34 62-42 62-10 62-33 62-14 62 74 62 135"/>
<path d="M0 43l62 1 62-1 62 1 62 2 62 2 62 1 62 1 62 1 62 1 62 3 62 4 62 24 62 32 62 19 62 14 62 1 62-12 62-13 62-29 62-30 62-13 62-4 62-6 62-6 62-8 62-4 62-1 62 0 62 11 62 31"/>
<path d="M0 66l62 2 62-2 62 2 62 2 62 2 62 1 62 2 62 1 62 1 62 6 62 7 62 37 62 50 62 29 62 21 62 1 62-19 62-26 62-38 62-43 62-1 62-26 62 9 62-9 62-18 62-20 62 0 62 1 62 11 62 53"/>
<path d="M0 47l62 1 62-2 62 1 62 1 62 2 62 0 62 2 62 0 62 2 62 6 62 6 62 29 62 38 62 20 62 15 62 1 62-13 62-18 62-31 62-33 62-11 62-8 62-5 62-8 62-7 62-9 62-1 62 4 62 6 62 43"/>
<path d="M0 92l62 3 62-3 62 3 62 3 62 3 62 2 62 2 62 1 62 3 62 10 62 11 62 54 62 70 62 45 62 30 62 0 62-31 62-39 62-55 62-64 62-5 62-37 62 18 62-21 62-21 62-15 62-12 62 10 62 20 62 73"/>
<path d="M0 225l62 10 62-6 62 10 62 9 62 9 62 6 62 9 62 3 62 8 62 23 62 42 62 152 62 172 62 64 62 61 62 16 62-78 62-83 62-149 62-141 62-87 62-55 62 22 62-71 62 19 62-83 62 25 62-24 62 66 62 174"/>
<path d="M0 129l62 4 62-7 62 5 62 3 62 5 62 4 62 5 62 2 62 3 62 13 62 20 62 79 62 95 62 49 62 34 62 9 62-50 62-49 62-84 62-78 62-22 62-19 62-24 62-1 62-41 62-17 62-2 62 3 62 36 62 107"/>
<path d="M0 275l62 9 62-8 62 7 62 9 62 7 62 9 62 9 62 3 62 2 62 25 62 42 62 172 62 179 62 66 62 60 62 5 62-77 62-117 62-146 62-172 62 13 62-86 62 27 62-77 62-30 62-77 62 22 62-17 62 55 62 186"/>
<path d="M0 212l62 5 62-10 62 2 62 4 62 8 62 6 62 9 62-1 62 8 62 18 62 33 62 126 62 138 62 64 62 65 62 0 62-64 62-79 62-132 62-129 62-31 62-77 62 20 62-58 62-17 62-19 62-10 62 7 62 26 62 159"/>
<path d="M0 149l62 5 62-7 62 6 62 3 62 3 62 4 62 3 62 0 62 7 62 16 62 24 62 93 62 114 62 52 62 41 62 1 62-49 62-56 62-95 62-89 62-54 62-13 62-8 62-19 62-40 62-18 62-3 62-4 62 39 62 127"/>
<path d="M0 232l62 6 62-4 62 10 62 9 62 7 62 3 62 9 62 0 62 12 62 23 62 40 62 148 62 165 62 61 62 69 62-3 62-62 62-78 62-151 62-148 62-43 62-44 62 10 62-58 62-56 62-9 62-43 62 12 62 59 62 169"/>
<path d="M0 68l62 3 62-2 62 2 62 2 62 1 62 0 62 3 62 0 62 2 62 9 62 8 62 42 62 53 62 30 62 22 62 0 62-20 62-27 62-42 62-46 62-15 62-25 62 1 62-14 62-12 62-7 62 2 62-6 62 17 62 56"/>
<path d="M0 92l62 3 62-4 62 1 62 1 62 4 62 4 62 6 62 3 62 2 62 10 62 13 62 59 62 68 62 35 62 24 62 1 62-30 62-35 62-58 62-54 62-20 62-26 62-11 62-11 62-17 62-9 62-4 62 1 62 22 62 76"/>
<path d="M0 259l62 12 62-6 62 13 62 7 62 7 62 4 62 6 62 0 62 8 62 26 62 51 62 172 62 181 62 68 62 41 62 9 62-82 62-93 62-158 62-143 62-23 62-82 62-4 62-64 62-16 62-63 62 0 62-12 62 61 62 229"/>
<path d="M0 30l62 1 62-1 62 1 62 0 62 1 62 1 62 1 62 0 62 1 62 4 62 4 62 18 62 23 62 14 62 8 62-1 62-5 62-11 62-21 62-18 62-7 62-5 62-2 62-12 62-2 62-7 62 2 62-1 62 6 62 24"/>
<path d="M0 27l62 1 62-1 62 1 62 0 62 1 62 1 62 1 62 1 62 0 62 3 62 3 62 15 62 22 62 12 62 4 62 1 62-5 62-10 62-17 62-19 62-5 62-4 62-3 62-6 62-6 62-3 62-1 62 1 62 4 62 20"/>
<path d="M0 120l62 4 62-5 62 4 62 3 62 3 62 3 62 4 62 0 62 3 62 12 62 17 62 74 62 88 62 42 62 29 62 9 62-35 62-46 62-69 62-73 62 0 62-58 62 10 62-15 62-46 62-14 62-9 62 9 62 22 62 103"/>
<path d="M0 10l62 1 62-1 62 1 62 0 62 0 62 0 62 1 62 0 62 0 62 1 62 1 62 5 62 8 62 5 62 3 62 0 62-3 62-3 62-7 62-6 62-3 62-1 62-3 62 0 62-2 62-1 62-1 62 0 62 2 62 8"/>
<path d="M0 62l62 2 62-2 62 2 62 3 62 2 62 2 62 2 62 1 62 2 62 6 62 8 62 40 62 47 62 28 62 15 62 4 62-24 62-22 62-40 62-36 62-14 62-17 62-5 62-18 62-3 62-9 62-3 62 5 62 0 62 61"/>
<path d="M0 6l62 0 62 0 62 0 62 0 62 0 62 0 62 1 62 0 62 0 62 0 62 1 62 3 62 5 62 3 62 2 62 0 62-2 62-2 62-4 62-3 62-1 62-2 62 0 62-1 62-2 62-1 62 0 62 1 62 1 62 4"/>
<path d="M0 250l62 11 62-9 62 11 62 10 62 6 62 6 62 8 62 5 62 8 62 31 62 52 62 169 62 173 62 69 62 62 62-2 62-77 62-98 62-150 62-155 62-42 62-61 62-27 62-60 62-22 62-11 62-12 62-29 62 71 62 181"/>
<path d="M0 173l62 4 62-8 62 5 62 4 62 6 62 4 62 7 62 1 62 8 62 21 62 29 62 111 62 127 62 55 62 56 62-4 62-60 62-64 62-105 62-101 62-37 62-50 62-14 62-27 62-41 62-3 62-10 62 10 62 28 62 133"/>
<path d="M0 220l62 10 62-8 62 6 62 10 62 7 62 9 62 10 62 6 62 6 62 19 62 38 62 146 62 163 62 61 62 59 62 3 62-82 62-94 62-141 62-133 62-44 62-47 62-25 62-26 62-18 62-51 62-7 62-2 62 57 62 168"/>
<path d="M0 224l62 7 62-8 62 6 62 7 62 6 62 4 62 6 62 1 62 8 62 26 62 40 62 140 62 150 62 62 62 48 62 21 62-73 62-76 62-133 62-130 62-11 62-62 62-25 62-48 62-22 62-43 62 0 62-14 62 66 62 152"/>
<path d="M0 77l62 3 62-2 62 3 62 2 62 3 62 3 62 2 62 2 62 2 62 8 62 9 62 48 62 62 62 31 62 20 62 6 62-27 62-26 62-54 62-51 62-20 62-17 62 4 62-18 62-21 62-6 62 0 62 2 62 4 62 68"/>
<path d="M0 5l62 0 62-1 62 1 62 0 62 0 62 0 62 0 62 0 62 0 62 1 62 0 62 3 62 3 62 2 62 2 62 0 62-1 62-2 62-3 62-3 62-1 62-1 62-1 62 0 62-1 62-1 62 0 62 0 62 2 62 3"/>
<path d="M0 245l62 14 62-4 62 12 62 13 62 7 62 10 62 5 62 4 62 11 62 27 62 52 62 182 62 194 62 69 62 83 62 0 62-81 62-103 62-162 62-159 62-63 62-49 62 21 62-116 62 2 62-71 62-3 62 1 62 47 62 229"/>
<path d="M0 275l62 8 62-8 62 7 62 6 62 12 62 12 62 14 62 5 62 9 62 36 62 68 62 213 62 220 62 64 62 44 62-15 62-45 62-115 62-177 62-169 62-70 62-78 62-25 62-29 62-97 62-23 62-15 62 7 62 71 62 210"/>
<path d="M0 195l62 7 62-8 62 7 62 6 62 8 62 6 62 9 62 0 62 6 62 22 62 41 62 127 62 153 62 54 62 40 62 7 62-61 62-71 62-116 62-126 62-47 62-52 62-19 62-29 62-30 62-18 62-20 62-6 62 70 62 140"/>
<path d="M0 216l62 5 62-7 62 4 62 6 62 10 62 5 62 13 62 0 62 6 62 26 62 42 62 146 62 163 62 54 62 30 62 2 62-59 62-74 62-128 62-143 62-35 62-70 62 11 62-49 62-33 62-26 62-13 62-3 62 44 62 179"/>
<path d="M0 268l62 8 62-10 62 9 62 8 62 9 62 9 62 7 62 3 62 10 62 26 62 50 62 166 62 179 62 76 62 65 62 3 62-79 62-93 62-146 62-166 62-30 62-8 62-52 62-54 62-50 62-59 62-18 62-11 62 80 62 201"/>
<path d="M0 92l62 5 62-3 62 4 62 4 62 3 62 3 62 3 62 2 62 3 62 9 62 12 62 55 62 67 62 43 62 30 62 4 62-33 62-39 62-55 62-60 62-14 62-24 62-13 62-12 62-23 62-1 62-11 62 1 62 21 62 78"/>
<path d="M0 241l62 9 62-4 62 7 62 9 62 7 62 5 62 7 62 1 62 8 62 23 62 48 62 154 62 170 62 80 62 33 62 14 62-73 62-91 62-146 62-142 62-50 62-80 62-5 62-20 62-39 62-46 62-2 62-7 62 55 62 191"/>
<path d="M0 73l62 3 62-2 62 3 62 3 62 3 62 3 62 3 62 2 62 2 62 8 62 11 62 45 62 58 62 29 62 24 62 4 62-27 62-24 62-49 62-50 62-17 62-15 62-1 62-24 62-14 62-5 62-3 62-9 62 20 62 66"/>
<path d="M0 234l62 6 62-6 62 5 62 6 62 10 62 6 62 9 62 0 62 14 62 28 62 56 62 168 62 177 62 62 62 35 62 9 62-77 62-86 62-147 62-151 62-27 62-85 62-25 62-5 62-48 62-41 62-29 62 26 62 49 62 178"/>
<path d="M0 179l62 7 62-6 62 6 62 5 62 9 62 4 62 8 62 2 62 8 62 17 62 31 62 110 62 126 62 54 62 36 62 2 62-43 62-67 62-107 62-100 62-33 62-78 62 34 62-42 62-21 62-26 62-16 62 0 62 38 62 140"/>
<path d="M0 193l62 7 62-5 62 6 62 5 62 8 62 9 62 7 62 6 62 6 62 22 62 35 62 126 62 142 62 57 62 48 62-6 62-50 62-78 62-118 62-117 62-79 62-25 62-28 62 8 62-62 62-3 62-24 62 16 62 32 62 153"/>
<path d="M0 93l62 3 62-4 62 3 62 2 62 4 62 2 62 4 62 1 62 3 62 10 62 13 62 54 62 69 62 39 62 28 62 0 62-26 62-37 62-57 62-53 62-30 62-4 62-26 62 6 62-25 62-16 62-6 62-6 62 24 62 76"/>
<path d="M0 241l62 13 62-6 62 9 62 11 62 8 62 8 62 7 62 3 62 10 62 26 62 51 62 165 62 184 62 59 62 57 62-3 62-65 62-104 62-131 62-156 62-96 62-9 62-61 62 16 62-36 62-75 62-9 62 7 62 64 62 190"/>
<path d="M0 4l62 0 62 0 62 0 62 0 62 0 62 0 62 0 62 0 62 1 62 0 62 0 62 2 62 3 62 2 62 1 62 0 62-2 62-1 62-2 62-2 62-1 62-1 62-1 62-1 62 0 62 0 62 0 62 0 62 1 62 3"/>
<path d="M0 148l62 4 62-7 62 3 62 4 62 4 62 3 62 5 62 3 62 4 62 16 62 22 62 89 62 111 62 45 62 34 62 1 62-41 62-56 62-85 62-86 62-12 62-47 62-14 62-13 62-47 62-19 62 8 62-10 62 58 62 106"/>
<path d="M0 157l62 4 62-6 62 5 62 2 62 5 62 2 62 5 62 0 62 5 62 16 62 24 62 99 62 120 62 51 62 42 62 10 62-48 62-48 62-94 62-106 62-52 62-42 62 11 62-33 62-9 62-25 62-8 62 9 62 9 62 138"/>
<path d="M0 139l62 4 62-6 62 4 62 5 62 5 62 2 62 6 62 1 62 9 62 16 62 25 62 86 62 108 62 50 62 43 62 8 62-55 62-53 62-86 62-88 62-14 62-43 62-30 62 9 62-36 62-17 62-11 62-2 62 42 62 107"/>
<path d="M0 134l62 5 62-4 62 7 62 4 62 6 62 5 62 7 62 3 62 4 62 13 62 22 62 83 62 94 62 47 62 35 62-4 62-25 62-54 62-76 62-91 62-37 62-18 62 3 62-50 62-19 62-25 62-8 62 21 62 33 62 87"/>
<path d="M0 100l62 3 62-4 62 3 62 2 62 2 62 4 62 4 62 1 62 3 62 11 62 14 62 60 62 77 62 41 62 25 62 8 62-28 62-37 62-66 62-75 62-23 62-33 62-3 62-7 62-21 62-16 62 9 62-3 62 21 62 87"/>
<path d="M0 238l62 6 62-10 62 8 62 4 62 9 62 5 62 8 62 2 62 12 62 28 62 43 62 144 62 159 62 64 62 63 62 24 62-87 62-82 62-140 62-150 62-40 62-65 62-23 62-13 62-54 62-45 62 28 62-21 62 66 62 179"/>
<path d="M0 242l62 7 62-6 62 9 62 7 62 9 62 6 62 9 62 2 62 9 62 22 62 44 62 148 62 162 62 60 62 62 62 7 62-78 62-87 62-146 62-150 62-51 62-58 62 7 62-42 62-62 62 1 62-27 62 14 62 26 62 198"/>
<path d="M0 245l62 12 62-7 62 8 62 8 62 9 62 9 62 10 62 4 62 9 62 31 62 51 62 162 62 167 62 66 62 60 62 25 62-96 62-100 62-150 62-138 62-62 62-74 62 51 62-49 62-67 62-46 62-3 62-12 62 51 62 195"/>
<path d="M0 136l62 2 62-5 62 4 62 3 62 5 62 3 62 4 62 4 62 2 62 16 62 19 62 80 62 90 62 50 62 29 62 9 62-39 62-47 62-79 62-81 62-25 62-53 62-5 62-15 62-18 62-20 62 9 62-16 62 20 62 120"/>
<path d="M0 125l62 3 62-7 62 1 62 3 62 4 62 4 62 4 62 2 62 4 62 14 62 18 62 78 62 92 62 48 62 30 62 1 62-27 62-38 62-83 62-82 62-30 62-27 62-17 62-11 62-37 62-5 62-13 62-2 62 33 62 104"/>
<path d="M0 269l62 10 62-9 62 9 62 7 62 11 62 8 62 12 62 7 62 7 62 32 62 63 62 191 62 188 62 64 62 48 62 1 62-78 62-104 62-172 62-167 62-57 62-49 62-22 62-47 62-44 62-32 62-17 62 15 62 77 62 177"/>
<path d="M0 92l62 3 62-3 62 4 62 4 62 3 62 2 62 4 62 1 62 4 62 10 62 13 62 53 62 67 62 38 62 15 62 3 62-19 62-34 62-60 62-53 62-26 62-18 62-22 62-12 62 0 62-21 62-4 62-10 62 39 62 67"/>
<path d="M0 7l62 0 62 0 62 0 62 0 62 0 62 0 62 0 62 1 62 0 62 0 62 1 62 3 62 5 62 4 62 2 62 0 62-2 62-2 62-5 62-3 62-2 62-2 62-1 62 0 62-2 62 0 62-1 62 1 62 1 62 5"/>
<path d="M0 132l62 6 62-5 62 5 62 4 62 5 62 1 62 5 62 2 62 5 62 16 62 22 62 83 62 104 62 48 62 30 62 1 62-32 62-45 62-85 62-79 62-15 62-26 62 3 62-38 62-45 62-20 62-16 62-2 62 51 62 99"/>
<path d="M0 11l62 0 62 0 62 0 62 1 62 0 62 0 62 0 62 0 62 1 62 1 62 1 62 6 62 9 62 5 62 4 62 0 62-3 62-4 62-7 62-7 62-1 62-3 62 1 62-4 62-2 62-3 62 0 62 0 62 3 62 8"/>
<path d="M0 235l62 9 62-9 62 8 62 5 62 10 62 4 62 9 62 2 62 8 62 25 62 39 62 145 62 165 62 73 62 64 62 3 62-69 62-92 62-141 62-154 62-34 62-10 62-78 62-20 62-29 62-26 62-12 62 14 62 62 62 162"/>
<path d="M0 130l62 3 62-5 62 2 62 3 62 4 62 3 62 5 62 1 62 5 62 16 62 21 62 81 62 97 62 50 62 43 62-4 62-39 62-49 62-82 62-85 62-17 62-36 62-13 62-18 62-34 62-16 62-5 62 21 62 25 62 103"/>
<path d="M0 146l62 6 62-5 62 6 62 7 62 5 62 5 62 6 62 3 62 3 62 11 62 22 62 91 62 110 62 50 62 30 62 4 62-39 62-49 62-95 62-102 62-19 62-54 62 11 62-31 62-22 62-19 62 1 62-11 62 36 62 101"/>
<path d="M0 290l62 11 62-9 62 8 62 6 62 15 62 12 62 13 62 5 62 6 62 34 62 69 62 198 62 216 62 40 62 52 62-5 62-69 62-91 62-181 62-184 62-57 62-46 62-18 62-17 62-86 62-50 62-26 62 9 62 59 62 221"/>
<path d="M0 278l62 13 62-5 62 10 62 11 62 14 62 8 62 10 62 8 62 2 62 31 62 58 62 203 62 212 62 54 62 44 62 1 62-88 62-105 62-173 62-164 62-92 62-54 62-19 62-4 62-59 62-33 62-30 62 41 62 46 62 223"/>
<path d="M0 100l62 3 62-3 62 3 62 3 62 4 62 3 62 4 62 1 62 5 62 11 62 14 62 63 62 73 62 38 62 31 62-2 62-21 62-39 62-66 62-68 62-21 62-35 62 4 62-13 62-31 62-5 62-5 62 6 62 24 62 76"/>
<path d="M0 83l62 4 62-3 62 4 62 4 62 2 62 3 62 2 62 2 62 3 62 9 62 10 62 49 62 60 62 38 62 26 62 3 62-27 62-34 62-54 62-51 62-19 62-32 62 6 62-12 62-24 62-11 62-5 62 5 62 20 62 71"/>
<path d="M0 266l62 5 62-11 62 7 62 8 62 7 62 4 62 11 62 3 62 9 62 30 62 52 62 179 62 189 62 47 62 51 62 11 62-76 62-85 62-160 62-167 62-47 62-53 62 6 62-65 62-44 62-44 62-7 62-3 62 43 62 212"/>
<path d="M0 83l62 2 62-3 62 3 62 2 62 3 62 2 62 4 62 2 62 1 62 9 62 10 62 45 62 58 62 36 62 25 62-2 62-26 62-31 62-48 62-47 62-29 62-20 62-6 62 0 62-12 62-20 62 1 62 0 62 18 62 63"/>
<path d="M0 148l62 6 62-4 62 6 62 6 62 6 62 3 62 9 62 2 62 4 62 17 62 26 62 99 62 112 62 44 62 36 62-1 62-45 62-58 62-95 62-94 62 6 62-36 62-19 62-53 62-17 62-11 62-25 62 13 62 25 62 118"/>
<path d="M0 74l62 3 62-1 62 2 62 3 62 3 62 3 62 4 62 3 62 2 62 9 62 10 62 45 62 56 62 34 62 24 62 4 62-29 62-30 62-49 62-51 62-11 62-18 62-7 62-17 62 2 62-24 62-9 62 5 62 13 62 72"/>
<path d="M0 222l62 6 62-8 62 6 62 8 62 6 62 6 62 7 62 3 62 7 62 23 62 40 62 137 62 150 62 61 62 58 62-4 62-54 62-82 62-137 62-129 62-35 62-67 62 6 62-45 62-31 62-36 62 3 62-11 62 40 62 182"/>
<path d="M0 163l62 8 62-5 62 6 62 7 62 6 62 5 62 9 62 4 62 3 62 21 62 28 62 113 62 124 62 52 62 44 62 1 62-47 62-58 62-108 62-99 62-35 62-61 62-14 62-14 62-31 62-32 62-6 62-6 62 47 62 134"/>
<path d="M0 293l62 11 62-6 62 7 62 10 62 12 62 5 62 14 62 2 62 10 62 34 62 67 62 198 62 192 62 69 62 41 62 3 62-71 62-88 62-185 62-182 62-108 62-66 62 18 62-58 62-47 62-23 62-10 62 11 62 75 62 211"/>
<path d="M0 295l62 14 62-8 62 13 62 12 62 12 62 12 62 10 62 6 62 11 62 36 62 70 62 201 62 209 62 71 62 68 62 6 62-96 62-117 62-185 62-179 62-45 62-101 62-8 62-59 62-58 62-55 62 16 62-3 62 70 62 216"/>
<path d="M0 32l62 1 62-1 62 2 62 1 62 0 62 1 62 1 62 0 62 0 62 3 62 2 62 17 62 24 62 15 62 10 62 1 62-10 62-11 62-20 62-21 62-3 62-11 62 3 62-3 62-8 62-10 62 0 62-2 62 12 62 27"/>
<path d="M0 281l62 3 62-12 62 5 62 3 62 9 62 7 62 9 62 2 62 8 62 36 62 59 62 185 62 194 62 57 62 54 62 5 62-71 62-100 62-155 62-164 62-20 62-92 62 18 62-51 62-65 62-71 62-1 62 2 62 37 62 237"/>
<path d="M0 36l62 1 62-1 62 2 62 1 62 2 62 0 62 2 62 0 62 2 62 3 62 3 62 21 62 28 62 20 62 13 62 0 62-14 62-16 62-21 62-25 62-1 62-18 62 2 62-6 62-5 62-9 62 1 62 1 62 10 62 27"/>
<path d="M0 51l62 2 62-2 62 1 62 1 62 2 62 1 62 2 62-1 62 2 62 5 62 5 62 29 62 37 62 22 62 20 62-2 62-12 62-21 62-32 62-30 62-19 62-5 62-1 62-8 62-10 62-4 62-7 62 2 62 10 62 40"/>
<path d="M0 51l62 1 62-1 62 1 62 1 62 1 62 1 62 2 62 1 62 1 62 6 62 4 62 28 62 36 62 22 62 16 62 3 62-16 62-18 62-33 62-33 62-5 62-6 62-15 62-1 62-15 62-5 62 1 62 0 62 11 62 38"/>
<path d="M0 120l62 4 62-2 62 4 62 6 62 3 62 3 62 5 62 1 62 5 62 12 62 18 62 79 62 95 62 51 62 37 62 0 62-38 62-45 62-80 62-81 62-11 62-32 62 4 62-48 62-7 62-39 62 6 62 6 62 21 62 111"/>
<path d="M0 103l62 4 62-4 62 3 62 4 62 3 62 3 62 6 62 0 62 2 62 10 62 15 62 62 62 82 62 37 62 23 62 6 62-31 62-42 62-63 62-63 62-22 62-33 62 12 62-28 62-16 62-12 62-5 62 1 62 4 62 109"/>
<path d="M0 60l62 2 62-2 62 3 62 1 62 3 62 1 62 1 62 2 62 1 62 6 62 7 62 36 62 44 62 22 62 24 62-1 62-20 62-25 62-37 62-36 62-9 62-19 62-2 62-6 62-17 62-2 62-4 62-5 62 18 62 46"/>
<path d="M0 87l62 2 62-2 62 2 62 3 62 3 62 1 62 3 62 2 62 1 62 10 62 12 62 55 62 67 62 31 62 18 62 2 62-30 62-23 62-54 62-50 62-40 62-8 62-6 62-22 62-8 62-12 62-2 62 1 62 13 62 72"/>
<path d="M0 229l62 9 62-9 62 8 62 10 62 6 62 3 62 5 62 3 62 7 62 25 62 50 62 159 62 179 62 59 62 43 62 8 62-52 62-90 62-145 62-142 62-20 62-72 62 14 62-46 62-60 62-58 62-10 62 19 62 53 62 188"/>
<path d="M0 304l62 11 62-8 62 11 62 9 62 13 62 9 62 12 62 2 62 13 62 35 62 70 62 203 62 205 62 63 62 42 62-3 62-64 62-106 62-182 62-192 62-50 62-76 62-1 62-92 62-19 62-64 62 19 62-9 62 73 62 224"/>
<path d="M0 142l62 4 62-3 62 5 62 6 62 2 62 3 62 6 62-2 62 9 62 17 62 25 62 88 62 104 62 54 62 47 62 5 62-42 62-57 62-89 62-88 62-38 62-25 62 2 62-19 62-44 62-27 62-14 62 9 62 25 62 106"/>
<path d="M0 167l62 7 62-6 62 6 62 6 62 6 62 2 62 7 62 4 62 5 62 17 62 27 62 111 62 126 62 59 62 45 62 4 62-60 62-53 62-114 62-107 62-53 62-21 62-10 62-20 62-46 62-4 62-20 62-4 62 55 62 130"/>
<path d="M0 32l62 1 62-1 62 0 62 2 62 0 62 0 62 1 62 0 62 2 62 4 62 6 62 20 62 25 62 14 62 5 62 1 62-6 62-11 62-21 62-22 62-5 62-8 62-1 62-5 62-7 62-7 62-3 62 4 62 5 62 26"/>
<path d="M0 195l62 7 62-8 62 7 62 7 62 4 62 2 62 6 62-1 62 10 62 23 62 35 62 129 62 139 62 63 62 48 62 9 62-73 62-76 62-120 62-111 62-54 62-70 62 13 62-8 62-48 62-21 62-16 62-12 62 70 62 158"/>
<path d="M0 25l62 1 62-1 62 1 62 1 62 1 62 0 62 1 62 0 62 1 62 2 62 3 62 13 62 20 62 12 62 11 62-1 62-8 62-10 62-15 62-16 62-4 62-3 62 1 62-12 62-4 62-4 62-1 62 0 62 3 62 24"/>
<path d="M0 240l62 11 62-4 62 6 62 11 62 8 62 3 62 8 62 1 62 8 62 23 62 47 62 161 62 172 62 55 62 38 62 5 62-46 62-72 62-153 62-145 62-51 62-83 62-31 62-23 62-39 62-46 62 29 62 0 62 55 62 163"/>
<path d="M0 55l62 2 62-2 62 3 62 1 62 2 62 1 62 3 62 1 62 2 62 6 62 7 62 34 62 44 62 26 62 20 62 0 62-14 62-24 62-38 62-37 62-7 62-15 62-10 62-15 62-9 62-2 62-1 62-3 62 12 62 53"/>
<path d="M0 4l62 0 62 0 62 0 62 1 62 0 62 0 62 0 62 0 62 0 62 1 62 0 62 3 62 3 62 2 62 2 62 0 62-2 62-1 62-3 62-3 62-1 62-1 62 0 62-1 62-1 62-1 62 1 62-1 62 1 62 4"/>
<path d="M0 137l62 4 62-3 62 4 62 6 62 5 62 5 62 9 62 3 62 4 62 13 62 18 62 87 62 98 62 57 62 36 62 2 62-45 62-46 62-92 62-81 62-24 62-42 62 10 62-21 62-33 62-24 62-14 62-7 62 34 62 109"/>
<path d="M0 39l62 1 62-2 62 1 62 2 62 0 62 1 62 1 62 0 62 2 62 4 62 5 62 21 62 29 62 16 62 10 62 0 62-12 62-13 62-23 62-22 62-7 62-16 62 2 62-8 62-2 62-8 62-1 62-2 62 9 62 32"/>
<path d="M0 234l62 7 62-7 62 8 62 8 62 8 62 5 62 12 62 2 62 6 62 22 62 41 62 145 62 166 62 72 62 56 62 18 62-93 62-93 62-130 62-159 62-24 62-57 62-4 62-29 62-53 62-42 62-6 62 7 62 75 62 148"/>
<path d="M0 88l62 3 62-2 62 3 62 3 62 3 62 2 62 3 62 1 62 2 62 7 62 11 62 54 62 69 62 35 62 27 62 2 62-21 62-32 62-58 62-56 62-39 62-8 62-5 62-25 62-4 62-22 62 17 62-2 62 23 62 67"/>
<path d="M0 221l62 6 62-8 62 5 62 6 62 7 62 7 62 8 62 3 62 6 62 16 62 35 62 133 62 150 62 61 62 52 62 1 62-66 62-73 62-131 62-125 62-36 62-4 62-57 62-23 62-54 62-40 62 1 62-5 62 47 62 172"/>
<path d="M0 71l62 2 62-4 62 2 62 1 62 3 62 1 62 1 62 2 62 3 62 8 62 9 62 43 62 56 62 28 62 18 62 2 62-19 62-24 62-46 62-45 62-27 62-2 62-13 62 1 62-22 62-12 62-3 62 1 62 9 62 59"/>
<path d="M0 142l62 4 62-3 62 6 62 6 62 4 62 3 62 4 62 0 62 5 62 15 62 23 62 84 62 105 62 50 62 34 62 1 62-44 62-52 62-78 62-83 62-18 62-27 62-17 62-19 62-39 62-28 62 1 62-12 62 34 62 121"/>
<path d="M0 70l62 2 62-1 62 1 62 3 62 2 62 0 62 3 62 0 62 3 62 6 62 9 62 39 62 52 62 33 62 23 62-3 62-13 62-22 62-48 62-47 62-7 62-22 62 0 62-18 62-9 62-15 62-10 62 5 62 19 62 51"/>
<path d="M0 246l62 9 62-6 62 9 62 6 62 15 62 9 62 13 62 7 62 11 62 24 62 43 62 164 62 181 62 68 62 70 62 6 62-100 62-94 62-160 62-152 62-21 62-75 62-57 62-15 62-55 62-11 62-11 62 0 62 48 62 198"/>
<path d="M0 269l62 9 62-9 62 10 62 10 62 8 62 6 62 9 62 4 62 9 62 29 62 57 62 177 62 186 62 63 62 47 62 15 62-87 62-87 62-174 62-154 62-109 62-22 62-36 62-28 62-21 62-40 62-4 62-1 62 49 62 218"/>
<path d="M0 27l62 1 62-1 62 1 62 0 62 1 62 1 62 0 62 0 62 1 62 3 62 3 62 16 62 20 62 12 62 8 62 0 62-8 62-10 62-18 62-16 62-5 62-6 62-6 62-1 62-7 62-2 62-1 62 0 62 8 62 19"/>
<path d="M0 179l62 6 62-5 62 5 62 6 62 6 62 4 62 7 62 1 62 4 62 18 62 30 62 117 62 141 62 53 62 47 62 2 62-66 62-66 62-107 62-100 62-30 62-72 62 49 62-88 62-26 62-6 62-30 62 29 62 22 62 148"/>
<path d="M0 69l62 3 62-2 62 3 62 2 62 3 62 2 62 2 62 2 62 2 62 7 62 10 62 43 62 53 62 30 62 18 62 0 62-14 62-25 62-43 62-40 62-19 62-13 62-13 62-16 62-11 62-9 62-2 62-5 62 13 62 60"/>
<path d="M0 111l62 3 62-4 62 4 62 2 62 6 62 2 62 7 62 0 62 5 62 10 62 19 62 68 62 82 62 43 62 24 62-6 62-27 62-40 62-73 62-65 62-10 62-22 62-5 62-21 62-36 62-13 62 0 62-5 62 26 62 84"/>
<path d="M0 290l62 10 62-6 62 14 62 11 62 12 62 10 62 13 62 6 62 6 62 31 62 66 62 208 62 208 62 57 62 48 62 15 62-69 62-107 62-185 62-167 62-80 62-41 62-14 62-54 62-76 62-37 62-1 62 8 62-6 62 263"/>
<path d="M0 158l62 4 62-6 62 4 62 3 62 6 62 4 62 8 62 4 62 3 62 16 62 30 62 98 62 120 62 51 62 28 62 9 62-44 62-48 62-97 62-97 62-34 62-40 62-8 62-26 62-28 62-24 62-13 62-16 62 40 62 124"/>
<path d="M0 85l62 4 62-3 62 3 62 2 62 3 62 2 62 2 62 1 62 3 62 10 62 12 62 53 62 66 62 33 62 20 62 3 62-18 62-33 62-55 62-57 62-28 62-23 62 14 62-24 62-25 62-4 62-6 62 12 62 9 62 72"/>
<path d="M0 251l62 9 62-10 62 8 62 7 62 9 62 8 62 9 62 1 62 7 62 27 62 52 62 164 62 177 62 64 62 35 62 21 62-88 62-87 62-140 62-158 62-28 62-39 62-33 62 0 62-75 62-48 62-22 62 28 62 0 62 218"/>
<path d="M0 145l62 4 62-4 62 5 62 3 62 7 62 5 62 5 62 2 62 2 62 10 62 16 62 85 62 105 62 54 62 53 62 4 62-42 62-60 62-89 62-86 62-25 62-30 62 8 62-45 62-37 62 0 62-27 62 10 62 30 62 116"/>
<path d="M0 287l62 10 62-10 62 9 62 8 62 8 62 5 62 6 62-1 62 12 62 37 62 72 62 200 62 197 62 56 62 40 62 14 62-69 62-95 62-172 62-179 62-64 62-32 62-27 62-109 62 4 62-57 62-3 62 0 62 28 62 243"/>
<path d="M0 83l62 2 62-2 62 2 62 2 62 4 62 3 62 5 62 2 62 2 62 10 62 11 62 53 62 68 62 36 62 23 62 5 62-34 62-35 62-52 62-53 62-17 62-19 62 4 62-13 62-33 62-9 62-1 62 0 62 15 62 72"/>
<path d="M0 61l62 2 62-2 62 3 62 1 62 2 62 1 62 2 62 0 62 3 62 6 62 7 62 39 62 50 62 27 62 16 62 1 62-19 62-22 62-40 62-41 62-6 62-11 62-5 62-14 62-14 62-11 62-3 62-1 62 17 62 49"/>
<path d="M0 109l62 4 62-3 62 4 62 4 62 5 62 3 62 6 62 3 62 3 62 11 62 18 62 69 62 80 62 46 62 34 62-6 62-24 62-41 62-67 62-71 62-35 62-24 62-7 62-25 62-15 62-13 62 2 62-11 62 23 62 100"/>
<path d="M0 140l62 8 62 0 62 6 62 8 62 6 62 5 62 5 62 4 62 2 62 13 62 23 62 86 62 101 62 54 62 51 62 2 62-53 62-62 62-90 62-78 62-35 62-38 62-15 62-25 62-29 62-7 62-10 62 8 62 24 62 132"/>
<path d="M0 203l62 8 62-5 62 6 62 7 62 9 62 5 62 12 62 3 62 5 62 20 62 30 62 133 62 142 62 63 62 56 62-12 62-43 62-67 62-127 62-134 62-53 62-36 62-14 62-39 62-33 62-21 62-21 62 10 62 46 62 163"/>
<path d="M0 27l62 1 62-1 62 1 62 1 62 1 62 0 62 1 62 0 62 1 62 3 62 4 62 16 62 22 62 12 62 7 62 0 62-7 62-10 62-18 62-17 62-3 62-6 62-2 62-7 62-7 62-4 62-1 62-1 62 6 62 25"/>
<path d="M0 288l62 8 62-9 62 5 62 5 62 13 62 10 62 11 62 5 62 4 62 32 62 59 62 204 62 217 62 44 62 54 62-2 62-78 62-99 62-167 62-161 62-94 62-23 62-49 62-22 62-62 62-31 62-24 62 13 62 59 62 214"/>
<path d="M0 60l62 2 62-2 62 1 62 1 62 2 62 2 62 2 62 0 62 2 62 8 62 9 62 35 62 44 62 24 62 17 62 0 62-18 62-22 62-38 62-37 62-18 62-9 62-7 62-10 62-5 62-8 62-3 62 2 62 10 62 52"/>
<path d="M0 191l62 6 62-6 62 5 62 6 62 6 62 7 62 10 62 1 62 7 62 21 62 30 62 121 62 135 62 58 62 53 62 10 62-49 62-81 62-115 62-118 62-50 62-26 62 4 62-44 62-49 62-44 62 17 62-15 62 49 62 147"/>
<path d="M0 113l62 5 62-4 62 4 62 4 62 3 62 2 62 4 62 1 62 3 62 12 62 16 62 72 62 90 62 39 62 30 62 8 62-43 62-38 62-66 62-74 62-35 62-8 62-15 62-20 62-24 62-16 62-5 62 4 62 25 62 88"/>
<path d="M0 99l62 4 62-2 62 3 62 5 62 3 62 1 62 3 62 0 62 2 62 10 62 16 62 61 62 83 62 37 62 25 62-3 62-31 62-35 62-64 62-58 62-19 62-27 62-1 62-18 62-16 62-19 62 6 62-14 62 25 62 89"/>
<path d="M0 53l62 2 62-2 62 2 62 2 62 1 62 2 62 3 62 0 62 2 62 5 62 8 62 33 62 43 62 24 62 16 62-1 62-14 62-23 62-33 62-32 62-19 62-12 62-11 62 0 62-10 62-8 62-3 62 2 62 10 62 46"/>
<path d="M0 233l62 9 62-7 62 7 62 10 62 7 62 3 62 11 62 0 62 6 62 25 62 38 62 142 62 160 62 64 62 47 62-1 62-52 62-72 62-150 62-138 62-35 62-67 62-10 62-51 62-10 62-44 62-14 62 25 62 16 62 184"/>
<path d="M0 152l62 7 62-7 62 6 62 5 62 6 62 2 62 6 62 2 62 2 62 15 62 23 62 94 62 109 62 57 62 32 62 5 62-48 62-50 62-96 62-82 62-58 62-33 62 19 62-50 62-28 62 0 62-16 62 13 62 34 62 110"/>
<path d="M0 3l62 1 62-1 62 1 62 0 62 0 62 0 62 0 62 0 62 0 62 0 62 1 62 2 62 2 62 2 62 1 62 0 62-1 62-1 62-2 62-2 62-1 62 0 62-1 62 0 62-1 62-1 62 0 62 0 62 0 62 4"/>
<path d="M0 32l62 1 62-1 62 0 62 1 62 1 62 1 62 1 62 1 62 1 62 3 62 4 62 20 62 26 62 14 62 9 62 0 62-11 62-14 62-18 62-20 62-10 62-10 62-1 62 0 62-9 62-3 62-4 62 3 62 7 62 27"/>
<path d="M0 231l62 7 62-9 62 4 62 6 62 7 62 4 62 6 62 0 62 8 62 24 62 39 62 145 62 166 62 48 62 51 62 11 62-45 62-72 62-143 62-145 62-60 62-39 62-44 62-15 62-42 62-20 62-10 62 5 62 51 62 175"/>
<path d="M0 254l62 9 62-5 62 9 62 14 62 6 62 6 62 9 62 4 62 7 62 22 62 51 62 176 62 198 62 65 62 41 62 12 62-72 62-83 62-159 62-158 62-36 62-69 62-33 62-34 62-71 62-26 62 0 62-28 62 61 62 229"/>
<path d="M0 137l62 4 62-4 62 4 62 2 62 6 62 4 62 5 62 3 62 3 62 13 62 20 62 84 62 100 62 50 62 41 62-2 62-39 62-42 62-88 62-79 62-32 62-30 62-4 62-25 62-32 62-27 62-5 62-5 62 49 62 103"/>
<path d="M0 111l62 2 62-6 62 3 62 2 62 4 62 1 62 5 62 1 62 2 62 10 62 15 62 66 62 80 62 39 62 33 62-3 62-28 62-35 62-69 62-70 62-32 62-15 62-14 62-27 62-10 62-11 62-3 62 1 62 27 62 83"/>
<path d="M0 123l62 6 62-4 62 5 62 7 62 2 62 4 62 5 62 2 62 3 62 11 62 19 62 74 62 94 62 44 62 34 62 9 62-46 62-47 62-78 62-77 62-34 62-21 62-13 62-22 62-9 62-31 62 14 62-13 62 44 62 88"/>
<path d="M0 107l62 3 62-5 62 4 62 2 62 4 62 2 62 4 62 2 62 4 62 10 62 15 62 66 62 78 62 37 62 24 62 1 62-29 62-37 62-68 62-65 62-18 62-18 62-7 62-21 62-24 62-20 62-3 62 5 62 28 62 76"/>
<path d="M0 37l62 2 62-2 62 1 62 2 62 1 62 1 62 2 62 0 62 1 62 4 62 4 62 22 62 29 62 19 62 15 62-2 62-13 62-14 62-25 62-24 62-9 62-4 62-5 62-5 62-7 62-9 62 0 62 0 62 8 62 30"/>
<path d="M0 134l62 3 62-3 62 4 62 5 62 5 62 2 62 7 62 2 62 5 62 13 62 24 62 84 62 102 62 43 62 29 62 2 62-38 62-47 62-86 62-80 62-11 62-63 62-12 62-1 62-25 62-20 62-2 62-4 62 20 62 115"/>
<path d="M0 57l62 2 62-2 62 1 62 1 62 2 62 2 62 2 62 1 62 2 62 6 62 7 62 33 62 44 62 26 62 21 62-2 62-17 62-23 62-38 62-35 62-19 62-5 62-13 62-5 62-2 62-18 62 3 62 1 62 11 62 46"/>
<path d="M0 166l62 5 62-5 62 6 62 5 62 5 62 6 62 8 62 1 62 7 62 16 62 28 62 100 62 114 62 62 62 49 62-5 62-49 62-60 62-105 62-79 62-54 62-42 62-16 62-30 62-32 62-8 62-11 62-8 62 45 62 136"/>
<path d="M0 246l62 8 62-6 62 8 62 11 62 11 62 3 62 13 62 4 62 8 62 26 62 49 62 170 62 181 62 64 62 51 62 18 62-80 62-89 62-158 62-154 62-32 62-43 62-31 62-93 62-25 62-48 62 27 62-5 62 53 62 189"/>
<path d="M0 179l62 3 62-4 62 3 62 5 62 5 62 5 62 5 62-1 62 8 62 20 62 29 62 111 62 129 62 50 62 57 62-2 62-58 62-75 62-107 62-99 62-47 62-48 62 14 62-36 62-34 62-21 62-13 62 4 62 50 62 131"/>
<path d="M0 74l62 2 62-1 62 2 62 2 62 2 62 2 62 2 62 2 62 4 62 9 62 11 62 49 62 60 62 31 62 21 62 0 62-27 62-30 62-50 62-42 62-6 62-40 62-7 62 1 62-13 62-16 62-2 62 7 62 6 62 70"/>
<path d="M0 97l62 2 62-3 62 2 62 2 62 4 62 3 62 3 62 1 62 2 62 8 62 13 62 59 62 72 62 34 62 21 62-5 62-28 62-34 62-58 62-54 62-21 62-31 62 0 62-16 62-17 62 1 62-3 62-4 62 20 62 72"/>
<path d="M0 92l62 4 62-3 62 3 62 4 62 3 62 2 62 3 62 1 62 2 62 9 62 13 62 60 62 74 62 34 62 23 62 4 62-29 62-41 62-54 62-60 62-26 62-22 62 17 62-39 62-2 62-14 62-4 62-6 62 16 62 72"/>
<path d="M0 172l62 7 62-3 62 6 62 4 62 5 62 4 62 7 62 1 62 6 62 21 62 33 62 116 62 133 62 63 62 33 62 2 62-60 62-69 62-107 62-113 62-32 62-75 62 0 62 15 62-67 62-5 62-7 62-9 62 45 62 133"/>
<path d="M0 270l62 11 62-4 62 12 62 11 62 13 62 8 62 13 62 3 62 11 62 30 62 61 62 196 62 199 62 55 62 78 62-4 62-66 62-105 62-170 62-196 62-80 62-45 62-12 62-61 62-21 62-44 62-14 62-12 62 51 62 241"/>
<path d="M0 263l62 11 62-8 62 6 62 10 62 9 62 7 62 16 62 0 62 9 62 28 62 50 62 170 62 190 62 76 62 85 62-19 62-76 62-109 62-162 62-155 62-43 62-49 62-47 62-66 62-22 62-12 62-26 62-3 62 63 62 229"/>
<path d="M0 91l62 3 62-3 62 2 62 2 62 3 62 2 62 4 62 0 62 5 62 10 62 12 62 58 62 74 62 39 62 30 62 1 62-31 62-37 62-60 62-62 62-22 62-27 62 5 62-9 62-20 62-11 62-4 62-2 62 17 62 77"/>
<path d="M0 277l62 13 62-4 62 8 62 11 62 10 62 10 62 13 62 6 62 4 62 29 62 57 62 195 62 200 62 54 62 34 62 27 62-71 62-105 62-163 62-183 62-1 62-82 62-8 62-69 62-33 62-66 62-29 62 9 62 50 62 205"/>
<path d="M0 193l62 3 62-5 62 5 62 4 62 3 62 5 62 7 62-1 62 6 62 21 62 37 62 126 62 145 62 56 62 32 62 8 62-51 62-55 62-127 62-116 62-72 62-25 62-29 62 6 62-43 62-17 62-35 62 15 62 60 62 131"/>
<path d="M0 44l62 2 62-1 62 2 62 2 62 1 62 1 62 1 62 0 62 1 62 6 62 7 62 27 62 36 62 20 62 7 62 4 62-16 62-15 62-30 62-31 62-15 62-14 62 3 62-2 62-9 62-7 62-1 62 2 62 8 62 40"/>
<path d="M0 141l62 4 62-5 62 2 62 3 62 7 62 2 62 6 62 2 62 2 62 11 62 16 62 81 62 105 62 50 62 50 62-5 62-41 62-47 62-82 62-79 62-50 62-9 62-8 62-39 62-25 62-11 62-8 62 6 62 16 62 133"/>
<path d="M0 188l62 5 62-6 62 3 62 4 62 5 62 6 62 5 62 2 62 7 62 21 62 32 62 123 62 142 62 57 62 32 62 5 62-53 62-69 62-112 62-120 62-27 62-24 62-31 62-44 62-28 62-6 62-14 62-9 62 42 62 142"/>
<path d="M0 207l62 10 62-4 62 9 62 10 62 8 62 8 62 9 62 3 62 5 62 17 62 43 62 143 62 155 62 55 62 41 62 8 62-71 62-87 62-127 62-124 62-63 62-29 62-11 62-51 62-6 62-53 62 5 62-13 62 68 62 159"/>
<path d="M0 196l62 7 62-7 62 8 62 6 62 7 62 6 62 7 62 1 62 7 62 19 62 37 62 126 62 139 62 49 62 25 62 4 62-47 62-77 62-103 62-115 62-27 62-78 62-24 62-5 62-31 62-24 62-7 62-8 62 46 62 145"/>
<path d="M0 247l62 6 62-7 62 7 62 8 62 9 62 2 62 8 62 0 62 12 62 32 62 55 62 169 62 183 62 50 62 43 62 6 62-59 62-92 62-150 62-153 62-63 62-30 62-72 62 8 62-67 62-26 62 14 62-20 62 62 62 180"/>
<path d="M0 244l62 10 62-7 62 7 62 8 62 10 62 1 62 10 62-1 62 10 62 25 62 46 62 159 62 162 62 75 62 48 62-3 62-60 62-75 62-148 62-165 62 1 62-73 62-38 62-25 62-30 62-60 62-5 62-5 62 47 62 204"/>
<path d="M0 131l62 4 62-3 62 4 62 5 62 5 62 3 62 5 62 1 62 5 62 16 62 20 62 84 62 94 62 52 62 33 62 1 62-51 62-52 62-74 62-78 62-35 62-36 62 14 62-47 62 12 62-30 62-8 62-2 62 20 62 103"/>
<path d="M0 260l62 10 62-10 62 9 62 7 62 7 62 8 62 11 62-1 62 12 62 32 62 57 62 177 62 193 62 53 62 46 62 3 62-55 62-88 62-162 62-179 62-51 62-23 62 2 62-92 62-50 62-13 62-29 62 12 62 36 62 219"/>
<path d="M0 114l62 6 62-3 62 4 62 5 62 4 62 5 62 4 62 3 62 3 62 13 62 20 62 78 62 93 62 49 62 25 62 3 62-49 62-41 62-72 62-69 62-13 62-56 62 15 62-16 62-46 62-2 62-8 62 2 62 20 62 101"/>
<path d="M0 165l62 3 62-4 62 4 62 4 62 5 62 1 62 5 62 1 62 4 62 15 62 21 62 100 62 121 62 48 62 44 62 2 62-50 62-61 62-86 62-94 62-48 62-29 62-8 62 2 62-48 62-58 62 19 62 8 62 35 62 121"/>
<path d="M0 157l62 8 62-2 62 8 62 7 62 3 62 4 62 4 62-1 62 5 62 17 62 22 62 104 62 117 62 63 62 47 62 2 62-39 62-59 62-108 62-112 62-23 62-63 62 4 62-30 62-4 62-44 62-3 62 9 62 7 62 135"/>
<path d="M0 199l62 9 62-5 62 7 62 9 62 6 62 3 62 6 62 2 62 7 62 23 62 35 62 134 62 140 62 59 62 40 62 9 62-52 62-72 62-118 62-132 62-26 62-73 62-24 62-49 62 14 62-38 62-3 62-5 62 49 62 151"/>
<path d="M0 213l62 9 62-5 62 9 62 9 62 6 62 2 62 7 62 0 62 6 62 19 62 31 62 134 62 147 62 57 62 63 62-6 62-51 62-68 62-131 62-136 62-7 62-80 62-2 62-12 62-74 62-46 62 4 62 4 62 60 62 135"/>
<path d="M0 162l62 7 62-5 62 5 62 6 62 4 62 2 62 5 62-1 62 7 62 21 62 30 62 110 62 120 62 59 62 37 62 8 62-46 62-63 62-103 62-112 62-27 62-19 62-5 62-62 62-12 62-42 62-7 62-7 62 36 62 157"/>
<path d="M0 269l62 12 62-6 62 10 62 11 62 7 62 7 62 6 62 1 62 8 62 31 62 60 62 185 62 199 62 62 62 61 62-10 62-69 62-101 62-164 62-176 62-41 62-107 62 3 62-64 62-12 62-26 62-7 62-23 62 62 62 227"/>
<path d="M0 262l62 11 62-7 62 10 62 9 62 11 62 11 62 13 62 5 62 6 62 24 62 53 62 186 62 186 62 64 62 59 62 2 62-47 62-92 62-178 62-157 62-48 62-104 62-24 62-55 62-3 62-55 62-12 62-8 62 67 62 231"/>
<path d="M0 283l62 9 62-6 62 9 62 11 62 8 62 5 62 11 62 1 62 9 62 30 62 67 62 200 62 199 62 67 62 57 62 7 62-79 62-100 62-183 62-164 62-63 62-88 62 12 62-36 62-69 62-55 62 14 62-15 62 44 62 243"/>
<path d="M0 226l62 8 62-8 62 7 62 6 62 9 62 4 62 7 62 4 62 9 62 27 62 48 62 152 62 167 62 56 62 40 62 5 62-79 62-80 62-142 62-150 62-19 62-41 62-33 62-23 62-56 62-4 62-34 62 0 62 43 62 199"/>
<path d="M0 145l62 4 62-6 62 6 62 3 62 5 62 3 62 7 62 1 62 7 62 16 62 30 62 97 62 118 62 56 62 37 62 0 62-38 62-67 62-87 62-98 62-22 62-57 62 22 62-45 62-23 62-23 62-13 62-1 62 21 62 126"/>
<path d="M0 214l62 8 62-8 62 9 62 7 62 6 62 4 62 9 62 4 62 9 62 25 62 45 62 146 62 164 62 54 62 49 62-3 62-57 62-73 62-146 62-131 62-59 62-21 62-4 62-63 62-29 62-47 62 4 62-3 62 57 62 174"/>
<path d="M0 245l62 7 62-7 62 8 62 7 62 8 62 7 62 11 62-3 62 7 62 22 62 38 62 147 62 165 62 68 62 52 62 0 62-72 62-86 62-134 62-136 62-53 62-53 62-34 62-16 62-50 62-20 62-1 62-6 62 73 62 158"/>
<path d="M0 47l62 1 62-1 62 2 62 1 62 2 62 2 62 1 62 1 62 2 62 6 62 7 62 29 62 39 62 19 62 14 62-3 62-11 62-17 62-31 62-31 62-20 62-4 62-7 62 0 62-13 62-5 62-6 62 1 62 12 62 38"/>
<path d="M0 241l62 5 62-9 62 6 62 6 62 7 62 1 62 9 62-3 62 11 62 30 62 46 62 157 62 167 62 55 62 49 62 10 62-46 62-75 62-148 62-137 62-66 62-85 62 38 62-48 62-43 62-46 62-27 62 24 62 32 62 186"/>
<path d="M0 13l62 1 62 0 62 0 62 0 62 1 62 0 62 1 62 0 62 0 62 2 62 0 62 8 62 11 62 7 62 5 62 1 62-4 62-6 62-9 62-9 62-5 62-3 62 1 62-3 62-2 62-2 62 0 62-1 62 3 62 12"/>
<path d="M0 137l62 5 62-3 62 7 62 5 62 4 62 4 62 5 62 0 62 4 62 19 62 27 62 94 62 117 62 48 62 25 62 3 62-39 62-55 62-99 62-87 62-34 62-3 62-8 62-20 62-48 62-39 62-8 62 24 62 24 62 108"/>
<path d="M0 264l62 6 62-10 62 9 62 5 62 9 62 10 62 10 62 6 62 8 62 27 62 46 62 168 62 188 62 61 62 56 62-11 62-84 62-93 62-148 62-156 62-72 62-52 62-15 62-29 62-47 62-40 62-16 62 16 62 66 62 197"/>
<path d="M0 254l62 8 62-8 62 9 62 7 62 13 62 8 62 14 62 9 62 6 62 30 62 57 62 179 62 178 62 66 62 47 62-15 62-71 62-86 62-167 62-162 62-25 62-102 62-15 62-15 62-30 62-46 62-10 62 11 62 34 62 219"/>
<path d="M0 25l62 1 62-1 62 1 62 1 62 1 62 1 62 1 62 1 62 0 62 2 62 3 62 14 62 20 62 13 62 6 62 4 62-8 62-10 62-17 62-17 62-4 62-8 62-1 62-9 62-1 62-2 62-3 62-1 62 7 62 21"/>
<path d="M0 282l62 10 62-8 62 7 62 10 62 11 62 7 62 10 62 3 62 12 62 32 62 57 62 191 62 207 62 59 62 56 62 3 62-87 62-106 62-183 62-160 62-60 62-33 62-47 62-44 62-44 62-23 62-18 62 2 62 47 62 239"/>
<path d="M0 261l62 6 62-11 62 5 62 4 62 9 62 7 62 15 62 2 62 15 62 34 62 63 62 183 62 193 62 57 62 27 62 7 62-55 62-92 62-155 62-166 62-64 62-114 62 69 62-104 62-37 62-30 62-15 62 13 62 90 62 159"/>
<path d="M0 23l62 1 62 0 62 0 62 1 62 1 62 1 62 1 62 1 62 1 62 2 62 3 62 13 62 19 62 12 62 9 62 3 62-10 62-9 62-16 62-17 62-9 62-9 62 2 62-1 62-7 62 0 62-1 62-2 62 7 62 19"/>
<path d="M0 95l62 4 62-4 62 4 62 3 62 4 62 1 62 3 62 1 62 1 62 12 62 13 62 60 62 72 62 35 62 20 62 4 62-24 62-39 62-57 62-62 62-17 62-19 62-5 62-13 62-20 62-12 62-14 62 2 62 21 62 76"/>
<path d="M0 159l62 6 62-7 62 7 62 3 62 5 62 2 62 4 62-1 62 8 62 16 62 22 62 95 62 114 62 56 62 49 62 2 62-63 62-62 62-88 62-88 62-5 62-32 62-33 62-33 62-35 62-22 62 0 62 5 62 19 62 135"/>
<path d="M0 57l62 2 62-2 62 3 62 2 62 2 62 2 62 2 62 1 62 2 62 5 62 6 62 33 62 44 62 28 62 18 62 4 62-22 62-22 62-35 62-38 62-3 62-11 62-1 62-12 62-20 62-9 62-2 62-1 62 11 62 47"/>
<path d="M0 309l62 7 62-15 62 8 62 8 62 6 62 4 62 8 62 1 62 8 62 32 62 63 62 205 62 213 62 68 62 49 62 1 62-85 62-96 62-175 62-184 62-71 62-88 62 4 62-32 62-60 62-31 62-7 62-8 62 101 62 204"/>
<path d="M0 262l62 8 62-8 62 6 62 6 62 5 62 6 62 6 62-1 62 6 62 24 62 42 62 157 62 170 62 62 62 55 62 10 62-65 62-83 62-157 62-144 62-52 62-62 62-35 62-41 62 1 62-46 62-11 62 5 62 80 62 160"/>
<path d="M0 165l62 7 62-6 62 6 62 4 62 9 62 2 62 5 62 4 62 2 62 15 62 26 62 101 62 120 62 57 62 45 62-3 62-54 62-58 62-98 62-101 62-43 62-29 62 2 62-30 62-40 62-34 62 8 62-17 62 67 62 105"/>
<path d="M0 257l62 9 62-8 62 8 62 6 62 9 62 5 62 10 62 4 62 11 62 31 62 62 62 180 62 194 62 33 62 32 62 7 62-46 62-75 62-161 62-174 62-93 62-24 62 64 62-155 62-22 62-39 62-4 62-2 62 44 62 221"/>
<path d="M0 62l62 3 62-3 62 2 62 3 62 1 62 2 62 3 62 0 62 2 62 7 62 9 62 38 62 49 62 27 62 14 62 2 62-15 62-22 62-40 62-38 62-21 62-15 62-12 62-12 62 0 62-11 62-1 62-4 62 14 62 50"/>
<path d="M0 19l62 1 62-1 62 1 62 0 62 1 62 0 62 1 62 0 62 1 62 2 62 2 62 12 62 16 62 9 62 4 62 1 62-4 62-8 62-12 62-12 62-5 62-5 62-2 62-3 62-4 62-4 62 0 62-1 62 5 62 15"/>
<path d="M0 322l62 9 62-12 62 10 62 7 62 16 62 8 62 10 62 7 62 6 62 24 62 63 62 201 62 200 62 84 62 60 62 1 62-81 62-113 62-187 62-191 62-79 62-60 62-11 62-37 62-83 62-6 62-1 62-20 62 85 62 232"/>
<path d="M0 27l62 1 62-1 62 1 62 1 62 1 62 0 62 1 62 1 62 0 62 3 62 2 62 16 62 22 62 11 62 9 62 0 62-9 62-9 62-19 62-17 62-6 62-8 62-1 62 0 62-8 62 0 62-6 62 3 62 2 62 25"/>
<path d="M0 91l62 1 62-4 62 1 62 1 62 2 62 4 62 3 62 0 62 2 62 7 62 11 62 49 62 63 62 35 62 23 62-1 62-22 62-31 62-51 62-53 62-16 62-17 62-6 62-3 62-36 62-8 62-4 62 3 62 23 62 61"/>
<path d="M0 68l62 2 62-3 62 3 62 2 62 1 62 2 62 2 62 0 62 2 62 8 62 11 62 42 62 52 62 26 62 15 62-2 62-18 62-23 62-42 62-44 62-9 62-13 62 4 62-21 62-22 62-3 62-5 62 4 62 9 62 56"/>
<path d="M0 131l62 5 62-4 62 3 62 4 62 6 62 5 62 6 62 2 62 4 62 13 62 19 62 81 62 92 62 53 62 30 62-1 62-40 62-50 62-74 62-86 62-25 62-15 62-19 62-28 62-32 62 4 62-8 62-18 62 45 62 90"/>
<path d="M0 81l62 3 62-4 62 1 62 3 62 2 62 2 62 2 62 1 62 4 62 8 62 11 62 45 62 56 62 34 62 30 62-1 62-27 62-31 62-48 62-45 62-23 62-2 62-8 62-24 62-8 62-17 62-5 62-4 62 26 62 62"/>
<path d="M0 187l62 5 62-7 62 3 62 4 62 4 62 3 62 8 62 1 62 4 62 18 62 30 62 115 62 127 62 53 62 27 62 9 62-49 62-60 62-106 62-113 62-22 62-43 62-15 62-69 62 28 62-58 62-1 62-2 62 46 62 141"/>
<path d="M0 4l62 0 62-1 62 1 62 0 62 0 62 0 62 0 62 0 62 0 62 0 62 1 62 2 62 2 62 2 62 1 62 0 62 0 62-2 62-2 62-2 62-2 62 0 62-1 62 0 62-1 62 0 62 0 62 0 62 1 62 3"/>
<path d="M0 11l62 1 62 0 62 0 62 1 62 0 62 0 62 1 62 0 62 0 62 1 62 2 62 7 62 9 62 6 62 3 62 0 62-3 62-5 62-7 62-8 62-2 62-2 62-1 62-1 62-4 62-1 62-2 62 0 62 5 62 9"/>
<path d="M0 64l62 2 62-3 62 1 62 2 62 2 62 1 62 2 62 1 62 2 62 5 62 7 62 38 62 49 62 29 62 24 62 1 62-19 62-21 62-42 62-46 62 1 62-14 62-7 62-18 62-13 62-6 62-9 62 5 62 21 62 45"/>
<path d="M0 47l62 3 62-1 62 1 62 2 62 2 62 0 62 2 62 0 62 2 62 4 62 6 62 29 62 38 62 21 62 15 62 1 62-13 62-19 62-29 62-31 62-5 62-17 62-4 62-8 62-15 62 1 62-3 62-3 62 14 62 39"/>
<path d="M0 110l62 6 62-5 62 5 62 4 62 4 62 2 62 3 62 0 62 5 62 11 62 20 62 68 62 84 62 41 62 28 62-2 62-28 62-35 62-77 62-73 62-17 62-41 62-13 62-8 62-4 62-19 62-6 62 5 62 31 62 77"/>
<path d="M0 18l62 1 62-1 62 1 62 1 62 0 62 1 62 0 62 1 62 0 62 1 62 2 62 10 62 14 62 9 62 6 62 0 62-5 62-7 62-12 62-11 62-4 62-4 62-1 62-2 62-2 62-6 62-2 62 3 62 2 62 16"/>
<path d="M0 36l62 0 62-1 62 1 62 1 62 1 62 2 62 1 62 0 62 2 62 4 62 5 62 22 62 29 62 18 62 8 62 1 62-9 62-13 62-24 62-25 62-7 62-17 62 1 62-8 62-3 62-4 62-4 62 2 62 8 62 31"/>
<path d="M0 111l62 3 62-4 62 4 62 5 62 3 62 3 62 4 62 2 62 1 62 10 62 13 62 66 62 80 62 45 62 28 62 2 62-35 62-36 62-68 62-66 62-17 62-29 62-16 62-17 62-20 62-9 62-13 62 8 62 19 62 87"/>
<path d="M0 254l62 14 62-5 62 13 62 13 62 10 62 1 62 12 62 1 62 7 62 25 62 49 62 160 62 169 62 66 62 72 62-7 62-71 62-89 62-164 62-153 62-36 62-105 62 25 62-36 62-40 62-44 62 6 62-26 62 46 62 228"/>
<path d="M0 67l62 3 62-3 62 2 62 3 62 1 62 1 62 2 62 1 62 2 62 6 62 8 62 39 62 50 62 28 62 20 62-1 62-17 62-22 62-39 62-47 62-12 62-28 62-7 62 0 62-17 62-6 62-2 62 1 62 17 62 49"/>
<path d="M0 286l62 13 62-12 62 10 62 13 62 10 62 3 62 10 62 2 62 7 62 30 62 57 62 190 62 197 62 74 62 70 62 1 62-92 62-100 62-168 62-173 62-44 62-121 62-3 62 16 62-75 62-40 62-34 62 32 62 57 62 197"/>
<path d="M0 190l62 4 62-7 62 3 62 6 62 3 62 5 62 5 62 2 62 5 62 19 62 31 62 112 62 120 62 48 62 35 62 4 62-44 62-65 62-112 62-97 62-13 62-48 62-37 62-17 62-10 62-51 62-19 62 27 62 30 62 125"/>
<path d="M0 111l62 3 62-3 62 4 62 4 62 5 62 3 62 4 62 2 62 1 62 12 62 18 62 73 62 91 62 43 62 30 62 2 62-34 62-38 62-77 62-81 62-15 62-44 62 20 62-50 62-3 62-7 62-6 62-15 62 40 62 99"/>
<path d="M0 177l62 4 62-4 62 4 62 6 62 7 62 6 62 7 62 3 62 6 62 18 62 29 62 115 62 130 62 64 62 42 62 15 62-65 62-65 62-112 62-109 62-30 62-41 62 0 62-39 62-32 62-19 62-29 62 11 62 48 62 139"/>
<path d="M0 90l62 3 62-3 62 2 62 3 62 2 62 2 62 4 62 0 62 5 62 11 62 14 62 56 62 66 62 39 62 25 62 4 62-34 62-36 62-57 62-49 62-18 62-1 62-11 62-17 62-37 62-14 62 0 62 8 62 11 62 78"/>
<path d="M0 4l62 0 62 0 62 0 62 0 62 0 62 1 62 0 62 0 62 0 62 0 62 1 62 2 62 3 62 2 62 1 62 0 62-1 62-1 62-3 62-3 62 0 62-1 62-2 62 1 62-1 62-1 62 0 62 1 62 1 62 3"/>
<path d="M0 80l62 3 62-3 62 3 62 3 62 2 62 2 62 5 62 1 62 3 62 9 62 12 62 52 62 67 62 31 62 23 62 2 62-32 62-33 62-51 62-48 62-24 62 8 62-15 62-28 62-5 62-22 62 0 62-4 62 15 62 75"/>
<path d="M0 61l62 1 62-2 62 2 62 1 62 3 62 1 62 2 62 1 62 3 62 6 62 10 62 34 62 48 62 25 62 16 62-1 62-11 62-24 62-39 62-39 62-13 62-22 62 10 62-16 62-20 62-5 62-1 62 2 62 19 62 47"/>
<path d="M0 79l62 2 62-3 62 3 62 3 62 1 62 0 62 3 62-1 62 4 62 9 62 13 62 48 62 60 62 31 62 18 62 0 62-30 62-24 62-48 62-47 62-18 62-16 62-16 62 6 62-30 62-5 62-7 62 3 62 23 62 65"/>
<path d="M0 164l62 6 62-4 62 6 62 5 62 7 62 3 62 6 62 3 62 6 62 19 62 31 62 104 62 118 62 60 62 34 62 0 62-57 62-62 62-107 62-88 62-53 62-50 62 23 62-31 62-20 62-24 62-13 62 4 62 55 62 128"/>
<path d="M0 114l62 4 62-3 62 3 62 5 62 3 62 4 62 4 62 2 62 2 62 11 62 18 62 72 62 82 62 45 62 23 62 4 62-37 62-40 62-65 62-65 62-4 62-47 62 22 62-27 62-47 62-18 62 0 62-10 62 28 62 90"/>
<path d="M0 189l62 5 62-7 62 5 62 3 62 9 62 4 62 9 62 0 62 7 62 20 62 32 62 121 62 134 62 56 62 52 62-11 62-57 62-64 62-113 62-113 62-24 62-64 62 25 62-65 62-12 62-42 62-7 62 3 62 53 62 150"/>
<path d="M0 83l62 3 62-3 62 3 62 3 62 2 62 1 62 3 62-1 62 2 62 8 62 8 62 49 62 61 62 35 62 23 62 5 62-25 62-31 62-51 62-47 62-19 62-24 62 2 62-9 62-25 62-7 62-9 62 4 62 15 62 69"/>
<path d="M0 180l62 7 62-6 62 8 62 4 62 7 62 6 62 5 62 5 62 5 62 23 62 36 62 122 62 145 62 56 62 48 62 5 62-50 62-66 62-119 62-119 62-62 62-25 62 12 62-69 62-21 62-27 62-10 62 5 62 51 62 136"/>
<path d="M0 248l62 8 62-6 62 8 62 13 62 5 62 8 62 11 62 2 62 7 62 24 62 47 62 157 62 171 62 59 62 64 62-3 62-62 62-89 62-152 62-153 62-65 62-44 62-22 62-36 62-51 62-34 62 11 62-18 62 67 62 190"/>
<path d="M0 282l62 12 62-6 62 12 62 8 62 13 62 5 62 12 62 3 62 5 62 21 62 43 62 172 62 180 62 84 62 86 62 16 62-85 62-94 62-175 62-185 62-76 62-25 62-42 62-43 62-42 62-20 62-25 62-4 62 67 62 216"/>
<path d="M0 251l62 9 62-8 62 7 62 7 62 11 62 7 62 10 62 3 62 10 62 27 62 43 62 166 62 184 62 68 62 81 62-12 62-92 62-98 62-153 62-138 62-68 62-37 62-2 62-39 62-74 62-16 62-18 62-5 62 78 62 202"/>
<path d="M0 271l62 12 62-9 62 9 62 10 62 11 62 9 62 11 62 4 62 10 62 31 62 55 62 179 62 197 62 77 62 44 62-16 62-66 62-104 62-161 62-158 62-57 62-59 62-8 62-29 62-73 62-42 62-14 62 9 62 41 62 219"/>
<path d="M0 36l62 1 62-1 62 1 62 1 62 1 62 1 62 1 62 0 62 2 62 4 62 6 62 24 62 30 62 17 62 11 62 2 62-10 62-13 62-25 62-27 62-10 62-14 62-4 62 4 62-10 62-5 62-3 62 1 62 9 62 33"/>
<path d="M0 143l62 5 62-6 62 6 62 4 62 4 62 2 62 4 62-1 62 5 62 16 62 24 62 87 62 100 62 47 62 32 62 0 62-38 62-42 62-85 62-87 62-48 62-19 62-26 62 5 62-50 62-11 62-11 62 16 62 27 62 115"/>
<path d="M0 277l62 9 62-12 62 10 62 10 62 6 62 3 62 8 62 1 62 14 62 29 62 51 62 182 62 183 62 76 62 72 62-3 62-59 62-96 62-174 62-162 62-84 62-65 62-28 62-42 62-22 62-33 62-27 62 18 62 51 62 210"/>
<path d="M0 174l62 7 62-5 62 5 62 5 62 6 62 6 62 6 62 3 62 5 62 20 62 32 62 113 62 127 62 65 62 26 62 12 62-49 62-60 62-105 62-97 62-57 62-39 62-25 62-25 62-43 62-17 62 11 62-8 62 30 62 150"/>
<path d="M0 119l62 3 62-3 62 6 62 4 62 4 62 5 62 5 62 3 62 1 62 11 62 16 62 71 62 88 62 45 62 27 62 1 62-36 62-39 62-76 62-74 62-32 62-11 62-10 62-24 62-18 62-26 62 8 62-15 62 34 62 95"/>
<path d="M0 248l62 9 62-6 62 8 62 8 62 10 62 3 62 12 62 3 62 10 62 26 62 49 62 162 62 174 62 67 62 61 62 3 62-82 62-98 62-148 62-140 62-18 62-103 62 7 62-61 62-21 62-49 62-19 62 17 62 48 62 202"/>
<path d="M0 5l62 0 62 0 62 0 62 0 62 1 62 0 62 0 62 0 62 0 62 1 62 0 62 3 62 4 62 3 62 2 62 0 62-2 62-2 62-3 62-3 62-2 62-2 62-1 62 0 62 0 62-1 62 0 62 0 62 2 62 4"/>
<path d="M0 124l62 4 62-3 62 6 62 5 62 3 62 2 62 5 62-1 62 5 62 13 62 18 62 76 62 93 62 41 62 32 62 4 62-41 62-43 62-75 62-75 62-1 62-40 62 2 62-38 62-10 62-38 62 5 62-26 62 48 62 103"/>
<path d="M0 37l62 2 62-1 62 2 62 0 62 2 62 2 62 2 62 1 62 0 62 5 62 4 62 22 62 31 62 19 62 12 62 1 62-12 62-15 62-25 62-25 62-12 62-5 62 0 62-11 62-10 62-2 62-5 62 4 62 8 62 32"/>
<path d="M0 288l62 10 62-8 62 9 62 9 62 9 62 9 62 10 62 1 62 10 62 33 62 69 62 204 62 202 62 54 62 31 62 5 62-43 62-88 62-178 62-175 62-48 62-51 62-15 62-63 62-82 62-52 62-20 62 17 62 52 62 221"/>
<path d="M0 4l62 0 62 0 62 0 62 0 62 0 62 0 62 0 62 0 62 0 62 1 62 0 62 2 62 3 62 2 62 1 62 0 62-1 62-1 62-3 62-2 62-1 62-1 62-1 62 0 62 0 62-1 62 0 62 0 62 1 62 3"/>
<path d="M0 61l62 1 62-2 62 1 62 2 62 1 62 2 62 2 62 1 62 1 62 8 62 8 62 37 62 48 62 27 62 16 62-1 62-14 62-22 62-38 62-42 62 1 62-17 62-11 62-4 62-15 62-18 62 2 62 1 62 4 62 53"/>
<path d="M0 84l62 3 62-2 62 4 62 2 62 3 62 2 62 3 62 0 62 2 62 8 62 9 62 46 62 62 62 33 62 28 62 7 62-29 62-36 62-52 62-47 62-13 62-29 62 4 62-23 62-18 62-5 62-2 62 0 62 24 62 58"/>
<path d="M0 184l62 9 62-4 62 8 62 9 62 8 62 5 62 8 62 4 62 9 62 20 62 39 62 127 62 148 62 49 62 36 62 6 62-54 62-63 62-120 62-125 62-53 62-68 62-7 62 2 62-54 62-33 62 3 62-1 62 70 62 136"/>
<path d="M0 122l62 5 62-4 62 5 62 2 62 5 62 2 62 5 62 1 62 3 62 10 62 17 62 70 62 89 62 49 62 35 62 3 62-30 62-46 62-73 62-85 62-29 62-7 62-18 62-19 62-20 62-16 62-20 62 21 62 17 62 88"/>
<path d="M0 155l62 8 62-4 62 8 62 7 62 5 62 4 62 5 62 2 62 5 62 18 62 28 62 103 62 119 62 54 62 37 62-13 62-34 62-57 62-99 62-105 62-23 62-69 62 3 62-41 62-3 62-26 62-15 62 10 62 37 62 124"/>
<path d="M0 9l62 0 62 0 62 0 62 1 62 0 62 0 62 0 62 0 62 1 62 1 62 0 62 6 62 7 62 5 62 3 62 0 62-2 62-4 62-5 62-6 62-2 62-2 62 1 62-3 62-3 62-2 62 0 62 0 62 2 62 8"/>
<path d="M0 165l62 6 62-5 62 6 62 5 62 6 62 4 62 8 62 1 62 4 62 16 62 29 62 108 62 125 62 45 62 36 62 2 62-43 62-62 62-98 62-104 62-24 62-58 62 9 62-42 62-47 62-8 62 7 62-13 62 32 62 139"/>
<path d="M0 269l62 7 62-8 62 6 62 7 62 8 62 3 62 9 62 3 62 8 62 32 62 67 62 190 62 198 62 55 62 42 62 11 62-80 62-87 62-173 62-153 62-70 62-79 62 28 62-62 62-46 62-45 62-26 62 16 62 57 62 195"/>
<path d="M0 7l62 0 62 0 62 0 62 0 62 1 62 0 62 0 62 0 62 0 62 1 62 1 62 3 62 6 62 4 62 2 62 0 62-1 62-3 62-5 62-4 62-2 62-2 62-1 62-1 62-2 62 0 62-1 62 1 62 1 62 6"/>
<path d="M0 198l62 10 62-5 62 9 62 8 62 7 62 5 62 9 62 3 62 2 62 16 62 26 62 127 62 141 62 66 62 60 62 9 62-66 62-69 62-123 62-125 62-56 62-27 62-22 62-43 62-9 62-56 62 3 62 13 62 37 62 147"/>
<path d="M0 24l62 1 62-1 62 0 62 1 62 1 62 1 62 1 62 0 62 1 62 3 62 2 62 15 62 20 62 11 62 4 62 3 62-8 62-9 62-16 62-17 62-3 62-9 62 0 62-5 62-5 62-3 62 2 62-3 62 7 62 20"/>
<path d="M0 27l62 1 62-1 62 1 62 1 62 0 62 1 62 1 62 0 62 2 62 3 62 3 62 17 62 22 62 13 62 8 62 0 62-8 62-12 62-17 62-18 62-7 62-6 62 4 62-11 62-4 62-6 62 0 62 0 62 6 62 22"/>
<path d="M0 201l62 4 62-7 62 6 62 6 62 6 62 5 62 5 62 2 62 4 62 22 62 36 62 122 62 132 62 57 62 40 62 4 62-65 62-72 62-114 62-115 62-37 62-67 62-5 62-6 62-74 62-4 62-2 62 9 62 46 62 157"/>
<path d="M0 50l62 2 62-1 62 2 62 2 62 1 62 1 62 2 62 0 62 2 62 5 62 6 62 31 62 42 62 23 62 14 62 0 62-16 62-20 62-31 62-34 62-3 62-26 62 7 62-11 62-16 62-4 62-2 62 2 62 14 62 40"/>
<path d="M0 146l62 5 62-5 62 6 62 5 62 4 62 5 62 6 62 2 62 4 62 13 62 24 62 95 62 105 62 49 62 25 62 2 62-45 62-48 62-89 62-87 62-26 62-53 62 2 62-26 62-1 62-41 62 1 62-5 62 41 62 113"/>
<path d="M0 231l62 9 62-4 62 8 62 9 62 11 62 5 62 12 62 0 62 8 62 30 62 55 62 164 62 182 62 64 62 47 62-1 62-69 62-97 62-152 62-166 62 4 62-111 62 39 62-50 62-53 62-42 62-22 62 17 62 38 62 202"/>
<path d="M0 215l62 6 62-8 62 5 62 6 62 4 62 6 62 7 62 1 62 11 62 29 62 46 62 146 62 155 62 61 62 38 62 12 62-51 62-77 62-134 62-135 62-35 62-47 62-38 62-32 62-42 62-39 62 5 62-6 62 73 62 139"/>
<path d="M0 124l62 7 62-3 62 5 62 4 62 5 62 4 62 5 62 3 62 6 62 15 62 21 62 79 62 98 62 52 62 29 62 13 62-41 62-42 62-91 62-84 62-18 62-42 62-14 62-20 62-22 62-16 62-18 62 11 62 19 62 111"/>
<path d="M0 96l62 5 62-2 62 5 62 5 62 2 62 2 62 3 62 0 62 2 62 13 62 16 62 62 62 79 62 39 62 17 62 2 62-34 62-33 62-61 62-60 62-29 62-5 62-21 62-20 62-12 62-13 62-6 62-2 62 31 62 71"/>
<path d="M0 245l62 5 62-7 62 9 62 7 62 11 62 8 62 14 62 6 62 2 62 24 62 45 62 159 62 167 62 70 62 48 62 0 62-83 62-92 62-143 62-155 62-23 62-21 62 13 62-148 62-12 62-9 62-17 62-16 62 67 62 192"/>
<path d="M0 5l62 0 62 0 62 1 62 0 62 0 62 0 62 1 62 0 62 0 62 0 62 1 62 3 62 4 62 3 62 2 62 0 62-2 62-2 62-3 62-4 62-1 62-2 62-1 62 0 62-1 62-2 62 1 62 0 62 1 62 5"/>
<path d="M0 288l62 8 62-5 62 10 62 13 62 12 62 11 62 15 62 8 62 3 62 26 62 52 62 185 62 196 62 46 62 57 62-5 62-74 62-91 62-177 62-184 62-50 62-84 62 18 62-56 62-41 62-29 62-19 62 9 62 58 62 199"/>
<path d="M0 250l62 7 62-8 62 10 62 7 62 13 62 10 62 11 62 9 62 8 62 24 62 43 62 168 62 182 62 74 62 80 62-4 62-89 62-105 62-137 62-164 62 21 62-145 62 15 62-19 62-79 62-59 62 18 62-5 62 64 62 201"/>
<path d="M0 131l62 5 62-4 62 6 62 5 62 3 62 4 62 4 62-1 62 5 62 15 62 21 62 81 62 96 62 51 62 38 62 10 62-43 62-50 62-83 62-89 62-27 62-27 62-9 62-28 62-38 62 2 62-6 62-4 62 23 62 113"/>
<path d="M0 273l62 11 62-9 62 8 62 12 62 7 62 7 62 6 62 0 62 10 62 31 62 60 62 192 62 198 62 83 62 47 62 12 62-70 62-99 62-166 62-197 62 5 62-71 62-15 62-85 62-68 62-15 62-40 62 22 62 55 62 208"/>
<path d="M0 167l62 5 62-4 62 6 62 5 62 8 62 3 62 6 62 4 62 6 62 21 62 34 62 111 62 124 62 54 62 45 62-5 62-48 62-66 62-108 62-104 62-38 62-40 62 5 62-39 62-30 62-45 62 1 62-1 62 38 62 140"/>
<path d="M0 235l62 8 62-9 62 10 62 5 62 10 62 8 62 6 62 4 62 7 62 28 62 56 62 165 62 176 62 49 62 11 62 24 62-57 62-65 62-157 62-151 62-31 62-67 62-77 62 11 62-56 62-20 62-15 62 13 62 71 62 140"/>
<path d="M0 218l62 8 62-7 62 6 62 9 62 7 62 5 62 7 62 4 62 7 62 24 62 49 62 145 62 150 62 66 62 53 62-11 62-66 62-75 62-130 62-126 62-60 62-19 62-26 62-46 62-67 62-10 62-1 62-8 62 58 62 160"/>
<path d="M0 48l62 2 62-1 62 1 62 2 62 2 62 1 62 1 62 0 62 2 62 4 62 6 62 29 62 36 62 24 62 14 62-1 62-14 62-19 62-30 62-30 62-6 62-16 62 5 62-8 62-16 62-10 62-1 62 0 62 13 62 40"/>
<path d="M0 276l62 9 62-9 62 9 62 12 62 7 62 9 62 10 62 2 62 11 62 27 62 49 62 174 62 186 62 73 62 69 62 13 62-94 62-106 62-163 62-154 62-41 62-96 62 4 62-72 62-40 62-16 62-22 62 17 62 51 62 214"/>
<path d="M0 325l62 11 62-14 62 10 62 10 62 7 62 4 62 10 62 0 62 10 62 29 62 59 62 215 62 218 62 71 62 39 62-1 62-64 62-116 62-180 62-176 62-52 62-65 62 1 62-94 62-38 62-58 62-13 62 28 62 54 62 240"/>
<path d="M0 108l62 3 62-4 62 4 62 2 62 3 62 2 62 3 62 1 62 3 62 9 62 13 62 63 62 72 62 45 62 24 62 1 62-23 62-34 62-70 62-64 62-3 62-34 62 10 62-42 62-21 62-1 62-20 62 6 62 20 62 78"/>
<path d="M0 62l62 3 62-2 62 2 62 3 62 1 62 1 62 2 62 0 62 2 62 8 62 10 62 41 62 49 62 25 62 12 62 6 62-22 62-21 62-40 62-45 62-8 62-27 62 1 62-10 62-12 62-6 62-1 62 2 62 14 62 49"/>
<path d="M0 150l62 6 62-4 62 7 62 6 62 4 62 3 62 6 62 3 62 7 62 16 62 25 62 101 62 117 62 57 62 46 62 12 62-63 62-59 62-92 62-103 62-29 62-48 62-16 62-39 62-7 62-16 62-2 62-7 62 28 62 141"/>
<path d="M0 224l62 6 62-10 62 5 62 5 62 10 62 8 62 8 62 2 62 8 62 23 62 41 62 136 62 149 62 68 62 62 62-6 62-58 62-82 62-132 62-114 62-52 62-57 62 59 62-86 62-56 62-36 62-7 62 6 62 35 62 176"/>
<path d="M0 215l62 8 62-6 62 7 62 8 62 6 62 5 62 6 62 2 62 11 62 29 62 44 62 145 62 157 62 52 62 41 62-4 62-67 62-74 62-135 62-130 62-38 62-48 62-24 62-4 62-62 62-38 62-24 62 12 62 42 62 177"/>
<path d="M0 313l62 14 62-12 62 16 62 8 62 7 62 7 62 12 62-1 62 12 62 37 62 70 62 208 62 212 62 70 62 63 62 5 62-96 62-117 62-185 62-166 62-68 62-55 62-19 62-59 62-84 62-17 62-6 62-32 62 82 62 263"/>
<path d="M0 194l62 8 62-3 62 9 62 7 62 9 62 6 62 9 62 3 62 3 62 20 62 35 62 122 62 141 62 65 62 38 62-3 62-38 62-72 62-129 62-123 62-68 62-9 62-29 62-48 62-13 62-29 62-14 62 12 62 44 62 155"/>
<path d="M0 212l62 7 62-6 62 5 62 6 62 7 62 5 62 7 62 2 62 6 62 20 62 33 62 134 62 148 62 69 62 60 62-8 62-50 62-71 62-127 62-127 62-50 62-49 62 23 62-33 62-54 62-36 62-28 62 15 62 65 62 140"/>
<path d="M0 174l62 9 62-5 62 6 62 7 62 5 62 2 62 6 62 1 62 3 62 17 62 29 62 114 62 127 62 57 62 30 62 12 62-50 62-62 62-101 62-105 62-30 62-59 62-16 62-14 62-47 62-20 62 6 62-15 62 45 62 132"/>
<path d="M0 42l62 1 62-1 62 1 62 1 62 2 62 1 62 2 62 0 62 2 62 5 62 4 62 25 62 34 62 18 62 13 62 0 62-14 62-16 62-25 62-31 62-2 62-17 62-1 62-13 62 0 62-9 62-5 62 7 62 4 62 38"/>
<path d="M0 111l62 4 62-4 62 3 62 3 62 5 62 2 62 5 62 2 62 5 62 12 62 18 62 73 62 84 62 45 62 29 62 7 62-26 62-38 62-79 62-78 62-21 62-42 62 3 62-20 62-16 62-26 62-4 62 7 62 16 62 99"/>
<path d="M0 247l62 10 62-8 62 6 62 10 62 8 62 6 62 10 62 2 62 11 62 25 62 41 62 162 62 174 62 75 62 87 62-9 62-76 62-94 62-164 62-145 62-9 62-68 62-23 62-99 62-19 62-11 62-9 62-10 62 33 62 209"/>
<path d="M0 94l62 4 62-1 62 3 62 3 62 3 62 1 62 3 62 0 62 3 62 9 62 12 62 54 62 68 62 43 62 25 62 0 62-29 62-36 62-58 62-51 62-14 62-41 62-11 62-18 62-5 62-11 62 6 62-4 62 24 62 73"/>
<path d="M0 78l62 3 62-2 62 3 62 3 62 2 62 2 62 2 62-1 62 4 62 9 62 11 62 47 62 61 62 33 62 25 62 3 62-28 62-36 62-46 62-47 62-5 62-26 62-13 62-9 62-20 62-7 62-3 62 3 62 14 62 61"/>
<path d="M0 239l62 9 62-8 62 11 62 8 62 11 62 14 62 9 62 8 62 9 62 28 62 47 62 164 62 169 62 76 62 32 62-7 62-50 62-82 62-163 62-154 62-54 62-50 62-12 62-53 62-46 62-29 62 1 62-5 62 46 62 204"/>
<path d="M0 147l62 5 62-5 62 4 62 4 62 5 62 3 62 6 62 0 62 7 62 17 62 21 62 88 62 101 62 56 62 43 62-1 62-31 62-49 62-93 62-99 62-49 62-26 62-19 62 1 62-44 62-9 62-5 62-4 62 36 62 107"/>
<path d="M0 140l62 4 62-5 62 6 62 5 62 4 62 3 62 4 62 1 62 4 62 12 62 23 62 86 62 98 62 49 62 34 62 3 62-40 62-45 62-84 62-87 62-36 62-31 62 3 62-40 62-23 62-20 62-3 62 2 62 48 62 90"/>
<path d="M0 180l62 6 62-3 62 7 62 8 62 4 62 2 62 7 62-1 62 5 62 17 62 28 62 113 62 135 62 61 62 50 62 3 62-43 62-69 62-113 62-109 62-46 62-80 62 39 62-56 62-16 62-21 62 3 62-7 62 38 62 139"/>
<path d="M0 235l62 12 62-5 62 11 62 10 62 7 62 6 62 9 62 1 62 8 62 24 62 44 62 155 62 176 62 62 62 59 62-1 62-74 62-96 62-145 62-144 62-95 62-14 62-28 62-31 62-36 62-27 62-18 62 0 62 70 62 177"/>
<path d="M0 100l62 3 62-4 62 3 62 2 62 4 62 2 62 4 62 1 62 4 62 11 62 16 62 61 62 77 62 38 62 35 62-1 62-31 62-41 62-66 62-61 62-25 62-29 62-3 62-15 62-30 62 3 62-1 62-4 62 10 62 96"/>
<path d="M0 108l62 5 62-3 62 3 62 4 62 4 62 0 62 5 62 2 62 1 62 10 62 14 62 67 62 88 62 39 62 32 62 1 62-42 62-39 62-67 62-64 62-39 62-9 62-11 62-4 62-32 62-16 62-3 62-1 62 21 62 84"/>
<path d="M0 194l62 4 62-6 62 6 62 5 62 6 62 3 62 8 62-1 62 6 62 23 62 32 62 129 62 143 62 58 62 21 62 16 62-47 62-55 62-126 62-119 62-33 62-69 62-3 62-46 62-17 62-50 62 28 62 11 62 25 62 145"/>
<path d="M0 222l62 10 62-6 62 9 62 10 62 10 62 8 62 12 62 8 62 4 62 24 62 48 62 160 62 164 62 55 62 36 62-5 62-55 62-77 62-146 62-144 62-60 62-25 62-17 62-76 62-11 62-22 62-28 62 0 62 84 62 163"/>
<path d="M0 106l62 4 62-4 62 5 62 4 62 4 62 3 62 4 62 2 62 2 62 12 62 14 62 64 62 86 62 40 62 35 62 0 62-33 62-43 62-68 62-65 62-31 62-22 62-34 62-2 62-19 62-1 62-10 62 0 62 22 62 95"/>
<path d="M0 89l62 4 62-2 62 3 62 4 62 2 62 2 62 4 62 0 62 3 62 10 62 11 62 54 62 65 62 35 62 18 62 6 62-34 62-35 62-55 62-58 62-35 62-5 62-3 62-7 62-16 62-11 62-8 62 5 62 17 62 74"/>
<path d="M0 57l62 2 62-2 62 2 62 1 62 3 62 2 62 3 62 1 62 2 62 5 62 7 62 32 62 42 62 25 62 16 62 4 62-19 62-21 62-36 62-38 62-9 62-19 62 8 62-14 62-10 62-13 62 0 62-1 62 10 62 49"/>
<path d="M0 140l62 7 62-3 62 6 62 7 62 6 62 5 62 6 62 3 62 4 62 14 62 23 62 90 62 105 62 43 62 46 62-2 62-39 62-47 62-89 62-94 62-31 62-80 62 40 62-41 62-9 62-25 62-9 62 8 62 24 62 120"/>
<path d="M0 200l62 5 62-4 62 5 62 6 62 10 62 8 62 11 62 3 62 5 62 16 62 29 62 128 62 137 62 60 62 59 62-1 62-43 62-67 62-127 62-134 62-31 62-35 62-11 62-25 62-63 62-47 62-2 62 22 62 32 62 144"/>
<path d="M0 84l62 4 62-2 62 3 62 5 62 2 62 2 62 2 62 1 62 5 62 10 62 13 62 58 62 72 62 32 62 28 62 6 62-38 62-36 62-53 62-60 62-34 62-7 62 6 62-27 62-13 62-21 62-1 62 9 62 29 62 67"/>
<path d="M0 219l62 8 62-7 62 7 62 8 62 10 62 6 62 11 62 4 62 12 62 23 62 49 62 153 62 157 62 55 62 48 62-10 62-43 62-90 62-136 62-148 62-52 62-47 62-24 62-57 62 5 62-40 62-2 62-25 62 68 62 193"/>
<path d="M0 192l62 7 62-8 62 6 62 7 62 5 62 1 62 6 62 0 62 6 62 22 62 37 62 123 62 137 62 53 62 40 62-4 62-39 62-65 62-112 62-113 62-29 62-93 62 19 62-51 62-9 62-19 62-25 62-3 62 56 62 139"/>
<path d="M0 91l62 4 62-3 62 2 62 4 62 2 62 3 62 2 62 1 62 4 62 10 62 12 62 56 62 73 62 36 62 23 62 7 62-32 62-38 62-57 62-55 62-2 62-29 62-4 62-31 62-6 62-25 62 6 62-2 62 9 62 85"/>
<path d="M0 292l62 11 62-9 62 10 62 12 62 8 62 9 62 11 62 7 62 6 62 36 62 67 62 207 62 217 62 65 62 49 62 11 62-102 62-110 62-191 62-178 62-18 62-40 62-76 62 4 62-99 62-58 62 14 62-10 62 55 62 248"/>
<path d="M0 190l62 8 62-7 62 7 62 6 62 10 62 5 62 8 62 4 62 2 62 16 62 32 62 120 62 133 62 61 62 47 62 3 62-50 62-74 62-118 62-112 62-60 62-31 62-8 62-19 62-31 62-45 62 8 62 4 62 22 62 151"/>
<path d="M0 151l62 9 62-4 62 6 62 7 62 5 62 2 62 6 62 2 62 5 62 20 62 33 62 108 62 121 62 51 62 24 62 3 62-40 62-57 62-95 62-106 62-33 62-45 62 9 62-55 62-16 62-36 62 5 62 2 62 31 62 137"/>
<path d="M0 22l62 0 62-1 62 1 62 0 62 1 62 0 62 1 62-1 62 1 62 3 62 3 62 12 62 16 62 11 62 7 62 0 62-7 62-8 62-13 62-13 62-1 62-11 62 0 62-2 62-5 62-3 62 0 62-3 62 5 62 20"/>
<path d="M0 281l62 11 62-9 62 13 62 5 62 9 62 9 62 8 62 3 62 9 62 32 62 62 62 203 62 199 62 67 62 40 62 2 62-76 62-106 62-164 62-157 62-110 62-4 62-12 62-87 62-72 62 11 62-42 62 40 62 24 62 231"/>
<path d="M0 98l62 4 62-2 62 2 62 4 62 3 62 2 62 4 62 2 62 2 62 11 62 14 62 61 62 75 62 37 62 18 62 2 62-23 62-31 62-65 62-64 62-4 62-60 62 7 62-14 62-22 62-8 62-6 62-2 62 20 62 85"/>
<path d="M0 132l62 4 62-4 62 4 62 5 62 4 62 3 62 5 62 2 62 5 62 17 62 27 62 90 62 107 62 49 62 27 62-1 62-38 62-48 62-91 62-87 62-28 62-40 62 17 62-31 62-47 62 4 62 0 62-15 62 39 62 98"/>
<path d="M0 129l62 6 62-2 62 5 62 5 62 4 62 3 62 4 62 1 62 3 62 13 62 18 62 79 62 95 62 44 62 37 62-4 62-44 62-43 62-84 62-82 62-16 62-39 62 1 62 3 62-51 62-24 62 6 62-9 62 43 62 90"/>
<path d="M0 77l62 3 62-3 62 1 62 2 62 4 62 1 62 3 62 0 62 3 62 9 62 10 62 48 62 59 62 31 62 19 62 0 62-13 62-28 62-49 62-48 62-23 62-17 62-6 62-4 62-23 62-15 62-2 62-4 62 24 62 60"/>
<path d="M0 175l62 7 62-4 62 5 62 5 62 7 62 4 62 8 62 1 62 6 62 18 62 35 62 120 62 132 62 49 62 25 62 4 62-38 62-57 62-121 62-107 62-39 62-59 62-5 62-28 62-37 62-29 62 6 62 0 62 33 62 154"/>
<path d="M0 275l62 8 62-7 62 10 62 11 62 8 62 2 62 10 62 1 62 9 62 29 62 59 62 186 62 202 62 63 62 63 62-7 62-87 62-92 62-155 62-186 62-41 62-39 62-71 62-4 62-90 62-6 62-8 62-3 62 70 62 206"/>
<path d="M0 291l62 9 62-10 62 11 62 10 62 11 62 2 62 13 62 3 62 10 62 32 62 69 62 207 62 218 62 66 62 43 62 9 62-87 62-109 62-192 62-166 62-41 62-76 62-10 62-40 62-54 62-80 62-3 62-10 62 94 62 224"/>
<path d="M0 247l62 15 62-7 62 12 62 12 62 8 62 10 62 6 62 4 62 7 62 27 62 49 62 173 62 184 62 53 62 44 62 8 62-57 62-84 62-165 62-169 62-24 62-25 62-99 62 29 62-81 62-25 62-35 62 16 62 33 62 211"/>
<path d="M0 266l62 10 62-9 62 11 62 10 62 12 62 9 62 10 62 5 62 8 62 29 62 59 62 181 62 204 62 56 62 46 62 1 62-76 62-105 62-161 62-155 62-59 62-37 62 5 62-112 62 17 62-83 62-17 62-2 62 98 62 185"/>
<path d="M0 209l62 8 62-5 62 6 62 6 62 8 62 2 62 7 62 3 62 6 62 26 62 38 62 132 62 148 62 58 62 59 62-12 62-50 62-73 62-128 62-135 62-38 62-16 62-25 62-29 62-52 62-45 62 10 62-7 62 45 62 173"/>
<path d="M0 198l62 9 62-2 62 8 62 11 62 9 62 5 62 9 62 4 62 9 62 22 62 38 62 137 62 146 62 63 62 48 62 11 62-71 62-71 62-132 62-128 62-5 62-49 62-14 62-72 62-39 62-11 62-22 62 10 62 32 62 166"/>
<path d="M0 114l62 5 62-2 62 3 62 5 62 4 62 3 62 5 62 0 62 4 62 14 62 19 62 74 62 89 62 43 62 36 62 1 62-32 62-40 62-78 62-76 62-22 62-27 62-11 62-12 62-34 62-31 62 5 62-2 62 32 62 90"/>
<path d="M0 38l62 1 62-1 62 1 62 1 62 1 62 1 62 2 62 0 62 1 62 5 62 4 62 23 62 31 62 16 62 16 62 0 62-14 62-16 62-24 62-24 62-10 62-7 62-6 62 2 62-10 62-10 62 0 62 0 62 6 62 31"/>
<path d="M0 34l62 2 62-1 62 0 62 1 62 2 62 1 62 1 62 1 62 1 62 4 62 5 62 20 62 28 62 18 62 11 62-1 62-8 62-13 62-24 62-26 62-3 62-18 62 0 62 1 62-13 62 0 62-4 62-3 62 10 62 29"/>
<path d="M0 260l62 10 62-7 62 10 62 8 62 12 62 4 62 11 62 4 62 8 62 29 62 60 62 183 62 197 62 74 62 60 62-21 62-77 62-114 62-160 62-164 62 10 62-107 62-24 62-33 62-62 62-32 62 10 62-25 62 59 62 201"/>
<path d="M0 136l62 5 62-4 62 6 62 5 62 4 62 2 62 4 62 3 62 4 62 17 62 24 62 92 62 109 62 44 62 15 62 6 62-38 62-45 62-82 62-85 62-53 62-31 62 2 62-18 62-43 62-7 62 2 62-1 62 24 62 128"/>
<path d="M0 163l62 7 62-7 62 5 62 5 62 7 62 4 62 7 62 4 62 4 62 11 62 23 62 95 62 111 62 58 62 39 62 7 62-45 62-58 62-101 62-103 62-35 62-35 62-16 62-10 62-49 62 3 62-25 62 5 62 40 62 112"/>
<path d="M0 197l62 8 62-6 62 5 62 7 62 6 62 3 62 6 62 2 62 11 62 23 62 38 62 127 62 150 62 63 62 51 62-10 62-46 62-70 62-130 62-114 62-31 62-68 62 2 62-44 62-26 62-46 62-5 62-1 62 59 62 157"/>
<path d="M0 145l62 5 62-5 62 8 62 3 62 4 62 2 62 4 62 0 62 5 62 13 62 22 62 90 62 103 62 55 62 46 62 0 62-47 62-53 62-93 62-89 62-16 62-46 62-7 62-24 62-21 62-32 62 2 62-3 62 33 62 132"/>
<path d="M0 172l62 5 62-6 62 6 62 4 62 5 62 4 62 7 62 2 62 4 62 21 62 26 62 111 62 122 62 63 62 36 62 7 62-44 62-57 62-101 62-113 62-59 62-15 62-48 62 4 62-29 62-42 62 1 62 9 62 16 62 151"/>
<path d="M0 124l62 5 62-4 62 3 62 4 62 4 62 4 62 5 62 1 62 3 62 13 62 18 62 76 62 94 62 51 62 32 62-6 62-40 62-51 62-74 62-76 62-3 62-28 62-19 62-26 62-5 62-30 62-9 62-12 62 26 62 108"/>
<path d="M0 184l62 6 62-4 62 6 62 6 62 7 62 5 62 6 62 2 62 7 62 21 62 35 62 117 62 136 62 71 62 54 62 7 62-60 62-71 62-111 62-122 62-16 62-45 62-38 62-10 62-76 62 0 62-16 62 5 62 29 62 165"/>
<path d="M0 65l62 2 62-2 62 2 62 2 62 2 62 1 62 3 62 0 62 3 62 7 62 10 62 40 62 52 62 29 62 20 62-2 62-17 62-22 62-44 62-44 62-13 62-13 62-7 62-14 62-9 62-11 62-7 62 1 62 15 62 62"/>
<path d="M0 98l62 5 62-4 62 7 62 3 62 3 62 3 62 4 62 1 62 4 62 11 62 18 62 65 62 82 62 32 62 27 62 3 62-31 62-42 62-66 62-67 62-19 62-24 62-3 62-21 62-1 62-27 62-7 62-1 62 26 62 81"/>
<path d="M0 40l62 1 62-1 62 1 62 1 62 1 62 1 62 1 62 0 62 1 62 4 62 4 62 22 62 30 62 18 62 13 62 0 62-7 62-14 62-27 62-26 62-11 62-13 62-4 62-3 62-6 62-2 62-4 62 5 62 3 62 36"/>
<path d="M0 21l62 1 62-1 62 1 62 0 62 1 62 1 62 1 62 0 62 1 62 2 62 3 62 12 62 16 62 11 62 8 62 0 62-9 62-10 62-12 62-12 62-4 62-6 62-9 62 6 62-3 62-5 62-2 62 2 62 3 62 18"/>
<path d="M0 101l62 4 62-3 62 5 62 4 62 4 62 4 62 5 62 3 62 2 62 11 62 14 62 65 62 79 62 42 62 31 62 4 62-35 62-38 62-68 62-67 62-7 62-43 62-6 62-21 62-20 62-11 62-10 62 12 62 34 62 76"/>
<path d="M0 169l62 6 62-4 62 5 62 7 62 5 62 5 62 5 62 3 62 7 62 18 62 27 62 109 62 118 62 64 62 42 62-4 62-54 62-70 62-103 62-108 62-13 62-57 62 17 62-63 62-9 62-40 62-4 62 15 62 29 62 153"/>
<path d="M0 72l62 3 62-2 62 3 62 2 62 2 62 0 62 2 62 0 62 3 62 7 62 10 62 44 62 55 62 30 62 18 62-1 62-19 62-28 62-44 62-43 62-11 62-25 62 12 62-19 62-13 62-19 62 2 62-2 62 17 62 52"/>
<path d="M0 132l62 5 62-4 62 3 62 4 62 7 62 2 62 5 62 1 62 6 62 15 62 20 62 81 62 96 62 49 62 42 62-1 62-42 62-46 62-84 62-73 62-46 62-26 62-3 62-20 62-45 62-10 62 12 62-11 62 44 62 86"/>
<path d="M0 264l62 7 62-10 62 9 62 7 62 9 62 8 62 9 62 4 62 7 62 27 62 48 62 176 62 189 62 59 62 63 62-12 62-61 62-87 62-165 62-161 62-46 62-37 62-68 62-21 62-48 62-40 62 4 62-8 62 68 62 213"/>
<path d="M0 160l62 5 62-5 62 6 62 4 62 7 62 4 62 6 62 3 62 4 62 17 62 26 62 102 62 120 62 59 62 42 62 5 62-51 62-59 62-100 62-104 62-28 62-60 62-6 62-13 62-28 62-8 62-20 62-12 62 42 62 128"/>
<path d="M0 156l62 6 62-6 62 7 62 6 62 5 62 5 62 6 62 1 62 5 62 19 62 29 62 103 62 114 62 43 62 21 62 4 62-36 62-48 62-106 62-93 62-31 62-67 62-6 62 16 62-55 62-18 62-8 62 4 62 48 62 119"/>
<path d="M0 210l62 12 62-7 62 10 62 7 62 8 62 6 62 9 62 4 62 9 62 23 62 41 62 146 62 152 62 51 62 53 62 3 62-64 62-89 62-124 62-136 62-7 62-73 62 27 62-78 62-41 62-44 62 20 62-33 62 57 62 168"/>
<path d="M0 43l62 0 62-1 62 2 62 0 62 2 62 0 62 2 62 0 62 2 62 5 62 7 62 26 62 35 62 17 62 12 62 1 62-10 62-13 62-29 62-30 62-6 62-14 62 1 62-12 62-10 62-7 62 2 62 1 62 6 62 35"/>
<path d="M0 26l62 0 62-1 62 1 62 0 62 1 62 0 62 1 62 1 62 1 62 2 62 3 62 15 62 19 62 13 62 6 62 2 62-8 62-10 62-17 62-15 62-9 62-6 62 3 62-6 62-7 62 0 62-3 62 4 62 2 62 22"/>
<path d="M0 10l62 0 62 0 62 0 62 0 62 1 62 0 62 0 62 0 62 1 62 0 62 1 62 6 62 7 62 4 62 3 62 0 62-2 62-4 62-6 62-6 62 0 62-4 62 0 62-2 62-4 62 1 62 0 62-1 62 3 62 8"/>
<path d="M0 27l62 1 62-1 62 1 62 1 62 2 62 1 62 1 62 1 62 0 62 3 62 2 62 16 62 21 62 16 62 8 62 2 62-8 62-12 62-18 62-17 62-9 62-9 62 1 62-7 62-1 62-6 62-1 62 1 62 7 62 22"/>
<path d="M0 52l62 1 62-1 62 1 62 2 62 2 62 1 62 3 62 1 62 2 62 4 62 7 62 31 62 40 62 24 62 18 62-1 62-15 62-18 62-34 62-32 62-18 62-11 62-8 62-1 62-15 62-2 62-5 62 5 62 5 62 42"/>
<path d="M0 70l62 3 62-1 62 2 62 2 62 3 62 2 62 3 62 1 62 2 62 8 62 9 62 41 62 53 62 30 62 22 62 0 62-20 62-27 62-45 62-48 62-8 62-25 62 5 62-14 62-21 62-6 62-7 62-1 62 20 62 51"/>
<path d="M0 167l62 7 62-4 62 7 62 6 62 7 62 3 62 7 62 5 62 5 62 15 62 29 62 113 62 117 62 52 62 42 62 8 62-54 62-57 62-108 62-100 62-3 62-50 62-18 62-37 62-32 62-25 62-12 62-1 62 38 62 135"/>
<path d="M0 104l62 1 62-4 62 0 62 2 62 3 62 1 62 5 62 1 62 4 62 10 62 13 62 60 62 74 62 40 62 23 62 0 62-26 62-36 62-63 62-64 62-23 62-29 62 10 62-22 62-14 62-25 62 4 62 2 62 24 62 75"/>
<path d="M0 7l62 0 62 0 62 0 62 0 62 1 62 0 62 0 62 0 62 1 62 0 62 1 62 4 62 6 62 3 62 2 62 0 62-2 62-3 62-4 62-5 62-1 62-1 62-2 62 0 62-2 62-1 62 0 62 0 62 1 62 6"/>
<path d="M0 258l62 9 62-8 62 6 62 8 62 9 62 7 62 7 62 4 62 4 62 21 62 39 62 150 62 161 62 70 62 50 62 14 62-69 62-85 62-148 62-155 62-19 62-53 62-12 62-42 62-66 62-29 62-10 62-7 62 62 62 174"/>
<path d="M0 166l62 6 62-3 62 5 62 7 62 5 62 2 62 5 62 3 62 5 62 20 62 32 62 111 62 128 62 58 62 39 62-1 62-41 62-68 62-112 62-95 62-50 62-44 62-13 62-10 62-27 62-23 62-14 62 6 62 28 62 137"/>
<path d="M0 3l62 1 62-1 62 1 62 0 62 0 62 0 62 0 62 0 62 0 62 1 62 0 62 2 62 3 62 2 62 1 62 0 62-1 62-2 62-2 62-2 62-1 62-1 62 0 62-1 62-1 62 0 62 0 62 0 62 1 62 3"/>
<path d="M0 208l62 10 62-7 62 6 62 5 62 11 62 6 62 8 62 2 62 8 62 23 62 39 62 133 62 152 62 57 62 60 62-11 62-57 62-69 62-141 62-136 62-37 62-31 62-24 62-4 62-99 62 18 62-29 62-10 62 63 62 162"/>
<path d="M0 131l62 6 62-3 62 6 62 6 62 4 62 1 62 3 62 0 62 4 62 14 62 21 62 86 62 105 62 48 62 38 62 7 62-46 62-42 62-83 62-86 62-31 62-59 62-8 62-1 62-27 62-28 62 1 62 2 62 31 62 109"/>
<path d="M0 23l62 0 62 0 62 0 62 1 62 1 62 0 62 1 62 0 62 1 62 3 62 3 62 14 62 19 62 11 62 8 62 1 62-9 62-10 62-15 62-17 62-2 62-5 62 2 62-11 62 0 62-4 62 0 62-3 62 6 62 20"/>
<path d="M0 251l62 8 62-10 62 5 62 4 62 10 62 4 62 9 62 2 62 11 62 22 62 45 62 157 62 166 62 70 62 54 62-3 62-64 62-92 62-148 62-148 62-20 62-81 62-30 62-40 62-33 62 9 62-32 62 2 62 54 62 173"/>
<path d="M0 39l62 1 62-1 62 1 62 2 62 1 62 1 62 2 62 0 62 1 62 4 62 5 62 22 62 31 62 18 62 13 62-1 62-11 62-14 62-24 62-25 62-9 62-9 62-5 62-12 62 0 62-8 62 3 62-2 62 9 62 32"/>
<path d="M0 186l62 4 62-5 62 7 62 5 62 7 62 3 62 6 62 0 62 6 62 19 62 34 62 114 62 127 62 50 62 37 62 7 62-52 62-66 62-107 62-110 62-66 62-14 62-3 62-51 62-24 62-4 62-14 62-4 62 46 62 136"/>
<path d="M0 9l62 0 62 0 62 0 62 1 62 0 62 0 62 1 62 0 62 0 62 1 62 1 62 5 62 7 62 5 62 3 62 0 62-3 62-3 62-7 62-5 62-1 62-4 62 0 62-2 62-2 62-1 62 1 62-1 62 1 62 9"/>
<path d="M0 71l62 1 62-2 62 1 62 3 62 2 62 1 62 2 62 1 62 4 62 9 62 13 62 50 62 62 62 34 62 17 62 1 62-15 62-29 62-49 62-49 62-16 62-32 62-2 62-21 62-5 62-11 62 0 62-6 62 29 62 65"/>
<path d="M0 276l62 8 62-9 62 6 62 9 62 8 62 10 62 11 62 4 62 7 62 28 62 48 62 183 62 176 62 84 62 68 62-8 62-75 62-106 62-157 62-159 62-24 62-100 62 13 62-16 62-89 62-50 62-19 62 12 62 55 62 200"/>
<path d="M0 184l62 5 62-7 62 6 62 4 62 8 62 4 62 5 62 5 62 4 62 19 62 30 62 114 62 133 62 58 62 44 62 7 62-64 62-67 62-109 62-107 62-19 62-67 62-17 62-14 62-42 62-31 62-10 62 11 62 40 62 155"/>
<path d="M0 162l62 7 62-2 62 6 62 10 62 6 62 4 62 6 62 3 62 4 62 16 62 32 62 111 62 126 62 52 62 35 62 4 62-47 62-58 62-105 62-110 62-43 62-28 62-2 62-37 62-55 62-6 62-3 62-2 62 29 62 145"/>
<path d="M0 127l62 5 62-5 62 3 62 3 62 4 62 3 62 4 62 2 62 5 62 13 62 21 62 81 62 97 62 45 62 37 62-5 62-37 62-41 62-80 62-71 62-24 62-38 62-16 62 0 62-20 62-43 62-12 62 1 62 32 62 106"/>
<path d="M0 117l62 2 62-3 62 3 62 2 62 4 62 3 62 4 62 2 62 3 62 9 62 19 62 69 62 82 62 43 62 24 62 3 62-22 62-37 62-72 62-75 62-45 62 6 62-27 62 6 62-51 62-3 62 1 62-11 62 25 62 103"/>
<path d="M0 99l62 3 62-4 62 3 62 4 62 3 62 1 62 3 62 0 62 5 62 8 62 14 62 61 62 78 62 42 62 19 62 2 62-28 62-39 62-64 62-58 62-3 62-34 62 2 62-35 62-12 62-17 62 2 62-9 62 22 62 86"/>
<path d="M0 193l62 8 62-7 62 4 62 5 62 9 62 7 62 7 62 4 62 7 62 20 62 38 62 132 62 150 62 62 62 51 62 1 62-58 62-82 62-114 62-116 62-41 62-50 62-42 62-15 62-38 62-32 62-12 62 10 62 48 62 174"/>
<path d="M0 265l62 7 62-10 62 8 62 3 62 10 62 6 62 12 62 2 62 10 62 25 62 47 62 170 62 182 62 55 62 82 62-4 62-68 62-93 62-154 62-161 62-60 62-63 62 5 62-47 62-48 62-59 62 13 62-1 62 70 62 190"/>
<path d="M0 248l62 7 62-3 62 12 62 8 62 9 62 5 62 12 62 0 62 9 62 25 62 44 62 167 62 181 62 58 62 60 62-4 62-66 62-93 62-151 62-158 62-10 62-75 62-8 62-32 62-51 62-43 62-29 62 7 62 64 62 189"/>
<path d="M0 128l62 4 62-3 62 5 62 3 62 4 62 4 62 5 62 1 62 5 62 14 62 18 62 76 62 91 62 56 62 35 62 9 62-42 62-52 62-78 62-77 62-19 62-13 62-11 62-52 62-9 62-34 62-4 62 2 62 29 62 113"/>
<path d="M0 192l62 10 62-6 62 7 62 7 62 11 62 4 62 11 62 1 62 6 62 16 62 29 62 124 62 130 62 64 62 68 62 3 62-59 62-78 62-116 62-124 62-19 62-33 62-8 62-60 62-43 62-37 62 15 62-3 62 41 62 147"/>
<path d="M0 16l62 1 62 0 62 0 62 1 62 0 62 1 62 0 62 0 62 1 62 1 62 2 62 9 62 13 62 8 62 6 62 1 62-5 62-7 62-11 62-9 62-4 62-6 62-3 62 0 62-4 62-2 62 0 62 1 62 1 62 17"/>
<path d="M0 115l62 3 62-3 62 3 62 4 62 4 62 4 62 3 62 2 62 3 62 12 62 16 62 73 62 88 62 38 62 26 62 8 62-48 62-42 62-73 62-64 62-8 62-4 62-38 62-19 62-33 62-15 62 0 62 4 62 28 62 87"/>
<path d="M0 138l62 6 62-3 62 7 62 6 62 4 62 5 62 8 62 2 62 4 62 14 62 23 62 86 62 106 62 48 62 43 62 0 62-42 62-43 62-90 62-98 62-24 62-20 62-11 62-35 62-21 62-29 62-8 62-13 62 44 62 109"/>
<path d="M0 205l62 9 62-8 62 9 62 10 62 8 62 6 62 10 62 3 62 11 62 24 62 42 62 144 62 148 62 55 62 53 62 0 62-57 62-92 62-127 62-130 62-67 62-50 62 14 62-38 62-40 62-31 62-25 62 7 62 60 62 165"/>
<path d="M0 180l62 6 62-4 62 6 62 7 62 5 62 3 62 6 62 0 62 7 62 22 62 31 62 119 62 127 62 58 62 43 62 3 62-45 62-57 62-116 62-123 62-20 62-36 62 11 62-32 62-60 62-42 62-10 62 7 62 27 62 153"/>
<path d="M0 8l62 0 62 0 62 0 62 0 62 1 62 0 62 0 62 1 62 0 62 1 62 1 62 5 62 6 62 4 62 2 62 0 62-1 62-3 62-5 62-7 62-1 62-2 62 1 62-2 62-2 62-3 62 0 62 1 62 2 62 6"/>
<path d="M0 307l62 10 62-12 62 12 62 8 62 9 62 7 62 9 62 6 62 8 62 34 62 63 62 201 62 210 62 60 62 52 62 28 62-92 62-105 62-175 62-170 62-65 62-57 62 3 62-68 62-88 62-44 62-6 62 4 62 86 62 216"/>
<path d="M0 83l62 3 62-3 62 3 62 2 62 2 62 2 62 3 62 0 62 2 62 8 62 10 62 50 62 64 62 32 62 27 62 0 62-26 62-28 62-51 62-55 62-30 62-13 62 4 62-13 62-10 62-19 62-4 62 0 62 9 62 77"/>
<path d="M0 249l62 11 62-7 62 9 62 9 62 10 62 9 62 11 62 6 62 10 62 30 62 54 62 179 62 176 62 47 62 45 62 7 62-84 62-82 62-165 62-165 62-77 62-18 62-68 62 18 62-45 62-34 62-29 62 7 62 60 62 197"/>
<path d="M0 143l62 5 62-5 62 4 62 3 62 4 62 3 62 4 62 0 62 4 62 14 62 17 62 79 62 96 62 54 62 43 62 16 62-52 62-58 62-81 62-82 62-3 62-39 62-17 62-24 62-22 62-20 62-12 62-5 62 41 62 108"/>
<path d="M0 164l62 6 62-6 62 4 62 4 62 8 62 3 62 10 62 1 62 5 62 16 62 28 62 108 62 118 62 53 62 41 62-3 62-49 62-66 62-107 62-100 62-46 62-27 62-20 62-13 62-21 62-31 62 4 62-2 62 34 62 131"/>
<path d="M0 25l62 1 62-1 62 0 62 1 62 1 62 0 62 1 62 0 62 1 62 2 62 3 62 14 62 19 62 11 62 7 62 0 62-7 62-10 62-15 62-13 62-7 62-5 62-1 62-6 62-4 62-4 62 0 62-1 62 8 62 19"/>
<path d="M0 181l62 8 62-5 62 7 62 7 62 7 62 2 62 9 62 4 62 7 62 20 62 35 62 129 62 149 62 53 62 43 62 3 62-54 62-76 62-108 62-118 62-40 62-27 62-41 62-1 62-57 62-25 62-15 62 26 62 36 62 134"/>
<path d="M0 54l62 3 62-2 62 2 62 2 62 2 62 1 62 3 62 1 62 2 62 6 62 8 62 34 62 45 62 24 62 21 62-1 62-18 62-22 62-38 62-36 62-9 62-19 62-5 62-11 62-5 62-9 62 6 62-8 62 12 62 53"/>
<path d="M0 171l62 4 62-5 62 4 62 4 62 8 62 3 62 6 62 1 62 7 62 16 62 25 62 100 62 118 62 55 62 59 62 1 62-56 62-62 62-104 62-100 62-41 62-54 62 1 62-60 62 20 62-30 62 7 62 1 62 13 62 155"/>
<path d="M0 123l62 3 62-3 62 4 62 4 62 5 62 2 62 5 62-1 62 8 62 15 62 20 62 75 62 92 62 45 62 37 62 4 62-40 62-48 62-76 62-80 62-19 62-26 62-4 62-11 62-46 62-16 62-13 62 9 62 36 62 89"/>
<path d="M0 19l62 1 62-1 62 1 62 0 62 1 62 0 62 1 62 1 62 0 62 2 62 3 62 11 62 16 62 10 62 5 62 1 62-6 62-8 62-13 62-13 62-3 62-3 62-5 62-3 62-4 62-2 62 1 62-1 62 2 62 19"/>
<path d="M0 100l62 3 62-3 62 3 62 4 62 2 62 2 62 3 62 0 62 2 62 12 62 15 62 63 62 79 62 36 62 19 62 1 62-17 62-39 62-65 62-66 62-24 62-19 62 2 62-25 62-16 62-5 62-18 62-2 62 20 62 86"/>
<path d="M0 258l62 3 62-8 62 5 62 4 62 6 62 7 62 8 62 2 62 8 62 27 62 40 62 154 62 164 62 77 62 71 62 1 62-69 62-80 62-157 62-144 62-61 62-82 62 20 62-47 62-46 62-23 62-11 62-8 62 49 62 186"/>
<path d="M0 148l62 4 62-6 62 5 62 4 62 5 62 6 62 6 62 0 62 4 62 13 62 19 62 92 62 111 62 55 62 31 62 12 62-51 62-57 62-88 62-100 62-24 62-28 62 7 62-61 62 9 62-34 62-10 62 9 62 29 62 110"/>
<path d="M0 127l62 5 62-4 62 6 62 5 62 4 62 4 62 6 62 1 62 3 62 11 62 17 62 77 62 90 62 47 62 27 62 6 62-39 62-51 62-76 62-78 62-7 62-47 62 4 62-15 62-39 62-6 62-10 62-2 62 32 62 95"/>
<path d="M0 260l62 8 62-6 62 7 62 12 62 6 62 7 62 11 62 0 62 10 62 25 62 57 62 183 62 185 62 56 62 37 62 8 62-58 62-79 62-167 62-178 62-91 62-42 62-14 62-25 62-48 62-14 62-17 62-10 62 44 62 216"/>
<path d="M0 22l62 0 62 0 62 1 62 1 62 1 62 0 62 1 62 0 62 1 62 2 62 2 62 12 62 18 62 10 62 8 62 0 62-8 62-9 62-13 62-13 62-3 62-9 62 0 62-7 62-1 62-3 62-1 62 0 62 4 62 19"/>
<path d="M0 23l62 1 62 0 62 1 62 0 62 1 62 1 62 0 62 1 62 0 62 3 62 2 62 13 62 18 62 12 62 10 62-1 62-8 62-9 62-15 62-15 62-7 62-7 62-1 62-1 62-6 62-2 62-1 62 0 62 7 62 18"/>
<path d="M0 282l62 9 62-10 62 9 62 9 62 11 62 4 62 10 62 2 62 9 62 25 62 50 62 171 62 188 62 83 62 80 62-7 62-89 62-101 62-179 62-168 62-31 62-108 62 9 62-53 62-34 62-26 62-22 62 12 62 46 62 233"/>
<path d="M0 24l62 1 62-1 62 1 62 0 62 1 62 0 62 1 62 0 62 1 62 3 62 3 62 13 62 18 62 12 62 7 62 0 62-7 62-8 62-15 62-15 62-5 62-9 62 7 62-8 62-7 62-4 62 0 62-1 62 5 62 22"/>
<path d="M0 62l62 1 62-1 62 1 62 2 62 2 62 2 62 2 62 0 62 3 62 5 62 8 62 35 62 44 62 28 62 20 62-2 62-14 62-24 62-39 62-41 62-6 62-21 62-6 62-3 62-11 62-8 62-10 62 1 62 15 62 53"/>
<path d="M0 172l62 6 62-3 62 8 62 5 62 4 62 4 62 7 62 1 62 3 62 18 62 28 62 102 62 114 62 58 62 42 62-3 62-45 62-66 62-97 62-102 62-16 62-49 62-13 62-20 62-37 62-31 62-1 62 2 62 35 62 143"/>
<path d="M0 26l62 1 62-1 62 1 62 1 62 0 62 1 62 1 62 0 62 1 62 2 62 2 62 14 62 18 62 13 62 6 62 0 62-8 62-9 62-15 62-15 62-4 62-10 62 1 62-6 62-3 62-4 62 1 62-1 62 6 62 19"/>
<path d="M0 67l62 3 62-2 62 2 62 2 62 3 62 1 62 3 62 0 62 2 62 7 62 9 62 39 62 49 62 30 62 14 62 5 62-16 62-23 62-44 62-47 62-5 62-31 62-1 62-14 62-3 62-8 62-4 62-5 62 18 62 52"/>
<path d="M0 253l62 10 62-9 62 10 62 8 62 11 62 6 62 10 62 5 62 5 62 21 62 43 62 167 62 175 62 70 62 69 62 7 62-86 62-97 62-152 62-165 62-44 62-50 62-31 62-35 62-27 62-49 62 3 62 9 62 62 62 169"/>
<path d="M0 197l62 10 62-4 62 10 62 10 62 5 62 5 62 8 62-1 62 10 62 23 62 42 62 137 62 160 62 62 62 46 62-1 62-57 62-75 62-129 62-139 62-22 62-81 62 44 62-96 62-15 62-27 62-36 62 28 62 65 62 147"/>
<path d="M0 141l62 4 62-6 62 4 62 4 62 3 62 1 62 5 62 1 62 4 62 13 62 20 62 86 62 98 62 54 62 46 62-5 62-33 62-54 62-80 62-90 62-3 62-46 62-29 62 5 62-44 62-9 62-21 62 1 62 43 62 108"/>
<path d="M0 73l62 3 62-3 62 2 62 2 62 3 62 2 62 2 62 1 62 3 62 9 62 8 62 41 62 50 62 32 62 24 62 0 62-24 62-26 62-49 62-47 62-8 62-14 62 0 62-18 62-17 62-9 62-4 62 0 62 21 62 50"/>
<path d="M0 155l62 7 62-5 62 5 62 7 62 8 62 3 62 8 62 3 62 1 62 17 62 23 62 104 62 116 62 56 62 25 62 3 62-37 62-56 62-96 62-90 62-21 62-56 62-4 62-22 62-37 62-36 62-5 62 11 62 28 62 121"/>
<path d="M0 247l62 13 62-8 62 7 62 10 62 8 62 5 62 7 62 2 62 7 62 29 62 51 62 172 62 180 62 58 62 51 62-6 62-54 62-85 62-161 62-147 62-76 62-30 62-35 62-50 62-49 62-8 62-10 62-4 62 64 62 189"/>
<path d="M0 132l62 5 62-4 62 4 62 6 62 5 62 4 62 7 62 2 62 5 62 15 62 21 62 88 62 101 62 50 62 38 62 2 62-44 62-49 62-85 62-90 62 0 62-82 62 16 62-16 62-25 62-34 62-3 62 0 62 10 62 132"/>
<path d="M0 104l62 5 62-4 62 4 62 3 62 5 62 5 62 4 62 2 62 3 62 9 62 14 62 68 62 82 62 43 62 36 62-6 62-26 62-39 62-72 62-70 62-30 62-34 62 9 62-36 62-8 62-17 62-2 62 7 62 23 62 87"/>
<path d="M0 233l62 8 62-8 62 9 62 9 62 8 62 6 62 9 62 3 62 5 62 22 62 39 62 146 62 160 62 63 62 61 62-3 62-73 62-90 62-131 62-133 62-2 62-86 62 3 62-67 62-24 62-43 62 2 62-11 62 26 62 197"/>
<path d="M0 83l62 2 62-3 62 1 62 3 62 2 62 2 62 3 62 0 62 4 62 8 62 12 62 49 62 58 62 35 62 24 62-2 62-16 62-30 62-52 62-57 62-19 62-22 62-4 62-10 62-25 62-5 62 5 62-3 62 22 62 59"/>
<path d="M0 110l62 3 62-5 62 4 62 3 62 3 62 2 62 2 62 1 62 5 62 9 62 13 62 62 62 81 62 47 62 35 62 0 62-34 62-42 62-69 62-69 62-15 62-32 62 2 62-46 62 5 62-16 62 1 62-9 62 27 62 92"/>
<path d="M0 204l62 6 62-8 62 3 62 6 62 5 62 8 62 5 62 2 62 8 62 17 62 39 62 131 62 145 62 52 62 32 62 25 62-53 62-67 62-127 62-129 62-16 62-61 62 10 62-28 62-90 62-24 62 16 62-11 62 52 62 159"/>
<path d="M0 7l62 1 62-1 62 1 62 0 62 0 62 0 62 1 62 0 62 0 62 1 62 0 62 4 62 6 62 4 62 3 62-1 62-3 62-2 62-5 62-5 62-1 62-3 62 0 62-1 62 0 62-2 62-1 62 2 62 2 62 5"/>
<path d="M0 99l62 3 62-2 62 3 62 4 62 3 62 3 62 4 62 2 62 5 62 11 62 16 62 63 62 76 62 39 62 32 62-2 62-32 62-42 62-62 62-61 62-24 62-24 62-8 62-12 62-20 62-21 62-5 62-7 62 46 62 74"/>
<path d="M0 115l62 3 62-4 62 5 62 4 62 6 62 3 62 6 62 2 62 4 62 13 62 16 62 71 62 85 62 44 62 34 62 9 62-35 62-43 62-76 62-69 62-10 62-55 62 33 62-43 62-15 62-37 62-8 62 2 62 24 62 97"/>
<path d="M0 75l62 4 62-2 62 4 62 4 62 1 62 2 62 3 62 0 62 2 62 8 62 11 62 45 62 55 62 30 62 18 62-1 62-19 62-28 62-47 62-51 62-31 62 7 62-20 62-3 62-21 62-10 62 8 62-8 62 14 62 64"/>
<path d="M0 12l62 1 62 0 62 0 62 0 62 1 62 0 62 0 62 0 62 1 62 1 62 1 62 8 62 10 62 6 62 4 62 0 62-3 62-5 62-8 62-9 62-3 62-3 62 0 62-1 62-4 62-1 62-1 62 1 62 2 62 10"/>
<path d="M0 155l62 5 62-4 62 5 62 5 62 3 62 2 62 4 62-2 62 7 62 18 62 24 62 96 62 115 62 47 62 34 62 6 62-56 62-52 62-99 62-83 62-25 62-18 62-23 62-29 62-21 62-24 62-4 62-4 62 35 62 113"/>
<path d="M0 85l62 3 62-3 62 2 62 4 62 4 62 2 62 5 62 1 62 2 62 8 62 8 62 49 62 63 62 34 62 36 62-7 62-23 62-32 62-54 62-56 62-21 62-9 62-3 62-21 62-19 62-15 62 6 62-1 62 18 62 58"/>
<path d="M0 186l62 7 62-7 62 7 62 6 62 8 62 2 62 6 62 1 62 11 62 25 62 38 62 129 62 138 62 55 62 41 62-5 62-49 62-62 62-126 62-125 62-58 62-19 62-18 62-15 62-33 62-58 62 12 62-1 62 49 62 159"/>
<path d="M0 56l62 2 62-2 62 2 62 1 62 2 62 1 62 2 62 0 62 2 62 5 62 6 62 33 62 44 62 24 62 15 62-1 62-14 62-23 62-34 62-37 62-7 62-18 62 8 62-21 62-12 62-5 62-2 62-1 62 14 62 45"/>
<path d="M0 214l62 9 62-9 62 7 62 4 62 8 62 2 62 10 62 0 62 11 62 22 62 41 62 141 62 157 62 55 62 53 62 4 62-49 62-79 62-128 62-133 62-70 62-28 62-70 62 6 62-45 62-35 62 5 62 17 62 39 62 163"/>
<path d="M0 159l62 5 62-5 62 5 62 5 62 5 62 5 62 6 62 2 62 4 62 17 62 28 62 104 62 125 62 39 62 36 62 1 62-31 62-58 62-100 62-106 62-47 62-7 62-5 62-45 62-15 62-35 62-11 62-7 62 38 62 129"/>
<path d="M0 168l62 7 62-6 62 7 62 7 62 6 62 4 62 8 62 0 62 6 62 17 62 26 62 100 62 120 62 62 62 44 62 11 62-62 62-65 62-101 62-106 62-21 62-61 62-11 62-3 62-64 62-2 62-5 62 13 62 31 62 139"/>
<path d="M0 111l62 5 62-5 62 4 62 3 62 5 62 3 62 5 62 1 62 4 62 10 62 16 62 68 62 82 62 41 62 30 62-1 62-39 62-40 62-70 62-68 62-10 62-36 62 4 62-21 62-26 62-18 62-6 62-1 62 29 62 94"/>
<path d="M0 79l62 2 62-1 62 3 62 2 62 4 62 3 62 2 62 3 62 2 62 9 62 10 62 49 62 60 62 36 62 29 62-1 62-23 62-30 62-54 62-50 62-15 62-18 62-4 62 4 62-29 62-22 62-2 62-11 62 33 62 60"/>
<path d="M0 121l62 5 62-5 62 4 62 4 62 5 62 1 62 6 62 3 62 4 62 14 62 20 62 81 62 94 62 50 62 32 62 7 62-37 62-46 62-80 62-87 62-24 62-38 62 2 62-45 62-6 62-22 62 4 62-12 62 46 62 98"/>
<path d="M0 219l62 9 62-7 62 7 62 8 62 9 62 4 62 12 62 3 62 5 62 25 62 42 62 141 62 153 62 58 62 60 62-3 62-42 62-81 62-140 62-151 62-78 62-44 62 7 62-21 62-37 62-38 62-26 62 18 62 35 62 183"/>
<path d="M0 106l62 3 62-3 62 2 62 4 62 4 62 3 62 4 62 2 62 4 62 13 62 16 62 64 62 81 62 44 62 34 62-2 62-33 62-37 62-74 62-62 62-19 62-15 62 16 62-22 62-51 62-20 62-5 62 5 62 36 62 79"/>
<path d="M0 96l62 3 62-3 62 3 62 4 62 2 62 2 62 3 62 0 62 3 62 8 62 12 62 54 62 67 62 40 62 23 62 2 62-34 62-32 62-57 62-60 62-15 62-18 62 7 62-27 62-18 62-21 62 2 62 4 62 21 62 75"/>
<path d="M0 138l62 7 62-4 62 6 62 6 62 3 62 4 62 6 62 0 62 5 62 11 62 17 62 82 62 102 62 50 62 41 62-5 62-38 62-54 62-87 62-87 62-18 62-21 62 17 62-40 62-39 62-19 62-21 62 16 62 28 62 110"/>
<path d="M0 54l62 2 62-1 62 1 62 2 62 2 62 1 62 2 62 1 62 3 62 6 62 9 62 35 62 42 62 25 62 9 62 4 62-10 62-18 62-41 62-39 62-14 62-10 62-1 62-17 62-8 62-9 62 5 62-6 62 13 62 42"/>
<path d="M0 34l62 2 62-1 62 2 62 2 62 1 62 1 62 2 62 0 62 1 62 3 62 4 62 21 62 28 62 16 62 12 62-1 62-14 62-15 62-22 62-23 62-7 62-5 62-4 62-4 62-7 62-7 62-4 62 2 62 11 62 25"/>
<path d="M0 112l62 3 62-4 62 3 62 2 62 4 62 6 62 5 62 1 62 4 62 14 62 20 62 74 62 86 62 34 62 24 62 6 62-30 62-42 62-69 62-71 62-11 62-28 62-14 62 0 62-44 62-13 62-15 62 8 62 26 62 86"/>
<path d="M0 142l62 4 62-6 62 5 62 5 62 3 62 4 62 5 62 2 62 1 62 15 62 21 62 84 62 98 62 55 62 25 62 7 62-28 62-53 62-86 62-83 62-23 62-55 62 6 62-32 62-20 62-2 62-21 62 3 62 42 62 100"/>
<path d="M0 132l62 3 62-4 62 3 62 2 62 6 62 5 62 5 62 3 62 5 62 13 62 18 62 77 62 93 62 49 62 46 62 3 62-48 62-51 62-87 62-75 62-36 62-31 62-7 62-21 62-11 62-26 62 6 62 1 62 26 62 107"/>
<path d="M0 13l62 1 62-1 62 1 62 0 62 1 62 0 62 0 62 1 62 0 62 2 62 1 62 8 62 11 62 7 62 3 62 2 62-5 62-5 62-9 62-9 62-3 62-4 62 3 62-4 62-4 62-3 62 0 62 0 62 5 62 11"/>
<path d="M0 2l62 0 62 0 62 0 62 0 62 0 62 0 62 0 62 0 62 0 62 0 62 1 62 1 62 1 62 1 62 1 62 0 62-1 62-1 62-1 62-1 62-1 62 0 62 0 62 0 62-1 62 0 62 0 62 0 62 0 62 2"/>
<path d="M0 3l62 0 62 0 62 0 62 0 62 0 62 1 62 0 62 0 62 0 62 0 62 0 62 2 62 3 62 1 62 1 62 0 62 0 62-2 62-2 62-2 62-1 62 0 62 0 62-1 62-1 62 0 62 0 62 0 62 1 62 2"/>
<path d="M0 141l62 5 62-5 62 6 62 5 62 4 62 5 62 5 62 2 62 8 62 16 62 25 62 95 62 116 62 53 62 43 62 2 62-49 62-58 62-95 62-106 62-7 62-62 62-9 62-19 62-23 62-32 62 10 62 7 62 10 62 132"/>
<path d="M0 222l62 7 62-8 62 9 62 5 62 10 62 1 62 8 62 0 62 6 62 18 62 37 62 132 62 148 62 61 62 42 62 10 62-57 62-68 62-132 62-119 62-66 62-26 62-50 62-18 62-27 62-23 62-18 62 6 62 20 62 175"/>
<path d="M0 185l62 6 62-4 62 8 62 6 62 8 62 4 62 5 62 1 62 6 62 16 62 32 62 118 62 142 62 53 62 53 62-10 62-58 62-69 62-103 62-119 62-12 62-73 62-27 62-19 62-10 62-24 62-12 62-7 62 42 62 145"/>
<path d="M0 149l62 7 62-4 62 8 62 5 62 5 62 1 62 4 62 0 62 4 62 15 62 25 62 90 62 108 62 52 62 37 62 1 62-47 62-52 62-92 62-83 62-62 62-9 62-28 62-18 62-29 62-3 62 0 62-13 62 28 62 125"/>
<path d="M0 154l62 7 62-5 62 6 62 4 62 6 62 2 62 5 62 3 62 3 62 16 62 25 62 100 62 115 62 54 62 39 62 2 62-59 62-53 62-93 62-97 62-4 62-57 62 9 62-25 62-50 62-32 62 1 62 7 62 32 62 115"/>
<path d="M0 60l62 1 62-2 62 1 62 1 62 3 62 2 62 2 62 2 62 2 62 6 62 7 62 36 62 46 62 24 62 14 62 1 62-15 62-21 62-38 62-36 62-19 62-10 62-10 62-4 62-10 62-7 62-4 62 0 62 13 62 48"/>
<path d="M0 266l62 9 62-6 62 9 62 9 62 7 62 10 62 13 62 2 62 11 62 29 62 57 62 178 62 186 62 59 62 56 62 7 62-77 62-106 62-163 62-170 62-38 62-49 62-29 62-47 62-47 62-41 62-1 62-18 62 76 62 237"/>
<path d="M0 43l62 2 62-2 62 1 62 1 62 2 62 0 62 1 62 1 62 1 62 5 62 4 62 25 62 31 62 20 62 12 62 0 62-12 62-15 62-26 62-26 62-12 62-12 62-1 62-6 62-8 62-8 62 5 62-7 62 6 62 41"/>
<path d="M0 266l62 11 62-3 62 11 62 9 62 13 62 7 62 11 62 3 62 9 62 33 62 64 62 189 62 194 62 50 62 51 62-2 62-87 62-102 62-166 62-164 62-16 62-116 62 7 62-47 62-8 62-80 62-16 62 12 62 51 62 216"/>
<path d="M0 59l62 2 62-1 62 2 62 2 62 2 62 2 62 2 62 0 62 2 62 7 62 9 62 36 62 47 62 24 62 14 62 0 62-17 62-20 62-38 62-41 62-5 62-15 62-12 62 5 62-20 62-12 62-4 62-3 62 16 62 54"/>
<path d="M0 95l62 5 62-3 62 4 62 2 62 4 62 4 62 3 62 1 62 4 62 8 62 12 62 60 62 75 62 40 62 27 62 1 62-32 62-37 62-57 62-57 62-14 62-31 62 1 62-26 62-18 62-19 62-4 62 8 62 22 62 78"/>
<path d="M0 100l62 2 62-3 62 3 62 3 62 4 62 3 62 5 62 3 62 1 62 8 62 13 62 62 62 73 62 38 62 30 62 7 62-34 62-40 62-65 62-68 62-17 62-26 62-1 62-28 62-7 62-9 62-2 62-6 62 25 62 79"/>
<path d="M0 200l62 9 62-5 62 5 62 8 62 8 62 5 62 8 62 4 62 5 62 19 62 33 62 129 62 146 62 55 62 48 62-6 62-46 62-69 62-124 62-127 62-17 62-88 62 33 62-68 62-36 62-16 62-5 62-20 62 63 62 133"/>
<path d="M0 77l62 3 62-4 62 3 62 3 62 4 62 2 62 5 62 2 62 1 62 8 62 9 62 46 62 60 62 30 62 19 62-2 62-22 62-30 62-46 62-47 62-9 62-6 62-26 62-3 62-21 62-6 62-21 62 13 62 11 62 65"/>
<path d="M0 220l62 8 62-8 62 7 62 6 62 11 62 7 62 10 62 4 62 5 62 23 62 40 62 145 62 155 62 57 62 52 62 5 62-68 62-83 62-125 62-136 62-40 62-50 62-39 62-36 62 2 62-43 62-6 62-27 62 73 62 146"/>
<path d="M0 102l62 3 62-4 62 3 62 2 62 3 62 4 62 3 62 2 62 3 62 10 62 15 62 65 62 79 62 39 62 26 62-2 62-24 62-36 62-64 62-62 62-17 62-43 62 5 62-22 62-19 62-13 62 1 62 1 62 18 62 86"/>
<path d="M0 185l62 4 62-7 62 6 62 5 62 7 62 6 62 7 62 2 62 9 62 17 62 34 62 122 62 134 62 56 62 49 62-1 62-63 62-79 62-108 62-115 62-30 62-39 62-18 62-30 62-40 62 5 62-27 62 2 62 50 62 141"/>
<path d="M0 31l62 1 62-1 62 1 62 1 62 2 62 1 62 1 62 1 62 0 62 3 62 4 62 17 62 23 62 16 62 9 62 0 62-10 62-11 62-21 62-21 62-8 62-10 62 8 62-8 62-6 62-5 62-1 62-4 62 11 62 22"/>
<path d="M0 153l62 7 62-7 62 5 62 6 62 5 62 4 62 7 62 2 62 4 62 16 62 23 62 95 62 112 62 53 62 32 62 9 62-43 62-63 62-90 62-92 62-19 62-29 62-6 62-62 62-12 62-19 62-25 62 12 62 30 62 122"/>
<path d="M0 265l62 6 62-12 62 8 62 2 62 14 62 2 62 9 62 4 62 9 62 26 62 49 62 175 62 181 62 67 62 39 62 6 62-93 62-96 62-134 62-148 62-70 62-77 62-22 62-4 62-44 62-33 62-4 62-19 62 61 62 204"/>
<path d="M0 153l62 6 62-4 62 7 62 6 62 6 62 4 62 4 62 2 62 4 62 17 62 28 62 100 62 119 62 45 62 32 62 8 62-50 62-53 62-97 62-95 62-39 62-35 62-19 62-30 62-17 62-22 62-3 62 2 62 24 62 133"/>
<path d="M0 71l62 2 62-3 62 3 62 1 62 3 62 2 62 3 62 0 62 2 62 6 62 8 62 40 62 52 62 34 62 27 62-1 62-17 62-28 62-45 62-48 62-7 62-23 62 4 62-23 62-15 62-5 62-7 62 2 62 12 62 61"/>
<path d="M0 40l62 2 62-1 62 1 62 2 62 1 62 2 62 1 62 1 62 1 62 4 62 5 62 24 62 29 62 21 62 11 62 0 62-10 62-16 62-25 62-28 62-10 62-11 62-4 62-6 62-2 62-12 62 3 62-2 62 14 62 26"/>
<path d="M0 37l62 1 62-2 62 1 62 1 62 1 62 1 62 1 62-1 62 1 62 4 62 4 62 21 62 26 62 15 62 13 62-2 62-8 62-13 62-21 62-24 62-5 62-13 62-7 62-1 62-6 62-5 62 0 62-1 62 4 62 33"/>
<path d="M0 47l62 1 62-1 62 1 62 2 62 1 62 2 62 2 62 1 62 1 62 4 62 5 62 29 62 35 62 22 62 14 62-1 62-17 62-15 62-32 62-28 62-14 62-7 62-3 62-6 62-11 62-5 62-2 62-1 62 8 62 43"/>
<path d="M0 54l62 1 62-1 62 1 62 1 62 2 62 1 62 2 62 0 62 2 62 5 62 7 62 31 62 42 62 23 62 15 62 1 62-18 62-17 62-35 62-36 62-10 62-11 62-1 62-11 62-14 62-6 62 4 62-6 62 19 62 37"/>
<path d="M0 196l62 8 62-7 62 7 62 6 62 7 62 5 62 9 62 2 62 4 62 19 62 26 62 117 62 134 62 66 62 56 62 4 62-57 62-70 62-124 62-123 62-36 62-77 62 34 62-54 62-19 62-44 62 1 62-6 62 50 62 148"/>
<path d="M0 22l62 1 62 0 62 1 62 1 62 0 62 1 62 1 62 0 62 1 62 2 62 2 62 14 62 18 62 12 62 9 62-1 62-8 62-9 62-15 62-14 62-5 62-5 62 0 62-4 62-8 62-3 62 0 62-3 62 7 62 20"/>
<path d="M0 145l62 5 62-4 62 4 62 2 62 8 62 2 62 7 62 3 62 5 62 15 62 25 62 90 62 107 62 54 62 31 62 0 62-44 62-56 62-87 62-87 62-29 62-25 62-5 62-48 62-16 62-39 62 9 62-2 62 36 62 114"/>
<path d="M0 286l62 13 62-11 62 9 62 6 62 7 62 9 62 9 62 5 62 5 62 30 62 56 62 182 62 199 62 69 62 73 62 19 62-103 62-85 62-174 62-183 62-17 62-121 62-40 62-4 62-62 62-58 62 26 62 2 62 38 62 209"/>
<path d="M0 265l62 11 62-2 62 8 62 14 62 12 62 12 62 15 62 5 62 1 62 27 62 58 62 190 62 200 62 57 62 30 62 8 62-64 62-101 62-171 62-177 62-43 62-59 62-63 62 13 62-22 62-50 62-57 62 26 62 53 62 216"/>
<path d="M0 267l62 6 62-7 62 8 62 5 62 8 62 8 62 9 62 6 62 9 62 31 62 61 62 183 62 205 62 57 62 59 62 17 62-79 62-99 62-170 62-163 62-34 62-105 62 23 62-79 62-7 62-68 62 5 62-23 62 71 62 225"/>
<path d="M0 48l62 1 62-2 62 2 62 1 62 2 62 1 62 2 62 0 62 2 62 5 62 7 62 29 62 39 62 20 62 13 62 1 62-14 62-17 62-33 62-34 62 0 62-11 62-14 62-3 62-2 62-13 62-2 62-7 62 15 62 38"/>
<path d="M0 215l62 6 62-6 62 7 62 8 62 6 62 5 62 6 62 5 62 8 62 25 62 39 62 135 62 142 62 71 62 64 62 9 62-47 62-76 62-144 62-133 62-58 62-62 62 19 62-67 62-14 62-44 62-15 62-9 62 69 62 172"/>
<path d="M0 140l62 4 62-4 62 4 62 5 62 3 62 1 62 3 62 1 62 6 62 14 62 29 62 89 62 101 62 60 62 25 62 20 62-47 62-51 62-93 62-94 62-14 62-30 62-13 62-35 62-31 62-14 62 1 62-12 62 45 62 111"/>
<path d="M0 248l62 11 62-9 62 9 62 8 62 7 62 5 62 11 62 1 62 7 62 29 62 45 62 170 62 184 62 60 62 48 62 0 62-64 62-97 62-147 62-154 62-41 62-86 62-12 62 0 62-81 62-19 62 0 62 20 62 31 62 197"/>
<path d="M0 244l62 9 62-9 62 9 62 8 62 10 62 7 62 9 62 2 62 8 62 31 62 48 62 164 62 174 62 64 62 34 62-5 62-57 62-87 62-147 62-150 62-56 62-73 62 11 62-35 62-13 62-63 62-10 62-7 62 53 62 179"/>
<path d="M0 64l62 2 62-2 62 3 62 2 62 1 62 1 62 2 62 1 62 1 62 7 62 10 62 40 62 50 62 26 62 15 62 2 62-20 62-20 62-46 62-38 62-18 62-5 62-3 62-18 62-14 62-9 62-5 62 3 62 12 62 52"/>
<path d="M0 134l62 5 62-5 62 4 62 5 62 5 62 4 62 6 62 2 62 3 62 14 62 18 62 79 62 101 62 48 62 34 62 1 62-46 62-51 62-84 62-78 62-6 62-43 62 3 62-24 62-39 62-14 62-8 62 3 62 37 62 98"/>
<path d="M0 102l62 4 62-3 62 4 62 3 62 4 62 3 62 4 62 2 62 2 62 11 62 13 62 62 62 78 62 41 62 32 62 3 62-29 62-43 62-66 62-63 62-21 62-27 62-15 62-6 62-21 62-12 62-12 62 3 62 19 62 91"/>
<path d="M0 56l62 2 62-2 62 2 62 2 62 2 62 2 62 2 62 0 62 2 62 6 62 8 62 34 62 43 62 25 62 9 62 3 62-17 62-22 62-36 62-35 62-5 62-22 62 1 62-5 62-19 62-7 62-2 62 6 62 10 62 44"/>
<path d="M0 155l62 5 62-4 62 6 62 6 62 5 62 4 62 6 62 2 62 8 62 21 62 29 62 106 62 122 62 59 62 34 62 5 62-44 62-61 62-102 62-113 62-22 62-35 62-27 62-21 62-27 62-23 62-17 62 9 62 32 62 144"/>
<path d="M0 116l62 3 62-4 62 3 62 3 62 3 62 5 62 5 62 2 62 5 62 13 62 17 62 74 62 88 62 45 62 26 62 3 62-34 62-42 62-74 62-76 62-29 62-18 62-10 62-22 62-19 62-20 62-1 62 4 62 15 62 99"/>
<path d="M0 46l62 1 62-1 62 2 62 1 62 2 62 1 62 2 62 1 62 1 62 4 62 4 62 27 62 34 62 22 62 15 62 0 62-13 62-18 62-29 62-33 62-7 62-17 62 3 62-6 62-9 62-8 62-3 62 3 62 9 62 38"/>
<path d="M0 208l62 7 62-9 62 7 62 4 62 7 62 4 62 7 62 0 62 3 62 22 62 35 62 130 62 153 62 62 62 31 62 8 62-53 62-78 62-124 62-136 62-50 62-8 62-31 62-50 62-15 62-33 62 4 62 12 62 31 62 143"/>
<path d="M0 196l62 9 62-7 62 9 62 4 62 7 62 4 62 5 62 3 62 5 62 19 62 29 62 121 62 144 62 50 62 44 62 8 62-57 62-69 62-119 62-108 62-56 62-57 62 17 62-22 62-50 62-20 62-13 62 6 62 39 62 136"/>
<path d="M0 191l62 8 62-6 62 7 62 6 62 5 62 3 62 9 62 0 62 8 62 18 62 29 62 119 62 134 62 61 62 51 62 12 62-61 62-60 62-118 62-126 62-46 62-20 62-18 62-24 62-67 62-19 62-3 62 4 62 46 62 165"/>
<path d="M0 185l62 6 62-2 62 5 62 7 62 6 62 6 62 9 62 0 62 9 62 21 62 30 62 124 62 137 62 57 62 42 62 8 62-62 62-63 62-111 62-110 62-27 62-56 62 36 62-70 62-39 62-28 62-27 62 10 62 51 62 135"/>
<path d="M0 74l62 3 62-3 62 3 62 2 62 4 62 3 62 3 62 2 62 1 62 10 62 13 62 49 62 61 62 26 62 12 62 2 62-18 62-24 62-52 62-49 62-5 62-19 62-2 62-14 62-33 62-9 62 1 62 3 62 13 62 63"/>
<path d="M0 10l62 0 62 0 62 0 62 0 62 1 62 0 62 0 62 0 62 1 62 1 62 1 62 5 62 8 62 5 62 4 62-1 62-2 62-4 62-6 62-7 62-2 62-3 62-1 62-3 62-1 62-1 62 0 62-1 62 3 62 10"/>
<path d="M0 145l62 4 62-6 62 2 62 4 62 6 62 4 62 5 62 2 62 4 62 10 62 20 62 83 62 99 62 62 62 41 62 3 62-40 62-53 62-91 62-85 62-44 62-22 62-6 62-39 62-7 62-35 62 6 62-7 62 44 62 110"/>
<path d="M0 154l62 5 62-5 62 4 62 6 62 6 62 4 62 7 62 2 62 6 62 19 62 27 62 105 62 118 62 54 62 34 62-3 62-33 62-67 62-96 62-100 62-36 62-49 62-20 62 3 62-25 62-36 62-6 62 7 62 25 62 137"/>
<path d="M0 241l62 5 62-7 62 7 62 8 62 8 62 8 62 12 62 2 62 3 62 23 62 38 62 143 62 162 62 55 62 68 62-6 62-72 62-83 62-134 62-130 62-57 62-50 62-6 62-30 62-64 62-25 62 2 62-21 62 50 62 194"/>
<path d="M0 110l62 4 62-4 62 4 62 4 62 3 62 2 62 6 62 1 62 4 62 12 62 18 62 73 62 93 62 39 62 32 62 9 62-33 62-43 62-73 62-75 62-24 62-26 62 11 62-49 62-20 62-19 62 12 62-3 62 27 62 84"/>
<path d="M0 91l62 5 62-1 62 4 62 4 62 2 62 3 62 3 62 0 62 2 62 10 62 12 62 56 62 64 62 40 62 30 62-3 62-23 62-34 62-53 62-62 62-29 62-14 62-8 62-24 62-12 62-14 62 3 62-5 62 25 62 81"/>
<path d="M0 192l62 6 62-5 62 5 62 8 62 4 62 5 62 7 62 1 62 7 62 20 62 37 62 121 62 136 62 60 62 45 62-7 62-54 62-64 62-122 62-117 62-70 62 22 62-67 62-28 62-12 62-20 62-15 62-1 62 51 62 140"/>
<path d="M0 66l62 1 62-2 62 2 62 2 62 2 62 1 62 1 62 1 62 1 62 7 62 8 62 40 62 49 62 28 62 18 62-2 62-23 62-28 62-37 62-37 62-11 62-14 62-9 62-6 62-11 62-10 62 0 62 0 62 12 62 55"/>
<path d="M0 179l62 4 62-5 62 3 62 7 62 4 62 2 62 7 62 0 62 4 62 14 62 28 62 97 62 108 62 63 62 43 62 7 62-55 62-65 62-100 62-100 62-29 62-27 62-20 62-9 62-50 62-16 62-10 62-6 62 28 62 143"/>
<path d="M0 200l62 6 62-10 62 5 62 4 62 4 62 4 62 2 62 2 62 8 62 20 62 35 62 126 62 146 62 55 62 44 62 2 62-45 62-66 62-114 62-130 62-46 62-28 62-19 62-17 62-37 62-70 62 28 62 0 62 25 62 158"/>
<path d="M0 218l62 6 62-4 62 7 62 7 62 9 62 4 62 8 62 2 62 11 62 22 62 41 62 144 62 154 62 57 62 63 62 12 62-61 62-82 62-142 62-130 62-44 62-71 62 3 62-24 62-72 62-9 62-18 62-6 62 61 62 176"/>
<path d="M0 187l62 8 62-7 62 7 62 6 62 7 62 5 62 9 62-1 62 7 62 19 62 32 62 117 62 136 62 57 62 50 62 2 62-66 62-62 62-111 62-120 62-14 62-60 62-10 62-31 62-40 62-16 62 8 62-26 62 50 62 139"/>
<path d="M0 165l62 8 62-4 62 5 62 7 62 8 62 7 62 9 62 3 62 5 62 22 62 32 62 115 62 130 62 52 62 40 62-9 62-42 62-67 62-107 62-114 62-43 62-37 62 1 62-46 62-10 62-29 62-15 62-5 62 53 62 129"/>
<path d="M0 162l62 6 62-3 62 7 62 4 62 4 62 2 62 2 62 0 62 7 62 20 62 33 62 103 62 125 62 54 62 35 62 8 62-48 62-57 62-96 62-116 62-45 62-31 62-18 62 23 62-73 62-22 62-10 62 0 62 51 62 123"/>
<path d="M0 154l62 5 62-5 62 5 62 5 62 5 62 5 62 6 62-2 62 8 62 14 62 24 62 94 62 109 62 54 62 47 62-2 62-48 62-59 62-92 62-88 62-46 62-17 62-16 62-53 62 4 62-42 62-3 62 19 62 32 62 118"/>
<path d="M0 193l62 8 62-5 62 5 62 7 62 7 62 6 62 9 62 3 62 9 62 20 62 37 62 131 62 154 62 58 62 52 62-3 62-50 62-76 62-116 62-138 62-22 62-44 62-46 62 41 62-113 62-30 62 17 62-17 62 40 62 175"/>
<path d="M0 113l62 5 62-2 62 4 62 4 62 5 62 3 62 7 62 2 62 6 62 10 62 18 62 71 62 93 62 41 62 45 62 2 62-32 62-46 62-78 62-83 62-11 62-46 62 22 62-39 62-25 62-24 62-9 62 18 62 31 62 84"/>
<path d="M0 21l62 1 62-1 62 1 62 0 62 1 62 0 62 1 62 0 62 1 62 2 62 3 62 12 62 16 62 10 62 6 62-1 62-4 62-7 62-15 62-14 62-3 62-4 62 0 62-5 62-4 62-5 62-1 62 2 62 6 62 14"/>
<path d="M0 121l62 5 62-4 62 4 62 5 62 5 62 4 62 5 62 2 62 5 62 12 62 20 62 80 62 95 62 50 62 34 62-6 62-44 62-46 62-78 62-75 62-16 62-40 62-10 62-17 62-22 62-25 62-3 62-6 62 36 62 105"/>
<path d="M0 303l62 12 62-12 62 13 62 11 62 11 62 5 62 12 62 4 62 3 62 31 62 59 62 204 62 198 62 74 62 42 62 9 62-96 62-96 62-178 62-192 62-78 62-45 62-40 62-55 62-29 62-23 62 10 62-19 62 61 62 213"/>
<path d="M0 45l62 1 62-2 62 2 62 1 62 2 62 0 62 2 62 0 62 2 62 5 62 6 62 28 62 38 62 19 62 17 62-2 62-14 62-21 62-27 62-31 62-3 62-16 62 4 62-16 62-8 62-5 62-1 62-2 62 12 62 40"/>
<path d="M0 150l62 5 62-3 62 5 62 4 62 5 62 3 62 5 62-1 62 7 62 19 62 25 62 94 62 115 62 48 62 41 62 0 62-42 62-54 62-94 62-101 62-30 62-33 62-4 62-18 62-35 62-35 62 4 62-2 62 13 62 129"/>
<path d="M0 72l62 3 62-3 62 2 62 2 62 2 62 2 62 3 62 1 62 2 62 7 62 7 62 42 62 53 62 34 62 27 62-3 62-24 62-27 62-46 62-44 62-20 62-12 62-14 62-9 62-17 62 7 62 4 62-17 62 25 62 51"/>
<path d="M0 114l62 2 62-4 62 3 62 5 62 3 62 2 62 3 62 2 62 4 62 10 62 15 62 68 62 80 62 45 62 29 62-7 62-28 62-42 62-63 62-70 62-23 62-22 62 10 62-31 62-7 62-32 62-4 62-7 62 33 62 91"/>
<path d="M0 99l62 2 62-2 62 1 62 2 62 3 62 6 62 3 62 4 62 2 62 11 62 14 62 61 62 71 62 39 62 26 62-5 62-28 62-34 62-59 62-64 62-6 62-25 62-25 62-9 62-22 62-8 62-6 62-5 62 24 62 83"/>
<path d="M0 154l62 4 62-6 62 3 62 2 62 6 62 5 62 8 62 0 62 5 62 15 62 23 62 94 62 112 62 45 62 37 62 0 62-35 62-46 62-99 62-95 62-46 62-21 62-29 62-20 62-7 62-35 62 10 62-4 62 14 62 130"/>
<path d="M0 75l62 2 62-1 62 3 62 3 62 2 62 1 62 2 62 0 62 2 62 7 62 9 62 47 62 58 62 32 62 25 62 1 62-25 62-26 62-48 62-49 62-14 62-37 62 14 62-17 62-12 62-7 62-7 62 0 62 21 62 58"/>
<path d="M0 73l62 3 62-1 62 4 62 3 62 3 62 2 62 4 62 1 62 3 62 7 62 10 62 48 62 62 62 33 62 19 62 1 62-21 62-28 62-49 62-55 62-14 62-29 62-3 62-10 62-6 62-28 62 7 62 2 62 19 62 63"/>
<path d="M0 163l62 5 62-4 62 4 62 4 62 7 62 2 62 5 62 1 62 3 62 13 62 19 62 97 62 116 62 52 62 34 62 13 62-46 62-50 62-103 62-109 62-31 62-41 62-6 62-31 62-19 62-11 62-9 62-2 62 24 62 136"/>
<path d="M0 250l62 9 62-7 62 8 62 6 62 8 62 6 62 10 62 1 62 5 62 26 62 43 62 163 62 179 62 63 62 59 62 11 62-75 62-88 62-150 62-152 62-36 62-79 62-3 62-56 62-33 62-35 62-4 62 15 62 14 62 204"/>
<path d="M0 210l62 9 62-5 62 7 62 8 62 9 62 3 62 5 62 1 62 6 62 20 62 42 62 138 62 145 62 61 62 54 62-3 62-55 62-74 62-130 62-130 62-20 62-55 62-42 62-29 62-25 62-42 62-25 62 39 62 17 62 178"/>
<path d="M0 96l62 4 62-3 62 3 62 3 62 4 62 4 62 4 62 2 62 2 62 12 62 14 62 58 62 77 62 33 62 29 62 2 62-28 62-35 62-65 62-66 62-24 62-9 62-19 62-25 62-3 62-14 62-1 62-8 62 26 62 86"/>
<path d="M0 261l62 7 62-10 62 7 62 8 62 12 62 9 62 12 62 4 62 9 62 26 62 54 62 172 62 185 62 54 62 43 62 14 62-71 62-96 62-149 62-174 62-58 62-28 62-34 62-51 62 11 62-43 62-52 62 27 62 30 62 208"/>
<path d="M0 166l62 8 62-5 62 8 62 7 62 7 62 5 62 7 62 2 62 8 62 19 62 27 62 108 62 122 62 58 62 50 62-2 62-56 62-62 62-107 62-108 62-23 62-64 62 16 62-35 62-33 62-33 62 1 62-5 62 50 62 152"/>
<path d="M0 125l62 4 62-4 62 5 62 5 62 3 62 4 62 5 62 1 62 5 62 14 62 23 62 76 62 97 62 43 62 34 62 4 62-27 62-41 62-89 62-89 62-19 62-1 62-37 62-18 62-22 62-29 62-5 62-9 62 37 62 114"/>
<path d="M0 162l62 5 62-6 62 4 62 4 62 7 62 7 62 8 62 4 62 3 62 17 62 25 62 103 62 119 62 51 62 38 62-1 62-44 62-55 62-105 62-99 62 8 62-89 62-22 62 21 62-38 62-32 62-11 62-6 62 40 62 130"/>
<path d="M0 36l62 2 62-2 62 2 62 1 62 2 62 1 62 1 62 1 62 1 62 5 62 6 62 25 62 32 62 15 62 14 62-4 62-8 62-15 62-26 62-26 62-5 62-16 62 4 62-12 62-7 62-8 62 5 62-3 62 5 62 37"/>
<path d="M0 16l62 0 62 0 62 0 62 1 62 0 62 1 62 0 62 0 62 1 62 2 62 1 62 9 62 13 62 8 62 6 62 0 62-6 62-5 62-11 62-11 62-4 62-3 62-1 62-2 62-4 62-2 62-1 62 1 62 1 62 16"/>
<path d="M0 214l62 7 62-5 62 8 62 8 62 8 62 5 62 8 62 3 62 8 62 22 62 37 62 136 62 153 62 65 62 61 62 0 62-73 62-89 62-129 62-129 62-21 62-83 62 16 62-6 62-67 62-35 62 2 62-3 62 69 62 157"/>
<path d="M0 55l62 2 62-2 62 2 62 1 62 2 62 1 62 3 62 1 62 1 62 5 62 6 62 31 62 41 62 24 62 19 62-2 62-16 62-20 62-37 62-32 62-10 62-14 62 5 62-19 62-8 62-14 62 2 62 2 62 14 62 44"/>
<path d="M0 126l62 4 62-4 62 4 62 5 62 5 62 5 62 6 62 3 62 4 62 13 62 21 62 80 62 98 62 40 62 34 62 4 62-37 62-44 62-80 62-81 62-36 62-9 62-25 62-34 62-24 62-9 62-3 62-6 62 41 62 105"/>
<path d="M0 252l62 7 62-8 62 7 62 8 62 10 62 8 62 11 62 5 62 10 62 29 62 50 62 166 62 165 62 63 62 68 62-9 62-67 62-85 62-153 62-151 62-62 62-62 62 37 62-106 62-58 62 5 62 1 62 1 62 37 62 204"/>
<path d="M0 113l62 4 62-3 62 6 62 3 62 4 62 2 62 5 62 2 62 3 62 13 62 16 62 72 62 84 62 45 62 47 62-13 62-26 62-43 62-74 62-82 62-4 62-60 62 12 62-37 62-19 62-1 62-16 62-3 62 28 62 106"/>
<path d="M0 17l62 1 62-1 62 1 62 0 62 1 62 0 62 1 62 0 62 0 62 2 62 2 62 10 62 14 62 9 62 6 62 0 62-3 62-8 62-11 62-12 62-2 62-8 62 1 62 0 62-6 62-4 62 0 62-2 62 5 62 15"/>
<path d="M0 132l62 6 62-4 62 5 62 4 62 7 62 4 62 6 62 3 62 4 62 14 62 21 62 85 62 100 62 46 62 40 62 0 62-42 62-47 62-85 62-81 62-37 62-50 62 34 62-38 62-24 62-22 62-11 62-6 62 28 62 123"/>
<path d="M0 53l62 2 62-1 62 2 62 2 62 2 62 1 62 1 62 1 62 2 62 6 62 9 62 35 62 44 62 24 62 15 62 0 62-17 62-18 62-36 62-41 62-8 62-22 62-3 62-7 62-7 62-9 62-5 62 7 62 16 62 39"/>
<path d="M0 239l62 9 62-8 62 8 62 4 62 8 62 12 62 8 62 6 62 2 62 28 62 47 62 167 62 181 62 54 62 53 62-5 62-67 62-76 62-152 62-141 62-65 62-66 62 37 62-86 62-26 62-50 62 5 62-38 62 85 62 188"/>
<path d="M0 147l62 5 62-5 62 4 62 6 62 7 62 5 62 6 62 6 62 4 62 16 62 23 62 96 62 116 62 50 62 39 62 0 62-40 62-47 62-101 62-97 62-26 62-74 62 15 62-13 62-38 62-15 62-14 62 8 62 18 62 125"/>
<path d="M0 25l62 1 62-1 62 1 62 1 62 1 62 1 62 0 62 0 62 1 62 2 62 3 62 14 62 21 62 12 62 8 62 1 62-7 62-10 62-16 62-16 62-8 62-4 62-1 62-8 62-4 62-2 62-1 62 1 62 5 62 22"/>
<path d="M0 127l62 3 62-5 62 3 62 2 62 3 62 3 62 5 62 3 62 4 62 12 62 16 62 73 62 92 62 51 62 45 62 8 62-43 62-41 62-80 62-85 62-23 62-44 62-2 62-18 62-9 62-34 62-11 62 15 62 15 62 111"/>
<path d="M0 43l62 1 62-1 62 1 62 1 62 2 62 1 62 2 62 0 62 1 62 4 62 5 62 25 62 32 62 20 62 14 62-1 62-13 62-16 62-25 62-27 62-6 62-12 62 4 62-12 62-16 62-6 62 2 62-4 62 14 62 30"/>
<path d="M0 28l62 2 62-1 62 1 62 1 62 1 62 1 62 1 62 1 62 1 62 3 62 3 62 18 62 22 62 14 62 9 62 1 62-9 62-12 62-18 62-18 62-8 62-2 62-7 62-6 62-4 62-5 62 2 62-2 62 4 62 28"/>
<path d="M0 136l62 7 62-6 62 5 62 3 62 5 62 5 62 5 62 2 62 6 62 14 62 23 62 86 62 97 62 53 62 46 62-4 62-35 62-52 62-88 62-88 62-28 62-11 62-20 62-28 62-30 62-21 62-5 62 5 62 29 62 112"/>
<path d="M0 289l62 9 62-12 62 10 62 8 62 10 62 6 62 11 62 3 62 15 62 35 62 58 62 196 62 202 62 77 62 36 62 20 62-64 62-110 62-175 62-163 62-45 62-123 62 29 62-52 62-61 62-30 62-19 62-28 62 77 62 215"/>
<path d="M0 43l62 1 62-1 62 2 62 1 62 2 62 2 62 3 62 1 62 1 62 5 62 6 62 27 62 37 62 21 62 13 62-2 62-9 62-14 62-30 62-32 62-11 62-21 62 3 62-6 62-10 62-9 62-2 62 5 62 12 62 36"/>
<path d="M0 4l62 0 62 0 62 0 62 0 62 0 62 0 62 1 62 0 62 0 62 0 62 1 62 2 62 3 62 2 62 1 62 0 62-1 62-2 62-2 62-3 62 0 62-1 62-1 62 0 62-1 62-1 62 0 62 0 62 1 62 3"/>
<path d="M0 252l62 9 62-6 62 11 62 10 62 5 62 6 62 9 62 3 62 9 62 27 62 50 62 161 62 174 62 57 62 62 62-1 62-83 62-90 62-149 62-157 62-25 62-90 62 7 62-56 62-24 62-41 62-13 62-1 62 58 62 177"/>
<path d="M0 244l62 8 62-12 62 11 62 4 62 9 62 8 62 11 62 4 62 10 62 32 62 55 62 176 62 182 62 62 62 29 62 23 62-60 62-81 62-156 62-176 62-46 62-31 62-10 62-82 62-11 62-74 62 9 62-24 62 61 62 205"/>
<path d="M0 223l62 7 62-9 62 7 62 6 62 8 62 4 62 9 62 1 62 8 62 29 62 53 62 152 62 162 62 44 62 27 62 6 62-55 62-59 62-145 62-140 62-66 62-9 62-69 62-13 62-39 62-33 62 8 62 1 62 24 62 201"/>
<path d="M0 186l62 6 62-6 62 7 62 6 62 7 62 4 62 7 62 1 62 7 62 25 62 39 62 134 62 141 62 47 62 29 62 1 62-40 62-67 62-126 62-122 62-9 62-80 62-51 62 43 62-61 62-30 62-7 62 5 62 38 62 153"/>
<path d="M0 199l62 8 62-6 62 8 62 8 62 4 62 4 62 5 62 1 62 7 62 20 62 34 62 129 62 148 62 64 62 42 62 1 62-51 62-69 62-121 62-111 62-58 62-54 62-8 62-37 62-22 62-39 62-6 62 1 62 47 62 147"/>
<path d="M0 124l62 6 62-5 62 4 62 3 62 5 62 5 62 6 62 1 62 6 62 11 62 19 62 76 62 97 62 43 62 25 62 6 62-42 62-44 62-74 62-75 62-18 62-39 62-8 62-22 62-15 62-9 62-8 62-18 62 40 62 90"/>
<path d="M0 5l62 0 62 0 62 0 62 0 62 0 62 0 62 0 62 0 62 0 62 1 62 0 62 3 62 3 62 2 62 1 62 1 62-2 62-1 62-3 62-3 62-1 62-1 62 0 62-2 62 0 62-1 62 1 62-1 62 2 62 3"/>
<path d="M0 81l62 3 62-2 62 3 62 2 62 3 62 3 62 3 62 2 62 2 62 9 62 11 62 47 62 58 62 37 62 28 62 3 62-35 62-31 62-53 62-47 62-9 62-23 62-11 62-13 62-12 62-13 62 0 62 2 62 17 62 74"/>
<path d="M0 253l62 9 62-10 62 8 62 5 62 7 62 5 62 12 62 0 62 8 62 33 62 55 62 189 62 188 62 49 62 35 62-8 62-32 62-94 62-160 62-166 62-50 62-87 62 45 62-79 62-62 62-30 62-19 62 19 62 42 62 203"/>
<path d="M0 28l62 1 62-1 62 1 62 1 62 1 62 0 62 1 62 0 62 1 62 4 62 4 62 16 62 22 62 13 62 8 62-2 62-7 62-12 62-16 62-18 62-7 62-4 62 0 62-7 62-9 62-2 62 0 62-1 62 2 62 27"/>
<path d="M0 219l62 5 62-7 62 6 62 4 62 8 62 6 62 9 62 2 62 8 62 21 62 44 62 138 62 153 62 59 62 41 62 8 62-55 62-77 62-133 62-131 62-58 62-45 62 7 62-49 62-28 62-37 62-5 62-20 62 58 62 178"/>
<path d="M0 228l62 8 62-7 62 5 62 8 62 8 62 5 62 11 62 1 62 9 62 26 62 40 62 145 62 159 62 76 62 74 62-3 62-73 62-80 62-142 62-138 62-33 62-47 62-5 62-35 62-100 62-9 62-18 62 7 62 44 62 176"/>
<path d="M0 253l62 8 62-10 62 9 62 8 62 5 62 6 62 10 62 1 62 6 62 29 62 54 62 170 62 178 62 61 62 49 62 1 62-79 62-86 62-152 62-160 62-23 62-81 62-4 62-67 62-23 62-42 62-9 62 11 62 44 62 205"/>
<path d="M0 201l62 7 62-5 62 5 62 9 62 7 62 7 62 8 62 2 62 10 62 22 62 40 62 140 62 160 62 70 62 58 62 2 62-65 62-73 62-133 62-134 62-53 62-47 62 25 62-85 62 8 62-77 62 3 62 4 62 66 62 166"/>
<path d="M0 48l62 2 62-2 62 2 62 1 62 1 62 2 62 1 62 0 62 2 62 5 62 6 62 30 62 40 62 20 62 10 62 2 62-8 62-15 62-31 62-36 62-12 62-20 62 3 62-5 62-13 62-4 62-2 62-1 62 9 62 42"/>
<path d="M0 41l62 3 62-2 62 2 62 1 62 2 62 0 62 2 62 0 62 1 62 4 62 4 62 25 62 31 62 19 62 14 62 1 62-12 62-17 62-27 62-25 62-16 62-4 62-2 62-7 62-13 62 4 62-10 62 5 62 11 62 29"/>
<path d="M0 31l62 1 62-1 62 1 62 1 62 1 62 1 62 0 62 1 62 1 62 4 62 4 62 19 62 24 62 15 62 8 62 2 62-11 62-12 62-20 62-19 62-5 62-7 62-7 62-7 62-2 62-8 62 0 62 0 62 9 62 29"/>
<path d="M0 52l62 2 62-1 62 2 62 2 62 1 62 2 62 2 62 0 62 1 62 5 62 4 62 29 62 38 62 26 62 21 62 0 62-18 62-17 62-34 62-31 62-11 62-14 62 1 62-7 62-23 62-8 62 7 62-4 62 18 62 37"/>
<path d="M0 20l62 0 62 0 62 0 62 1 62 1 62 0 62 1 62 0 62 0 62 3 62 2 62 12 62 16 62 9 62 5 62 0 62-5 62-7 62-13 62-14 62-4 62-3 62-5 62 0 62-3 62-5 62 0 62 1 62 2 62 17"/>
<path d="M0 48l62 1 62-2 62 1 62 1 62 1 62 1 62 2 62 0 62 2 62 4 62 6 62 26 62 35 62 21 62 14 62 0 62-14 62-19 62-27 62-29 62-11 62-14 62 11 62-13 62-12 62-6 62-3 62 3 62 8 62 38"/>
<path d="M0 182l62 6 62-7 62 6 62 4 62 7 62 3 62 6 62 1 62 6 62 19 62 29 62 111 62 131 62 61 62 40 62 5 62-44 62-62 62-113 62-111 62-66 62 3 62-36 62-11 62-41 62-34 62 2 62 6 62 25 62 149"/>
<path d="M0 164l62 5 62-5 62 4 62 6 62 7 62 4 62 6 62 3 62 5 62 19 62 33 62 106 62 128 62 44 62 35 62-15 62-41 62-61 62-100 62-91 62-42 62-65 62 11 62-45 62-5 62-24 62-2 62 11 62 12 62 145"/>
<path d="M0 70l62 3 62-2 62 2 62 2 62 4 62 1 62 5 62 0 62 3 62 11 62 13 62 48 62 60 62 29 62 23 62 2 62-25 62-33 62-48 62-53 62-14 62-14 62-9 62-10 62-11 62-12 62-9 62 1 62 26 62 59"/>
<path d="M0 29l62 1 62 0 62 1 62 0 62 1 62 1 62 1 62 0 62 1 62 4 62 3 62 18 62 22 62 14 62 5 62 1 62-8 62-11 62-20 62-18 62-7 62-5 62-2 62-4 62-6 62-2 62-4 62-1 62 5 62 27"/>
<path d="M0 134l62 4 62-3 62 5 62 5 62 6 62 2 62 5 62 1 62 3 62 13 62 21 62 85 62 101 62 47 62 19 62 15 62-38 62-47 62-76 62-90 62-44 62-15 62-13 62-41 62-6 62-28 62 20 62-22 62 42 62 100"/>
<path d="M0 181l62 6 62-3 62 5 62 6 62 7 62 2 62 8 62 3 62 5 62 22 62 36 62 124 62 142 62 57 62 39 62 18 62-53 62-71 62-126 62-124 62-19 62-58 62 39 62-115 62-13 62-20 62 4 62 18 62 18 62 152"/>
<path d="M0 20l62 0 62 0 62 1 62 1 62 0 62 1 62 0 62 1 62 0 62 3 62 2 62 11 62 16 62 11 62 5 62 2 62-8 62-9 62-12 62-11 62-3 62-7 62 0 62-5 62-4 62-1 62-3 62 1 62 2 62 19"/>
<path d="M0 64l62 2 62-3 62 3 62 1 62 2 62 2 62 3 62 0 62 1 62 6 62 8 62 36 62 48 62 23 62 20 62 5 62-23 62-23 62-39 62-39 62-4 62-24 62-2 62-14 62-6 62-12 62 4 62 2 62 2 62 55"/>
<path d="M0 211l62 6 62-8 62 6 62 4 62 10 62 4 62 6 62 3 62 9 62 24 62 38 62 139 62 147 62 66 62 37 62-4 62-65 62-78 62-122 62-115 62-49 62-62 62-28 62-24 62 17 62-67 62 2 62 20 62 27 62 181"/>
<path d="M0 7l62 0 62 0 62 0 62 0 62 0 62 1 62 0 62 0 62 0 62 1 62 1 62 3 62 5 62 4 62 2 62 0 62-2 62-2 62-5 62-4 62-3 62 0 62 0 62-2 62 0 62-2 62 0 62 0 62 1 62 6"/>
<path d="M0 250l62 8 62-11 62 5 62 6 62 10 62 7 62 7 62 1 62 9 62 27 62 51 62 156 62 167 62 57 62 45 62-6 62-44 62-93 62-153 62-146 62-59 62-60 62 3 62-23 62-35 62-38 62-45 62 26 62 47 62 171"/>
<path d="M0 287l62 15 62-8 62 13 62 12 62 8 62 12 62 14 62 6 62 1 62 24 62 46 62 184 62 195 62 72 62 71 62 4 62-60 62-100 62-173 62-177 62-101 62-61 62 25 62-80 62-43 62-35 62-11 62 8 62 41 62 242"/>
<path d="M0 177l62 6 62-3 62 5 62 6 62 5 62 3 62 7 62-1 62 4 62 19 62 29 62 117 62 131 62 56 62 41 62-8 62-41 62-74 62-104 62-110 62-28 62-16 62 20 62-79 62-19 62-43 62-3 62-11 62 58 62 134"/>
<path d="M0 20l62 1 62-1 62 0 62 1 62 0 62 1 62 1 62 0 62 0 62 2 62 2 62 11 62 16 62 10 62 6 62 1 62-6 62-8 62-13 62-13 62 0 62-7 62 1 62-6 62-3 62-6 62 1 62 0 62 5 62 16"/>
<path d="M0 86l62 4 62-2 62 3 62 4 62 2 62 4 62 3 62 1 62 3 62 8 62 10 62 52 62 64 62 39 62 30 62 2 62-30 62-36 62-56 62-53 62-4 62-46 62-1 62-13 62-13 62-13 62-3 62-1 62 18 62 80"/>
<path d="M0 16l62 1 62-1 62 1 62 0 62 1 62 0 62 1 62 0 62 0 62 2 62 2 62 10 62 14 62 8 62 5 62 0 62-4 62-7 62-10 62-10 62-4 62-8 62-1 62-1 62-4 62-1 62-2 62 1 62 4 62 14"/>
<path d="M0 134l62 6 62-4 62 5 62 5 62 4 62 7 62 7 62 3 62 6 62 16 62 26 62 89 62 105 62 48 62 32 62 4 62-40 62-53 62-85 62-96 62-27 62-44 62 6 62-29 62-35 62-12 62-5 62 13 62 21 62 122"/>
<path d="M0 200l62 9 62-6 62 8 62 8 62 5 62 5 62 7 62 1 62 10 62 21 62 37 62 128 62 143 62 61 62 41 62 2 62-54 62-67 62-123 62-137 62-69 62-21 62 12 62-62 62-38 62-20 62-2 62 4 62 31 62 156"/>
<path d="M0 16l62 1 62-1 62 1 62 0 62 1 62 0 62 0 62 0 62 1 62 1 62 2 62 10 62 12 62 7 62 5 62 0 62-4 62-6 62-10 62-10 62-4 62-2 62 0 62-2 62-9 62 0 62 0 62-2 62 5 62 14"/>
<path d="M0 72l62 4 62-1 62 4 62 4 62 2 62 2 62 3 62 1 62 2 62 8 62 10 62 48 62 63 62 33 62 22 62-2 62-23 62-30 62-49 62-45 62-12 62-20 62 6 62-26 62-20 62-17 62 0 62 6 62 19 62 57"/>
<path d="M0 76l62 3 62-2 62 3 62 4 62 3 62 2 62 5 62 1 62 2 62 9 62 11 62 51 62 64 62 29 62 17 62 5 62-28 62-29 62-51 62-49 62-6 62-24 62-12 62-4 62-18 62-21 62-1 62 2 62 17 62 67"/>
<path d="M0 93l62 5 62-3 62 3 62 4 62 3 62 2 62 4 62 1 62 2 62 11 62 14 62 57 62 73 62 33 62 21 62 0 62-24 62-33 62-62 62-57 62-28 62-19 62 12 62-32 62-16 62 0 62-18 62 11 62 16 62 77"/>
<path d="M0 291l62 10 62-6 62 8 62 9 62 12 62 9 62 14 62 9 62 4 62 25 62 60 62 189 62 208 62 57 62 64 62 0 62-83 62-104 62-177 62-171 62-7 62-108 62-26 62-59 62-45 62-51 62-14 62 32 62 66 62 216"/>
<path d="M0 5l62 1 62-1 62 1 62 0 62 0 62 0 62 0 62 0 62 0 62 1 62 0 62 3 62 4 62 3 62 2 62 0 62-2 62-2 62-3 62-3 62-1 62-1 62-1 62-2 62-1 62 0 62 0 62 0 62 1 62 4"/>
<path d="M0 182l62 9 62-5 62 7 62 8 62 7 62 6 62 8 62 1 62 8 62 21 62 39 62 130 62 142 62 57 62 37 62 6 62-54 62-66 62-125 62-116 62-71 62-49 62 10 62-43 62-2 62-32 62 1 62-21 62 46 62 165"/>
<path d="M0 221l62 6 62-7 62 7 62 3 62 11 62 6 62 9 62 4 62 7 62 22 62 37 62 141 62 151 62 75 62 36 62 18 62-76 62-84 62-132 62-131 62-53 62-19 62 42 62-114 62-37 62-27 62-30 62 40 62 15 62 194"/>
<path d="M0 147l62 4 62-5 62 5 62 3 62 6 62 3 62 6 62 2 62 1 62 15 62 21 62 85 62 109 62 52 62 30 62 3 62-51 62-52 62-87 62-80 62-28 62-39 62 18 62-35 62-32 62-19 62-12 62-3 62 44 62 115"/>
<path d="M0 228l62 13 62 0 62 13 62 15 62 6 62 6 62 9 62 4 62 6 62 25 62 52 62 171 62 180 62 51 62 54 62-13 62-55 62-85 62-157 62-158 62-30 62-99 62 27 62-62 62-31 62-38 62-20 62 16 62 50 62 185"/>
<path d="M0 147l62 4 62-7 62 2 62 3 62 8 62 4 62 7 62 3 62 4 62 18 62 26 62 98 62 110 62 45 62 41 62-5 62-45 62-51 62-92 62-93 62-22 62-56 62 26 62-44 62-19 62-36 62 15 62-20 62 34 62 126"/>
<path d="M0 164l62 8 62-6 62 7 62 5 62 7 62 3 62 8 62 0 62 6 62 18 62 26 62 101 62 116 62 61 62 50 62 0 62-50 62-64 62-98 62-95 62-47 62-37 62-9 62-25 62-55 62-8 62-6 62 11 62 18 62 144"/>
<path d="M0 84l62 2 62-4 62 3 62 2 62 4 62 2 62 5 62 2 62 0 62 9 62 8 62 49 62 61 62 34 62 26 62 0 62-20 62-27 62-51 62-51 62-27 62-11 62-14 62-6 62-14 62-20 62-3 62-4 62 16 62 74"/>
<path d="M0 38l62 1 62-2 62 1 62 1 62 1 62 1 62 1 62 0 62 1 62 3 62 3 62 19 62 27 62 19 62 12 62 0 62-11 62-14 62-21 62-25 62 1 62-12 62 7 62-17 62-8 62-5 62 0 62 0 62 6 62 32"/>
<path d="M0 151l62 7 62-5 62 5 62 4 62 5 62 4 62 4 62 1 62 10 62 20 62 28 62 98 62 118 62 57 62 54 62 0 62-49 62-63 62-95 62-102 62-58 62-18 62-50 62 29 62-45 62-30 62-3 62 0 62 54 62 111"/>
<path d="M0 27l62 1 62-2 62 1 62 1 62 1 62 0 62 2 62 0 62 1 62 3 62 4 62 16 62 20 62 13 62 6 62 1 62-7 62-10 62-18 62-16 62-6 62-8 62 0 62 0 62-9 62-7 62 0 62 1 62 5 62 23"/>
<path d="M0 261l62 6 62-8 62 7 62 5 62 9 62 6 62 9 62 4 62 4 62 26 62 47 62 170 62 180 62 65 62 54 62 5 62-66 62-85 62-145 62-170 62 3 62-131 62 27 62-84 62-40 62-8 62-50 62 40 62 47 62 211"/>
<path d="M0 126l62 5 62-3 62 5 62 5 62 4 62 4 62 6 62 3 62 3 62 12 62 17 62 82 62 101 62 44 62 41 62 5 62-35 62-50 62-83 62-88 62-24 62-20 62-53 62 4 62-10 62-27 62-3 62 1 62 20 62 117"/>
<path d="M0 201l62 9 62-2 62 9 62 8 62 7 62 5 62 8 62 1 62 5 62 22 62 37 62 140 62 154 62 55 62 51 62 15 62-50 62-70 62-128 62-155 62-39 62-43 62-13 62-20 62-45 62-51 62-21 62 22 62 42 62 169"/>
<path d="M0 72l62 3 62-2 62 4 62 3 62 1 62 1 62 2 62 0 62 2 62 8 62 12 62 46 62 60 62 26 62 18 62 1 62-21 62-25 62-47 62-46 62-5 62-21 62-17 62-9 62-11 62-12 62-9 62 3 62 20 62 53"/>
<path d="M0 116l62 4 62-5 62 4 62 2 62 4 62 2 62 5 62 2 62 2 62 13 62 18 62 77 62 87 62 39 62 20 62 2 62-28 62-41 62-73 62-78 62-17 62-43 62-1 62-13 62-25 62-16 62-5 62 3 62 17 62 88"/>
<path d="M0 51l62 2 62-2 62 1 62 2 62 2 62 1 62 1 62 1 62 2 62 5 62 6 62 31 62 40 62 24 62 10 62 3 62-17 62-18 62-32 62-32 62-5 62-20 62-5 62-4 62-16 62-4 62 4 62-5 62 17 62 41"/>
<path d="M0 95l62 3 62-2 62 4 62 3 62 4 62 3 62 4 62 1 62 4 62 11 62 15 62 59 62 74 62 34 62 33 62-1 62-31 62-36 62-64 62-64 62-1 62-32 62-5 62-19 62-17 62-16 62-11 62-1 62 20 62 89"/>
<path d="M0 80l62 3 62-2 62 3 62 2 62 3 62 2 62 1 62 0 62 5 62 10 62 14 62 52 62 63 62 31 62 20 62 4 62-22 62-28 62-54 62-55 62 5 62-40 62-12 62 1 62-21 62-12 62-8 62-5 62 16 62 74"/>
<path d="M0 214l62 6 62-6 62 5 62 8 62 6 62 3 62 8 62 3 62 7 62 28 62 44 62 153 62 159 62 54 62 24 62 1 62-59 62-83 62-120 62-130 62-51 62-40 62-15 62-55 62-32 62-23 62-7 62 17 62 22 62 165"/>
<path d="M0 201l62 11 62-7 62 8 62 9 62 8 62 5 62 8 62 4 62 4 62 21 62 33 62 134 62 154 62 51 62 44 62 3 62-62 62-66 62-126 62-128 62-39 62-78 62-14 62 12 62-81 62-4 62 1 62-19 62 74 62 134"/>
<path d="M0 149l62 4 62-6 62 3 62 3 62 6 62 2 62 4 62 0 62 5 62 19 62 24 62 96 62 114 62 57 62 27 62 6 62-45 62-53 62-87 62-91 62-15 62-72 62-3 62-1 62-49 62-2 62-24 62-3 62 32 62 133"/>
<path d="M0 119l62 5 62-2 62 5 62 5 62 5 62 2 62 5 62 0 62 3 62 12 62 17 62 71 62 83 62 42 62 36 62 3 62-44 62-40 62-80 62-75 62-23 62-28 62 1 62-22 62-15 62-19 62-10 62-7 62 40 62 86"/>
<path d="M0 236l62 6 62-7 62 7 62 9 62 9 62 12 62 10 62 5 62 6 62 25 62 42 62 153 62 156 62 70 62 50 62 4 62-58 62-90 62-135 62-154 62-47 62-83 62 7 62-26 62-44 62-38 62-9 62-1 62 50 62 190"/>
<path d="M0 55l62 2 62-1 62 1 62 2 62 2 62 1 62 2 62 1 62 2 62 7 62 8 62 36 62 46 62 22 62 8 62 3 62-18 62-22 62-31 62-38 62-5 62-14 62 2 62-17 62-15 62-6 62-4 62 0 62 14 62 49"/>
<path d="M0 60l62 3 62-2 62 3 62 2 62 1 62 2 62 2 62 1 62 1 62 6 62 8 62 33 62 44 62 29 62 17 62 0 62-19 62-22 62-36 62-37 62-8 62-15 62 10 62-29 62-17 62-1 62-4 62-3 62 12 62 55"/>
<path d="M0 277l62 9 62-9 62 15 62 11 62 10 62 11 62 16 62 5 62 8 62 31 62 56 62 198 62 210 62 63 62 53 62-9 62-52 62-100 62-176 62-161 62-103 62-42 62-45 62-7 62-58 62-39 62-24 62 4 62 46 62 215"/>
<path d="M0 27l62 1 62-1 62 1 62 1 62 1 62 0 62 1 62 0 62 1 62 3 62 3 62 16 62 21 62 13 62 8 62 1 62-9 62-9 62-19 62-18 62-3 62-7 62-5 62-3 62-6 62-2 62-4 62 3 62 5 62 23"/>
<path d="M0 248l62 9 62-7 62 8 62 11 62 8 62 9 62 13 62 5 62 2 62 19 62 36 62 147 62 162 62 66 62 77 62-1 62-82 62-102 62-142 62-155 62-21 62-56 62-28 62-48 62-20 62-36 62 8 62-24 62 59 62 190"/>
<path d="M0 43l62 1 62-2 62 2 62 1 62 1 62 2 62 2 62 1 62 2 62 5 62 6 62 27 62 37 62 18 62 14 62-2 62-11 62-16 62-29 62-27 62-15 62-10 62-6 62 0 62-14 62-1 62-3 62 1 62 7 62 34"/>
<path d="M0 123l62 5 62-3 62 5 62 4 62 4 62 3 62 4 62 1 62 4 62 14 62 16 62 82 62 101 62 43 62 36 62-4 62-26 62-46 62-78 62-77 62-19 62-55 62 27 62-52 62-19 62-25 62-8 62 13 62 33 62 93"/>
<path d="M0 33l62 1 62 0 62 0 62 2 62 1 62 0 62 1 62 1 62 1 62 4 62 4 62 20 62 25 62 13 62 9 62 0 62-9 62-12 62-19 62-21 62-10 62-10 62 3 62-8 62-7 62-4 62-1 62 1 62 10 62 21"/>
<path d="M0 184l62 5 62-4 62 6 62 7 62 7 62 7 62 11 62 4 62 5 62 23 62 38 62 131 62 144 62 63 62 29 62 10 62-44 62-68 62-125 62-129 62-25 62-31 62-27 62-31 62-55 62-19 62-24 62 4 62 49 62 152"/>
<path d="M0 280l62 8 62-9 62 6 62 8 62 7 62 6 62 9 62 2 62 10 62 36 62 61 62 185 62 189 62 58 62 45 62 10 62-71 62-78 62-180 62-173 62-78 62-70 62-34 62-7 62-45 62-56 62 4 62 20 62 44 62 204"/>
<path d="M0 196l62 9 62-2 62 5 62 9 62 8 62 6 62 9 62 1 62 5 62 18 62 33 62 136 62 153 62 58 62 41 62 2 62-45 62-76 62-122 62-137 62-45 62-51 62-40 62-1 62-48 62-30 62 11 62 1 62 40 62 162"/>
<path d="M0 267l62 12 62-8 62 8 62 12 62 10 62 4 62 7 62-1 62 10 62 28 62 51 62 174 62 197 62 50 62 56 62 0 62-54 62-101 62-156 62-153 62-25 62-69 62-68 62-45 62-25 62-37 62-4 62 9 62 57 62 184"/>
<path d="M0 265l62 11 62-9 62 8 62 9 62 4 62 10 62 7 62 1 62 12 62 24 62 59 62 183 62 188 62 53 62 43 62 1 62-61 62-77 62-168 62-174 62-94 62 40 62-42 62-11 62-118 62-12 62-38 62 10 62 74 62 201"/>
<path d="M0 233l62 8 62-9 62 9 62 4 62 12 62 4 62 10 62 7 62 7 62 26 62 45 62 161 62 166 62 62 62 46 62 3 62-79 62-85 62-137 62-152 62-63 62-42 62 25 62-75 62-59 62-9 62 10 62 3 62 11 62 186"/>
<path d="M0 138l62 7 62-4 62 7 62 8 62 3 62 6 62 6 62 0 62 6 62 14 62 24 62 91 62 109 62 46 62 39 62 0 62-55 62-48 62-86 62-91 62-43 62 21 62-27 62-51 62-23 62-14 62-21 62 12 62 26 62 125"/>
<path d="M0 63l62 1 62-3 62 2 62 1 62 2 62 1 62 2 62-1 62 3 62 6 62 7 62 34 62 47 62 30 62 18 62 3 62-22 62-20 62-39 62-39 62-12 62-5 62-7 62-21 62-3 62-15 62 0 62 4 62 14 62 42"/>
<path d="M0 156l62 6 62-4 62 6 62 6 62 4 62 2 62 6 62-1 62 3 62 15 62 23 62 97 62 110 62 55 62 28 62 18 62-47 62-60 62-91 62-86 62-34 62-48 62-3 62-9 62-37 62-30 62-9 62 8 62 33 62 124"/>
<path d="M0 233l62 6 62-8 62 3 62 5 62 10 62 8 62 11 62 6 62 2 62 18 62 30 62 141 62 158 62 63 62 50 62-6 62-82 62-78 62-128 62-135 62 19 62-126 62 55 62-29 62-71 62-49 62 3 62 7 62 49 62 157"/>
<path d="M0 172l62 7 62-7 62 7 62 6 62 6 62 7 62 8 62 3 62 4 62 15 62 28 62 117 62 135 62 53 62 35 62 4 62-46 62-69 62-101 62-105 62-37 62-42 62-40 62 12 62-55 62-14 62-18 62 3 62 37 62 142"/>
<path d="M0 11l62 0 62 0 62 0 62 0 62 1 62 0 62 1 62 0 62 0 62 1 62 1 62 6 62 9 62 5 62 4 62 0 62-3 62-3 62-8 62-7 62-2 62-4 62 3 62-6 62-1 62-2 62 0 62 0 62 3 62 9"/>
<path d="M0 144l62 5 62-5 62 5 62 4 62 5 62 2 62 4 62 1 62 5 62 17 62 29 62 96 62 106 62 43 62 26 62 2 62-40 62-48 62-84 62-93 62-46 62-47 62 8 62-38 62-4 62-11 62-15 62 6 62 26 62 127"/>
<path d="M0 191l62 6 62-7 62 5 62 6 62 3 62 4 62 5 62 1 62 9 62 22 62 39 62 122 62 147 62 53 62 49 62-10 62-48 62-76 62-115 62-118 62-14 62-75 62 32 62-49 62-54 62-11 62-26 62 10 62 31 62 149"/>
<path d="M0 169l62 7 62-4 62 10 62 5 62 7 62 4 62 6 62 3 62 5 62 20 62 29 62 113 62 133 62 57 62 48 62-8 62-39 62-57 62-118 62-118 62-13 62-36 62-17 62-25 62-53 62-25 62-11 62-4 62 21 62 167"/>
<path d="M0 251l62 9 62-9 62 9 62 9 62 11 62 11 62 16 62 6 62 5 62 28 62 44 62 171 62 188 62 60 62 64 62-11 62-62 62-94 62-155 62-158 62-33 62-32 62-35 62-57 62-56 62-36 62-16 62 24 62 17 62 214"/>
<path d="M0 26l62 1 62-1 62 1 62 1 62 1 62 1 62 1 62 0 62 1 62 3 62 4 62 18 62 22 62 10 62 5 62-1 62-6 62-10 62-16 62-17 62-9 62-5 62-9 62 1 62 0 62-8 62 2 62 1 62 1 62 23"/>
<path d="M0 208l62 7 62-6 62 6 62 5 62 11 62 11 62 10 62 8 62 6 62 23 62 36 62 147 62 151 62 72 62 42 62 10 62-60 62-73 62-139 62-139 62-8 62-77 62-18 62-2 62-77 62-20 62-2 62-42 62 91 62 153"/>
<path d="M0 199l62 5 62-7 62 5 62 3 62 9 62 4 62 10 62 4 62 4 62 21 62 34 62 127 62 139 62 57 62 38 62 8 62-39 62-72 62-115 62-136 62-19 62-9 62-57 62-12 62-60 62-28 62-30 62 8 62 24 62 184"/>
<path d="M0 303l62 9 62-11 62 5 62 9 62 9 62 9 62 8 62 0 62 11 62 28 62 61 62 190 62 191 62 57 62 66 62 0 62-77 62-92 62-169 62-157 62-43 62-150 62 45 62-4 62-80 62-57 62-7 62-27 62 56 62 263"/>
<path d="M0 302l62 12 62-10 62 15 62 12 62 8 62 6 62 10 62-1 62 9 62 28 62 63 62 194 62 195 62 65 62 53 62 8 62-81 62-103 62-186 62-159 62-92 62-39 62-42 62-79 62 1 62-53 62-22 62 40 62 30 62 264"/>
<path d="M0 181l62 7 62-7 62 7 62 4 62 7 62 7 62 6 62 2 62 6 62 16 62 29 62 110 62 129 62 53 62 46 62 4 62-53 62-63 62-112 62-114 62-44 62-18 62-17 62-23 62-41 62-22 62-4 62-12 62 50 62 136"/>
<path d="M0 80l62 2 62-3 62 3 62 2 62 2 62 2 62 4 62 0 62 3 62 9 62 10 62 47 62 59 62 34 62 23 62 3 62-28 62-31 62-49 62-47 62-23 62-22 62 5 62-18 62-11 62-15 62 0 62 1 62 10 62 67"/>
<path d="M0 94l62 2 62-3 62 2 62 3 62 4 62 0 62 4 62 1 62 2 62 9 62 13 62 57 62 71 62 37 62 29 62-1 62-27 62-35 62-55 62-55 62-25 62-38 62 16 62-25 62 1 62-32 62-4 62 2 62 27 62 72"/>
<path d="M0 75l62 3 62-1 62 4 62 4 62 1 62 2 62 2 62 1 62 3 62 8 62 11 62 45 62 57 62 34 62 20 62 4 62-22 62-31 62-48 62-50 62-13 62-19 62-7 62-9 62-12 62-20 62-2 62 7 62 18 62 57"/>
<path d="M0 273l62 10 62-6 62 13 62 11 62 14 62 7 62 9 62 9 62 7 62 31 62 61 62 206 62 202 62 64 62 28 62 5 62-63 62-101 62-172 62-187 62-53 62-86 62-21 62-43 62-44 62-30 62-23 62 37 62 72 62 202"/>
<path d="M0 23l62 1 62-1 62 2 62 1 62 1 62 1 62 1 62 0 62 1 62 2 62 1 62 14 62 19 62 13 62 9 62 1 62-9 62-9 62-15 62-15 62-4 62-10 62 0 62-7 62 0 62-7 62 1 62 0 62 6 62 19"/>
<path d="M0 37l62 1 62-1 62 1 62 1 62 1 62 2 62 1 62 1 62 1 62 3 62 4 62 20 62 28 62 17 62 10 62 0 62-10 62-13 62-23 62-22 62-12 62-4 62-8 62 0 62-12 62-2 62-5 62 2 62 8 62 31"/>
<path d="M0 75l62 1 62-1 62 1 62 2 62 2 62 3 62 3 62 1 62 3 62 7 62 11 62 45 62 61 62 31 62 19 62-3 62-13 62-21 62-54 62-47 62-17 62-20 62-5 62-2 62-22 62-16 62 1 62-6 62 21 62 60"/>
<path d="M0 53l62 2 62-2 62 1 62 2 62 1 62 1 62 2 62 0 62 4 62 6 62 8 62 31 62 41 62 22 62 17 62 2 62-23 62-21 62-33 62-31 62-12 62-6 62 0 62-13 62-9 62-11 62-4 62 0 62 7 62 49"/>
<path d="M0 162l62 6 62-4 62 5 62 4 62 9 62 3 62 8 62 2 62 10 62 22 62 36 62 111 62 131 62 53 62 34 62-1 62-43 62-64 62-107 62-105 62-48 62-31 62-37 62-4 62-23 62-47 62-1 62 19 62 30 62 128"/>
<path d="M0 60l62 2 62 0 62 2 62 2 62 2 62 1 62 2 62 0 62 3 62 7 62 8 62 38 62 46 62 26 62 22 62-1 62-19 62-22 62-38 62-40 62-10 62-25 62-2 62-11 62-6 62-9 62-6 62 5 62 4 62 59"/>
<path d="M0 136l62 5 62-3 62 5 62 5 62 3 62 5 62 3 62 1 62 5 62 11 62 17 62 82 62 102 62 49 62 54 62 5 62-64 62-51 62-82 62-84 62-15 62-44 62-24 62 22 62-67 62 6 62-12 62 10 62 17 62 125"/>
<path d="M0 273l62 12 62-9 62 9 62 5 62 13 62 14 62 14 62 5 62 14 62 32 62 65 62 191 62 208 62 56 62 74 62-6 62-86 62-91 62-175 62-176 62-23 62-106 62-48 62 6 62-82 62-19 62-33 62 19 62 65 62 190"/>
<path d="M0 84l62 2 62-4 62 1 62 2 62 4 62 4 62 4 62 1 62 4 62 9 62 12 62 50 62 66 62 37 62 27 62 6 62-29 62-33 62-54 62-55 62-18 62-29 62-7 62-5 62-16 62-11 62-7 62-3 62 27 62 69"/>
<path d="M0 246l62 11 62-6 62 10 62 7 62 10 62 3 62 9 62 1 62 10 62 23 62 46 62 160 62 177 62 66 62 57 62 5 62-70 62-95 62-149 62-156 62-16 62-132 62 20 62-20 62-39 62-42 62-9 62-21 62 56 62 194"/>
<path d="M0 76l62 4 62-3 62 4 62 2 62 3 62 2 62 1 62 0 62 5 62 11 62 14 62 52 62 57 62 34 62 16 62 2 62-27 62-30 62-50 62-53 62-21 62-21 62-2 62 5 62-20 62-9 62-15 62 8 62 13 62 65"/>
<path d="M0 62l62 2 62-2 62 1 62 1 62 3 62 3 62 2 62 2 62 2 62 7 62 7 62 38 62 49 62 27 62 21 62-2 62-18 62-23 62-44 62-39 62-5 62-33 62-7 62-2 62-13 62-6 62 0 62-1 62 16 62 50"/>
<path d="M0 148l62 7 62-5 62 6 62 5 62 9 62 5 62 8 62 5 62 2 62 13 62 23 62 92 62 105 62 55 62 32 62 4 62-33 62-53 62-99 62-100 62-28 62-44 62 10 62-36 62-32 62 2 62-24 62-6 62 27 62 126"/>
<path d="M0 184l62 8 62-6 62 7 62 8 62 6 62 2 62 8 62-1 62 5 62 22 62 33 62 118 62 126 62 55 62 31 62 5 62-56 62-63 62-113 62-100 62-49 62-48 62 29 62-40 62-68 62-1 62-8 62 9 62 23 62 151"/>
<path d="M0 223l62 10 62-8 62 6 62 8 62 8 62 4 62 6 62 4 62 9 62 26 62 50 62 141 62 149 62 73 62 48 62-2 62-66 62-75 62-144 62-133 62-50 62-67 62 20 62-45 62-46 62-45 62 1 62 5 62 42 62 184"/>
<path d="M0 13l62 1 62 0 62 0 62 1 62 0 62 0 62 1 62 0 62 0 62 1 62 2 62 7 62 10 62 8 62 4 62 1 62-5 62-5 62-9 62-9 62 0 62-7 62 2 62-2 62-4 62-2 62-2 62 1 62 4 62 11"/>
<path d="M0 73l62 3 62-3 62 2 62 2 62 2 62 1 62 1 62 1 62 1 62 9 62 8 62 40 62 55 62 30 62 21 62 0 62-25 62-26 62-43 62-46 62-14 62-22 62 11 62-22 62-11 62-8 62-1 62-6 62 13 62 64"/>
<path d="M0 13l62 0 62 0 62 0 62 1 62 1 62 0 62 0 62 1 62 0 62 2 62 1 62 8 62 10 62 7 62 5 62 0 62-4 62-6 62-8 62-9 62-5 62-3 62-1 62-3 62 2 62-5 62-1 62 2 62 2 62 12"/>
<path d="M0 23l62 0 62-1 62 1 62 1 62 0 62 1 62 0 62 0 62 1 62 2 62 3 62 13 62 18 62 10 62 6 62-1 62-6 62-9 62-13 62-13 62-4 62-7 62-5 62 0 62-5 62-3 62 0 62-1 62 7 62 16"/>
<path d="M0 6l62 0 62 0 62 0 62 0 62 1 62 0 62 0 62 0 62 0 62 1 62 0 62 3 62 4 62 3 62 2 62 0 62-1 62-3 62-3 62-4 62-1 62-2 62-1 62 0 62-1 62-1 62 0 62 0 62 1 62 5"/>
<path d="M0 203l62 7 62-10 62 6 62 3 62 7 62 3 62 7 62 0 62 9 62 20 62 35 62 124 62 134 62 59 62 49 62 11 62-57 62-63 62-132 62-132 62-8 62-79 62 12 62-62 62-17 62-28 62 1 62-4 62 47 62 160"/>
<path d="M0 20l62 1 62 0 62 0 62 0 62 1 62 1 62 1 62 0 62 1 62 2 62 3 62 12 62 16 62 10 62 7 62 0 62-8 62-8 62-14 62-12 62-3 62-6 62 3 62-7 62-6 62-2 62-1 62 1 62 5 62 16"/>
<path d="M0 97l62 4 62-1 62 3 62 3 62 4 62 1 62 5 62-1 62 5 62 10 62 14 62 63 62 80 62 34 62 27 62-5 62-30 62-34 62-61 62-63 62-21 62-34 62 13 62-27 62-19 62-10 62-7 62 2 62 25 62 82"/>
<path d="M0 114l62 4 62-2 62 4 62 4 62 4 62 3 62 2 62 4 62 3 62 12 62 16 62 65 62 82 62 50 62 34 62-3 62-36 62-42 62-70 62-63 62-36 62-31 62-9 62-5 62-29 62-18 62 4 62-2 62 28 62 85"/>
<path d="M0 107l62 5 62-4 62 4 62 3 62 5 62 2 62 5 62 1 62 5 62 12 62 15 62 66 62 83 62 42 62 38 62 7 62-34 62-40 62-78 62-70 62-19 62-42 62-9 62-7 62-29 62-11 62-3 62 7 62 20 62 105"/>
<path d="M0 175l62 5 62-6 62 6 62 5 62 6 62 3 62 9 62 1 62 5 62 18 62 26 62 100 62 117 62 51 62 45 62-6 62-53 62-61 62-101 62-98 62-45 62-30 62 1 62-33 62-29 62-25 62 9 62-1 62 43 62 116"/>
<path d="M0 22l62 1 62-1 62 1 62 0 62 1 62 1 62 1 62 0 62 1 62 2 62 3 62 13 62 17 62 12 62 6 62 1 62-7 62-8 62-15 62-16 62-1 62-9 62 1 62-5 62-5 62-3 62-3 62 3 62 4 62 19"/>
<path d="M0 153l62 5 62-4 62 5 62 4 62 6 62 2 62 5 62 0 62 5 62 16 62 25 62 96 62 111 62 56 62 51 62-4 62-45 62-54 62-93 62-99 62-35 62-15 62-36 62-12 62-54 62-11 62-6 62 8 62 31 62 120"/>
<path d="M0 308l62 9 62-11 62 7 62 6 62 13 62 8 62 12 62 6 62 12 62 28 62 59 62 193 62 198 62 85 62 68 62-5 62-86 62-100 62-182 62-179 62-83 62-16 62-24 62-88 62-21 62-55 62-1 62-15 62 69 62 216"/>
<path d="M0 105l62 4 62-2 62 5 62 5 62 3 62 2 62 5 62 0 62 3 62 13 62 17 62 70 62 85 62 43 62 25 62 0 62-23 62-36 62-73 62-78 62-39 62-19 62-1 62-27 62-10 62-15 62-4 62 4 62 19 62 86"/>
<path d="M0 246l62 8 62-10 62 9 62 8 62 12 62 7 62 8 62 4 62 11 62 26 62 54 62 162 62 166 62 69 62 55 62-4 62-55 62-85 62-149 62-159 62-57 62-45 62-64 62 15 62-68 62-19 62-26 62-15 62 58 62 195"/>
<path d="M0 38l62 2 62-1 62 2 62 2 62 1 62 1 62 1 62 0 62 1 62 4 62 4 62 23 62 30 62 19 62 13 62-2 62-10 62-15 62-28 62-25 62-8 62-14 62 0 62-5 62-9 62-5 62 3 62-5 62 16 62 29"/>
<path d="M0 131l62 4 62-4 62 5 62 4 62 1 62 3 62 5 62 0 62 5 62 11 62 15 62 70 62 90 62 52 62 42 62 2 62-41 62-46 62-79 62-74 62-32 62-19 62-14 62-23 62-26 62-20 62 0 62-4 62 43 62 106"/>
<path d="M0 228l62 5 62-8 62 10 62 6 62 10 62 7 62 11 62 6 62 8 62 22 62 46 62 153 62 153 62 65 62 64 62 15 62-74 62-76 62-154 62-134 62-28 62-110 62 7 62-37 62-39 62-33 62-3 62 11 62 43 62 176"/>
<path d="M0 123l62 3 62-4 62 4 62 2 62 4 62 3 62 4 62 2 62 3 62 14 62 20 62 78 62 95 62 50 62 27 62 9 62-45 62-54 62-77 62-72 62-13 62-56 62 7 62-18 62-19 62-20 62-2 62-2 62 30 62 103"/>
<path d="M0 53l62 3 62-2 62 1 62 2 62 2 62 1 62 3 62 0 62 2 62 6 62 5 62 30 62 38 62 25 62 17 62 1 62-16 62-18 62-36 62-34 62-2 62-12 62-5 62-7 62-16 62-12 62-4 62 7 62 7 62 43"/>
<path d="M0 241l62 9 62-1 62 10 62 13 62 9 62 9 62 9 62 7 62 4 62 20 62 42 62 162 62 176 62 69 62 59 62-10 62-56 62-85 62-155 62-142 62-77 62-24 62 11 62-64 62-71 62-18 62-35 62 6 62 66 62 187"/>
<path d="M0 143l62 5 62-7 62 5 62 4 62 2 62 3 62 3 62 1 62 6 62 15 62 22 62 89 62 108 62 55 62 37 62 4 62-46 62-51 62-89 62-90 62-31 62-12 62-7 62-42 62-38 62-11 62 4 62-16 62 35 62 120"/>
<path d="M0 198l62 6 62-8 62 7 62 7 62 7 62 4 62 7 62 3 62 10 62 24 62 39 62 129 62 143 62 53 62 37 62 13 62-50 62-71 62-123 62-136 62-44 62-36 62-40 62-19 62-40 62-24 62-21 62 4 62 70 62 152"/>
<path d="M0 143l62 6 62-6 62 5 62 6 62 4 62 3 62 4 62 1 62 9 62 22 62 28 62 98 62 112 62 43 62 36 62-1 62-39 62-51 62-92 62-98 62-10 62-65 62-12 62-9 62-28 62-27 62-3 62 2 62 25 62 127"/>
<path d="M0 182l62 6 62-8 62 3 62-1 62 7 62 5 62 5 62 3 62 6 62 20 62 35 62 118 62 132 62 47 62 47 62 9 62-45 62-61 62-109 62-113 62-6 62-43 62-29 62-32 62-28 62-45 62-6 62-1 62 42 62 151"/>
<path d="M0 196l62 9 62-5 62 7 62 9 62 4 62 4 62 8 62 1 62 7 62 24 62 41 62 135 62 141 62 60 62 51 62-4 62-46 62-76 62-126 62-120 62-35 62-67 62 18 62-49 62-51 62-24 62-1 62-7 62 33 62 175"/>
<path d="M0 5l62 0 62 0 62 0 62 0 62 0 62 0 62 1 62 0 62 0 62 0 62 1 62 3 62 4 62 2 62 2 62 0 62-2 62-2 62-3 62-3 62-1 62-2 62 0 62-1 62 0 62-2 62 1 62 0 62 1 62 4"/>
<path d="M0 143l62 7 62-3 62 7 62 7 62 5 62 4 62 7 62 2 62 4 62 16 62 23 62 97 62 110 62 52 62 38 62 1 62-31 62-56 62-101 62-95 62-44 62-24 62-18 62-26 62-33 62-3 62-14 62 3 62 29 62 131"/>
<path d="M0 41l62 2 62-1 62 2 62 1 62 1 62 0 62 2 62-1 62 2 62 4 62 4 62 24 62 33 62 19 62 14 62-1 62-15 62-15 62-26 62-26 62-12 62-14 62-2 62 6 62-11 62-11 62 0 62 0 62 14 62 33"/>
<path d="M0 286l62 17 62-5 62 15 62 14 62 11 62 6 62 10 62 6 62 7 62 33 62 65 62 201 62 204 62 69 62 51 62 5 62-75 62-116 62-177 62-190 62-25 62-80 62-27 62-7 62-69 62-77 62 6 62-16 62 90 62 217"/>
<path d="M0 232l62 8 62-9 62 9 62 6 62 10 62 4 62 14 62 6 62 6 62 29 62 47 62 161 62 171 62 71 62 26 62 4 62-53 62-79 62-133 62-149 62-41 62-67 62-6 62-17 62-67 62-39 62-6 62-19 62 52 62 184"/>
<path d="M0 93l62 2 62-3 62 2 62 3 62 2 62 1 62 3 62 0 62 3 62 9 62 12 62 54 62 72 62 36 62 23 62 3 62-29 62-33 62-56 62-56 62 0 62-38 62-4 62-7 62-30 62-12 62 1 62 6 62 7 62 71"/>
<path d="M0 141l62 2 62-5 62 4 62 3 62 3 62 3 62 5 62 0 62 2 62 15 62 20 62 87 62 104 62 48 62 35 62 11 62-44 62-49 62-83 62-94 62-19 62-47 62 13 62-29 62-44 62 5 62-22 62-2 62 44 62 109"/>
<path d="M0 9l62 1 62-1 62 1 62 0 62 1 62 0 62 0 62 1 62 0 62 1 62 1 62 5 62 8 62 5 62 3 62 0 62-4 62-4 62-5 62-7 62 1 62-3 62-2 62-1 62-2 62-2 62-1 62 1 62 2 62 8"/>
<path d="M0 62l62 3 62-3 62 2 62 2 62 2 62 1 62 3 62 0 62 2 62 6 62 8 62 36 62 47 62 22 62 20 62 0 62-18 62-22 62-40 62-41 62-13 62-16 62-6 62-2 62-11 62-11 62-2 62 3 62 9 62 45"/>
<path d="M0 195l62 6 62-5 62 7 62 6 62 10 62 5 62 8 62 4 62 4 62 19 62 33 62 126 62 139 62 55 62 44 62 9 62-78 62-69 62-115 62-108 62-30 62-58 62-30 62-20 62-31 62-30 62 4 62-11 62 43 62 145"/>
<path d="M0 64l62 2 62-2 62 3 62 1 62 3 62 2 62 3 62 0 62 2 62 6 62 8 62 38 62 47 62 29 62 19 62-1 62-18 62-25 62-41 62-38 62-10 62-14 62-13 62-1 62-17 62-7 62-3 62-6 62 13 62 51"/>
<path d="M0 146l62 6 62-6 62 5 62 3 62 7 62 5 62 7 62 4 62 2 62 17 62 24 62 97 62 108 62 51 62 40 62 0 62-45 62-58 62-89 62-87 62-39 62-29 62 6 62-37 62-43 62-16 62-13 62 7 62 36 62 124"/>
<path d="M0 13l62 1 62-1 62 1 62 0 62 0 62 1 62 0 62 0 62 1 62 1 62 2 62 7 62 11 62 6 62 4 62 0 62-3 62-5 62-9 62-9 62-2 62-5 62-1 62-2 62-1 62-2 62-2 62 0 62 4 62 12"/>
<path d="M0 204l62 8 62-3 62 9 62 8 62 8 62 2 62 9 62 0 62 7 62 21 62 33 62 135 62 149 62 63 62 49 62-1 62-63 62-78 62-126 62-117 62-20 62-93 62 18 62-71 62 16 62-28 62-21 62-14 62 80 62 134"/>
<path d="M0 297l62 7 62-12 62 10 62 7 62 16 62 9 62 17 62 6 62 10 62 32 62 64 62 199 62 192 62 53 62 50 62 11 62-75 62-93 62-174 62-180 62-81 62 1 62-100 62-33 62-37 62-34 62-39 62 36 62 40 62 222"/>
<path d="M0 132l62 3 62-4 62 4 62 5 62 4 62 4 62 6 62 3 62 2 62 11 62 17 62 82 62 93 62 51 62 28 62 1 62-44 62-54 62-72 62-81 62-9 62-52 62-17 62-25 62-4 62-13 62-14 62 12 62 20 62 100"/>
<path d="M0 180l62 4 62-5 62 4 62 4 62 8 62 4 62 9 62 3 62 6 62 24 62 39 62 123 62 141 62 40 62 31 62 1 62-42 62-67 62-113 62-131 62-28 62-68 62-8 62-22 62-3 62-43 62-5 62-4 62 55 62 135"/>
<path d="M0 194l62 8 62-6 62 8 62 6 62 10 62 6 62 8 62 5 62 5 62 22 62 36 62 131 62 150 62 53 62 45 62 15 62-56 62-77 62-128 62-134 62-5 62-84 62-2 62-62 62-17 62-41 62 7 62 18 62 27 62 182"/>
<path d="M0 312l62 11 62-15 62 10 62 6 62 11 62 10 62 11 62 3 62 9 62 30 62 59 62 195 62 202 62 60 62 61 62 0 62-71 62-105 62-179 62-164 62-65 62-50 62 7 62-109 62-44 62-41 62 15 62-22 62 72 62 228"/>
<path d="M0 39l62 1 62-2 62 1 62 2 62 1 62 1 62 1 62 0 62 2 62 4 62 4 62 22 62 31 62 17 62 12 62 3 62-13 62-14 62-24 62-26 62-9 62-12 62 1 62-5 62-4 62-16 62 7 62-2 62 7 62 32"/>
<path d="M0 199l62 5 62-7 62 5 62 4 62 7 62 5 62 6 62 1 62 5 62 17 62 28 62 124 62 132 62 61 62 55 62-3 62-40 62-66 62-123 62-116 62-17 62-82 62 6 62-34 62-53 62-9 62-21 62 26 62 21 62 164"/>
<path d="M0 84l62 4 62-3 62 3 62 3 62 2 62 2 62 4 62-1 62 4 62 10 62 11 62 53 62 68 62 35 62 27 62 8 62-29 62-28 62-60 62-61 62-22 62-24 62 4 62-26 62 0 62-12 62-4 62-11 62 16 62 73"/>
<path d="M0 282l62 6 62-6 62 9 62 7 62 7 62 7 62 8 62 2 62 8 62 28 62 55 62 186 62 192 62 64 62 51 62 7 62-69 62-88 62-178 62-162 62-65 62-69 62 30 62-69 62-65 62-42 62-1 62 2 62 57 62 216"/>
<path d="M0 56l62 2 62-1 62 2 62 3 62 2 62 1 62 3 62 1 62 1 62 5 62 6 62 34 62 42 62 28 62 22 62 1 62-19 62-25 62-36 62-37 62-10 62-24 62 3 62-4 62-11 62-11 62-2 62 2 62 8 62 50"/>
<path d="M0 70l62 3 62-2 62 3 62 2 62 3 62 2 62 3 62 2 62 1 62 8 62 10 62 43 62 56 62 31 62 19 62-5 62-23 62-23 62-48 62-45 62-21 62 2 62-13 62-23 62-1 62-16 62-5 62 5 62 8 62 67"/>
<path d="M0 66l62 3 62-3 62 2 62 2 62 3 62 1 62 4 62 0 62 2 62 8 62 10 62 40 62 52 62 28 62 12 62 3 62-23 62-24 62-43 62-41 62-14 62-20 62-3 62-14 62 0 62-11 62-12 62 10 62 14 62 51"/>
<path d="M0 12l62 1 62-1 62 1 62 0 62 1 62 0 62 1 62 0 62 0 62 1 62 2 62 7 62 10 62 6 62 5 62 0 62-5 62-4 62-8 62-10 62-1 62-5 62 1 62-3 62-2 62-1 62-1 62 0 62 2 62 12"/>
<path d="M0 151l62 6 62-6 62 7 62 4 62 8 62 3 62 7 62 4 62 5 62 18 62 27 62 104 62 124 62 47 62 32 62-2 62-35 62-53 62-100 62-88 62-58 62-20 62-25 62-23 62-27 62-25 62-3 62 13 62 30 62 119"/>
<path d="M0 233l62 4 62-7 62 6 62 7 62 10 62 4 62 11 62 4 62 8 62 21 62 38 62 145 62 158 62 71 62 34 62 6 62-74 62-77 62-137 62-141 62-2 62-109 62 31 62-47 62-49 62-22 62-6 62-8 62 54 62 169"/>
<path d="M0 187l62 6 62-6 62 5 62 6 62 5 62 5 62 5 62 5 62 5 62 20 62 31 62 122 62 145 62 64 62 56 62-8 62-57 62-71 62-114 62-114 62-29 62-47 62-35 62-38 62-12 62-15 62-10 62-20 62 64 62 141"/>
<path d="M0 116l62 4 62-4 62 3 62 4 62 4 62 3 62 5 62 2 62 3 62 11 62 16 62 71 62 87 62 45 62 27 62 10 62-41 62-44 62-75 62-70 62-32 62-31 62-4 62-17 62-15 62-1 62-13 62 4 62 28 62 84"/>
<path d="M0 7l62 0 62 0 62 0 62 0 62 1 62 0 62 0 62 0 62 0 62 1 62 1 62 4 62 6 62 3 62 2 62 0 62-2 62-3 62-4 62-5 62-3 62 0 62-1 62-1 62-1 62-1 62 0 62 0 62 2 62 5"/>
<path d="M0 38l62 1 62-1 62 1 62 2 62 1 62 1 62 1 62 0 62 1 62 3 62 5 62 21 62 28 62 17 62 11 62 0 62-10 62-14 62-25 62-25 62-10 62-10 62 2 62-2 62-12 62-4 62 2 62-2 62 8 62 31"/>
<path d="M0 247l62 10 62-9 62 8 62 9 62 8 62 5 62 9 62 3 62 11 62 23 62 49 62 163 62 158 62 72 62 44 62-5 62-70 62-80 62-152 62-146 62-40 62-27 62-33 62-38 62-72 62-12 62-11 62-5 62 39 62 210"/>
<path d="M0 114l62 5 62-2 62 4 62 5 62 5 62 3 62 4 62 2 62 6 62 11 62 19 62 72 62 82 62 48 62 32 62 2 62-30 62-48 62-72 62-78 62-29 62-36 62 1 62-39 62 2 62-17 62 6 62-9 62 24 62 95"/>
<path d="M0 223l62 4 62-9 62 7 62 3 62 8 62 6 62 7 62 2 62 2 62 18 62 32 62 128 62 149 62 62 62 50 62 3 62-55 62-73 62-128 62-131 62-40 62-43 62-5 62-41 62-28 62-40 62 3 62-19 62 73 62 137"/>
<path d="M0 158l62 4 62-5 62 5 62 5 62 8 62 7 62 9 62 4 62 4 62 17 62 26 62 99 62 118 62 58 62 46 62-7 62-54 62-51 62-96 62-112 62-32 62-62 62-1 62-25 62-13 62-18 62 3 62 4 62 32 62 137"/>
<path d="M0 256l62 12 62-8 62 10 62 12 62 9 62 5 62 12 62 2 62 9 62 25 62 47 62 162 62 159 62 70 62 62 62 13 62-83 62-90 62-145 62-139 62-44 62-106 62 31 62-27 62-84 62-33 62-8 62 26 62 44 62 208"/>
<path d="M0 65l62 3 62-1 62 4 62 3 62 2 62 2 62 1 62 1 62 2 62 7 62 10 62 44 62 56 62 30 62 16 62 1 62-21 62-27 62-45 62-41 62-9 62-28 62 4 62-14 62-12 62-7 62-5 62-2 62 10 62 62"/>
<path d="M0 52l62 3 62-2 62 2 62 3 62 2 62 2 62 2 62 1 62 2 62 6 62 7 62 34 62 42 62 22 62 16 62-3 62-13 62-23 62-35 62-33 62-8 62-15 62 2 62-17 62-2 62-13 62-2 62-8 62 20 62 44"/>
<path d="M0 34l62 2 62-1 62 1 62 1 62 1 62 1 62 0 62 0 62 2 62 4 62 4 62 21 62 27 62 16 62 7 62 3 62-9 62-12 62-23 62-22 62-7 62-10 62-1 62-2 62-9 62-10 62 1 62 0 62 9 62 27"/>
<path d="M0 278l62 9 62-9 62 6 62 11 62 11 62 10 62 12 62 0 62 13 62 29 62 60 62 195 62 191 62 60 62 27 62 27 62-96 62-99 62-164 62-154 62-57 62-57 62 35 62-120 62-24 62-38 62 0 62-19 62 78 62 188"/>
<path d="M0 8l62 1 62-1 62 1 62 0 62 0 62 1 62 0 62 0 62 0 62 1 62 1 62 5 62 7 62 4 62 2 62 0 62-2 62-3 62-6 62-5 62-3 62-2 62-1 62-1 62-1 62-1 62-1 62 1 62 2 62 7"/>
<path d="M0 281l62 8 62-14 62 6 62 3 62 13 62 4 62 12 62 4 62 3 62 31 62 53 62 185 62 187 62 46 62 50 62 15 62-80 62-91 62-165 62-160 62-33 62-123 62 50 62-73 62-43 62-49 62 6 62 9 62 58 62 206"/>
<path d="M0 126l62 6 62-2 62 6 62 5 62 5 62 2 62 4 62 1 62 3 62 12 62 20 62 80 62 99 62 49 62 35 62-7 62-35 62-48 62-78 62-82 62-10 62-38 62 20 62-58 62-32 62 0 62-9 62-1 62 21 62 119"/>
<path d="M0 71l62 3 62-2 62 3 62 2 62 1 62 2 62 0 62-1 62 4 62 7 62 9 62 41 62 54 62 29 62 26 62-2 62-20 62-26 62-43 62-48 62-3 62-31 62 4 62-7 62-17 62-15 62 0 62-6 62 17 62 61"/>
<path d="M0 68l62 3 62-3 62 2 62 3 62 2 62 1 62 3 62 2 62 4 62 8 62 12 62 45 62 57 62 29 62 15 62 3 62-16 62-25 62-49 62-49 62-18 62-18 62-6 62-8 62-11 62-11 62-10 62 10 62 4 62 74"/>
<path d="M0 75l62 2 62-2 62 3 62 1 62 4 62 1 62 3 62 0 62 1 62 8 62 10 62 44 62 56 62 33 62 18 62 3 62-24 62-25 62-48 62-45 62-13 62-28 62 13 62-25 62-12 62-13 62 2 62-3 62 21 62 59"/>
<path d="M0 238l62 6 62-10 62 6 62 5 62 13 62 6 62 11 62 8 62 10 62 27 62 49 62 176 62 179 62 57 62 48 62 5 62-58 62-80 62-147 62-159 62-49 62-35 62-37 62-49 62-56 62-12 62-41 62-2 62 72 62 198"/>
<path d="M0 161l62 6 62-1 62 5 62 7 62 7 62 4 62 7 62 3 62 3 62 15 62 29 62 107 62 123 62 54 62 35 62 7 62-45 62-56 62-106 62-102 62-15 62-50 62 1 62-71 62 4 62-46 62 4 62-11 62 50 62 123"/>
<path d="M0 30l62 1 62-1 62 1 62 2 62 1 62 0 62 2 62 0 62 1 62 3 62 4 62 18 62 23 62 14 62 7 62 2 62-9 62-12 62-17 62-22 62-10 62-4 62-6 62-3 62-5 62-4 62 0 62 1 62 5 62 28"/>
<path d="M0 184l62 7 62-8 62 5 62 3 62 8 62 7 62 7 62 5 62 7 62 17 62 30 62 115 62 132 62 59 62 50 62 1 62-69 62-68 62-112 62-102 62-48 62-63 62 46 62-57 62-14 62-52 62 9 62-16 62 48 62 150"/>
<path d="M0 63l62 3 62-3 62 2 62 2 62 2 62 1 62 3 62 0 62 2 62 9 62 10 62 41 62 50 62 27 62 14 62 3 62-20 62-22 62-43 62-41 62-12 62-26 62-3 62-8 62-10 62-14 62 3 62 2 62 16 62 47"/>
<path d="M0 12l62 0 62 0 62 0 62 1 62 0 62 0 62 1 62 0 62 0 62 1 62 2 62 7 62 10 62 5 62 3 62 0 62-3 62-4 62-7 62-9 62-5 62-1 62 1 62-3 62-1 62-3 62 0 62-1 62 3 62 10"/>
<path d="M0 172l62 8 62-5 62 7 62 6 62 5 62 6 62 6 62 3 62 6 62 17 62 37 62 118 62 140 62 46 62 35 62 3 62-47 62-48 62-124 62-134 62-19 62-19 62 4 62-32 62-96 62-9 62 7 62 11 62 24 62 146"/>
<path d="M0 212l62 7 62-8 62 7 62 6 62 5 62 5 62 7 62 4 62 6 62 25 62 41 62 131 62 148 62 51 62 42 62-6 62-48 62-89 62-128 62-116 62-35 62-80 62 28 62-37 62-35 62-39 62 1 62 14 62 14 62 176"/>
<path d="M0 212l62 5 62-7 62 6 62 6 62 7 62 4 62 6 62 0 62 10 62 25 62 42 62 133 62 139 62 68 62 43 62 13 62-60 62-64 62-136 62-123 62-36 62-66 62 0 62-34 62-56 62-32 62 3 62 20 62 15 62 178"/>
<path d="M0 16l62 1 62-1 62 1 62 0 62 1 62 0 62 1 62-1 62 1 62 2 62 2 62 9 62 14 62 7 62 4 62 0 62-4 62-5 62-10 62-11 62-3 62-7 62 1 62-3 62-3 62-2 62-1 62 0 62 3 62 15"/>
<path d="M0 89l62 4 62-3 62 2 62 3 62 3 62 1 62 4 62 0 62 2 62 8 62 13 62 52 62 63 62 37 62 21 62-1 62-25 62-29 62-53 62-55 62-22 62-20 62-8 62-12 62-27 62 5 62-7 62 3 62 5 62 80"/>
<path d="M0 255l62 9 62-9 62 9 62 9 62 9 62 4 62 8 62 0 62 11 62 31 62 54 62 178 62 176 62 62 62 46 62-3 62-66 62-82 62-163 62-156 62-86 62-66 62 11 62-13 62-60 62-33 62 7 62-4 62 36 62 226"/>
<path d="M0 30l62 1 62 0 62 0 62 1 62 2 62 0 62 2 62 0 62 1 62 3 62 3 62 19 62 25 62 14 62 6 62 2 62-9 62-11 62-20 62-20 62-4 62-7 62-4 62 0 62-8 62-7 62-3 62-1 62 8 62 26"/>
<path d="M0 38l62 1 62-1 62 1 62 1 62 1 62 1 62 1 62 0 62 2 62 4 62 4 62 24 62 30 62 19 62 13 62 1 62-13 62-16 62-24 62-25 62-6 62-10 62-11 62-2 62-6 62-6 62-1 62 1 62 15 62 26"/>
<path d="M0 57l62 2 62-1 62 2 62 2 62 1 62 1 62 2 62 0 62 3 62 5 62 7 62 33 62 43 62 25 62 18 62 6 62-21 62-23 62-37 62-38 62-8 62-22 62 1 62-13 62-5 62-7 62-3 62 2 62 12 62 49"/>
<path d="M0 293l62 13 62-16 62 9 62 4 62 11 62 5 62 13 62 2 62 10 62 32 62 58 62 189 62 192 62 54 62 53 62 19 62-88 62-95 62-164 62-173 62-44 62-63 62-25 62-59 62-43 62-43 62-4 62-3 62 84 62 191"/>
<path d="M0 90l62 3 62-3 62 2 62 3 62 3 62 3 62 3 62 1 62 2 62 9 62 13 62 56 62 67 62 39 62 22 62-3 62-22 62-31 62-57 62-54 62-17 62-5 62-30 62-3 62-21 62-20 62 6 62-5 62 10 62 82"/>
<path d="M0 145l62 4 62-5 62 4 62 5 62 5 62 4 62 5 62 4 62 4 62 15 62 24 62 89 62 107 62 51 62 42 62-6 62-41 62-45 62-93 62-92 62-47 62-21 62-15 62-17 62-50 62-2 62 10 62-11 62 39 62 105"/>
<path d="M0 48l62 1 62-1 62 1 62 2 62 2 62 1 62 1 62 1 62 3 62 5 62 7 62 27 62 36 62 22 62 15 62-1 62-13 62-17 62-34 62-31 62-7 62-10 62-4 62-10 62-14 62-1 62-9 62 3 62 11 62 41"/>
<path d="M0 325l62 10 62-5 62 12 62 9 62 10 62 4 62 11 62 4 62 13 62 25 62 62 62 203 62 211 62 73 62 91 62-2 62-104 62-121 62-184 62-174 62-57 62-107 62 32 62-63 62-61 62-35 62-14 62 8 62 67 62 239"/>
<path d="M0 32l62 2 62 0 62 1 62 2 62 1 62 1 62 1 62 1 62 1 62 4 62 3 62 20 62 27 62 15 62 14 62 1 62-12 62-15 62-20 62-22 62-1 62-18 62 2 62-4 62-8 62-6 62-4 62 0 62 6 62 32"/>
<path d="M0 3l62 0 62 0 62 0 62 1 62 0 62 0 62 0 62 0 62 0 62 0 62 1 62 2 62 2 62 2 62 1 62 0 62-1 62-1 62-3 62-2 62 0 62-2 62 0 62 0 62-1 62 0 62 0 62 0 62 1 62 2"/>
<path d="M0 287l62 8 62-15 62 8 62 7 62 13 62 12 62 10 62 10 62 10 62 32 62 62 62 196 62 201 62 49 62 65 62-1 62-85 62-104 62-161 62-189 62-41 62-89 62-20 62-76 62 4 62-38 62 8 62-4 62 42 62 237"/>
<path d="M0 160l62 7 62-6 62 5 62 6 62 6 62 6 62 9 62 0 62 7 62 16 62 25 62 100 62 114 62 56 62 45 62 0 62-54 62-53 62-101 62-95 62-3 62-56 62-13 62-20 62-30 62-51 62 7 62 4 62 24 62 136"/>
<path d="M0 198l62 10 62-6 62 8 62 8 62 6 62 5 62 10 62 0 62 10 62 19 62 33 62 122 62 143 62 58 62 56 62 10 62-67 62-81 62-124 62-113 62-16 62-38 62-15 62-43 62-54 62-29 62-16 62 11 62 35 62 156"/>
<path d="M0 40l62 2 62-2 62 2 62 1 62 1 62 0 62 2 62 0 62 2 62 4 62 5 62 24 62 31 62 17 62 11 62 3 62-15 62-16 62-24 62-23 62-15 62 1 62-10 62-6 62-6 62-8 62 1 62-2 62 12 62 33"/>
<path d="M0 220l62 9 62-8 62 5 62 8 62 12 62 8 62 11 62 7 62 5 62 23 62 41 62 145 62 162 62 77 62 50 62 3 62-69 62-84 62-145 62-145 62-30 62-81 62-18 62-21 62-39 62-49 62-9 62 42 62 24 62 189"/>
<path d="M0 157l62 6 62-3 62 6 62 5 62 8 62 5 62 9 62 3 62 5 62 18 62 26 62 107 62 126 62 62 62 50 62-10 62-42 62-58 62-102 62-115 62-42 62-12 62-68 62 4 62-33 62-20 62-6 62 8 62 45 62 148"/>
<path d="M0 52l62 3 62-1 62 3 62 2 62 2 62 1 62 2 62 0 62 1 62 6 62 7 62 33 62 42 62 24 62 17 62 3 62-13 62-24 62-34 62-40 62-8 62-20 62-2 62-3 62-12 62-12 62 3 62-1 62 15 62 39"/>
<path d="M0 224l62 6 62-11 62 6 62 3 62 7 62 3 62 6 62 2 62 7 62 29 62 41 62 139 62 152 62 57 62 31 62 6 62-39 62-78 62-127 62-152 62-29 62-53 62-18 62-40 62-31 62-19 62-13 62-3 62 40 62 197"/>
<path d="M0 297l62 11 62-12 62 8 62 9 62 11 62 3 62 14 62 0 62 13 62 32 62 64 62 197 62 214 62 45 62 51 62 9 62-55 62-110 62-182 62-150 62-154 62-68 62 29 62-50 62-14 62-66 62 5 62 3 62 52 62 229"/>
<path d="M0 152l62 6 62-5 62 6 62 5 62 7 62 5 62 7 62 3 62 5 62 17 62 25 62 103 62 117 62 49 62 42 62 4 62-46 62-58 62-98 62-106 62-18 62-45 62-28 62-15 62-27 62-31 62-2 62 9 62 22 62 143"/>
<path d="M0 79l62 2 62-3 62 3 62 2 62 2 62 1 62 2 62-1 62 4 62 9 62 9 62 47 62 59 62 30 62 25 62 1 62-19 62-24 62-55 62-48 62-28 62-11 62-20 62 2 62-13 62-14 62-2 62 4 62 15 62 70"/>
<path d="M0 124l62 5 62-2 62 4 62 5 62 5 62 4 62 4 62 2 62 2 62 12 62 17 62 74 62 87 62 42 62 33 62 4 62-42 62-45 62-76 62-72 62-22 62-25 62-10 62-23 62-18 62-23 62-6 62 1 62 34 62 98"/>
<path d="M0 39l62 2 62-2 62 2 62 0 62 2 62 1 62 1 62 0 62 1 62 4 62 3 62 22 62 31 62 18 62 14 62-2 62-12 62-13 62-26 62-25 62-11 62-5 62-2 62-5 62-9 62-5 62-2 62 0 62 8 62 30"/>
<path d="M0 87l62 3 62-2 62 3 62 4 62 2 62 2 62 3 62 0 62 4 62 11 62 17 62 56 62 70 62 31 62 26 62 2 62-20 62-30 62-57 62-66 62 8 62-45 62 0 62-36 62-7 62-14 62-3 62 5 62 22 62 65"/>
<path d="M0 128l62 4 62-4 62 4 62 4 62 5 62 2 62 6 62 0 62 4 62 12 62 17 62 77 62 95 62 47 62 40 62 2 62-44 62-51 62-74 62-81 62-7 62-53 62-20 62 0 62-24 62-16 62-9 62 6 62 34 62 100"/>
<path d="M0 95l62 3 62-2 62 3 62 4 62 2 62 4 62 5 62 1 62 4 62 11 62 17 62 63 62 80 62 33 62 20 62 0 62-22 62-31 62-64 62-66 62-35 62-26 62-9 62-11 62-12 62-11 62-5 62-6 62 31 62 78"/>
<path d="M0 207l62 8 62-7 62 10 62 7 62 6 62 4 62 7 62 3 62 8 62 17 62 34 62 135 62 151 62 64 62 49 62 16 62-56 62-75 62-136 62-141 62-22 62-44 62-28 62-39 62-31 62-49 62 1 62 8 62 30 62 189"/>
<path d="M0 190l62 6 62-5 62 7 62 4 62 7 62 2 62 7 62 2 62 7 62 16 62 28 62 108 62 126 62 70 62 58 62 15 62-86 62-66 62-117 62-112 62-11 62-102 62 0 62-4 62-33 62-12 62-10 62 2 62 39 62 145"/>
<path d="M0 45l62 2 62-1 62 2 62 2 62 1 62 1 62 1 62 0 62 2 62 5 62 6 62 29 62 38 62 19 62 14 62 1 62-15 62-17 62-30 62-30 62-6 62-18 62 1 62-12 62-8 62-6 62 2 62 2 62 8 62 35"/>
<path d="M0 46l62 2 62-1 62 2 62 1 62 2 62 1 62 2 62 0 62 2 62 5 62 7 62 28 62 37 62 19 62 9 62-1 62-8 62-16 62-29 62-31 62-11 62-17 62 0 62-11 62-7 62-2 62-4 62-4 62 16 62 33"/>
<path d="M0 88l62 3 62-2 62 3 62 4 62 4 62 3 62 4 62 3 62 3 62 8 62 13 62 59 62 72 62 35 62 27 62 2 62-35 62-39 62-59 62-59 62-14 62-33 62 6 62-19 62-10 62-15 62 3 62 0 62 17 62 74"/>
<path d="M0 147l62 5 62-4 62 6 62 4 62 6 62 5 62 5 62 2 62 5 62 16 62 24 62 94 62 110 62 46 62 29 62 10 62-57 62-53 62-90 62-94 62-7 62-64 62 13 62-36 62-23 62-19 62 2 62-5 62 44 62 108"/>
<path d="M0 161l62 4 62-5 62 6 62 2 62 7 62 7 62 5 62 4 62 6 62 17 62 30 62 103 62 117 62 52 62 40 62 1 62-48 62-62 62-111 62-91 62-31 62-31 62-5 62-33 62-34 62-27 62 8 62-4 62 34 62 115"/>
<path d="M0 196l62 5 62-8 62 7 62 4 62 5 62 4 62 7 62 1 62 6 62 21 62 37 62 132 62 155 62 40 62 38 62-1 62-45 62-66 62-121 62-124 62-67 62-44 62 0 62-18 62-32 62-40 62 6 62 4 62 36 62 147"/>
<path d="M0 228l62 10 62-9 62 6 62 6 62 9 62 6 62 10 62 4 62 10 62 23 62 45 62 155 62 170 62 59 62 47 62 18 62-89 62-82 62-137 62-133 62-34 62-96 62 2 62-32 62-32 62-24 62-36 62 1 62 55 62 188"/>
<path d="M0 71l62 3 62-2 62 3 62 1 62 3 62 1 62 3 62 0 62 1 62 6 62 5 62 39 62 53 62 31 62 27 62 1 62-19 62-26 62-46 62-46 62-11 62-23 62-10 62-1 62-20 62 1 62-7 62-3 62 18 62 53"/>
<path d="M0 168l62 8 62-4 62 5 62 6 62 6 62 1 62 6 62 0 62 4 62 20 62 30 62 110 62 129 62 54 62 31 62 5 62-35 62-47 62-107 62-102 62-73 62-25 62-27 62-4 62-30 62-40 62 2 62 8 62 33 62 135"/>
<path d="M0 167l62 7 62-2 62 8 62 9 62 6 62 3 62 7 62 3 62 4 62 18 62 26 62 116 62 135 62 55 62 38 62 12 62-48 62-65 62-112 62-114 62-41 62-38 62 14 62-54 62-15 62-53 62 14 62-7 62 37 62 134"/>
<path d="M0 63l62 1 62-2 62 2 62 2 62 2 62 1 62 2 62 0 62 2 62 6 62 7 62 34 62 47 62 27 62 21 62 9 62-23 62-23 62-41 62-39 62-9 62-16 62-2 62-10 62-12 62-11 62-6 62 1 62 17 62 48"/>
<path d="M0 24l62 1 62-1 62 1 62 0 62 1 62 1 62 1 62 0 62 1 62 2 62 3 62 14 62 19 62 11 62 8 62 0 62-8 62-10 62-14 62-15 62-3 62-8 62-1 62-2 62-6 62-4 62-4 62 3 62 8 62 18"/>
<path d="M0 256l62 10 62-5 62 7 62 9 62 8 62 4 62 4 62 1 62 14 62 30 62 53 62 172 62 175 62 60 62 63 62-4 62-75 62-102 62-152 62-155 62 10 62-105 62 9 62-54 62-50 62-46 62-10 62-17 62 115 62 162"/>
<path d="M0 38l62 1 62-1 62 0 62 1 62 1 62 1 62 2 62 1 62 0 62 4 62 4 62 22 62 31 62 17 62 13 62-2 62-10 62-14 62-24 62-26 62-8 62-10 62-6 62-2 62-11 62-1 62-2 62 1 62 8 62 30"/>
<path d="M0 79l62 3 62-2 62 3 62 3 62 3 62 1 62 3 62 0 62 3 62 8 62 11 62 49 62 59 62 32 62 22 62 4 62-27 62-27 62-52 62-52 62-14 62-33 62 11 62-23 62-16 62-10 62 1 62-3 62 22 62 68"/>
<path d="M0 242l62 8 62-7 62 7 62 8 62 9 62 5 62 11 62 0 62 5 62 26 62 44 62 159 62 167 62 68 62 63 62-3 62-63 62-91 62-151 62-152 62-72 62-49 62 2 62-66 62 3 62-56 62-11 62 8 62 64 62 177"/>
<path d="M0 226l62 12 62-3 62 10 62 13 62 8 62 5 62 7 62 1 62 5 62 28 62 49 62 156 62 168 62 68 62 26 62 13 62-62 62-70 62-148 62-160 62-40 62-81 62 27 62-79 62-29 62-20 62-20 62 18 62 20 62 228"/>
<path d="M0 96l62 2 62-2 62 4 62 2 62 4 62 3 62 3 62 2 62 3 62 13 62 17 62 61 62 73 62 46 62 19 62 3 62-27 62-36 62-60 62-65 62-8 62-20 62-2 62-25 62-28 62-18 62-5 62-8 62 27 62 83"/>
<path d="M0 67l62 3 62-2 62 2 62 3 62 2 62 1 62 3 62 0 62 3 62 5 62 8 62 39 62 50 62 32 62 24 62 1 62-27 62-30 62-40 62-37 62-18 62-11 62-3 62-11 62-15 62-12 62-5 62 0 62 19 62 58"/>
<path d="M0 96l62 3 62-3 62 3 62 2 62 4 62 1 62 4 62-1 62 4 62 10 62 14 62 59 62 74 62 34 62 28 62 5 62-31 62-36 62-61 62-63 62-13 62-30 62-4 62-13 62-21 62-10 62-6 62-2 62 15 62 81"/>
<path d="M0 155l62 8 62-4 62 8 62 7 62 6 62 4 62 9 62 2 62 1 62 17 62 21 62 98 62 112 62 58 62 46 62-7 62-39 62-54 62-104 62-102 62-36 62-44 62 11 62-34 62-14 62-26 62-22 62-6 62 40 62 133"/>
<path d="M0 31l62 1 62-1 62 1 62 1 62 1 62 1 62 1 62 1 62 1 62 3 62 4 62 19 62 26 62 15 62 10 62 2 62-11 62-12 62-20 62-22 62-4 62-9 62-4 62-1 62-12 62-1 62-3 62 1 62 10 62 23"/>
<path d="M0 28l62 2 62-1 62 1 62 1 62 1 62 0 62 1 62 0 62 0 62 3 62 4 62 17 62 22 62 12 62 8 62 0 62-7 62-10 62-18 62-19 62-6 62-7 62 0 62-7 62-5 62-3 62-4 62 1 62 9 62 22"/>
<path d="M0 115l62 5 62-3 62 5 62 5 62 3 62 5 62 4 62 1 62 5 62 12 62 13 62 72 62 89 62 51 62 40 62 5 62-44 62-41 62-74 62-75 62-8 62-11 62-18 62-29 62-33 62-15 62-19 62-2 62 38 62 95"/>
<path d="M0 158l62 4 62-5 62 4 62 5 62 8 62 4 62 6 62 1 62 7 62 15 62 27 62 100 62 118 62 55 62 45 62-3 62-51 62-59 62-94 62-101 62-28 62-47 62-2 62-32 62-13 62-36 62 0 62-2 62 27 62 129"/>
<path d="M0 128l62 7 62-2 62 6 62 6 62 5 62 3 62 4 62 3 62 3 62 14 62 21 62 82 62 102 62 55 62 32 62-1 62-35 62-58 62-73 62-93 62-4 62-58 62 15 62-14 62-58 62-13 62 4 62-18 62 41 62 104"/>
<path d="M0 179l62 8 62-7 62 10 62 3 62 6 62 1 62 8 62 0 62 7 62 18 62 38 62 118 62 138 62 42 62 27 62 5 62-37 62-61 62-103 62-114 62-51 62 10 62-21 62-81 62-24 62-16 62-21 62 16 62 11 62 169"/>
<path d="M0 146l62 7 62-3 62 6 62 4 62 7 62 1 62 4 62 4 62 0 62 15 62 19 62 91 62 108 62 47 62 33 62 1 62-32 62-50 62-83 62-87 62-44 62-37 62-10 62-13 62-22 62-38 62 13 62-9 62 40 62 99"/>
<path d="M0 165l62 6 62-4 62 4 62 6 62 5 62 4 62 5 62 3 62 5 62 18 62 24 62 103 62 124 62 55 62 42 62 13 62-61 62-57 62-110 62-106 62-39 62-32 62 5 62-46 62-19 62-29 62-5 62 13 62 29 62 137"/>
<path d="M0 215l62 9 62-5 62 8 62 6 62 8 62 4 62 8 62 5 62 4 62 22 62 39 62 149 62 157 62 63 62 58 62 2 62-73 62-76 62-139 62-128 62-38 62-63 62 0 62-62 62-35 62-24 62 1 62 16 62 48 62 173"/>
<path d="M0 88l62 4 62-2 62 2 62 3 62 3 62 2 62 5 62 0 62 4 62 9 62 11 62 54 62 70 62 39 62 30 62 0 62-26 62-34 62-52 62-62 62-3 62-26 62 0 62-39 62-21 62-6 62-4 62 0 62 24 62 73"/>
<path d="M0 142l62 7 62-5 62 7 62 5 62 7 62 2 62 5 62 3 62 3 62 14 62 21 62 87 62 100 62 53 62 44 62 10 62-51 62-55 62-90 62-98 62-38 62-22 62-12 62-33 62-18 62-15 62-7 62-4 62 49 62 102"/>
<path d="M0 323l62 13 62-10 62 11 62 10 62 8 62 6 62 7 62 2 62 9 62 30 62 66 62 205 62 204 62 68 62 58 62 12 62-101 62-109 62-184 62-180 62-73 62-5 62-37 62-49 62-71 62-31 62-20 62-31 62 99 62 223"/>
<path d="M0 203l62 7 62-5 62 5 62 8 62 7 62 7 62 9 62 3 62 8 62 22 62 38 62 133 62 150 62 60 62 57 62 1 62-70 62-74 62-121 62-115 62-22 62-70 62 1 62-35 62-50 62-25 62-9 62-6 62 37 62 164"/>
<path d="M0 260l62 6 62-10 62 8 62 7 62 9 62 8 62 11 62 5 62 6 62 27 62 55 62 174 62 190 62 65 62 44 62 2 62-72 62-79 62-171 62-156 62-50 62-80 62-33 62-40 62-14 62-34 62-29 62 3 62 69 62 206"/>
<path d="M0 118l62 3 62-3 62 4 62 5 62 4 62 4 62 6 62 2 62 4 62 14 62 19 62 77 62 93 62 50 62 27 62 7 62-42 62-44 62-81 62-74 62-7 62-39 62-7 62-15 62-28 62-21 62-15 62 7 62 23 62 101"/>
<path d="M0 197l62 7 62-6 62 7 62 5 62 9 62 2 62 8 62-2 62 4 62 20 62 33 62 126 62 129 62 63 62 38 62 11 62-71 62-67 62-111 62-116 62-27 62-70 62 18 62-9 62-70 62-23 62-17 62 18 62 29 62 146"/>
<path class="p" d="M0 329l62 12 62-10 62 11 62 10 62 12 62 8 62 13 62 3 62 11 62 30 62 63 62 205 62 213 62 47 62 70 62-17 62-97 62-78 62-199 62-156 62-72 62-64 62 7 62-62 62-83 62-37 62-17 62 15 62 51 62 249"/>
<path class="o" d="M0 326l62 11 62-10 62 11 62 11 62 11 62 8 62 13 62 3 62 11 62 30 62 62 62 196 62 199 62 105 62 62 62-18 62-70 62-135 62-197 62-154 62-75 62-41 62-15 62-67 62-55 62-49 62-16 62 5 62 56 62 259"/>
<path class="g" d="M0 321l62 11 62-10 62 11 62 10 62 12 62 8 62 12 62 3 62 11 62 29 62 61 62 197 62 197 62 99 62 66 62 31 62-123 62-136 62-161 62-189 62-39 62-51 62-37 62-35 62-69 62-53 62-21 62 3 62 68 62 256"/>
<path class="g" d="M0 280l62 10 62-9 62 9 62 9 62 10 62 7 62 11 62 3 62 9 62 26 62 53 62 230 62 216 62 93 62 119 62 4 62-148 62-139 62-190 62-219 62-48 62-40 62-16 62-42 62-55 62-38 62-10 62 5 62 54 62 191"/>
<path class="b" d="M0 1h1860"/>
</g></g>
<path d="M1730.0 26.3V1142.6" fill="none" stroke="#1c1c1c" stroke-width="2"/>
<text class="t" x="312.8" y="1163.0" text-anchor="end">0</text>
<text class="t" x="313.1" y="814.8" text-anchor="end">0.005</text>
<text class="t" x="310.8" y="466.6" text-anchor="end">0.01</text>
<text class="t" x="313.1" y="118.3" text-anchor="end">0.015</text>
<text class="t" x="333.3" y="1225.0" text-anchor="middle">400</text>
<text class="t" x="799.3" y="1225.0" text-anchor="middle">500</text>
<text class="t" x="1262.7" y="1225.0" text-anchor="middle">600</text>
<text class="t" x="1728.5" y="1225.0" text-anchor="middle">700</text>
<text class="l" x="1033.0" y="1317.3" text-anchor="middle">Wavelength (nm)</text>
<text class="l" style="letter-spacing:0.58px" transform="translate(89.5,583.0) rotate(-90)" text-anchor="middle">Reflectance</text>
</svg></body></html>
